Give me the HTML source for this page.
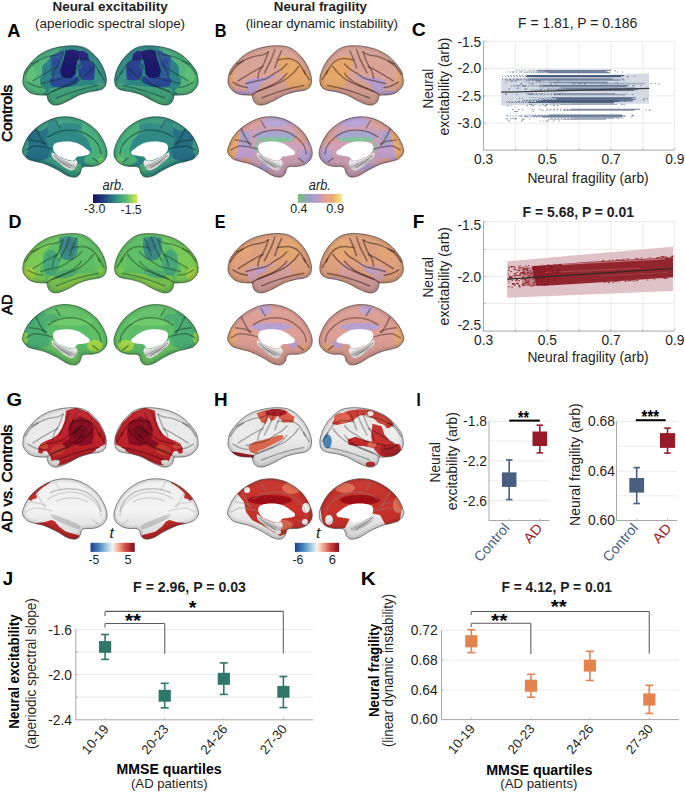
<!DOCTYPE html><html><head><meta charset="utf-8"><style>html,body{margin:0;padding:0;background:#fff;}svg{display:block;font-family:"Liberation Sans",sans-serif;}</style></head><body>
<svg width="685" height="793" viewBox="0 0 685 793">
<rect x="0.00" y="0.00" width="685.00" height="793.00" fill="#ffffff" />
<defs>
<filter id="bl" x="-20%" y="-20%" width="140%" height="140%"><feGaussianBlur stdDeviation="0.6"/></filter>
<filter id="bl2" x="-20%" y="-20%" width="140%" height="140%"><feGaussianBlur stdDeviation="1.6"/></filter>
<filter id="bl3" x="-20%" y="-20%" width="140%" height="140%"><feGaussianBlur stdDeviation="0.45"/></filter>
<linearGradient id="vshade" x1="0" y1="0" x2="0" y2="1"><stop offset="0" stop-color="#fff" stop-opacity="0.06"/><stop offset="0.5" stop-color="#000" stop-opacity="0"/><stop offset="1" stop-color="#000" stop-opacity="0.12"/></linearGradient>
<linearGradient id="hipg" x1="0.8" y1="0" x2="0.3" y2="1"><stop offset="0" stop-color="#ffffff"/><stop offset="0.45" stop-color="#e4e4e4"/><stop offset="0.62" stop-color="#b0b0b0"/><stop offset="0.75" stop-color="#d4d4d4"/><stop offset="1" stop-color="#fafafa"/></linearGradient>
</defs>
<g transform="translate(0.00 0.00)">
<clipPath id="cp1"><path d="M22.90,80.10 C23.08,78.15 23.47,74.77 24.30,72.50 C25.13,70.23 26.37,68.58 27.90,66.50 C29.43,64.42 31.40,62.05 33.50,60.00 C35.60,57.95 37.72,55.97 40.50,54.20 C43.28,52.43 46.38,50.72 50.20,49.40 C54.02,48.08 59.23,46.90 63.40,46.30 C67.57,45.70 71.48,45.48 75.20,45.80 C78.92,46.12 82.42,46.58 85.70,48.20 C88.98,49.82 92.27,52.78 94.90,55.50 C97.53,58.22 99.75,61.42 101.50,64.50 C103.25,67.58 104.60,71.18 105.40,74.00 C106.20,76.82 106.48,79.18 106.30,81.40 C106.12,83.62 105.55,85.82 104.30,87.30 C103.05,88.78 101.25,89.55 98.80,90.30 C96.35,91.05 92.88,91.02 89.60,91.80 C86.32,92.58 82.38,93.63 79.10,95.00 C75.82,96.37 73.00,98.47 69.90,100.00 C66.80,101.53 63.12,103.37 60.50,104.20 C57.88,105.03 56.02,105.27 54.20,105.00 C52.38,104.73 50.70,103.67 49.60,102.60 C48.50,101.53 48.07,99.80 47.60,98.60 C47.13,97.40 47.65,95.98 46.80,95.40 C45.95,94.82 44.38,95.25 42.50,95.10 C40.62,94.95 37.62,94.95 35.50,94.50 C33.38,94.05 31.48,93.42 29.80,92.40 C28.12,91.38 26.50,89.77 25.40,88.40 C24.30,87.03 23.62,85.58 23.20,84.20 C22.78,82.82 22.72,82.05 22.90,80.10 Z"/></clipPath>
<g clip-path="url(#cp1)">
<path d="M22.90,80.10 C23.08,78.15 23.47,74.77 24.30,72.50 C25.13,70.23 26.37,68.58 27.90,66.50 C29.43,64.42 31.40,62.05 33.50,60.00 C35.60,57.95 37.72,55.97 40.50,54.20 C43.28,52.43 46.38,50.72 50.20,49.40 C54.02,48.08 59.23,46.90 63.40,46.30 C67.57,45.70 71.48,45.48 75.20,45.80 C78.92,46.12 82.42,46.58 85.70,48.20 C88.98,49.82 92.27,52.78 94.90,55.50 C97.53,58.22 99.75,61.42 101.50,64.50 C103.25,67.58 104.60,71.18 105.40,74.00 C106.20,76.82 106.48,79.18 106.30,81.40 C106.12,83.62 105.55,85.82 104.30,87.30 C103.05,88.78 101.25,89.55 98.80,90.30 C96.35,91.05 92.88,91.02 89.60,91.80 C86.32,92.58 82.38,93.63 79.10,95.00 C75.82,96.37 73.00,98.47 69.90,100.00 C66.80,101.53 63.12,103.37 60.50,104.20 C57.88,105.03 56.02,105.27 54.20,105.00 C52.38,104.73 50.70,103.67 49.60,102.60 C48.50,101.53 48.07,99.80 47.60,98.60 C47.13,97.40 47.65,95.98 46.80,95.40 C45.95,94.82 44.38,95.25 42.50,95.10 C40.62,94.95 37.62,94.95 35.50,94.50 C33.38,94.05 31.48,93.42 29.80,92.40 C28.12,91.38 26.50,89.77 25.40,88.40 C24.30,87.03 23.62,85.58 23.20,84.20 C22.78,82.82 22.72,82.05 22.90,80.10 Z" fill="#2e8985"/>
<g filter="url(#bl)">
<polygon points="21.9,80.1 24.3,70.9 29.5,63 37.4,55.5 50.2,49.5 59.4,46.9 58.1,52.5 51.5,56.5 46.3,61.7 42.3,67 43.7,73.5 39.7,78.8 41,85.4 46.3,90.6 41,96.5 27.9,94" fill="#55b87b" opacity="1"/>
<polygon points="37,55 50,49 60,46.5 62,49 56,52 50,55 44,59 38,62" fill="#4aad7d" opacity="1"/>
<polygon points="50.2,56 56,53 62,50.5 65,50.5 63,58 61,66 60.4,72 61,76 55,78 51,76 50.5,66" fill="#2d5c96" opacity="1"/>
<polygon points="79.5,60 84,61 89,60 94,64 97,72 96,79 90,80.5 83,80 79,76 78,70 80.5,66" fill="#2a4394" opacity="1"/>
<polygon points="50,78 55,78 61,76.5 66,78.5 72,78 76,76 79,78 78,83 70,86.5 60,87.5 52,86.5 49.5,82" fill="#2b4b9a" opacity="1"/>
<polygon points="79,80 90,80.5 96,80 98,85 90,86 80,87 77,84" fill="#2f8a88" opacity="1"/>
<polygon points="65.5,50.5 72,49.5 78.8,51 79.5,57 77,62 76,68 75.8,74 72,77.8 66,78.5 61,76 60.4,70 62,64 64,58" fill="#1d1672" opacity="1"/>
<polygon points="78.8,51 84,51 88,54 89,60 84,61 79.5,60" fill="#24217f" opacity="1"/>
<ellipse cx="79.5" cy="65.5" rx="2.8" ry="3.2" fill="#2c6a8a" transform="rotate(0 79.5 65.5)" opacity="1"/>
<polygon points="50,88 60,87.5 70,87 80,86 90,85 98,86 96,90 86,92 78,95 70,99 62,103 55,106.5 48,103 46.5,97 47,93" fill="#44a880" opacity="1"/>
<ellipse cx="62" cy="100" rx="10" ry="3" fill="#50b47c" transform="rotate(-25 62 100)" opacity="1"/>
<polygon points="94,56 100,61 108,75 108,90 98,90 94,82 95,68" fill="#379687" opacity="1"/>
<ellipse cx="101" cy="86" rx="5" ry="3" fill="#4caa7e" transform="rotate(0 101 86)" opacity="1"/>
<ellipse cx="31" cy="75" rx="5" ry="9" fill="#60c07a" transform="rotate(0 31 75)" opacity="1"/>
<ellipse cx="46" cy="72" rx="4" ry="9" fill="#2e8088" transform="rotate(0 46 72)" opacity="1"/>
<ellipse cx="56" cy="62" rx="3" ry="4" fill="#2a4a9a" transform="rotate(0 56 62)" opacity="1"/>
<ellipse cx="90" cy="72" rx="3" ry="4" fill="#2a3c8e" transform="rotate(0 90 72)" opacity="1"/>
</g>
<path d="M31.60,63.90 C34.02,62.80 41.72,58.83 46.10,57.30 C50.48,55.77 55.05,55.58 57.90,54.70 C60.75,53.82 62.32,52.45 63.20,52.00 " fill="none" stroke="#0e2e2a" stroke-width="1.5" opacity="0.38" stroke-linecap="round" filter="url(#bl3)"/>
<path d="M33.00,80.90 C34.75,79.82 40.23,76.37 43.50,74.40 C46.77,72.43 50.20,70.42 52.60,69.10 C55.00,67.78 57.02,66.93 57.90,66.50 " fill="none" stroke="#0e2e2a" stroke-width="1.5" opacity="0.38" stroke-linecap="round" filter="url(#bl3)"/>
<path d="M63.20,52.00 C62.53,53.75 60.73,59.22 59.20,62.50 C57.67,65.78 55.10,69.07 54.00,71.70 C52.90,74.33 52.83,77.20 52.60,78.30 " fill="none" stroke="#0e2e2a" stroke-width="1.5" opacity="0.38" stroke-linecap="round" filter="url(#bl3)"/>
<path d="M69.70,49.40 C69.05,51.15 67.12,56.83 65.80,59.90 C64.48,62.97 62.90,65.62 61.80,67.80 C60.70,69.98 59.63,72.13 59.20,73.00 " fill="none" stroke="#0e2e2a" stroke-width="1.5" opacity="0.38" stroke-linecap="round" filter="url(#bl3)"/>
<path d="M76.30,50.70 C75.65,52.23 73.50,57.05 72.40,59.90 C71.30,62.75 70.15,66.48 69.70,67.80 " fill="none" stroke="#0e2e2a" stroke-width="1.5" opacity="0.38" stroke-linecap="round" filter="url(#bl3)"/>
<path d="M40.80,83.60 C42.55,83.17 47.80,81.88 51.30,81.00 C54.80,80.12 58.73,79.63 61.80,78.30 C64.87,76.97 67.28,74.53 69.70,73.00 C72.12,71.47 74.32,70.62 76.30,69.10 C78.28,67.58 80.72,64.77 81.60,63.90 " fill="none" stroke="#0e2e2a" stroke-width="1.5" opacity="0.38" stroke-linecap="round" filter="url(#bl3)"/>
<path d="M52.60,91.40 C54.80,90.53 61.42,88.05 65.80,86.20 C70.18,84.35 75.18,82.50 78.90,80.30 C82.62,78.10 85.68,75.30 88.10,73.00 C90.52,70.70 92.52,67.58 93.40,66.50 " fill="none" stroke="#0e2e2a" stroke-width="1.5" opacity="0.38" stroke-linecap="round" filter="url(#bl3)"/>
<path d="M47.00,94.80 C47.83,94.25 49.97,92.57 52.00,91.50 C54.03,90.43 56.87,89.40 59.20,88.40 C61.53,87.40 63.80,86.57 66.00,85.50 C68.20,84.43 70.40,83.33 72.40,82.00 C74.40,80.67 76.47,78.93 78.00,77.50 C79.53,76.07 81.00,74.08 81.60,73.40 " fill="none" stroke="#0e2e2a" stroke-width="1.5" opacity="0.38" stroke-linecap="round" filter="url(#bl3)"/>
<path d="M72.40,59.90 C74.15,59.68 79.83,58.38 82.90,58.60 C85.97,58.82 88.62,59.88 90.80,61.20 C92.98,62.52 94.47,64.30 96.00,66.50 C97.53,68.70 99.33,73.08 100.00,74.40 " fill="none" stroke="#0e2e2a" stroke-width="1.5" opacity="0.38" stroke-linecap="round" filter="url(#bl3)"/>
<path d="M56.60,98.00 C59.23,97.02 67.58,93.73 72.40,92.10 C77.22,90.47 81.13,89.30 85.50,88.20 C89.87,87.10 96.42,85.95 98.60,85.50 " fill="none" stroke="#0e2e2a" stroke-width="1.5" opacity="0.38" stroke-linecap="round" filter="url(#bl3)"/>
<path d="M98.60,70.40 C99.48,71.93 103.02,78.07 103.90,79.60 " fill="none" stroke="#0e2e2a" stroke-width="1.5" opacity="0.38" stroke-linecap="round" filter="url(#bl3)"/>
<path d="M25.00,74.40 C25.88,73.08 28.10,68.70 30.30,66.50 C32.50,64.30 36.88,62.08 38.20,61.20 " fill="none" stroke="#0e2e2a" stroke-width="1.5" opacity="0.38" stroke-linecap="round" filter="url(#bl3)"/>
<path d="M27.70,82.20 C29.02,82.87 33.20,85.32 35.60,86.20 C38.00,87.08 41.02,87.28 42.10,87.50 " fill="none" stroke="#0e2e2a" stroke-width="1.5" opacity="0.38" stroke-linecap="round" filter="url(#bl3)"/>
<path d="M22.90,80.10 C23.08,78.15 23.47,74.77 24.30,72.50 C25.13,70.23 26.37,68.58 27.90,66.50 C29.43,64.42 31.40,62.05 33.50,60.00 C35.60,57.95 37.72,55.97 40.50,54.20 C43.28,52.43 46.38,50.72 50.20,49.40 C54.02,48.08 59.23,46.90 63.40,46.30 C67.57,45.70 71.48,45.48 75.20,45.80 C78.92,46.12 82.42,46.58 85.70,48.20 C88.98,49.82 92.27,52.78 94.90,55.50 C97.53,58.22 99.75,61.42 101.50,64.50 C103.25,67.58 104.60,71.18 105.40,74.00 C106.20,76.82 106.48,79.18 106.30,81.40 C106.12,83.62 105.55,85.82 104.30,87.30 C103.05,88.78 101.25,89.55 98.80,90.30 C96.35,91.05 92.88,91.02 89.60,91.80 C86.32,92.58 82.38,93.63 79.10,95.00 C75.82,96.37 73.00,98.47 69.90,100.00 C66.80,101.53 63.12,103.37 60.50,104.20 C57.88,105.03 56.02,105.27 54.20,105.00 C52.38,104.73 50.70,103.67 49.60,102.60 C48.50,101.53 48.07,99.80 47.60,98.60 C47.13,97.40 47.65,95.98 46.80,95.40 C45.95,94.82 44.38,95.25 42.50,95.10 C40.62,94.95 37.62,94.95 35.50,94.50 C33.38,94.05 31.48,93.42 29.80,92.40 C28.12,91.38 26.50,89.77 25.40,88.40 C24.30,87.03 23.62,85.58 23.20,84.20 C22.78,82.82 22.72,82.05 22.90,80.10 Z" fill="url(#vshade)"/>
<path d="M22.90,80.10 C23.08,78.15 23.47,74.77 24.30,72.50 C25.13,70.23 26.37,68.58 27.90,66.50 C29.43,64.42 31.40,62.05 33.50,60.00 C35.60,57.95 37.72,55.97 40.50,54.20 C43.28,52.43 46.38,50.72 50.20,49.40 C54.02,48.08 59.23,46.90 63.40,46.30 C67.57,45.70 71.48,45.48 75.20,45.80 C78.92,46.12 82.42,46.58 85.70,48.20 C88.98,49.82 92.27,52.78 94.90,55.50 C97.53,58.22 99.75,61.42 101.50,64.50 C103.25,67.58 104.60,71.18 105.40,74.00 C106.20,76.82 106.48,79.18 106.30,81.40 C106.12,83.62 105.55,85.82 104.30,87.30 C103.05,88.78 101.25,89.55 98.80,90.30 C96.35,91.05 92.88,91.02 89.60,91.80 C86.32,92.58 82.38,93.63 79.10,95.00 C75.82,96.37 73.00,98.47 69.90,100.00 C66.80,101.53 63.12,103.37 60.50,104.20 C57.88,105.03 56.02,105.27 54.20,105.00 C52.38,104.73 50.70,103.67 49.60,102.60 C48.50,101.53 48.07,99.80 47.60,98.60 C47.13,97.40 47.65,95.98 46.80,95.40 C45.95,94.82 44.38,95.25 42.50,95.10 C40.62,94.95 37.62,94.95 35.50,94.50 C33.38,94.05 31.48,93.42 29.80,92.40 C28.12,91.38 26.50,89.77 25.40,88.40 C24.30,87.03 23.62,85.58 23.20,84.20 C22.78,82.82 22.72,82.05 22.90,80.10 Z" fill="none" stroke="#000" stroke-width="4" opacity="0.140" filter="url(#bl2)"/>
</g>
<path d="M22.90,80.10 C23.08,78.15 23.47,74.77 24.30,72.50 C25.13,70.23 26.37,68.58 27.90,66.50 C29.43,64.42 31.40,62.05 33.50,60.00 C35.60,57.95 37.72,55.97 40.50,54.20 C43.28,52.43 46.38,50.72 50.20,49.40 C54.02,48.08 59.23,46.90 63.40,46.30 C67.57,45.70 71.48,45.48 75.20,45.80 C78.92,46.12 82.42,46.58 85.70,48.20 C88.98,49.82 92.27,52.78 94.90,55.50 C97.53,58.22 99.75,61.42 101.50,64.50 C103.25,67.58 104.60,71.18 105.40,74.00 C106.20,76.82 106.48,79.18 106.30,81.40 C106.12,83.62 105.55,85.82 104.30,87.30 C103.05,88.78 101.25,89.55 98.80,90.30 C96.35,91.05 92.88,91.02 89.60,91.80 C86.32,92.58 82.38,93.63 79.10,95.00 C75.82,96.37 73.00,98.47 69.90,100.00 C66.80,101.53 63.12,103.37 60.50,104.20 C57.88,105.03 56.02,105.27 54.20,105.00 C52.38,104.73 50.70,103.67 49.60,102.60 C48.50,101.53 48.07,99.80 47.60,98.60 C47.13,97.40 47.65,95.98 46.80,95.40 C45.95,94.82 44.38,95.25 42.50,95.10 C40.62,94.95 37.62,94.95 35.50,94.50 C33.38,94.05 31.48,93.42 29.80,92.40 C28.12,91.38 26.50,89.77 25.40,88.40 C24.30,87.03 23.62,85.58 23.20,84.20 C22.78,82.82 22.72,82.05 22.90,80.10 Z" fill="none" stroke="#173f3a" stroke-width="0.8" opacity="0.85"/>
</g>
<g transform="translate(221.00 0.00) scale(-1 1)">
<clipPath id="cp2"><path d="M22.90,80.10 C23.08,78.15 23.47,74.77 24.30,72.50 C25.13,70.23 26.37,68.58 27.90,66.50 C29.43,64.42 31.40,62.05 33.50,60.00 C35.60,57.95 37.72,55.97 40.50,54.20 C43.28,52.43 46.38,50.72 50.20,49.40 C54.02,48.08 59.23,46.90 63.40,46.30 C67.57,45.70 71.48,45.48 75.20,45.80 C78.92,46.12 82.42,46.58 85.70,48.20 C88.98,49.82 92.27,52.78 94.90,55.50 C97.53,58.22 99.75,61.42 101.50,64.50 C103.25,67.58 104.60,71.18 105.40,74.00 C106.20,76.82 106.48,79.18 106.30,81.40 C106.12,83.62 105.55,85.82 104.30,87.30 C103.05,88.78 101.25,89.55 98.80,90.30 C96.35,91.05 92.88,91.02 89.60,91.80 C86.32,92.58 82.38,93.63 79.10,95.00 C75.82,96.37 73.00,98.47 69.90,100.00 C66.80,101.53 63.12,103.37 60.50,104.20 C57.88,105.03 56.02,105.27 54.20,105.00 C52.38,104.73 50.70,103.67 49.60,102.60 C48.50,101.53 48.07,99.80 47.60,98.60 C47.13,97.40 47.65,95.98 46.80,95.40 C45.95,94.82 44.38,95.25 42.50,95.10 C40.62,94.95 37.62,94.95 35.50,94.50 C33.38,94.05 31.48,93.42 29.80,92.40 C28.12,91.38 26.50,89.77 25.40,88.40 C24.30,87.03 23.62,85.58 23.20,84.20 C22.78,82.82 22.72,82.05 22.90,80.10 Z"/></clipPath>
<g clip-path="url(#cp2)">
<path d="M22.90,80.10 C23.08,78.15 23.47,74.77 24.30,72.50 C25.13,70.23 26.37,68.58 27.90,66.50 C29.43,64.42 31.40,62.05 33.50,60.00 C35.60,57.95 37.72,55.97 40.50,54.20 C43.28,52.43 46.38,50.72 50.20,49.40 C54.02,48.08 59.23,46.90 63.40,46.30 C67.57,45.70 71.48,45.48 75.20,45.80 C78.92,46.12 82.42,46.58 85.70,48.20 C88.98,49.82 92.27,52.78 94.90,55.50 C97.53,58.22 99.75,61.42 101.50,64.50 C103.25,67.58 104.60,71.18 105.40,74.00 C106.20,76.82 106.48,79.18 106.30,81.40 C106.12,83.62 105.55,85.82 104.30,87.30 C103.05,88.78 101.25,89.55 98.80,90.30 C96.35,91.05 92.88,91.02 89.60,91.80 C86.32,92.58 82.38,93.63 79.10,95.00 C75.82,96.37 73.00,98.47 69.90,100.00 C66.80,101.53 63.12,103.37 60.50,104.20 C57.88,105.03 56.02,105.27 54.20,105.00 C52.38,104.73 50.70,103.67 49.60,102.60 C48.50,101.53 48.07,99.80 47.60,98.60 C47.13,97.40 47.65,95.98 46.80,95.40 C45.95,94.82 44.38,95.25 42.50,95.10 C40.62,94.95 37.62,94.95 35.50,94.50 C33.38,94.05 31.48,93.42 29.80,92.40 C28.12,91.38 26.50,89.77 25.40,88.40 C24.30,87.03 23.62,85.58 23.20,84.20 C22.78,82.82 22.72,82.05 22.90,80.10 Z" fill="#2e8985"/>
<g filter="url(#bl)">
<polygon points="21.9,80.1 24.3,70.9 29.5,63 37.4,55.5 50.2,49.5 59.4,46.9 58.1,52.5 51.5,56.5 46.3,61.7 42.3,67 43.7,73.5 39.7,78.8 41,85.4 46.3,90.6 41,96.5 27.9,94" fill="#55b87b" opacity="1"/>
<polygon points="37,55 50,49 60,46.5 62,49 56,52 50,55 44,59 38,62" fill="#4aad7d" opacity="1"/>
<polygon points="50.2,56 56,53 62,50.5 65,50.5 63,58 61,66 60.4,72 61,76 55,78 51,76 50.5,66" fill="#2d5c96" opacity="1"/>
<polygon points="79.5,60 84,61 89,60 94,64 97,72 96,79 90,80.5 83,80 79,76 78,70 80.5,66" fill="#2a4394" opacity="1"/>
<polygon points="50,78 55,78 61,76.5 66,78.5 72,78 76,76 79,78 78,83 70,86.5 60,87.5 52,86.5 49.5,82" fill="#2b4b9a" opacity="1"/>
<polygon points="79,80 90,80.5 96,80 98,85 90,86 80,87 77,84" fill="#2f8a88" opacity="1"/>
<polygon points="65.5,50.5 72,49.5 78.8,51 79.5,57 77,62 76,68 75.8,74 72,77.8 66,78.5 61,76 60.4,70 62,64 64,58" fill="#1d1672" opacity="1"/>
<polygon points="78.8,51 84,51 88,54 89,60 84,61 79.5,60" fill="#24217f" opacity="1"/>
<ellipse cx="79.5" cy="65.5" rx="2.8" ry="3.2" fill="#2c6a8a" transform="rotate(0 79.5 65.5)" opacity="1"/>
<polygon points="50,88 60,87.5 70,87 80,86 90,85 98,86 96,90 86,92 78,95 70,99 62,103 55,106.5 48,103 46.5,97 47,93" fill="#44a880" opacity="1"/>
<ellipse cx="62" cy="100" rx="10" ry="3" fill="#50b47c" transform="rotate(-25 62 100)" opacity="1"/>
<polygon points="94,56 100,61 108,75 108,90 98,90 94,82 95,68" fill="#379687" opacity="1"/>
<ellipse cx="101" cy="86" rx="5" ry="3" fill="#4caa7e" transform="rotate(0 101 86)" opacity="1"/>
<ellipse cx="31" cy="75" rx="5" ry="9" fill="#60c07a" transform="rotate(0 31 75)" opacity="1"/>
<ellipse cx="46" cy="72" rx="4" ry="9" fill="#2e8088" transform="rotate(0 46 72)" opacity="1"/>
<ellipse cx="56" cy="62" rx="3" ry="4" fill="#2a4a9a" transform="rotate(0 56 62)" opacity="1"/>
<ellipse cx="90" cy="72" rx="3" ry="4" fill="#2a3c8e" transform="rotate(0 90 72)" opacity="1"/>
</g>
<path d="M31.60,63.90 C34.02,62.80 41.72,58.83 46.10,57.30 C50.48,55.77 55.05,55.58 57.90,54.70 C60.75,53.82 62.32,52.45 63.20,52.00 " fill="none" stroke="#0e2e2a" stroke-width="1.5" opacity="0.38" stroke-linecap="round" filter="url(#bl3)"/>
<path d="M33.00,80.90 C34.75,79.82 40.23,76.37 43.50,74.40 C46.77,72.43 50.20,70.42 52.60,69.10 C55.00,67.78 57.02,66.93 57.90,66.50 " fill="none" stroke="#0e2e2a" stroke-width="1.5" opacity="0.38" stroke-linecap="round" filter="url(#bl3)"/>
<path d="M63.20,52.00 C62.53,53.75 60.73,59.22 59.20,62.50 C57.67,65.78 55.10,69.07 54.00,71.70 C52.90,74.33 52.83,77.20 52.60,78.30 " fill="none" stroke="#0e2e2a" stroke-width="1.5" opacity="0.38" stroke-linecap="round" filter="url(#bl3)"/>
<path d="M69.70,49.40 C69.05,51.15 67.12,56.83 65.80,59.90 C64.48,62.97 62.90,65.62 61.80,67.80 C60.70,69.98 59.63,72.13 59.20,73.00 " fill="none" stroke="#0e2e2a" stroke-width="1.5" opacity="0.38" stroke-linecap="round" filter="url(#bl3)"/>
<path d="M76.30,50.70 C75.65,52.23 73.50,57.05 72.40,59.90 C71.30,62.75 70.15,66.48 69.70,67.80 " fill="none" stroke="#0e2e2a" stroke-width="1.5" opacity="0.38" stroke-linecap="round" filter="url(#bl3)"/>
<path d="M40.80,83.60 C42.55,83.17 47.80,81.88 51.30,81.00 C54.80,80.12 58.73,79.63 61.80,78.30 C64.87,76.97 67.28,74.53 69.70,73.00 C72.12,71.47 74.32,70.62 76.30,69.10 C78.28,67.58 80.72,64.77 81.60,63.90 " fill="none" stroke="#0e2e2a" stroke-width="1.5" opacity="0.38" stroke-linecap="round" filter="url(#bl3)"/>
<path d="M52.60,91.40 C54.80,90.53 61.42,88.05 65.80,86.20 C70.18,84.35 75.18,82.50 78.90,80.30 C82.62,78.10 85.68,75.30 88.10,73.00 C90.52,70.70 92.52,67.58 93.40,66.50 " fill="none" stroke="#0e2e2a" stroke-width="1.5" opacity="0.38" stroke-linecap="round" filter="url(#bl3)"/>
<path d="M47.00,94.80 C47.83,94.25 49.97,92.57 52.00,91.50 C54.03,90.43 56.87,89.40 59.20,88.40 C61.53,87.40 63.80,86.57 66.00,85.50 C68.20,84.43 70.40,83.33 72.40,82.00 C74.40,80.67 76.47,78.93 78.00,77.50 C79.53,76.07 81.00,74.08 81.60,73.40 " fill="none" stroke="#0e2e2a" stroke-width="1.5" opacity="0.38" stroke-linecap="round" filter="url(#bl3)"/>
<path d="M72.40,59.90 C74.15,59.68 79.83,58.38 82.90,58.60 C85.97,58.82 88.62,59.88 90.80,61.20 C92.98,62.52 94.47,64.30 96.00,66.50 C97.53,68.70 99.33,73.08 100.00,74.40 " fill="none" stroke="#0e2e2a" stroke-width="1.5" opacity="0.38" stroke-linecap="round" filter="url(#bl3)"/>
<path d="M56.60,98.00 C59.23,97.02 67.58,93.73 72.40,92.10 C77.22,90.47 81.13,89.30 85.50,88.20 C89.87,87.10 96.42,85.95 98.60,85.50 " fill="none" stroke="#0e2e2a" stroke-width="1.5" opacity="0.38" stroke-linecap="round" filter="url(#bl3)"/>
<path d="M98.60,70.40 C99.48,71.93 103.02,78.07 103.90,79.60 " fill="none" stroke="#0e2e2a" stroke-width="1.5" opacity="0.38" stroke-linecap="round" filter="url(#bl3)"/>
<path d="M25.00,74.40 C25.88,73.08 28.10,68.70 30.30,66.50 C32.50,64.30 36.88,62.08 38.20,61.20 " fill="none" stroke="#0e2e2a" stroke-width="1.5" opacity="0.38" stroke-linecap="round" filter="url(#bl3)"/>
<path d="M27.70,82.20 C29.02,82.87 33.20,85.32 35.60,86.20 C38.00,87.08 41.02,87.28 42.10,87.50 " fill="none" stroke="#0e2e2a" stroke-width="1.5" opacity="0.38" stroke-linecap="round" filter="url(#bl3)"/>
<path d="M22.90,80.10 C23.08,78.15 23.47,74.77 24.30,72.50 C25.13,70.23 26.37,68.58 27.90,66.50 C29.43,64.42 31.40,62.05 33.50,60.00 C35.60,57.95 37.72,55.97 40.50,54.20 C43.28,52.43 46.38,50.72 50.20,49.40 C54.02,48.08 59.23,46.90 63.40,46.30 C67.57,45.70 71.48,45.48 75.20,45.80 C78.92,46.12 82.42,46.58 85.70,48.20 C88.98,49.82 92.27,52.78 94.90,55.50 C97.53,58.22 99.75,61.42 101.50,64.50 C103.25,67.58 104.60,71.18 105.40,74.00 C106.20,76.82 106.48,79.18 106.30,81.40 C106.12,83.62 105.55,85.82 104.30,87.30 C103.05,88.78 101.25,89.55 98.80,90.30 C96.35,91.05 92.88,91.02 89.60,91.80 C86.32,92.58 82.38,93.63 79.10,95.00 C75.82,96.37 73.00,98.47 69.90,100.00 C66.80,101.53 63.12,103.37 60.50,104.20 C57.88,105.03 56.02,105.27 54.20,105.00 C52.38,104.73 50.70,103.67 49.60,102.60 C48.50,101.53 48.07,99.80 47.60,98.60 C47.13,97.40 47.65,95.98 46.80,95.40 C45.95,94.82 44.38,95.25 42.50,95.10 C40.62,94.95 37.62,94.95 35.50,94.50 C33.38,94.05 31.48,93.42 29.80,92.40 C28.12,91.38 26.50,89.77 25.40,88.40 C24.30,87.03 23.62,85.58 23.20,84.20 C22.78,82.82 22.72,82.05 22.90,80.10 Z" fill="url(#vshade)"/>
<path d="M22.90,80.10 C23.08,78.15 23.47,74.77 24.30,72.50 C25.13,70.23 26.37,68.58 27.90,66.50 C29.43,64.42 31.40,62.05 33.50,60.00 C35.60,57.95 37.72,55.97 40.50,54.20 C43.28,52.43 46.38,50.72 50.20,49.40 C54.02,48.08 59.23,46.90 63.40,46.30 C67.57,45.70 71.48,45.48 75.20,45.80 C78.92,46.12 82.42,46.58 85.70,48.20 C88.98,49.82 92.27,52.78 94.90,55.50 C97.53,58.22 99.75,61.42 101.50,64.50 C103.25,67.58 104.60,71.18 105.40,74.00 C106.20,76.82 106.48,79.18 106.30,81.40 C106.12,83.62 105.55,85.82 104.30,87.30 C103.05,88.78 101.25,89.55 98.80,90.30 C96.35,91.05 92.88,91.02 89.60,91.80 C86.32,92.58 82.38,93.63 79.10,95.00 C75.82,96.37 73.00,98.47 69.90,100.00 C66.80,101.53 63.12,103.37 60.50,104.20 C57.88,105.03 56.02,105.27 54.20,105.00 C52.38,104.73 50.70,103.67 49.60,102.60 C48.50,101.53 48.07,99.80 47.60,98.60 C47.13,97.40 47.65,95.98 46.80,95.40 C45.95,94.82 44.38,95.25 42.50,95.10 C40.62,94.95 37.62,94.95 35.50,94.50 C33.38,94.05 31.48,93.42 29.80,92.40 C28.12,91.38 26.50,89.77 25.40,88.40 C24.30,87.03 23.62,85.58 23.20,84.20 C22.78,82.82 22.72,82.05 22.90,80.10 Z" fill="none" stroke="#000" stroke-width="4" opacity="0.140" filter="url(#bl2)"/>
</g>
<path d="M22.90,80.10 C23.08,78.15 23.47,74.77 24.30,72.50 C25.13,70.23 26.37,68.58 27.90,66.50 C29.43,64.42 31.40,62.05 33.50,60.00 C35.60,57.95 37.72,55.97 40.50,54.20 C43.28,52.43 46.38,50.72 50.20,49.40 C54.02,48.08 59.23,46.90 63.40,46.30 C67.57,45.70 71.48,45.48 75.20,45.80 C78.92,46.12 82.42,46.58 85.70,48.20 C88.98,49.82 92.27,52.78 94.90,55.50 C97.53,58.22 99.75,61.42 101.50,64.50 C103.25,67.58 104.60,71.18 105.40,74.00 C106.20,76.82 106.48,79.18 106.30,81.40 C106.12,83.62 105.55,85.82 104.30,87.30 C103.05,88.78 101.25,89.55 98.80,90.30 C96.35,91.05 92.88,91.02 89.60,91.80 C86.32,92.58 82.38,93.63 79.10,95.00 C75.82,96.37 73.00,98.47 69.90,100.00 C66.80,101.53 63.12,103.37 60.50,104.20 C57.88,105.03 56.02,105.27 54.20,105.00 C52.38,104.73 50.70,103.67 49.60,102.60 C48.50,101.53 48.07,99.80 47.60,98.60 C47.13,97.40 47.65,95.98 46.80,95.40 C45.95,94.82 44.38,95.25 42.50,95.10 C40.62,94.95 37.62,94.95 35.50,94.50 C33.38,94.05 31.48,93.42 29.80,92.40 C28.12,91.38 26.50,89.77 25.40,88.40 C24.30,87.03 23.62,85.58 23.20,84.20 C22.78,82.82 22.72,82.05 22.90,80.10 Z" fill="none" stroke="#173f3a" stroke-width="0.8" opacity="0.85"/>
</g>
<g transform="translate(0.00 0.00)">
<clipPath id="cp3"><path d="M22.60,152.30 C22.02,150.12 22.98,147.92 23.80,145.50 C24.62,143.08 25.88,140.30 27.50,137.80 C29.12,135.30 30.85,132.95 33.50,130.50 C36.15,128.05 39.57,125.25 43.40,123.10 C47.23,120.95 51.88,118.58 56.50,117.60 C61.12,116.62 66.48,116.55 71.10,117.20 C75.72,117.85 80.07,119.37 84.20,121.50 C88.33,123.63 92.73,126.83 95.90,130.00 C99.07,133.17 101.37,137.02 103.20,140.50 C105.03,143.98 106.45,147.95 106.90,150.90 C107.35,153.85 106.95,156.05 105.90,158.20 C104.85,160.35 102.72,162.45 100.60,163.80 C98.48,165.15 95.77,165.85 93.20,166.30 C90.63,166.75 87.15,166.13 85.20,166.50 C83.25,166.87 82.37,167.33 81.50,168.50 C80.63,169.67 80.83,172.12 80.00,173.50 C79.17,174.88 78.00,176.25 76.50,176.80 C75.00,177.35 72.92,177.20 71.00,176.80 C69.08,176.40 67.33,175.62 65.00,174.40 C62.67,173.18 60.33,171.25 57.00,169.50 C53.67,167.75 48.73,165.28 45.00,163.90 C41.27,162.52 37.55,162.08 34.60,161.20 C31.65,160.32 29.30,160.08 27.30,158.60 C25.30,157.12 23.18,154.48 22.60,152.30 Z"/></clipPath>
<g clip-path="url(#cp3)">
<path d="M22.60,152.30 C22.02,150.12 22.98,147.92 23.80,145.50 C24.62,143.08 25.88,140.30 27.50,137.80 C29.12,135.30 30.85,132.95 33.50,130.50 C36.15,128.05 39.57,125.25 43.40,123.10 C47.23,120.95 51.88,118.58 56.50,117.60 C61.12,116.62 66.48,116.55 71.10,117.20 C75.72,117.85 80.07,119.37 84.20,121.50 C88.33,123.63 92.73,126.83 95.90,130.00 C99.07,133.17 101.37,137.02 103.20,140.50 C105.03,143.98 106.45,147.95 106.90,150.90 C107.35,153.85 106.95,156.05 105.90,158.20 C104.85,160.35 102.72,162.45 100.60,163.80 C98.48,165.15 95.77,165.85 93.20,166.30 C90.63,166.75 87.15,166.13 85.20,166.50 C83.25,166.87 82.37,167.33 81.50,168.50 C80.63,169.67 80.83,172.12 80.00,173.50 C79.17,174.88 78.00,176.25 76.50,176.80 C75.00,177.35 72.92,177.20 71.00,176.80 C69.08,176.40 67.33,175.62 65.00,174.40 C62.67,173.18 60.33,171.25 57.00,169.50 C53.67,167.75 48.73,165.28 45.00,163.90 C41.27,162.52 37.55,162.08 34.60,161.20 C31.65,160.32 29.30,160.08 27.30,158.60 C25.30,157.12 23.18,154.48 22.60,152.30 Z" fill="#2f8a87"/>
<g filter="url(#bl)">
<polygon points="56.5,116.6 71.1,116.2 84.2,120.5 95.9,129 103.2,139.5 107.9,150.9 106.9,158.2 100.6,164.8 91.5,167.3 88,160 92,150 88,140 80,133 70,130 60,128 55,122" fill="#3c9f83" opacity="1"/>
<polygon points="82,120 95.9,129 103.2,139.5 107.9,150.9 106.9,158.2 100.6,164.8 91.5,167.3 88,160 92,150 88,140 82,133" fill="#4ab27d" opacity="1"/>
<polygon points="21.6,152.3 22.8,145.5 26.5,137.8 32.5,129.5 43.4,122.1 48,130 46,140 50,150 48,158 34.6,162.8 26.3,159.4" fill="#286f88" opacity="1"/>
<polygon points="44,161 52,163 60,168 68,173.5 74,178 80,177 82.5,170.5 78,166 70,162 60,158 50,157" fill="#3aa083" opacity="1"/>
<ellipse cx="23.5" cy="153" rx="2.5" ry="6" fill="#6ad070" transform="rotate(0 23.5 153)" opacity="1"/>
<ellipse cx="70" cy="127" rx="12" ry="4" fill="#2f8b87" transform="rotate(0 70 127)" opacity="1"/>
<ellipse cx="100" cy="158" rx="5" ry="5" fill="#58bb78" transform="rotate(0 100 158)" opacity="1"/>
<ellipse cx="78" cy="168" rx="4" ry="4" fill="#4fb57c" transform="rotate(0 78 168)" opacity="1"/>
<ellipse cx="93" cy="160" rx="9" ry="5" fill="#4fb77b" transform="rotate(0 93 160)" opacity="1"/>
<ellipse cx="101" cy="161" rx="4" ry="3.5" fill="#6ccf72" transform="rotate(0 101 161)" opacity="1"/>
<ellipse cx="25" cy="146" rx="3.5" ry="9" fill="#3d9f84" transform="rotate(0 25 146)" opacity="1"/>
<ellipse cx="42" cy="126" rx="7" ry="4" fill="#3a9c84" transform="rotate(-30 42 126)" opacity="1"/>
</g>
<path d="M48.00,137.00 C49.67,136.17 54.33,133.17 58.00,132.00 C61.67,130.83 66.00,130.00 70.00,130.00 C74.00,130.00 78.33,130.67 82.00,132.00 C85.67,133.33 89.17,135.67 92.00,138.00 C94.83,140.33 97.50,143.33 99.00,146.00 C100.50,148.67 100.67,152.67 101.00,154.00 " fill="none" stroke="#0e2e2a" stroke-width="1.5" opacity="0.45" stroke-linecap="round" filter="url(#bl3)"/>
<path d="M26.00,150.00 C27.33,149.33 31.00,146.50 34.00,146.00 C37.00,145.50 41.00,146.50 44.00,147.00 C47.00,147.50 50.67,148.67 52.00,149.00 " fill="none" stroke="#0e2e2a" stroke-width="1.5" opacity="0.45" stroke-linecap="round" filter="url(#bl3)"/>
<path d="M36.00,129.00 C36.67,130.33 38.50,134.33 40.00,137.00 C41.50,139.67 44.17,143.67 45.00,145.00 " fill="none" stroke="#0e2e2a" stroke-width="1.5" opacity="0.45" stroke-linecap="round" filter="url(#bl3)"/>
<path d="M56.00,121.00 C56.67,122.17 59.33,126.83 60.00,128.00 " fill="none" stroke="#0e2e2a" stroke-width="1.5" opacity="0.45" stroke-linecap="round" filter="url(#bl3)"/>
<path d="M30.00,140.00 C31.33,140.17 35.33,140.33 38.00,141.00 C40.67,141.67 44.67,143.50 46.00,144.00 " fill="none" stroke="#0e2e2a" stroke-width="1.5" opacity="0.45" stroke-linecap="round" filter="url(#bl3)"/>
<path d="M93.00,158.00 C93.83,158.67 97.17,161.33 98.00,162.00 " fill="none" stroke="#0e2e2a" stroke-width="1.5" opacity="0.45" stroke-linecap="round" filter="url(#bl3)"/>
<path d="M22.60,152.30 C22.02,150.12 22.98,147.92 23.80,145.50 C24.62,143.08 25.88,140.30 27.50,137.80 C29.12,135.30 30.85,132.95 33.50,130.50 C36.15,128.05 39.57,125.25 43.40,123.10 C47.23,120.95 51.88,118.58 56.50,117.60 C61.12,116.62 66.48,116.55 71.10,117.20 C75.72,117.85 80.07,119.37 84.20,121.50 C88.33,123.63 92.73,126.83 95.90,130.00 C99.07,133.17 101.37,137.02 103.20,140.50 C105.03,143.98 106.45,147.95 106.90,150.90 C107.35,153.85 106.95,156.05 105.90,158.20 C104.85,160.35 102.72,162.45 100.60,163.80 C98.48,165.15 95.77,165.85 93.20,166.30 C90.63,166.75 87.15,166.13 85.20,166.50 C83.25,166.87 82.37,167.33 81.50,168.50 C80.63,169.67 80.83,172.12 80.00,173.50 C79.17,174.88 78.00,176.25 76.50,176.80 C75.00,177.35 72.92,177.20 71.00,176.80 C69.08,176.40 67.33,175.62 65.00,174.40 C62.67,173.18 60.33,171.25 57.00,169.50 C53.67,167.75 48.73,165.28 45.00,163.90 C41.27,162.52 37.55,162.08 34.60,161.20 C31.65,160.32 29.30,160.08 27.30,158.60 C25.30,157.12 23.18,154.48 22.60,152.30 Z" fill="url(#vshade)"/>
<path d="M22.60,152.30 C22.02,150.12 22.98,147.92 23.80,145.50 C24.62,143.08 25.88,140.30 27.50,137.80 C29.12,135.30 30.85,132.95 33.50,130.50 C36.15,128.05 39.57,125.25 43.40,123.10 C47.23,120.95 51.88,118.58 56.50,117.60 C61.12,116.62 66.48,116.55 71.10,117.20 C75.72,117.85 80.07,119.37 84.20,121.50 C88.33,123.63 92.73,126.83 95.90,130.00 C99.07,133.17 101.37,137.02 103.20,140.50 C105.03,143.98 106.45,147.95 106.90,150.90 C107.35,153.85 106.95,156.05 105.90,158.20 C104.85,160.35 102.72,162.45 100.60,163.80 C98.48,165.15 95.77,165.85 93.20,166.30 C90.63,166.75 87.15,166.13 85.20,166.50 C83.25,166.87 82.37,167.33 81.50,168.50 C80.63,169.67 80.83,172.12 80.00,173.50 C79.17,174.88 78.00,176.25 76.50,176.80 C75.00,177.35 72.92,177.20 71.00,176.80 C69.08,176.40 67.33,175.62 65.00,174.40 C62.67,173.18 60.33,171.25 57.00,169.50 C53.67,167.75 48.73,165.28 45.00,163.90 C41.27,162.52 37.55,162.08 34.60,161.20 C31.65,160.32 29.30,160.08 27.30,158.60 C25.30,157.12 23.18,154.48 22.60,152.30 Z" fill="none" stroke="#000" stroke-width="4" opacity="0.140" filter="url(#bl2)"/>
<path d="M52.00,152.50 C52.75,152.17 55.08,154.45 57.00,155.50 C58.92,156.55 61.50,157.92 63.50,158.80 C65.50,159.68 67.33,160.43 69.00,160.80 C70.67,161.17 72.33,161.13 73.50,161.00 C74.67,160.87 75.33,159.67 76.00,160.00 C76.67,160.33 77.50,161.83 77.50,163.00 C77.50,164.17 76.67,165.83 76.00,167.00 C75.33,168.17 74.50,169.47 73.50,170.00 C72.50,170.53 71.42,170.57 70.00,170.20 C68.58,169.83 67.00,169.08 65.00,167.80 C63.00,166.52 60.08,164.22 58.00,162.50 C55.92,160.78 53.50,159.17 52.50,157.50 C51.50,155.83 51.25,152.83 52.00,152.50 Z" fill="url(#hipg)"/>
<path d="M53,155.2 C58,159 64,163.5 70.5,168.2" fill="none" stroke="#4a4a4a" stroke-width="0.8" opacity="0.8"/>
<path d="M55,155 C60,158.3 66,162.3 72,166.2" fill="none" stroke="#6a6a6a" stroke-width="0.6" opacity="0.7"/>
<path d="M53.00,147.00 C53.13,145.78 53.65,144.60 54.60,143.80 C55.55,143.00 56.95,142.60 58.70,142.20 C60.45,141.80 62.97,141.47 65.10,141.40 C67.23,141.33 69.23,141.40 71.50,141.80 C73.77,142.20 76.42,142.78 78.70,143.80 C80.98,144.82 83.45,146.68 85.20,147.90 C86.95,149.12 88.47,150.17 89.20,151.10 C89.93,152.03 89.87,152.83 89.60,153.50 C89.33,154.17 88.73,154.70 87.60,155.10 C86.47,155.50 84.55,155.63 82.80,155.90 C81.05,156.17 78.32,156.17 77.10,156.70 C75.88,157.23 76.17,158.43 75.50,159.10 C74.83,159.77 74.17,160.50 73.10,160.70 C72.03,160.90 70.70,160.70 69.10,160.30 C67.50,159.90 65.52,159.17 63.50,158.30 C61.48,157.43 58.62,156.30 57.00,155.10 C55.38,153.90 54.47,152.45 53.80,151.10 C53.13,149.75 52.87,148.22 53.00,147.00 Z" fill="#ffffff"/>
</g>
<path d="M22.60,152.30 C22.02,150.12 22.98,147.92 23.80,145.50 C24.62,143.08 25.88,140.30 27.50,137.80 C29.12,135.30 30.85,132.95 33.50,130.50 C36.15,128.05 39.57,125.25 43.40,123.10 C47.23,120.95 51.88,118.58 56.50,117.60 C61.12,116.62 66.48,116.55 71.10,117.20 C75.72,117.85 80.07,119.37 84.20,121.50 C88.33,123.63 92.73,126.83 95.90,130.00 C99.07,133.17 101.37,137.02 103.20,140.50 C105.03,143.98 106.45,147.95 106.90,150.90 C107.35,153.85 106.95,156.05 105.90,158.20 C104.85,160.35 102.72,162.45 100.60,163.80 C98.48,165.15 95.77,165.85 93.20,166.30 C90.63,166.75 87.15,166.13 85.20,166.50 C83.25,166.87 82.37,167.33 81.50,168.50 C80.63,169.67 80.83,172.12 80.00,173.50 C79.17,174.88 78.00,176.25 76.50,176.80 C75.00,177.35 72.92,177.20 71.00,176.80 C69.08,176.40 67.33,175.62 65.00,174.40 C62.67,173.18 60.33,171.25 57.00,169.50 C53.67,167.75 48.73,165.28 45.00,163.90 C41.27,162.52 37.55,162.08 34.60,161.20 C31.65,160.32 29.30,160.08 27.30,158.60 C25.30,157.12 23.18,154.48 22.60,152.30 Z" fill="none" stroke="#173f3a" stroke-width="0.8" opacity="0.85"/>
</g>
<g transform="translate(221.00 0.00) scale(-1 1)">
<clipPath id="cp4"><path d="M22.60,152.30 C22.02,150.12 22.98,147.92 23.80,145.50 C24.62,143.08 25.88,140.30 27.50,137.80 C29.12,135.30 30.85,132.95 33.50,130.50 C36.15,128.05 39.57,125.25 43.40,123.10 C47.23,120.95 51.88,118.58 56.50,117.60 C61.12,116.62 66.48,116.55 71.10,117.20 C75.72,117.85 80.07,119.37 84.20,121.50 C88.33,123.63 92.73,126.83 95.90,130.00 C99.07,133.17 101.37,137.02 103.20,140.50 C105.03,143.98 106.45,147.95 106.90,150.90 C107.35,153.85 106.95,156.05 105.90,158.20 C104.85,160.35 102.72,162.45 100.60,163.80 C98.48,165.15 95.77,165.85 93.20,166.30 C90.63,166.75 87.15,166.13 85.20,166.50 C83.25,166.87 82.37,167.33 81.50,168.50 C80.63,169.67 80.83,172.12 80.00,173.50 C79.17,174.88 78.00,176.25 76.50,176.80 C75.00,177.35 72.92,177.20 71.00,176.80 C69.08,176.40 67.33,175.62 65.00,174.40 C62.67,173.18 60.33,171.25 57.00,169.50 C53.67,167.75 48.73,165.28 45.00,163.90 C41.27,162.52 37.55,162.08 34.60,161.20 C31.65,160.32 29.30,160.08 27.30,158.60 C25.30,157.12 23.18,154.48 22.60,152.30 Z"/></clipPath>
<g clip-path="url(#cp4)">
<path d="M22.60,152.30 C22.02,150.12 22.98,147.92 23.80,145.50 C24.62,143.08 25.88,140.30 27.50,137.80 C29.12,135.30 30.85,132.95 33.50,130.50 C36.15,128.05 39.57,125.25 43.40,123.10 C47.23,120.95 51.88,118.58 56.50,117.60 C61.12,116.62 66.48,116.55 71.10,117.20 C75.72,117.85 80.07,119.37 84.20,121.50 C88.33,123.63 92.73,126.83 95.90,130.00 C99.07,133.17 101.37,137.02 103.20,140.50 C105.03,143.98 106.45,147.95 106.90,150.90 C107.35,153.85 106.95,156.05 105.90,158.20 C104.85,160.35 102.72,162.45 100.60,163.80 C98.48,165.15 95.77,165.85 93.20,166.30 C90.63,166.75 87.15,166.13 85.20,166.50 C83.25,166.87 82.37,167.33 81.50,168.50 C80.63,169.67 80.83,172.12 80.00,173.50 C79.17,174.88 78.00,176.25 76.50,176.80 C75.00,177.35 72.92,177.20 71.00,176.80 C69.08,176.40 67.33,175.62 65.00,174.40 C62.67,173.18 60.33,171.25 57.00,169.50 C53.67,167.75 48.73,165.28 45.00,163.90 C41.27,162.52 37.55,162.08 34.60,161.20 C31.65,160.32 29.30,160.08 27.30,158.60 C25.30,157.12 23.18,154.48 22.60,152.30 Z" fill="#2f8a87"/>
<g filter="url(#bl)">
<polygon points="56.5,116.6 71.1,116.2 84.2,120.5 95.9,129 103.2,139.5 107.9,150.9 106.9,158.2 100.6,164.8 91.5,167.3 88,160 92,150 88,140 80,133 70,130 60,128 55,122" fill="#3c9f83" opacity="1"/>
<polygon points="82,120 95.9,129 103.2,139.5 107.9,150.9 106.9,158.2 100.6,164.8 91.5,167.3 88,160 92,150 88,140 82,133" fill="#4ab27d" opacity="1"/>
<polygon points="21.6,152.3 22.8,145.5 26.5,137.8 32.5,129.5 43.4,122.1 48,130 46,140 50,150 48,158 34.6,162.8 26.3,159.4" fill="#286f88" opacity="1"/>
<polygon points="44,161 52,163 60,168 68,173.5 74,178 80,177 82.5,170.5 78,166 70,162 60,158 50,157" fill="#3aa083" opacity="1"/>
<ellipse cx="23.5" cy="153" rx="2.5" ry="6" fill="#6ad070" transform="rotate(0 23.5 153)" opacity="1"/>
<ellipse cx="70" cy="127" rx="12" ry="4" fill="#2f8b87" transform="rotate(0 70 127)" opacity="1"/>
<ellipse cx="100" cy="158" rx="5" ry="5" fill="#58bb78" transform="rotate(0 100 158)" opacity="1"/>
<ellipse cx="78" cy="168" rx="4" ry="4" fill="#4fb57c" transform="rotate(0 78 168)" opacity="1"/>
<ellipse cx="93" cy="160" rx="9" ry="5" fill="#4fb77b" transform="rotate(0 93 160)" opacity="1"/>
<ellipse cx="101" cy="161" rx="4" ry="3.5" fill="#6ccf72" transform="rotate(0 101 161)" opacity="1"/>
<ellipse cx="25" cy="146" rx="3.5" ry="9" fill="#3d9f84" transform="rotate(0 25 146)" opacity="1"/>
<ellipse cx="42" cy="126" rx="7" ry="4" fill="#3a9c84" transform="rotate(-30 42 126)" opacity="1"/>
</g>
<path d="M48.00,137.00 C49.67,136.17 54.33,133.17 58.00,132.00 C61.67,130.83 66.00,130.00 70.00,130.00 C74.00,130.00 78.33,130.67 82.00,132.00 C85.67,133.33 89.17,135.67 92.00,138.00 C94.83,140.33 97.50,143.33 99.00,146.00 C100.50,148.67 100.67,152.67 101.00,154.00 " fill="none" stroke="#0e2e2a" stroke-width="1.5" opacity="0.45" stroke-linecap="round" filter="url(#bl3)"/>
<path d="M26.00,150.00 C27.33,149.33 31.00,146.50 34.00,146.00 C37.00,145.50 41.00,146.50 44.00,147.00 C47.00,147.50 50.67,148.67 52.00,149.00 " fill="none" stroke="#0e2e2a" stroke-width="1.5" opacity="0.45" stroke-linecap="round" filter="url(#bl3)"/>
<path d="M36.00,129.00 C36.67,130.33 38.50,134.33 40.00,137.00 C41.50,139.67 44.17,143.67 45.00,145.00 " fill="none" stroke="#0e2e2a" stroke-width="1.5" opacity="0.45" stroke-linecap="round" filter="url(#bl3)"/>
<path d="M56.00,121.00 C56.67,122.17 59.33,126.83 60.00,128.00 " fill="none" stroke="#0e2e2a" stroke-width="1.5" opacity="0.45" stroke-linecap="round" filter="url(#bl3)"/>
<path d="M30.00,140.00 C31.33,140.17 35.33,140.33 38.00,141.00 C40.67,141.67 44.67,143.50 46.00,144.00 " fill="none" stroke="#0e2e2a" stroke-width="1.5" opacity="0.45" stroke-linecap="round" filter="url(#bl3)"/>
<path d="M93.00,158.00 C93.83,158.67 97.17,161.33 98.00,162.00 " fill="none" stroke="#0e2e2a" stroke-width="1.5" opacity="0.45" stroke-linecap="round" filter="url(#bl3)"/>
<path d="M22.60,152.30 C22.02,150.12 22.98,147.92 23.80,145.50 C24.62,143.08 25.88,140.30 27.50,137.80 C29.12,135.30 30.85,132.95 33.50,130.50 C36.15,128.05 39.57,125.25 43.40,123.10 C47.23,120.95 51.88,118.58 56.50,117.60 C61.12,116.62 66.48,116.55 71.10,117.20 C75.72,117.85 80.07,119.37 84.20,121.50 C88.33,123.63 92.73,126.83 95.90,130.00 C99.07,133.17 101.37,137.02 103.20,140.50 C105.03,143.98 106.45,147.95 106.90,150.90 C107.35,153.85 106.95,156.05 105.90,158.20 C104.85,160.35 102.72,162.45 100.60,163.80 C98.48,165.15 95.77,165.85 93.20,166.30 C90.63,166.75 87.15,166.13 85.20,166.50 C83.25,166.87 82.37,167.33 81.50,168.50 C80.63,169.67 80.83,172.12 80.00,173.50 C79.17,174.88 78.00,176.25 76.50,176.80 C75.00,177.35 72.92,177.20 71.00,176.80 C69.08,176.40 67.33,175.62 65.00,174.40 C62.67,173.18 60.33,171.25 57.00,169.50 C53.67,167.75 48.73,165.28 45.00,163.90 C41.27,162.52 37.55,162.08 34.60,161.20 C31.65,160.32 29.30,160.08 27.30,158.60 C25.30,157.12 23.18,154.48 22.60,152.30 Z" fill="url(#vshade)"/>
<path d="M22.60,152.30 C22.02,150.12 22.98,147.92 23.80,145.50 C24.62,143.08 25.88,140.30 27.50,137.80 C29.12,135.30 30.85,132.95 33.50,130.50 C36.15,128.05 39.57,125.25 43.40,123.10 C47.23,120.95 51.88,118.58 56.50,117.60 C61.12,116.62 66.48,116.55 71.10,117.20 C75.72,117.85 80.07,119.37 84.20,121.50 C88.33,123.63 92.73,126.83 95.90,130.00 C99.07,133.17 101.37,137.02 103.20,140.50 C105.03,143.98 106.45,147.95 106.90,150.90 C107.35,153.85 106.95,156.05 105.90,158.20 C104.85,160.35 102.72,162.45 100.60,163.80 C98.48,165.15 95.77,165.85 93.20,166.30 C90.63,166.75 87.15,166.13 85.20,166.50 C83.25,166.87 82.37,167.33 81.50,168.50 C80.63,169.67 80.83,172.12 80.00,173.50 C79.17,174.88 78.00,176.25 76.50,176.80 C75.00,177.35 72.92,177.20 71.00,176.80 C69.08,176.40 67.33,175.62 65.00,174.40 C62.67,173.18 60.33,171.25 57.00,169.50 C53.67,167.75 48.73,165.28 45.00,163.90 C41.27,162.52 37.55,162.08 34.60,161.20 C31.65,160.32 29.30,160.08 27.30,158.60 C25.30,157.12 23.18,154.48 22.60,152.30 Z" fill="none" stroke="#000" stroke-width="4" opacity="0.140" filter="url(#bl2)"/>
<path d="M52.00,152.50 C52.75,152.17 55.08,154.45 57.00,155.50 C58.92,156.55 61.50,157.92 63.50,158.80 C65.50,159.68 67.33,160.43 69.00,160.80 C70.67,161.17 72.33,161.13 73.50,161.00 C74.67,160.87 75.33,159.67 76.00,160.00 C76.67,160.33 77.50,161.83 77.50,163.00 C77.50,164.17 76.67,165.83 76.00,167.00 C75.33,168.17 74.50,169.47 73.50,170.00 C72.50,170.53 71.42,170.57 70.00,170.20 C68.58,169.83 67.00,169.08 65.00,167.80 C63.00,166.52 60.08,164.22 58.00,162.50 C55.92,160.78 53.50,159.17 52.50,157.50 C51.50,155.83 51.25,152.83 52.00,152.50 Z" fill="url(#hipg)"/>
<path d="M53,155.2 C58,159 64,163.5 70.5,168.2" fill="none" stroke="#4a4a4a" stroke-width="0.8" opacity="0.8"/>
<path d="M55,155 C60,158.3 66,162.3 72,166.2" fill="none" stroke="#6a6a6a" stroke-width="0.6" opacity="0.7"/>
<path d="M53.00,147.00 C53.13,145.78 53.65,144.60 54.60,143.80 C55.55,143.00 56.95,142.60 58.70,142.20 C60.45,141.80 62.97,141.47 65.10,141.40 C67.23,141.33 69.23,141.40 71.50,141.80 C73.77,142.20 76.42,142.78 78.70,143.80 C80.98,144.82 83.45,146.68 85.20,147.90 C86.95,149.12 88.47,150.17 89.20,151.10 C89.93,152.03 89.87,152.83 89.60,153.50 C89.33,154.17 88.73,154.70 87.60,155.10 C86.47,155.50 84.55,155.63 82.80,155.90 C81.05,156.17 78.32,156.17 77.10,156.70 C75.88,157.23 76.17,158.43 75.50,159.10 C74.83,159.77 74.17,160.50 73.10,160.70 C72.03,160.90 70.70,160.70 69.10,160.30 C67.50,159.90 65.52,159.17 63.50,158.30 C61.48,157.43 58.62,156.30 57.00,155.10 C55.38,153.90 54.47,152.45 53.80,151.10 C53.13,149.75 52.87,148.22 53.00,147.00 Z" fill="#ffffff"/>
</g>
<path d="M22.60,152.30 C22.02,150.12 22.98,147.92 23.80,145.50 C24.62,143.08 25.88,140.30 27.50,137.80 C29.12,135.30 30.85,132.95 33.50,130.50 C36.15,128.05 39.57,125.25 43.40,123.10 C47.23,120.95 51.88,118.58 56.50,117.60 C61.12,116.62 66.48,116.55 71.10,117.20 C75.72,117.85 80.07,119.37 84.20,121.50 C88.33,123.63 92.73,126.83 95.90,130.00 C99.07,133.17 101.37,137.02 103.20,140.50 C105.03,143.98 106.45,147.95 106.90,150.90 C107.35,153.85 106.95,156.05 105.90,158.20 C104.85,160.35 102.72,162.45 100.60,163.80 C98.48,165.15 95.77,165.85 93.20,166.30 C90.63,166.75 87.15,166.13 85.20,166.50 C83.25,166.87 82.37,167.33 81.50,168.50 C80.63,169.67 80.83,172.12 80.00,173.50 C79.17,174.88 78.00,176.25 76.50,176.80 C75.00,177.35 72.92,177.20 71.00,176.80 C69.08,176.40 67.33,175.62 65.00,174.40 C62.67,173.18 60.33,171.25 57.00,169.50 C53.67,167.75 48.73,165.28 45.00,163.90 C41.27,162.52 37.55,162.08 34.60,161.20 C31.65,160.32 29.30,160.08 27.30,158.60 C25.30,157.12 23.18,154.48 22.60,152.30 Z" fill="none" stroke="#173f3a" stroke-width="0.8" opacity="0.85"/>
</g>
<g transform="translate(0.00 187.80)">
<clipPath id="cp5"><path d="M22.90,80.10 C23.08,78.15 23.47,74.77 24.30,72.50 C25.13,70.23 26.37,68.58 27.90,66.50 C29.43,64.42 31.40,62.05 33.50,60.00 C35.60,57.95 37.72,55.97 40.50,54.20 C43.28,52.43 46.38,50.72 50.20,49.40 C54.02,48.08 59.23,46.90 63.40,46.30 C67.57,45.70 71.48,45.48 75.20,45.80 C78.92,46.12 82.42,46.58 85.70,48.20 C88.98,49.82 92.27,52.78 94.90,55.50 C97.53,58.22 99.75,61.42 101.50,64.50 C103.25,67.58 104.60,71.18 105.40,74.00 C106.20,76.82 106.48,79.18 106.30,81.40 C106.12,83.62 105.55,85.82 104.30,87.30 C103.05,88.78 101.25,89.55 98.80,90.30 C96.35,91.05 92.88,91.02 89.60,91.80 C86.32,92.58 82.38,93.63 79.10,95.00 C75.82,96.37 73.00,98.47 69.90,100.00 C66.80,101.53 63.12,103.37 60.50,104.20 C57.88,105.03 56.02,105.27 54.20,105.00 C52.38,104.73 50.70,103.67 49.60,102.60 C48.50,101.53 48.07,99.80 47.60,98.60 C47.13,97.40 47.65,95.98 46.80,95.40 C45.95,94.82 44.38,95.25 42.50,95.10 C40.62,94.95 37.62,94.95 35.50,94.50 C33.38,94.05 31.48,93.42 29.80,92.40 C28.12,91.38 26.50,89.77 25.40,88.40 C24.30,87.03 23.62,85.58 23.20,84.20 C22.78,82.82 22.72,82.05 22.90,80.10 Z"/></clipPath>
<g clip-path="url(#cp5)">
<path d="M22.90,80.10 C23.08,78.15 23.47,74.77 24.30,72.50 C25.13,70.23 26.37,68.58 27.90,66.50 C29.43,64.42 31.40,62.05 33.50,60.00 C35.60,57.95 37.72,55.97 40.50,54.20 C43.28,52.43 46.38,50.72 50.20,49.40 C54.02,48.08 59.23,46.90 63.40,46.30 C67.57,45.70 71.48,45.48 75.20,45.80 C78.92,46.12 82.42,46.58 85.70,48.20 C88.98,49.82 92.27,52.78 94.90,55.50 C97.53,58.22 99.75,61.42 101.50,64.50 C103.25,67.58 104.60,71.18 105.40,74.00 C106.20,76.82 106.48,79.18 106.30,81.40 C106.12,83.62 105.55,85.82 104.30,87.30 C103.05,88.78 101.25,89.55 98.80,90.30 C96.35,91.05 92.88,91.02 89.60,91.80 C86.32,92.58 82.38,93.63 79.10,95.00 C75.82,96.37 73.00,98.47 69.90,100.00 C66.80,101.53 63.12,103.37 60.50,104.20 C57.88,105.03 56.02,105.27 54.20,105.00 C52.38,104.73 50.70,103.67 49.60,102.60 C48.50,101.53 48.07,99.80 47.60,98.60 C47.13,97.40 47.65,95.98 46.80,95.40 C45.95,94.82 44.38,95.25 42.50,95.10 C40.62,94.95 37.62,94.95 35.50,94.50 C33.38,94.05 31.48,93.42 29.80,92.40 C28.12,91.38 26.50,89.77 25.40,88.40 C24.30,87.03 23.62,85.58 23.20,84.20 C22.78,82.82 22.72,82.05 22.90,80.10 Z" fill="#5fbf66"/>
<g filter="url(#bl)">
<polygon points="21.9,80.1 24.3,70.9 29.5,63 37.4,55.5 50.2,49.5 59.4,46.9 58.1,52.5 51.5,56.5 46.3,61.7 42.3,67 43.7,73.5 39.7,78.8 41,85.4 46.3,90.6 41,96.5 27.9,94" fill="#7ccb56" opacity="1"/>
<ellipse cx="29" cy="86" rx="6" ry="7" fill="#a2d044" transform="rotate(0 29 86)" opacity="1"/>
<polygon points="37,55 50,49 60,46.5 62,49 56,52 50,55 44,59 38,62" fill="#6ac65e" opacity="1"/>
<ellipse cx="51" cy="75" rx="8" ry="13" fill="#47a67a" transform="rotate(0 51 75)" opacity="1"/>
<polygon points="59.4,50 68,48.5 77.8,50 78,60 76,68 72,72.4 64,72 59.4,66" fill="#3a8a84" opacity="1"/>
<ellipse cx="70" cy="57" rx="5" ry="7" fill="#347a86" transform="rotate(0 70 57)" opacity="1"/>
<ellipse cx="85" cy="69" rx="8" ry="7" fill="#5ec06a" transform="rotate(0 85 69)" opacity="1"/>
<polygon points="50,88 60,87.5 70,87 80,86 90,85 98,86 96,90 86,92 78,95 70,99 62,103 55,106.5 48,103 46.5,97 47,93" fill="#7ccb56" opacity="1"/>
<ellipse cx="70" cy="96" rx="14" ry="3.5" fill="#8cd050" transform="rotate(-20 70 96)" opacity="1"/>
<ellipse cx="66" cy="86" rx="12" ry="4" fill="#4fae74" transform="rotate(-12 66 86)" opacity="1"/>
<polygon points="94,56 100,61 108,75 108,90 98,90 94,82 95,68" fill="#66c462" opacity="1"/>
<ellipse cx="102" cy="84" rx="5" ry="5" fill="#7ccc56" transform="rotate(0 102 84)" opacity="1"/>
</g>
<path d="M31.60,63.90 C34.02,62.80 41.72,58.83 46.10,57.30 C50.48,55.77 55.05,55.58 57.90,54.70 C60.75,53.82 62.32,52.45 63.20,52.00 " fill="none" stroke="#173a1c" stroke-width="1.5" opacity="0.42" stroke-linecap="round" filter="url(#bl3)"/>
<path d="M33.00,80.90 C34.75,79.82 40.23,76.37 43.50,74.40 C46.77,72.43 50.20,70.42 52.60,69.10 C55.00,67.78 57.02,66.93 57.90,66.50 " fill="none" stroke="#173a1c" stroke-width="1.5" opacity="0.42" stroke-linecap="round" filter="url(#bl3)"/>
<path d="M63.20,52.00 C62.53,53.75 60.73,59.22 59.20,62.50 C57.67,65.78 55.10,69.07 54.00,71.70 C52.90,74.33 52.83,77.20 52.60,78.30 " fill="none" stroke="#173a1c" stroke-width="1.5" opacity="0.42" stroke-linecap="round" filter="url(#bl3)"/>
<path d="M69.70,49.40 C69.05,51.15 67.12,56.83 65.80,59.90 C64.48,62.97 62.90,65.62 61.80,67.80 C60.70,69.98 59.63,72.13 59.20,73.00 " fill="none" stroke="#173a1c" stroke-width="1.5" opacity="0.42" stroke-linecap="round" filter="url(#bl3)"/>
<path d="M76.30,50.70 C75.65,52.23 73.50,57.05 72.40,59.90 C71.30,62.75 70.15,66.48 69.70,67.80 " fill="none" stroke="#173a1c" stroke-width="1.5" opacity="0.42" stroke-linecap="round" filter="url(#bl3)"/>
<path d="M40.80,83.60 C42.55,83.17 47.80,81.88 51.30,81.00 C54.80,80.12 58.73,79.63 61.80,78.30 C64.87,76.97 67.28,74.53 69.70,73.00 C72.12,71.47 74.32,70.62 76.30,69.10 C78.28,67.58 80.72,64.77 81.60,63.90 " fill="none" stroke="#173a1c" stroke-width="1.5" opacity="0.42" stroke-linecap="round" filter="url(#bl3)"/>
<path d="M52.60,91.40 C54.80,90.53 61.42,88.05 65.80,86.20 C70.18,84.35 75.18,82.50 78.90,80.30 C82.62,78.10 85.68,75.30 88.10,73.00 C90.52,70.70 92.52,67.58 93.40,66.50 " fill="none" stroke="#173a1c" stroke-width="1.5" opacity="0.42" stroke-linecap="round" filter="url(#bl3)"/>
<path d="M47.00,94.80 C47.83,94.25 49.97,92.57 52.00,91.50 C54.03,90.43 56.87,89.40 59.20,88.40 C61.53,87.40 63.80,86.57 66.00,85.50 C68.20,84.43 70.40,83.33 72.40,82.00 C74.40,80.67 76.47,78.93 78.00,77.50 C79.53,76.07 81.00,74.08 81.60,73.40 " fill="none" stroke="#173a1c" stroke-width="1.5" opacity="0.42" stroke-linecap="round" filter="url(#bl3)"/>
<path d="M72.40,59.90 C74.15,59.68 79.83,58.38 82.90,58.60 C85.97,58.82 88.62,59.88 90.80,61.20 C92.98,62.52 94.47,64.30 96.00,66.50 C97.53,68.70 99.33,73.08 100.00,74.40 " fill="none" stroke="#173a1c" stroke-width="1.5" opacity="0.42" stroke-linecap="round" filter="url(#bl3)"/>
<path d="M56.60,98.00 C59.23,97.02 67.58,93.73 72.40,92.10 C77.22,90.47 81.13,89.30 85.50,88.20 C89.87,87.10 96.42,85.95 98.60,85.50 " fill="none" stroke="#173a1c" stroke-width="1.5" opacity="0.42" stroke-linecap="round" filter="url(#bl3)"/>
<path d="M98.60,70.40 C99.48,71.93 103.02,78.07 103.90,79.60 " fill="none" stroke="#173a1c" stroke-width="1.5" opacity="0.42" stroke-linecap="round" filter="url(#bl3)"/>
<path d="M25.00,74.40 C25.88,73.08 28.10,68.70 30.30,66.50 C32.50,64.30 36.88,62.08 38.20,61.20 " fill="none" stroke="#173a1c" stroke-width="1.5" opacity="0.42" stroke-linecap="round" filter="url(#bl3)"/>
<path d="M27.70,82.20 C29.02,82.87 33.20,85.32 35.60,86.20 C38.00,87.08 41.02,87.28 42.10,87.50 " fill="none" stroke="#173a1c" stroke-width="1.5" opacity="0.42" stroke-linecap="round" filter="url(#bl3)"/>
<path d="M22.90,80.10 C23.08,78.15 23.47,74.77 24.30,72.50 C25.13,70.23 26.37,68.58 27.90,66.50 C29.43,64.42 31.40,62.05 33.50,60.00 C35.60,57.95 37.72,55.97 40.50,54.20 C43.28,52.43 46.38,50.72 50.20,49.40 C54.02,48.08 59.23,46.90 63.40,46.30 C67.57,45.70 71.48,45.48 75.20,45.80 C78.92,46.12 82.42,46.58 85.70,48.20 C88.98,49.82 92.27,52.78 94.90,55.50 C97.53,58.22 99.75,61.42 101.50,64.50 C103.25,67.58 104.60,71.18 105.40,74.00 C106.20,76.82 106.48,79.18 106.30,81.40 C106.12,83.62 105.55,85.82 104.30,87.30 C103.05,88.78 101.25,89.55 98.80,90.30 C96.35,91.05 92.88,91.02 89.60,91.80 C86.32,92.58 82.38,93.63 79.10,95.00 C75.82,96.37 73.00,98.47 69.90,100.00 C66.80,101.53 63.12,103.37 60.50,104.20 C57.88,105.03 56.02,105.27 54.20,105.00 C52.38,104.73 50.70,103.67 49.60,102.60 C48.50,101.53 48.07,99.80 47.60,98.60 C47.13,97.40 47.65,95.98 46.80,95.40 C45.95,94.82 44.38,95.25 42.50,95.10 C40.62,94.95 37.62,94.95 35.50,94.50 C33.38,94.05 31.48,93.42 29.80,92.40 C28.12,91.38 26.50,89.77 25.40,88.40 C24.30,87.03 23.62,85.58 23.20,84.20 C22.78,82.82 22.72,82.05 22.90,80.10 Z" fill="url(#vshade)"/>
<path d="M22.90,80.10 C23.08,78.15 23.47,74.77 24.30,72.50 C25.13,70.23 26.37,68.58 27.90,66.50 C29.43,64.42 31.40,62.05 33.50,60.00 C35.60,57.95 37.72,55.97 40.50,54.20 C43.28,52.43 46.38,50.72 50.20,49.40 C54.02,48.08 59.23,46.90 63.40,46.30 C67.57,45.70 71.48,45.48 75.20,45.80 C78.92,46.12 82.42,46.58 85.70,48.20 C88.98,49.82 92.27,52.78 94.90,55.50 C97.53,58.22 99.75,61.42 101.50,64.50 C103.25,67.58 104.60,71.18 105.40,74.00 C106.20,76.82 106.48,79.18 106.30,81.40 C106.12,83.62 105.55,85.82 104.30,87.30 C103.05,88.78 101.25,89.55 98.80,90.30 C96.35,91.05 92.88,91.02 89.60,91.80 C86.32,92.58 82.38,93.63 79.10,95.00 C75.82,96.37 73.00,98.47 69.90,100.00 C66.80,101.53 63.12,103.37 60.50,104.20 C57.88,105.03 56.02,105.27 54.20,105.00 C52.38,104.73 50.70,103.67 49.60,102.60 C48.50,101.53 48.07,99.80 47.60,98.60 C47.13,97.40 47.65,95.98 46.80,95.40 C45.95,94.82 44.38,95.25 42.50,95.10 C40.62,94.95 37.62,94.95 35.50,94.50 C33.38,94.05 31.48,93.42 29.80,92.40 C28.12,91.38 26.50,89.77 25.40,88.40 C24.30,87.03 23.62,85.58 23.20,84.20 C22.78,82.82 22.72,82.05 22.90,80.10 Z" fill="none" stroke="#000" stroke-width="4" opacity="0.140" filter="url(#bl2)"/>
</g>
<path d="M22.90,80.10 C23.08,78.15 23.47,74.77 24.30,72.50 C25.13,70.23 26.37,68.58 27.90,66.50 C29.43,64.42 31.40,62.05 33.50,60.00 C35.60,57.95 37.72,55.97 40.50,54.20 C43.28,52.43 46.38,50.72 50.20,49.40 C54.02,48.08 59.23,46.90 63.40,46.30 C67.57,45.70 71.48,45.48 75.20,45.80 C78.92,46.12 82.42,46.58 85.70,48.20 C88.98,49.82 92.27,52.78 94.90,55.50 C97.53,58.22 99.75,61.42 101.50,64.50 C103.25,67.58 104.60,71.18 105.40,74.00 C106.20,76.82 106.48,79.18 106.30,81.40 C106.12,83.62 105.55,85.82 104.30,87.30 C103.05,88.78 101.25,89.55 98.80,90.30 C96.35,91.05 92.88,91.02 89.60,91.80 C86.32,92.58 82.38,93.63 79.10,95.00 C75.82,96.37 73.00,98.47 69.90,100.00 C66.80,101.53 63.12,103.37 60.50,104.20 C57.88,105.03 56.02,105.27 54.20,105.00 C52.38,104.73 50.70,103.67 49.60,102.60 C48.50,101.53 48.07,99.80 47.60,98.60 C47.13,97.40 47.65,95.98 46.80,95.40 C45.95,94.82 44.38,95.25 42.50,95.10 C40.62,94.95 37.62,94.95 35.50,94.50 C33.38,94.05 31.48,93.42 29.80,92.40 C28.12,91.38 26.50,89.77 25.40,88.40 C24.30,87.03 23.62,85.58 23.20,84.20 C22.78,82.82 22.72,82.05 22.90,80.10 Z" fill="none" stroke="#244d2a" stroke-width="0.8" opacity="0.85"/>
</g>
<g transform="translate(221.00 187.80) scale(-1 1)">
<clipPath id="cp6"><path d="M22.90,80.10 C23.08,78.15 23.47,74.77 24.30,72.50 C25.13,70.23 26.37,68.58 27.90,66.50 C29.43,64.42 31.40,62.05 33.50,60.00 C35.60,57.95 37.72,55.97 40.50,54.20 C43.28,52.43 46.38,50.72 50.20,49.40 C54.02,48.08 59.23,46.90 63.40,46.30 C67.57,45.70 71.48,45.48 75.20,45.80 C78.92,46.12 82.42,46.58 85.70,48.20 C88.98,49.82 92.27,52.78 94.90,55.50 C97.53,58.22 99.75,61.42 101.50,64.50 C103.25,67.58 104.60,71.18 105.40,74.00 C106.20,76.82 106.48,79.18 106.30,81.40 C106.12,83.62 105.55,85.82 104.30,87.30 C103.05,88.78 101.25,89.55 98.80,90.30 C96.35,91.05 92.88,91.02 89.60,91.80 C86.32,92.58 82.38,93.63 79.10,95.00 C75.82,96.37 73.00,98.47 69.90,100.00 C66.80,101.53 63.12,103.37 60.50,104.20 C57.88,105.03 56.02,105.27 54.20,105.00 C52.38,104.73 50.70,103.67 49.60,102.60 C48.50,101.53 48.07,99.80 47.60,98.60 C47.13,97.40 47.65,95.98 46.80,95.40 C45.95,94.82 44.38,95.25 42.50,95.10 C40.62,94.95 37.62,94.95 35.50,94.50 C33.38,94.05 31.48,93.42 29.80,92.40 C28.12,91.38 26.50,89.77 25.40,88.40 C24.30,87.03 23.62,85.58 23.20,84.20 C22.78,82.82 22.72,82.05 22.90,80.10 Z"/></clipPath>
<g clip-path="url(#cp6)">
<path d="M22.90,80.10 C23.08,78.15 23.47,74.77 24.30,72.50 C25.13,70.23 26.37,68.58 27.90,66.50 C29.43,64.42 31.40,62.05 33.50,60.00 C35.60,57.95 37.72,55.97 40.50,54.20 C43.28,52.43 46.38,50.72 50.20,49.40 C54.02,48.08 59.23,46.90 63.40,46.30 C67.57,45.70 71.48,45.48 75.20,45.80 C78.92,46.12 82.42,46.58 85.70,48.20 C88.98,49.82 92.27,52.78 94.90,55.50 C97.53,58.22 99.75,61.42 101.50,64.50 C103.25,67.58 104.60,71.18 105.40,74.00 C106.20,76.82 106.48,79.18 106.30,81.40 C106.12,83.62 105.55,85.82 104.30,87.30 C103.05,88.78 101.25,89.55 98.80,90.30 C96.35,91.05 92.88,91.02 89.60,91.80 C86.32,92.58 82.38,93.63 79.10,95.00 C75.82,96.37 73.00,98.47 69.90,100.00 C66.80,101.53 63.12,103.37 60.50,104.20 C57.88,105.03 56.02,105.27 54.20,105.00 C52.38,104.73 50.70,103.67 49.60,102.60 C48.50,101.53 48.07,99.80 47.60,98.60 C47.13,97.40 47.65,95.98 46.80,95.40 C45.95,94.82 44.38,95.25 42.50,95.10 C40.62,94.95 37.62,94.95 35.50,94.50 C33.38,94.05 31.48,93.42 29.80,92.40 C28.12,91.38 26.50,89.77 25.40,88.40 C24.30,87.03 23.62,85.58 23.20,84.20 C22.78,82.82 22.72,82.05 22.90,80.10 Z" fill="#5fbf66"/>
<g filter="url(#bl)">
<polygon points="21.9,80.1 24.3,70.9 29.5,63 37.4,55.5 50.2,49.5 59.4,46.9 58.1,52.5 51.5,56.5 46.3,61.7 42.3,67 43.7,73.5 39.7,78.8 41,85.4 46.3,90.6 41,96.5 27.9,94" fill="#7ccb56" opacity="1"/>
<ellipse cx="29" cy="86" rx="6" ry="7" fill="#a2d044" transform="rotate(0 29 86)" opacity="1"/>
<polygon points="37,55 50,49 60,46.5 62,49 56,52 50,55 44,59 38,62" fill="#6ac65e" opacity="1"/>
<ellipse cx="51" cy="75" rx="8" ry="13" fill="#47a67a" transform="rotate(0 51 75)" opacity="1"/>
<polygon points="59.4,50 68,48.5 77.8,50 78,60 76,68 72,72.4 64,72 59.4,66" fill="#3a8a84" opacity="1"/>
<ellipse cx="70" cy="57" rx="5" ry="7" fill="#347a86" transform="rotate(0 70 57)" opacity="1"/>
<ellipse cx="85" cy="69" rx="8" ry="7" fill="#5ec06a" transform="rotate(0 85 69)" opacity="1"/>
<polygon points="50,88 60,87.5 70,87 80,86 90,85 98,86 96,90 86,92 78,95 70,99 62,103 55,106.5 48,103 46.5,97 47,93" fill="#7ccb56" opacity="1"/>
<ellipse cx="70" cy="96" rx="14" ry="3.5" fill="#8cd050" transform="rotate(-20 70 96)" opacity="1"/>
<ellipse cx="66" cy="86" rx="12" ry="4" fill="#4fae74" transform="rotate(-12 66 86)" opacity="1"/>
<polygon points="94,56 100,61 108,75 108,90 98,90 94,82 95,68" fill="#66c462" opacity="1"/>
<ellipse cx="102" cy="84" rx="5" ry="5" fill="#7ccc56" transform="rotate(0 102 84)" opacity="1"/>
</g>
<path d="M31.60,63.90 C34.02,62.80 41.72,58.83 46.10,57.30 C50.48,55.77 55.05,55.58 57.90,54.70 C60.75,53.82 62.32,52.45 63.20,52.00 " fill="none" stroke="#173a1c" stroke-width="1.5" opacity="0.42" stroke-linecap="round" filter="url(#bl3)"/>
<path d="M33.00,80.90 C34.75,79.82 40.23,76.37 43.50,74.40 C46.77,72.43 50.20,70.42 52.60,69.10 C55.00,67.78 57.02,66.93 57.90,66.50 " fill="none" stroke="#173a1c" stroke-width="1.5" opacity="0.42" stroke-linecap="round" filter="url(#bl3)"/>
<path d="M63.20,52.00 C62.53,53.75 60.73,59.22 59.20,62.50 C57.67,65.78 55.10,69.07 54.00,71.70 C52.90,74.33 52.83,77.20 52.60,78.30 " fill="none" stroke="#173a1c" stroke-width="1.5" opacity="0.42" stroke-linecap="round" filter="url(#bl3)"/>
<path d="M69.70,49.40 C69.05,51.15 67.12,56.83 65.80,59.90 C64.48,62.97 62.90,65.62 61.80,67.80 C60.70,69.98 59.63,72.13 59.20,73.00 " fill="none" stroke="#173a1c" stroke-width="1.5" opacity="0.42" stroke-linecap="round" filter="url(#bl3)"/>
<path d="M76.30,50.70 C75.65,52.23 73.50,57.05 72.40,59.90 C71.30,62.75 70.15,66.48 69.70,67.80 " fill="none" stroke="#173a1c" stroke-width="1.5" opacity="0.42" stroke-linecap="round" filter="url(#bl3)"/>
<path d="M40.80,83.60 C42.55,83.17 47.80,81.88 51.30,81.00 C54.80,80.12 58.73,79.63 61.80,78.30 C64.87,76.97 67.28,74.53 69.70,73.00 C72.12,71.47 74.32,70.62 76.30,69.10 C78.28,67.58 80.72,64.77 81.60,63.90 " fill="none" stroke="#173a1c" stroke-width="1.5" opacity="0.42" stroke-linecap="round" filter="url(#bl3)"/>
<path d="M52.60,91.40 C54.80,90.53 61.42,88.05 65.80,86.20 C70.18,84.35 75.18,82.50 78.90,80.30 C82.62,78.10 85.68,75.30 88.10,73.00 C90.52,70.70 92.52,67.58 93.40,66.50 " fill="none" stroke="#173a1c" stroke-width="1.5" opacity="0.42" stroke-linecap="round" filter="url(#bl3)"/>
<path d="M47.00,94.80 C47.83,94.25 49.97,92.57 52.00,91.50 C54.03,90.43 56.87,89.40 59.20,88.40 C61.53,87.40 63.80,86.57 66.00,85.50 C68.20,84.43 70.40,83.33 72.40,82.00 C74.40,80.67 76.47,78.93 78.00,77.50 C79.53,76.07 81.00,74.08 81.60,73.40 " fill="none" stroke="#173a1c" stroke-width="1.5" opacity="0.42" stroke-linecap="round" filter="url(#bl3)"/>
<path d="M72.40,59.90 C74.15,59.68 79.83,58.38 82.90,58.60 C85.97,58.82 88.62,59.88 90.80,61.20 C92.98,62.52 94.47,64.30 96.00,66.50 C97.53,68.70 99.33,73.08 100.00,74.40 " fill="none" stroke="#173a1c" stroke-width="1.5" opacity="0.42" stroke-linecap="round" filter="url(#bl3)"/>
<path d="M56.60,98.00 C59.23,97.02 67.58,93.73 72.40,92.10 C77.22,90.47 81.13,89.30 85.50,88.20 C89.87,87.10 96.42,85.95 98.60,85.50 " fill="none" stroke="#173a1c" stroke-width="1.5" opacity="0.42" stroke-linecap="round" filter="url(#bl3)"/>
<path d="M98.60,70.40 C99.48,71.93 103.02,78.07 103.90,79.60 " fill="none" stroke="#173a1c" stroke-width="1.5" opacity="0.42" stroke-linecap="round" filter="url(#bl3)"/>
<path d="M25.00,74.40 C25.88,73.08 28.10,68.70 30.30,66.50 C32.50,64.30 36.88,62.08 38.20,61.20 " fill="none" stroke="#173a1c" stroke-width="1.5" opacity="0.42" stroke-linecap="round" filter="url(#bl3)"/>
<path d="M27.70,82.20 C29.02,82.87 33.20,85.32 35.60,86.20 C38.00,87.08 41.02,87.28 42.10,87.50 " fill="none" stroke="#173a1c" stroke-width="1.5" opacity="0.42" stroke-linecap="round" filter="url(#bl3)"/>
<path d="M22.90,80.10 C23.08,78.15 23.47,74.77 24.30,72.50 C25.13,70.23 26.37,68.58 27.90,66.50 C29.43,64.42 31.40,62.05 33.50,60.00 C35.60,57.95 37.72,55.97 40.50,54.20 C43.28,52.43 46.38,50.72 50.20,49.40 C54.02,48.08 59.23,46.90 63.40,46.30 C67.57,45.70 71.48,45.48 75.20,45.80 C78.92,46.12 82.42,46.58 85.70,48.20 C88.98,49.82 92.27,52.78 94.90,55.50 C97.53,58.22 99.75,61.42 101.50,64.50 C103.25,67.58 104.60,71.18 105.40,74.00 C106.20,76.82 106.48,79.18 106.30,81.40 C106.12,83.62 105.55,85.82 104.30,87.30 C103.05,88.78 101.25,89.55 98.80,90.30 C96.35,91.05 92.88,91.02 89.60,91.80 C86.32,92.58 82.38,93.63 79.10,95.00 C75.82,96.37 73.00,98.47 69.90,100.00 C66.80,101.53 63.12,103.37 60.50,104.20 C57.88,105.03 56.02,105.27 54.20,105.00 C52.38,104.73 50.70,103.67 49.60,102.60 C48.50,101.53 48.07,99.80 47.60,98.60 C47.13,97.40 47.65,95.98 46.80,95.40 C45.95,94.82 44.38,95.25 42.50,95.10 C40.62,94.95 37.62,94.95 35.50,94.50 C33.38,94.05 31.48,93.42 29.80,92.40 C28.12,91.38 26.50,89.77 25.40,88.40 C24.30,87.03 23.62,85.58 23.20,84.20 C22.78,82.82 22.72,82.05 22.90,80.10 Z" fill="url(#vshade)"/>
<path d="M22.90,80.10 C23.08,78.15 23.47,74.77 24.30,72.50 C25.13,70.23 26.37,68.58 27.90,66.50 C29.43,64.42 31.40,62.05 33.50,60.00 C35.60,57.95 37.72,55.97 40.50,54.20 C43.28,52.43 46.38,50.72 50.20,49.40 C54.02,48.08 59.23,46.90 63.40,46.30 C67.57,45.70 71.48,45.48 75.20,45.80 C78.92,46.12 82.42,46.58 85.70,48.20 C88.98,49.82 92.27,52.78 94.90,55.50 C97.53,58.22 99.75,61.42 101.50,64.50 C103.25,67.58 104.60,71.18 105.40,74.00 C106.20,76.82 106.48,79.18 106.30,81.40 C106.12,83.62 105.55,85.82 104.30,87.30 C103.05,88.78 101.25,89.55 98.80,90.30 C96.35,91.05 92.88,91.02 89.60,91.80 C86.32,92.58 82.38,93.63 79.10,95.00 C75.82,96.37 73.00,98.47 69.90,100.00 C66.80,101.53 63.12,103.37 60.50,104.20 C57.88,105.03 56.02,105.27 54.20,105.00 C52.38,104.73 50.70,103.67 49.60,102.60 C48.50,101.53 48.07,99.80 47.60,98.60 C47.13,97.40 47.65,95.98 46.80,95.40 C45.95,94.82 44.38,95.25 42.50,95.10 C40.62,94.95 37.62,94.95 35.50,94.50 C33.38,94.05 31.48,93.42 29.80,92.40 C28.12,91.38 26.50,89.77 25.40,88.40 C24.30,87.03 23.62,85.58 23.20,84.20 C22.78,82.82 22.72,82.05 22.90,80.10 Z" fill="none" stroke="#000" stroke-width="4" opacity="0.140" filter="url(#bl2)"/>
</g>
<path d="M22.90,80.10 C23.08,78.15 23.47,74.77 24.30,72.50 C25.13,70.23 26.37,68.58 27.90,66.50 C29.43,64.42 31.40,62.05 33.50,60.00 C35.60,57.95 37.72,55.97 40.50,54.20 C43.28,52.43 46.38,50.72 50.20,49.40 C54.02,48.08 59.23,46.90 63.40,46.30 C67.57,45.70 71.48,45.48 75.20,45.80 C78.92,46.12 82.42,46.58 85.70,48.20 C88.98,49.82 92.27,52.78 94.90,55.50 C97.53,58.22 99.75,61.42 101.50,64.50 C103.25,67.58 104.60,71.18 105.40,74.00 C106.20,76.82 106.48,79.18 106.30,81.40 C106.12,83.62 105.55,85.82 104.30,87.30 C103.05,88.78 101.25,89.55 98.80,90.30 C96.35,91.05 92.88,91.02 89.60,91.80 C86.32,92.58 82.38,93.63 79.10,95.00 C75.82,96.37 73.00,98.47 69.90,100.00 C66.80,101.53 63.12,103.37 60.50,104.20 C57.88,105.03 56.02,105.27 54.20,105.00 C52.38,104.73 50.70,103.67 49.60,102.60 C48.50,101.53 48.07,99.80 47.60,98.60 C47.13,97.40 47.65,95.98 46.80,95.40 C45.95,94.82 44.38,95.25 42.50,95.10 C40.62,94.95 37.62,94.95 35.50,94.50 C33.38,94.05 31.48,93.42 29.80,92.40 C28.12,91.38 26.50,89.77 25.40,88.40 C24.30,87.03 23.62,85.58 23.20,84.20 C22.78,82.82 22.72,82.05 22.90,80.10 Z" fill="none" stroke="#244d2a" stroke-width="0.8" opacity="0.85"/>
</g>
<g transform="translate(0.00 187.80)">
<clipPath id="cp7"><path d="M22.60,152.30 C22.02,150.12 22.98,147.92 23.80,145.50 C24.62,143.08 25.88,140.30 27.50,137.80 C29.12,135.30 30.85,132.95 33.50,130.50 C36.15,128.05 39.57,125.25 43.40,123.10 C47.23,120.95 51.88,118.58 56.50,117.60 C61.12,116.62 66.48,116.55 71.10,117.20 C75.72,117.85 80.07,119.37 84.20,121.50 C88.33,123.63 92.73,126.83 95.90,130.00 C99.07,133.17 101.37,137.02 103.20,140.50 C105.03,143.98 106.45,147.95 106.90,150.90 C107.35,153.85 106.95,156.05 105.90,158.20 C104.85,160.35 102.72,162.45 100.60,163.80 C98.48,165.15 95.77,165.85 93.20,166.30 C90.63,166.75 87.15,166.13 85.20,166.50 C83.25,166.87 82.37,167.33 81.50,168.50 C80.63,169.67 80.83,172.12 80.00,173.50 C79.17,174.88 78.00,176.25 76.50,176.80 C75.00,177.35 72.92,177.20 71.00,176.80 C69.08,176.40 67.33,175.62 65.00,174.40 C62.67,173.18 60.33,171.25 57.00,169.50 C53.67,167.75 48.73,165.28 45.00,163.90 C41.27,162.52 37.55,162.08 34.60,161.20 C31.65,160.32 29.30,160.08 27.30,158.60 C25.30,157.12 23.18,154.48 22.60,152.30 Z"/></clipPath>
<g clip-path="url(#cp7)">
<path d="M22.60,152.30 C22.02,150.12 22.98,147.92 23.80,145.50 C24.62,143.08 25.88,140.30 27.50,137.80 C29.12,135.30 30.85,132.95 33.50,130.50 C36.15,128.05 39.57,125.25 43.40,123.10 C47.23,120.95 51.88,118.58 56.50,117.60 C61.12,116.62 66.48,116.55 71.10,117.20 C75.72,117.85 80.07,119.37 84.20,121.50 C88.33,123.63 92.73,126.83 95.90,130.00 C99.07,133.17 101.37,137.02 103.20,140.50 C105.03,143.98 106.45,147.95 106.90,150.90 C107.35,153.85 106.95,156.05 105.90,158.20 C104.85,160.35 102.72,162.45 100.60,163.80 C98.48,165.15 95.77,165.85 93.20,166.30 C90.63,166.75 87.15,166.13 85.20,166.50 C83.25,166.87 82.37,167.33 81.50,168.50 C80.63,169.67 80.83,172.12 80.00,173.50 C79.17,174.88 78.00,176.25 76.50,176.80 C75.00,177.35 72.92,177.20 71.00,176.80 C69.08,176.40 67.33,175.62 65.00,174.40 C62.67,173.18 60.33,171.25 57.00,169.50 C53.67,167.75 48.73,165.28 45.00,163.90 C41.27,162.52 37.55,162.08 34.60,161.20 C31.65,160.32 29.30,160.08 27.30,158.60 C25.30,157.12 23.18,154.48 22.60,152.30 Z" fill="#5cbe69"/>
<g filter="url(#bl)">
<polygon points="56.5,116.6 71.1,116.2 84.2,120.5 95.9,129 103.2,139.5 107.9,150.9 106.9,158.2 100.6,164.8 91.5,167.3 88,160 92,150 88,140 80,133 70,130 60,128 55,122" fill="#62c168" opacity="1"/>
<polygon points="21.6,152.3 22.8,145.5 26.5,137.8 32.5,129.5 43.4,122.1 48,130 46,140 50,150 48,158 34.6,162.8 26.3,159.4" fill="#4cae74" opacity="1"/>
<polygon points="44,161 52,163 60,168 68,173.5 74,178 80,177 82.5,170.5 78,166 70,162 60,158 50,157" fill="#6cc662" opacity="1"/>
<ellipse cx="70" cy="134" rx="22" ry="4" fill="#6fcd6c" transform="rotate(0 70 134)" opacity="1"/>
<ellipse cx="95" cy="158" rx="8" ry="6" fill="#a4d94a" transform="rotate(0 95 158)" opacity="1"/>
<ellipse cx="25" cy="150" rx="3" ry="6" fill="#8ed250" transform="rotate(0 25 150)" opacity="1"/>
<ellipse cx="50" cy="130" rx="8" ry="4" fill="#4eae72" transform="rotate(0 50 130)" opacity="1"/>
</g>
<path d="M48.00,137.00 C49.67,136.17 54.33,133.17 58.00,132.00 C61.67,130.83 66.00,130.00 70.00,130.00 C74.00,130.00 78.33,130.67 82.00,132.00 C85.67,133.33 89.17,135.67 92.00,138.00 C94.83,140.33 97.50,143.33 99.00,146.00 C100.50,148.67 100.67,152.67 101.00,154.00 " fill="none" stroke="#173a1c" stroke-width="1.5" opacity="0.45" stroke-linecap="round" filter="url(#bl3)"/>
<path d="M26.00,150.00 C27.33,149.33 31.00,146.50 34.00,146.00 C37.00,145.50 41.00,146.50 44.00,147.00 C47.00,147.50 50.67,148.67 52.00,149.00 " fill="none" stroke="#173a1c" stroke-width="1.5" opacity="0.45" stroke-linecap="round" filter="url(#bl3)"/>
<path d="M36.00,129.00 C36.67,130.33 38.50,134.33 40.00,137.00 C41.50,139.67 44.17,143.67 45.00,145.00 " fill="none" stroke="#173a1c" stroke-width="1.5" opacity="0.45" stroke-linecap="round" filter="url(#bl3)"/>
<path d="M56.00,121.00 C56.67,122.17 59.33,126.83 60.00,128.00 " fill="none" stroke="#173a1c" stroke-width="1.5" opacity="0.45" stroke-linecap="round" filter="url(#bl3)"/>
<path d="M30.00,140.00 C31.33,140.17 35.33,140.33 38.00,141.00 C40.67,141.67 44.67,143.50 46.00,144.00 " fill="none" stroke="#173a1c" stroke-width="1.5" opacity="0.45" stroke-linecap="round" filter="url(#bl3)"/>
<path d="M93.00,158.00 C93.83,158.67 97.17,161.33 98.00,162.00 " fill="none" stroke="#173a1c" stroke-width="1.5" opacity="0.45" stroke-linecap="round" filter="url(#bl3)"/>
<path d="M22.60,152.30 C22.02,150.12 22.98,147.92 23.80,145.50 C24.62,143.08 25.88,140.30 27.50,137.80 C29.12,135.30 30.85,132.95 33.50,130.50 C36.15,128.05 39.57,125.25 43.40,123.10 C47.23,120.95 51.88,118.58 56.50,117.60 C61.12,116.62 66.48,116.55 71.10,117.20 C75.72,117.85 80.07,119.37 84.20,121.50 C88.33,123.63 92.73,126.83 95.90,130.00 C99.07,133.17 101.37,137.02 103.20,140.50 C105.03,143.98 106.45,147.95 106.90,150.90 C107.35,153.85 106.95,156.05 105.90,158.20 C104.85,160.35 102.72,162.45 100.60,163.80 C98.48,165.15 95.77,165.85 93.20,166.30 C90.63,166.75 87.15,166.13 85.20,166.50 C83.25,166.87 82.37,167.33 81.50,168.50 C80.63,169.67 80.83,172.12 80.00,173.50 C79.17,174.88 78.00,176.25 76.50,176.80 C75.00,177.35 72.92,177.20 71.00,176.80 C69.08,176.40 67.33,175.62 65.00,174.40 C62.67,173.18 60.33,171.25 57.00,169.50 C53.67,167.75 48.73,165.28 45.00,163.90 C41.27,162.52 37.55,162.08 34.60,161.20 C31.65,160.32 29.30,160.08 27.30,158.60 C25.30,157.12 23.18,154.48 22.60,152.30 Z" fill="url(#vshade)"/>
<path d="M22.60,152.30 C22.02,150.12 22.98,147.92 23.80,145.50 C24.62,143.08 25.88,140.30 27.50,137.80 C29.12,135.30 30.85,132.95 33.50,130.50 C36.15,128.05 39.57,125.25 43.40,123.10 C47.23,120.95 51.88,118.58 56.50,117.60 C61.12,116.62 66.48,116.55 71.10,117.20 C75.72,117.85 80.07,119.37 84.20,121.50 C88.33,123.63 92.73,126.83 95.90,130.00 C99.07,133.17 101.37,137.02 103.20,140.50 C105.03,143.98 106.45,147.95 106.90,150.90 C107.35,153.85 106.95,156.05 105.90,158.20 C104.85,160.35 102.72,162.45 100.60,163.80 C98.48,165.15 95.77,165.85 93.20,166.30 C90.63,166.75 87.15,166.13 85.20,166.50 C83.25,166.87 82.37,167.33 81.50,168.50 C80.63,169.67 80.83,172.12 80.00,173.50 C79.17,174.88 78.00,176.25 76.50,176.80 C75.00,177.35 72.92,177.20 71.00,176.80 C69.08,176.40 67.33,175.62 65.00,174.40 C62.67,173.18 60.33,171.25 57.00,169.50 C53.67,167.75 48.73,165.28 45.00,163.90 C41.27,162.52 37.55,162.08 34.60,161.20 C31.65,160.32 29.30,160.08 27.30,158.60 C25.30,157.12 23.18,154.48 22.60,152.30 Z" fill="none" stroke="#000" stroke-width="4" opacity="0.140" filter="url(#bl2)"/>
<path d="M52.00,152.50 C52.75,152.17 55.08,154.45 57.00,155.50 C58.92,156.55 61.50,157.92 63.50,158.80 C65.50,159.68 67.33,160.43 69.00,160.80 C70.67,161.17 72.33,161.13 73.50,161.00 C74.67,160.87 75.33,159.67 76.00,160.00 C76.67,160.33 77.50,161.83 77.50,163.00 C77.50,164.17 76.67,165.83 76.00,167.00 C75.33,168.17 74.50,169.47 73.50,170.00 C72.50,170.53 71.42,170.57 70.00,170.20 C68.58,169.83 67.00,169.08 65.00,167.80 C63.00,166.52 60.08,164.22 58.00,162.50 C55.92,160.78 53.50,159.17 52.50,157.50 C51.50,155.83 51.25,152.83 52.00,152.50 Z" fill="url(#hipg)"/>
<path d="M53,155.2 C58,159 64,163.5 70.5,168.2" fill="none" stroke="#4a4a4a" stroke-width="0.8" opacity="0.8"/>
<path d="M55,155 C60,158.3 66,162.3 72,166.2" fill="none" stroke="#6a6a6a" stroke-width="0.6" opacity="0.7"/>
<path d="M53.00,147.00 C53.13,145.78 53.65,144.60 54.60,143.80 C55.55,143.00 56.95,142.60 58.70,142.20 C60.45,141.80 62.97,141.47 65.10,141.40 C67.23,141.33 69.23,141.40 71.50,141.80 C73.77,142.20 76.42,142.78 78.70,143.80 C80.98,144.82 83.45,146.68 85.20,147.90 C86.95,149.12 88.47,150.17 89.20,151.10 C89.93,152.03 89.87,152.83 89.60,153.50 C89.33,154.17 88.73,154.70 87.60,155.10 C86.47,155.50 84.55,155.63 82.80,155.90 C81.05,156.17 78.32,156.17 77.10,156.70 C75.88,157.23 76.17,158.43 75.50,159.10 C74.83,159.77 74.17,160.50 73.10,160.70 C72.03,160.90 70.70,160.70 69.10,160.30 C67.50,159.90 65.52,159.17 63.50,158.30 C61.48,157.43 58.62,156.30 57.00,155.10 C55.38,153.90 54.47,152.45 53.80,151.10 C53.13,149.75 52.87,148.22 53.00,147.00 Z" fill="#ffffff"/>
</g>
<path d="M22.60,152.30 C22.02,150.12 22.98,147.92 23.80,145.50 C24.62,143.08 25.88,140.30 27.50,137.80 C29.12,135.30 30.85,132.95 33.50,130.50 C36.15,128.05 39.57,125.25 43.40,123.10 C47.23,120.95 51.88,118.58 56.50,117.60 C61.12,116.62 66.48,116.55 71.10,117.20 C75.72,117.85 80.07,119.37 84.20,121.50 C88.33,123.63 92.73,126.83 95.90,130.00 C99.07,133.17 101.37,137.02 103.20,140.50 C105.03,143.98 106.45,147.95 106.90,150.90 C107.35,153.85 106.95,156.05 105.90,158.20 C104.85,160.35 102.72,162.45 100.60,163.80 C98.48,165.15 95.77,165.85 93.20,166.30 C90.63,166.75 87.15,166.13 85.20,166.50 C83.25,166.87 82.37,167.33 81.50,168.50 C80.63,169.67 80.83,172.12 80.00,173.50 C79.17,174.88 78.00,176.25 76.50,176.80 C75.00,177.35 72.92,177.20 71.00,176.80 C69.08,176.40 67.33,175.62 65.00,174.40 C62.67,173.18 60.33,171.25 57.00,169.50 C53.67,167.75 48.73,165.28 45.00,163.90 C41.27,162.52 37.55,162.08 34.60,161.20 C31.65,160.32 29.30,160.08 27.30,158.60 C25.30,157.12 23.18,154.48 22.60,152.30 Z" fill="none" stroke="#244d2a" stroke-width="0.8" opacity="0.85"/>
</g>
<g transform="translate(221.00 187.80) scale(-1 1)">
<clipPath id="cp8"><path d="M22.60,152.30 C22.02,150.12 22.98,147.92 23.80,145.50 C24.62,143.08 25.88,140.30 27.50,137.80 C29.12,135.30 30.85,132.95 33.50,130.50 C36.15,128.05 39.57,125.25 43.40,123.10 C47.23,120.95 51.88,118.58 56.50,117.60 C61.12,116.62 66.48,116.55 71.10,117.20 C75.72,117.85 80.07,119.37 84.20,121.50 C88.33,123.63 92.73,126.83 95.90,130.00 C99.07,133.17 101.37,137.02 103.20,140.50 C105.03,143.98 106.45,147.95 106.90,150.90 C107.35,153.85 106.95,156.05 105.90,158.20 C104.85,160.35 102.72,162.45 100.60,163.80 C98.48,165.15 95.77,165.85 93.20,166.30 C90.63,166.75 87.15,166.13 85.20,166.50 C83.25,166.87 82.37,167.33 81.50,168.50 C80.63,169.67 80.83,172.12 80.00,173.50 C79.17,174.88 78.00,176.25 76.50,176.80 C75.00,177.35 72.92,177.20 71.00,176.80 C69.08,176.40 67.33,175.62 65.00,174.40 C62.67,173.18 60.33,171.25 57.00,169.50 C53.67,167.75 48.73,165.28 45.00,163.90 C41.27,162.52 37.55,162.08 34.60,161.20 C31.65,160.32 29.30,160.08 27.30,158.60 C25.30,157.12 23.18,154.48 22.60,152.30 Z"/></clipPath>
<g clip-path="url(#cp8)">
<path d="M22.60,152.30 C22.02,150.12 22.98,147.92 23.80,145.50 C24.62,143.08 25.88,140.30 27.50,137.80 C29.12,135.30 30.85,132.95 33.50,130.50 C36.15,128.05 39.57,125.25 43.40,123.10 C47.23,120.95 51.88,118.58 56.50,117.60 C61.12,116.62 66.48,116.55 71.10,117.20 C75.72,117.85 80.07,119.37 84.20,121.50 C88.33,123.63 92.73,126.83 95.90,130.00 C99.07,133.17 101.37,137.02 103.20,140.50 C105.03,143.98 106.45,147.95 106.90,150.90 C107.35,153.85 106.95,156.05 105.90,158.20 C104.85,160.35 102.72,162.45 100.60,163.80 C98.48,165.15 95.77,165.85 93.20,166.30 C90.63,166.75 87.15,166.13 85.20,166.50 C83.25,166.87 82.37,167.33 81.50,168.50 C80.63,169.67 80.83,172.12 80.00,173.50 C79.17,174.88 78.00,176.25 76.50,176.80 C75.00,177.35 72.92,177.20 71.00,176.80 C69.08,176.40 67.33,175.62 65.00,174.40 C62.67,173.18 60.33,171.25 57.00,169.50 C53.67,167.75 48.73,165.28 45.00,163.90 C41.27,162.52 37.55,162.08 34.60,161.20 C31.65,160.32 29.30,160.08 27.30,158.60 C25.30,157.12 23.18,154.48 22.60,152.30 Z" fill="#5cbe69"/>
<g filter="url(#bl)">
<polygon points="56.5,116.6 71.1,116.2 84.2,120.5 95.9,129 103.2,139.5 107.9,150.9 106.9,158.2 100.6,164.8 91.5,167.3 88,160 92,150 88,140 80,133 70,130 60,128 55,122" fill="#62c168" opacity="1"/>
<polygon points="21.6,152.3 22.8,145.5 26.5,137.8 32.5,129.5 43.4,122.1 48,130 46,140 50,150 48,158 34.6,162.8 26.3,159.4" fill="#4cae74" opacity="1"/>
<polygon points="44,161 52,163 60,168 68,173.5 74,178 80,177 82.5,170.5 78,166 70,162 60,158 50,157" fill="#6cc662" opacity="1"/>
<ellipse cx="70" cy="134" rx="22" ry="4" fill="#6fcd6c" transform="rotate(0 70 134)" opacity="1"/>
<ellipse cx="95" cy="158" rx="8" ry="6" fill="#a4d94a" transform="rotate(0 95 158)" opacity="1"/>
<ellipse cx="25" cy="150" rx="3" ry="6" fill="#8ed250" transform="rotate(0 25 150)" opacity="1"/>
<ellipse cx="50" cy="130" rx="8" ry="4" fill="#4eae72" transform="rotate(0 50 130)" opacity="1"/>
</g>
<path d="M48.00,137.00 C49.67,136.17 54.33,133.17 58.00,132.00 C61.67,130.83 66.00,130.00 70.00,130.00 C74.00,130.00 78.33,130.67 82.00,132.00 C85.67,133.33 89.17,135.67 92.00,138.00 C94.83,140.33 97.50,143.33 99.00,146.00 C100.50,148.67 100.67,152.67 101.00,154.00 " fill="none" stroke="#173a1c" stroke-width="1.5" opacity="0.45" stroke-linecap="round" filter="url(#bl3)"/>
<path d="M26.00,150.00 C27.33,149.33 31.00,146.50 34.00,146.00 C37.00,145.50 41.00,146.50 44.00,147.00 C47.00,147.50 50.67,148.67 52.00,149.00 " fill="none" stroke="#173a1c" stroke-width="1.5" opacity="0.45" stroke-linecap="round" filter="url(#bl3)"/>
<path d="M36.00,129.00 C36.67,130.33 38.50,134.33 40.00,137.00 C41.50,139.67 44.17,143.67 45.00,145.00 " fill="none" stroke="#173a1c" stroke-width="1.5" opacity="0.45" stroke-linecap="round" filter="url(#bl3)"/>
<path d="M56.00,121.00 C56.67,122.17 59.33,126.83 60.00,128.00 " fill="none" stroke="#173a1c" stroke-width="1.5" opacity="0.45" stroke-linecap="round" filter="url(#bl3)"/>
<path d="M30.00,140.00 C31.33,140.17 35.33,140.33 38.00,141.00 C40.67,141.67 44.67,143.50 46.00,144.00 " fill="none" stroke="#173a1c" stroke-width="1.5" opacity="0.45" stroke-linecap="round" filter="url(#bl3)"/>
<path d="M93.00,158.00 C93.83,158.67 97.17,161.33 98.00,162.00 " fill="none" stroke="#173a1c" stroke-width="1.5" opacity="0.45" stroke-linecap="round" filter="url(#bl3)"/>
<path d="M22.60,152.30 C22.02,150.12 22.98,147.92 23.80,145.50 C24.62,143.08 25.88,140.30 27.50,137.80 C29.12,135.30 30.85,132.95 33.50,130.50 C36.15,128.05 39.57,125.25 43.40,123.10 C47.23,120.95 51.88,118.58 56.50,117.60 C61.12,116.62 66.48,116.55 71.10,117.20 C75.72,117.85 80.07,119.37 84.20,121.50 C88.33,123.63 92.73,126.83 95.90,130.00 C99.07,133.17 101.37,137.02 103.20,140.50 C105.03,143.98 106.45,147.95 106.90,150.90 C107.35,153.85 106.95,156.05 105.90,158.20 C104.85,160.35 102.72,162.45 100.60,163.80 C98.48,165.15 95.77,165.85 93.20,166.30 C90.63,166.75 87.15,166.13 85.20,166.50 C83.25,166.87 82.37,167.33 81.50,168.50 C80.63,169.67 80.83,172.12 80.00,173.50 C79.17,174.88 78.00,176.25 76.50,176.80 C75.00,177.35 72.92,177.20 71.00,176.80 C69.08,176.40 67.33,175.62 65.00,174.40 C62.67,173.18 60.33,171.25 57.00,169.50 C53.67,167.75 48.73,165.28 45.00,163.90 C41.27,162.52 37.55,162.08 34.60,161.20 C31.65,160.32 29.30,160.08 27.30,158.60 C25.30,157.12 23.18,154.48 22.60,152.30 Z" fill="url(#vshade)"/>
<path d="M22.60,152.30 C22.02,150.12 22.98,147.92 23.80,145.50 C24.62,143.08 25.88,140.30 27.50,137.80 C29.12,135.30 30.85,132.95 33.50,130.50 C36.15,128.05 39.57,125.25 43.40,123.10 C47.23,120.95 51.88,118.58 56.50,117.60 C61.12,116.62 66.48,116.55 71.10,117.20 C75.72,117.85 80.07,119.37 84.20,121.50 C88.33,123.63 92.73,126.83 95.90,130.00 C99.07,133.17 101.37,137.02 103.20,140.50 C105.03,143.98 106.45,147.95 106.90,150.90 C107.35,153.85 106.95,156.05 105.90,158.20 C104.85,160.35 102.72,162.45 100.60,163.80 C98.48,165.15 95.77,165.85 93.20,166.30 C90.63,166.75 87.15,166.13 85.20,166.50 C83.25,166.87 82.37,167.33 81.50,168.50 C80.63,169.67 80.83,172.12 80.00,173.50 C79.17,174.88 78.00,176.25 76.50,176.80 C75.00,177.35 72.92,177.20 71.00,176.80 C69.08,176.40 67.33,175.62 65.00,174.40 C62.67,173.18 60.33,171.25 57.00,169.50 C53.67,167.75 48.73,165.28 45.00,163.90 C41.27,162.52 37.55,162.08 34.60,161.20 C31.65,160.32 29.30,160.08 27.30,158.60 C25.30,157.12 23.18,154.48 22.60,152.30 Z" fill="none" stroke="#000" stroke-width="4" opacity="0.140" filter="url(#bl2)"/>
<path d="M52.00,152.50 C52.75,152.17 55.08,154.45 57.00,155.50 C58.92,156.55 61.50,157.92 63.50,158.80 C65.50,159.68 67.33,160.43 69.00,160.80 C70.67,161.17 72.33,161.13 73.50,161.00 C74.67,160.87 75.33,159.67 76.00,160.00 C76.67,160.33 77.50,161.83 77.50,163.00 C77.50,164.17 76.67,165.83 76.00,167.00 C75.33,168.17 74.50,169.47 73.50,170.00 C72.50,170.53 71.42,170.57 70.00,170.20 C68.58,169.83 67.00,169.08 65.00,167.80 C63.00,166.52 60.08,164.22 58.00,162.50 C55.92,160.78 53.50,159.17 52.50,157.50 C51.50,155.83 51.25,152.83 52.00,152.50 Z" fill="url(#hipg)"/>
<path d="M53,155.2 C58,159 64,163.5 70.5,168.2" fill="none" stroke="#4a4a4a" stroke-width="0.8" opacity="0.8"/>
<path d="M55,155 C60,158.3 66,162.3 72,166.2" fill="none" stroke="#6a6a6a" stroke-width="0.6" opacity="0.7"/>
<path d="M53.00,147.00 C53.13,145.78 53.65,144.60 54.60,143.80 C55.55,143.00 56.95,142.60 58.70,142.20 C60.45,141.80 62.97,141.47 65.10,141.40 C67.23,141.33 69.23,141.40 71.50,141.80 C73.77,142.20 76.42,142.78 78.70,143.80 C80.98,144.82 83.45,146.68 85.20,147.90 C86.95,149.12 88.47,150.17 89.20,151.10 C89.93,152.03 89.87,152.83 89.60,153.50 C89.33,154.17 88.73,154.70 87.60,155.10 C86.47,155.50 84.55,155.63 82.80,155.90 C81.05,156.17 78.32,156.17 77.10,156.70 C75.88,157.23 76.17,158.43 75.50,159.10 C74.83,159.77 74.17,160.50 73.10,160.70 C72.03,160.90 70.70,160.70 69.10,160.30 C67.50,159.90 65.52,159.17 63.50,158.30 C61.48,157.43 58.62,156.30 57.00,155.10 C55.38,153.90 54.47,152.45 53.80,151.10 C53.13,149.75 52.87,148.22 53.00,147.00 Z" fill="#ffffff"/>
</g>
<path d="M22.60,152.30 C22.02,150.12 22.98,147.92 23.80,145.50 C24.62,143.08 25.88,140.30 27.50,137.80 C29.12,135.30 30.85,132.95 33.50,130.50 C36.15,128.05 39.57,125.25 43.40,123.10 C47.23,120.95 51.88,118.58 56.50,117.60 C61.12,116.62 66.48,116.55 71.10,117.20 C75.72,117.85 80.07,119.37 84.20,121.50 C88.33,123.63 92.73,126.83 95.90,130.00 C99.07,133.17 101.37,137.02 103.20,140.50 C105.03,143.98 106.45,147.95 106.90,150.90 C107.35,153.85 106.95,156.05 105.90,158.20 C104.85,160.35 102.72,162.45 100.60,163.80 C98.48,165.15 95.77,165.85 93.20,166.30 C90.63,166.75 87.15,166.13 85.20,166.50 C83.25,166.87 82.37,167.33 81.50,168.50 C80.63,169.67 80.83,172.12 80.00,173.50 C79.17,174.88 78.00,176.25 76.50,176.80 C75.00,177.35 72.92,177.20 71.00,176.80 C69.08,176.40 67.33,175.62 65.00,174.40 C62.67,173.18 60.33,171.25 57.00,169.50 C53.67,167.75 48.73,165.28 45.00,163.90 C41.27,162.52 37.55,162.08 34.60,161.20 C31.65,160.32 29.30,160.08 27.30,158.60 C25.30,157.12 23.18,154.48 22.60,152.30 Z" fill="none" stroke="#244d2a" stroke-width="0.8" opacity="0.85"/>
</g>
<g transform="translate(205.20 0.00)">
<clipPath id="cp9"><path d="M22.90,80.10 C23.08,78.15 23.47,74.77 24.30,72.50 C25.13,70.23 26.37,68.58 27.90,66.50 C29.43,64.42 31.40,62.05 33.50,60.00 C35.60,57.95 37.72,55.97 40.50,54.20 C43.28,52.43 46.38,50.72 50.20,49.40 C54.02,48.08 59.23,46.90 63.40,46.30 C67.57,45.70 71.48,45.48 75.20,45.80 C78.92,46.12 82.42,46.58 85.70,48.20 C88.98,49.82 92.27,52.78 94.90,55.50 C97.53,58.22 99.75,61.42 101.50,64.50 C103.25,67.58 104.60,71.18 105.40,74.00 C106.20,76.82 106.48,79.18 106.30,81.40 C106.12,83.62 105.55,85.82 104.30,87.30 C103.05,88.78 101.25,89.55 98.80,90.30 C96.35,91.05 92.88,91.02 89.60,91.80 C86.32,92.58 82.38,93.63 79.10,95.00 C75.82,96.37 73.00,98.47 69.90,100.00 C66.80,101.53 63.12,103.37 60.50,104.20 C57.88,105.03 56.02,105.27 54.20,105.00 C52.38,104.73 50.70,103.67 49.60,102.60 C48.50,101.53 48.07,99.80 47.60,98.60 C47.13,97.40 47.65,95.98 46.80,95.40 C45.95,94.82 44.38,95.25 42.50,95.10 C40.62,94.95 37.62,94.95 35.50,94.50 C33.38,94.05 31.48,93.42 29.80,92.40 C28.12,91.38 26.50,89.77 25.40,88.40 C24.30,87.03 23.62,85.58 23.20,84.20 C22.78,82.82 22.72,82.05 22.90,80.10 Z"/></clipPath>
<g clip-path="url(#cp9)">
<path d="M22.90,80.10 C23.08,78.15 23.47,74.77 24.30,72.50 C25.13,70.23 26.37,68.58 27.90,66.50 C29.43,64.42 31.40,62.05 33.50,60.00 C35.60,57.95 37.72,55.97 40.50,54.20 C43.28,52.43 46.38,50.72 50.20,49.40 C54.02,48.08 59.23,46.90 63.40,46.30 C67.57,45.70 71.48,45.48 75.20,45.80 C78.92,46.12 82.42,46.58 85.70,48.20 C88.98,49.82 92.27,52.78 94.90,55.50 C97.53,58.22 99.75,61.42 101.50,64.50 C103.25,67.58 104.60,71.18 105.40,74.00 C106.20,76.82 106.48,79.18 106.30,81.40 C106.12,83.62 105.55,85.82 104.30,87.30 C103.05,88.78 101.25,89.55 98.80,90.30 C96.35,91.05 92.88,91.02 89.60,91.80 C86.32,92.58 82.38,93.63 79.10,95.00 C75.82,96.37 73.00,98.47 69.90,100.00 C66.80,101.53 63.12,103.37 60.50,104.20 C57.88,105.03 56.02,105.27 54.20,105.00 C52.38,104.73 50.70,103.67 49.60,102.60 C48.50,101.53 48.07,99.80 47.60,98.60 C47.13,97.40 47.65,95.98 46.80,95.40 C45.95,94.82 44.38,95.25 42.50,95.10 C40.62,94.95 37.62,94.95 35.50,94.50 C33.38,94.05 31.48,93.42 29.80,92.40 C28.12,91.38 26.50,89.77 25.40,88.40 C24.30,87.03 23.62,85.58 23.20,84.20 C22.78,82.82 22.72,82.05 22.90,80.10 Z" fill="#dba497"/>
<g filter="url(#bl)">
<polygon points="72.4,59 78,55.5 86,57 93,61.5 99,69 106,77 107,87 100,90.5 91,91 84,88 80,80 76,72" fill="#e8a86b" opacity="1"/>
<polygon points="41,81 46,78.5 54,78 62,76.5 68.5,74.8 70,77 62,80 56,84 53,89 50,93 44,93 41,88" fill="#b9a3d6" opacity="1"/>
<ellipse cx="35" cy="93.5" rx="10" ry="2.8" fill="#b8a0d0" transform="rotate(-3 35 93.5)" opacity="1"/>
<ellipse cx="93" cy="92" rx="9" ry="2.5" fill="#c4a2c4" transform="rotate(-8 93 92)" opacity="1"/>
<ellipse cx="27" cy="78" rx="4" ry="10" fill="#e2a67c" transform="rotate(0 27 78)" opacity="1"/>
</g>
<path d="M31.60,63.90 C34.02,62.80 41.72,58.83 46.10,57.30 C50.48,55.77 55.05,55.58 57.90,54.70 C60.75,53.82 62.32,52.45 63.20,52.00 " fill="none" stroke="#3e241e" stroke-width="1.5" opacity="0.5" stroke-linecap="round" filter="url(#bl3)"/>
<path d="M33.00,80.90 C34.75,79.82 40.23,76.37 43.50,74.40 C46.77,72.43 50.20,70.42 52.60,69.10 C55.00,67.78 57.02,66.93 57.90,66.50 " fill="none" stroke="#3e241e" stroke-width="1.5" opacity="0.5" stroke-linecap="round" filter="url(#bl3)"/>
<path d="M63.20,52.00 C62.53,53.75 60.73,59.22 59.20,62.50 C57.67,65.78 55.10,69.07 54.00,71.70 C52.90,74.33 52.83,77.20 52.60,78.30 " fill="none" stroke="#3e241e" stroke-width="1.5" opacity="0.5" stroke-linecap="round" filter="url(#bl3)"/>
<path d="M69.70,49.40 C69.05,51.15 67.12,56.83 65.80,59.90 C64.48,62.97 62.90,65.62 61.80,67.80 C60.70,69.98 59.63,72.13 59.20,73.00 " fill="none" stroke="#3e241e" stroke-width="1.5" opacity="0.5" stroke-linecap="round" filter="url(#bl3)"/>
<path d="M76.30,50.70 C75.65,52.23 73.50,57.05 72.40,59.90 C71.30,62.75 70.15,66.48 69.70,67.80 " fill="none" stroke="#3e241e" stroke-width="1.5" opacity="0.5" stroke-linecap="round" filter="url(#bl3)"/>
<path d="M40.80,83.60 C42.55,83.17 47.80,81.88 51.30,81.00 C54.80,80.12 58.73,79.63 61.80,78.30 C64.87,76.97 67.28,74.53 69.70,73.00 C72.12,71.47 74.32,70.62 76.30,69.10 C78.28,67.58 80.72,64.77 81.60,63.90 " fill="none" stroke="#3e241e" stroke-width="1.5" opacity="0.5" stroke-linecap="round" filter="url(#bl3)"/>
<path d="M52.60,91.40 C54.80,90.53 61.42,88.05 65.80,86.20 C70.18,84.35 75.18,82.50 78.90,80.30 C82.62,78.10 85.68,75.30 88.10,73.00 C90.52,70.70 92.52,67.58 93.40,66.50 " fill="none" stroke="#3e241e" stroke-width="1.5" opacity="0.5" stroke-linecap="round" filter="url(#bl3)"/>
<path d="M47.00,94.80 C47.83,94.25 49.97,92.57 52.00,91.50 C54.03,90.43 56.87,89.40 59.20,88.40 C61.53,87.40 63.80,86.57 66.00,85.50 C68.20,84.43 70.40,83.33 72.40,82.00 C74.40,80.67 76.47,78.93 78.00,77.50 C79.53,76.07 81.00,74.08 81.60,73.40 " fill="none" stroke="#3e241e" stroke-width="1.5" opacity="0.5" stroke-linecap="round" filter="url(#bl3)"/>
<path d="M72.40,59.90 C74.15,59.68 79.83,58.38 82.90,58.60 C85.97,58.82 88.62,59.88 90.80,61.20 C92.98,62.52 94.47,64.30 96.00,66.50 C97.53,68.70 99.33,73.08 100.00,74.40 " fill="none" stroke="#3e241e" stroke-width="1.5" opacity="0.5" stroke-linecap="round" filter="url(#bl3)"/>
<path d="M56.60,98.00 C59.23,97.02 67.58,93.73 72.40,92.10 C77.22,90.47 81.13,89.30 85.50,88.20 C89.87,87.10 96.42,85.95 98.60,85.50 " fill="none" stroke="#3e241e" stroke-width="1.5" opacity="0.5" stroke-linecap="round" filter="url(#bl3)"/>
<path d="M98.60,70.40 C99.48,71.93 103.02,78.07 103.90,79.60 " fill="none" stroke="#3e241e" stroke-width="1.5" opacity="0.5" stroke-linecap="round" filter="url(#bl3)"/>
<path d="M25.00,74.40 C25.88,73.08 28.10,68.70 30.30,66.50 C32.50,64.30 36.88,62.08 38.20,61.20 " fill="none" stroke="#3e241e" stroke-width="1.5" opacity="0.5" stroke-linecap="round" filter="url(#bl3)"/>
<path d="M27.70,82.20 C29.02,82.87 33.20,85.32 35.60,86.20 C38.00,87.08 41.02,87.28 42.10,87.50 " fill="none" stroke="#3e241e" stroke-width="1.5" opacity="0.5" stroke-linecap="round" filter="url(#bl3)"/>
<path d="M22.90,80.10 C23.08,78.15 23.47,74.77 24.30,72.50 C25.13,70.23 26.37,68.58 27.90,66.50 C29.43,64.42 31.40,62.05 33.50,60.00 C35.60,57.95 37.72,55.97 40.50,54.20 C43.28,52.43 46.38,50.72 50.20,49.40 C54.02,48.08 59.23,46.90 63.40,46.30 C67.57,45.70 71.48,45.48 75.20,45.80 C78.92,46.12 82.42,46.58 85.70,48.20 C88.98,49.82 92.27,52.78 94.90,55.50 C97.53,58.22 99.75,61.42 101.50,64.50 C103.25,67.58 104.60,71.18 105.40,74.00 C106.20,76.82 106.48,79.18 106.30,81.40 C106.12,83.62 105.55,85.82 104.30,87.30 C103.05,88.78 101.25,89.55 98.80,90.30 C96.35,91.05 92.88,91.02 89.60,91.80 C86.32,92.58 82.38,93.63 79.10,95.00 C75.82,96.37 73.00,98.47 69.90,100.00 C66.80,101.53 63.12,103.37 60.50,104.20 C57.88,105.03 56.02,105.27 54.20,105.00 C52.38,104.73 50.70,103.67 49.60,102.60 C48.50,101.53 48.07,99.80 47.60,98.60 C47.13,97.40 47.65,95.98 46.80,95.40 C45.95,94.82 44.38,95.25 42.50,95.10 C40.62,94.95 37.62,94.95 35.50,94.50 C33.38,94.05 31.48,93.42 29.80,92.40 C28.12,91.38 26.50,89.77 25.40,88.40 C24.30,87.03 23.62,85.58 23.20,84.20 C22.78,82.82 22.72,82.05 22.90,80.10 Z" fill="url(#vshade)"/>
<path d="M22.90,80.10 C23.08,78.15 23.47,74.77 24.30,72.50 C25.13,70.23 26.37,68.58 27.90,66.50 C29.43,64.42 31.40,62.05 33.50,60.00 C35.60,57.95 37.72,55.97 40.50,54.20 C43.28,52.43 46.38,50.72 50.20,49.40 C54.02,48.08 59.23,46.90 63.40,46.30 C67.57,45.70 71.48,45.48 75.20,45.80 C78.92,46.12 82.42,46.58 85.70,48.20 C88.98,49.82 92.27,52.78 94.90,55.50 C97.53,58.22 99.75,61.42 101.50,64.50 C103.25,67.58 104.60,71.18 105.40,74.00 C106.20,76.82 106.48,79.18 106.30,81.40 C106.12,83.62 105.55,85.82 104.30,87.30 C103.05,88.78 101.25,89.55 98.80,90.30 C96.35,91.05 92.88,91.02 89.60,91.80 C86.32,92.58 82.38,93.63 79.10,95.00 C75.82,96.37 73.00,98.47 69.90,100.00 C66.80,101.53 63.12,103.37 60.50,104.20 C57.88,105.03 56.02,105.27 54.20,105.00 C52.38,104.73 50.70,103.67 49.60,102.60 C48.50,101.53 48.07,99.80 47.60,98.60 C47.13,97.40 47.65,95.98 46.80,95.40 C45.95,94.82 44.38,95.25 42.50,95.10 C40.62,94.95 37.62,94.95 35.50,94.50 C33.38,94.05 31.48,93.42 29.80,92.40 C28.12,91.38 26.50,89.77 25.40,88.40 C24.30,87.03 23.62,85.58 23.20,84.20 C22.78,82.82 22.72,82.05 22.90,80.10 Z" fill="none" stroke="#000" stroke-width="4" opacity="0.140" filter="url(#bl2)"/>
</g>
<path d="M22.90,80.10 C23.08,78.15 23.47,74.77 24.30,72.50 C25.13,70.23 26.37,68.58 27.90,66.50 C29.43,64.42 31.40,62.05 33.50,60.00 C35.60,57.95 37.72,55.97 40.50,54.20 C43.28,52.43 46.38,50.72 50.20,49.40 C54.02,48.08 59.23,46.90 63.40,46.30 C67.57,45.70 71.48,45.48 75.20,45.80 C78.92,46.12 82.42,46.58 85.70,48.20 C88.98,49.82 92.27,52.78 94.90,55.50 C97.53,58.22 99.75,61.42 101.50,64.50 C103.25,67.58 104.60,71.18 105.40,74.00 C106.20,76.82 106.48,79.18 106.30,81.40 C106.12,83.62 105.55,85.82 104.30,87.30 C103.05,88.78 101.25,89.55 98.80,90.30 C96.35,91.05 92.88,91.02 89.60,91.80 C86.32,92.58 82.38,93.63 79.10,95.00 C75.82,96.37 73.00,98.47 69.90,100.00 C66.80,101.53 63.12,103.37 60.50,104.20 C57.88,105.03 56.02,105.27 54.20,105.00 C52.38,104.73 50.70,103.67 49.60,102.60 C48.50,101.53 48.07,99.80 47.60,98.60 C47.13,97.40 47.65,95.98 46.80,95.40 C45.95,94.82 44.38,95.25 42.50,95.10 C40.62,94.95 37.62,94.95 35.50,94.50 C33.38,94.05 31.48,93.42 29.80,92.40 C28.12,91.38 26.50,89.77 25.40,88.40 C24.30,87.03 23.62,85.58 23.20,84.20 C22.78,82.82 22.72,82.05 22.90,80.10 Z" fill="none" stroke="#4a2e28" stroke-width="0.8" opacity="0.85"/>
</g>
<g transform="translate(426.20 0.00) scale(-1 1)">
<clipPath id="cp10"><path d="M22.90,80.10 C23.08,78.15 23.47,74.77 24.30,72.50 C25.13,70.23 26.37,68.58 27.90,66.50 C29.43,64.42 31.40,62.05 33.50,60.00 C35.60,57.95 37.72,55.97 40.50,54.20 C43.28,52.43 46.38,50.72 50.20,49.40 C54.02,48.08 59.23,46.90 63.40,46.30 C67.57,45.70 71.48,45.48 75.20,45.80 C78.92,46.12 82.42,46.58 85.70,48.20 C88.98,49.82 92.27,52.78 94.90,55.50 C97.53,58.22 99.75,61.42 101.50,64.50 C103.25,67.58 104.60,71.18 105.40,74.00 C106.20,76.82 106.48,79.18 106.30,81.40 C106.12,83.62 105.55,85.82 104.30,87.30 C103.05,88.78 101.25,89.55 98.80,90.30 C96.35,91.05 92.88,91.02 89.60,91.80 C86.32,92.58 82.38,93.63 79.10,95.00 C75.82,96.37 73.00,98.47 69.90,100.00 C66.80,101.53 63.12,103.37 60.50,104.20 C57.88,105.03 56.02,105.27 54.20,105.00 C52.38,104.73 50.70,103.67 49.60,102.60 C48.50,101.53 48.07,99.80 47.60,98.60 C47.13,97.40 47.65,95.98 46.80,95.40 C45.95,94.82 44.38,95.25 42.50,95.10 C40.62,94.95 37.62,94.95 35.50,94.50 C33.38,94.05 31.48,93.42 29.80,92.40 C28.12,91.38 26.50,89.77 25.40,88.40 C24.30,87.03 23.62,85.58 23.20,84.20 C22.78,82.82 22.72,82.05 22.90,80.10 Z"/></clipPath>
<g clip-path="url(#cp10)">
<path d="M22.90,80.10 C23.08,78.15 23.47,74.77 24.30,72.50 C25.13,70.23 26.37,68.58 27.90,66.50 C29.43,64.42 31.40,62.05 33.50,60.00 C35.60,57.95 37.72,55.97 40.50,54.20 C43.28,52.43 46.38,50.72 50.20,49.40 C54.02,48.08 59.23,46.90 63.40,46.30 C67.57,45.70 71.48,45.48 75.20,45.80 C78.92,46.12 82.42,46.58 85.70,48.20 C88.98,49.82 92.27,52.78 94.90,55.50 C97.53,58.22 99.75,61.42 101.50,64.50 C103.25,67.58 104.60,71.18 105.40,74.00 C106.20,76.82 106.48,79.18 106.30,81.40 C106.12,83.62 105.55,85.82 104.30,87.30 C103.05,88.78 101.25,89.55 98.80,90.30 C96.35,91.05 92.88,91.02 89.60,91.80 C86.32,92.58 82.38,93.63 79.10,95.00 C75.82,96.37 73.00,98.47 69.90,100.00 C66.80,101.53 63.12,103.37 60.50,104.20 C57.88,105.03 56.02,105.27 54.20,105.00 C52.38,104.73 50.70,103.67 49.60,102.60 C48.50,101.53 48.07,99.80 47.60,98.60 C47.13,97.40 47.65,95.98 46.80,95.40 C45.95,94.82 44.38,95.25 42.50,95.10 C40.62,94.95 37.62,94.95 35.50,94.50 C33.38,94.05 31.48,93.42 29.80,92.40 C28.12,91.38 26.50,89.77 25.40,88.40 C24.30,87.03 23.62,85.58 23.20,84.20 C22.78,82.82 22.72,82.05 22.90,80.10 Z" fill="#dba497"/>
<g filter="url(#bl)">
<polygon points="72.4,59 78,55.5 86,57 93,61.5 99,69 106,77 107,87 100,90.5 91,91 84,88 80,80 76,72" fill="#e8a86b" opacity="1"/>
<polygon points="41,81 46,78.5 54,78 62,76.5 68.5,74.8 70,77 62,80 56,84 53,89 50,93 44,93 41,88" fill="#b9a3d6" opacity="1"/>
<ellipse cx="35" cy="93.5" rx="10" ry="2.8" fill="#b8a0d0" transform="rotate(-3 35 93.5)" opacity="1"/>
<ellipse cx="93" cy="92" rx="9" ry="2.5" fill="#c4a2c4" transform="rotate(-8 93 92)" opacity="1"/>
<ellipse cx="27" cy="78" rx="4" ry="10" fill="#e2a67c" transform="rotate(0 27 78)" opacity="1"/>
</g>
<path d="M31.60,63.90 C34.02,62.80 41.72,58.83 46.10,57.30 C50.48,55.77 55.05,55.58 57.90,54.70 C60.75,53.82 62.32,52.45 63.20,52.00 " fill="none" stroke="#3e241e" stroke-width="1.5" opacity="0.5" stroke-linecap="round" filter="url(#bl3)"/>
<path d="M33.00,80.90 C34.75,79.82 40.23,76.37 43.50,74.40 C46.77,72.43 50.20,70.42 52.60,69.10 C55.00,67.78 57.02,66.93 57.90,66.50 " fill="none" stroke="#3e241e" stroke-width="1.5" opacity="0.5" stroke-linecap="round" filter="url(#bl3)"/>
<path d="M63.20,52.00 C62.53,53.75 60.73,59.22 59.20,62.50 C57.67,65.78 55.10,69.07 54.00,71.70 C52.90,74.33 52.83,77.20 52.60,78.30 " fill="none" stroke="#3e241e" stroke-width="1.5" opacity="0.5" stroke-linecap="round" filter="url(#bl3)"/>
<path d="M69.70,49.40 C69.05,51.15 67.12,56.83 65.80,59.90 C64.48,62.97 62.90,65.62 61.80,67.80 C60.70,69.98 59.63,72.13 59.20,73.00 " fill="none" stroke="#3e241e" stroke-width="1.5" opacity="0.5" stroke-linecap="round" filter="url(#bl3)"/>
<path d="M76.30,50.70 C75.65,52.23 73.50,57.05 72.40,59.90 C71.30,62.75 70.15,66.48 69.70,67.80 " fill="none" stroke="#3e241e" stroke-width="1.5" opacity="0.5" stroke-linecap="round" filter="url(#bl3)"/>
<path d="M40.80,83.60 C42.55,83.17 47.80,81.88 51.30,81.00 C54.80,80.12 58.73,79.63 61.80,78.30 C64.87,76.97 67.28,74.53 69.70,73.00 C72.12,71.47 74.32,70.62 76.30,69.10 C78.28,67.58 80.72,64.77 81.60,63.90 " fill="none" stroke="#3e241e" stroke-width="1.5" opacity="0.5" stroke-linecap="round" filter="url(#bl3)"/>
<path d="M52.60,91.40 C54.80,90.53 61.42,88.05 65.80,86.20 C70.18,84.35 75.18,82.50 78.90,80.30 C82.62,78.10 85.68,75.30 88.10,73.00 C90.52,70.70 92.52,67.58 93.40,66.50 " fill="none" stroke="#3e241e" stroke-width="1.5" opacity="0.5" stroke-linecap="round" filter="url(#bl3)"/>
<path d="M47.00,94.80 C47.83,94.25 49.97,92.57 52.00,91.50 C54.03,90.43 56.87,89.40 59.20,88.40 C61.53,87.40 63.80,86.57 66.00,85.50 C68.20,84.43 70.40,83.33 72.40,82.00 C74.40,80.67 76.47,78.93 78.00,77.50 C79.53,76.07 81.00,74.08 81.60,73.40 " fill="none" stroke="#3e241e" stroke-width="1.5" opacity="0.5" stroke-linecap="round" filter="url(#bl3)"/>
<path d="M72.40,59.90 C74.15,59.68 79.83,58.38 82.90,58.60 C85.97,58.82 88.62,59.88 90.80,61.20 C92.98,62.52 94.47,64.30 96.00,66.50 C97.53,68.70 99.33,73.08 100.00,74.40 " fill="none" stroke="#3e241e" stroke-width="1.5" opacity="0.5" stroke-linecap="round" filter="url(#bl3)"/>
<path d="M56.60,98.00 C59.23,97.02 67.58,93.73 72.40,92.10 C77.22,90.47 81.13,89.30 85.50,88.20 C89.87,87.10 96.42,85.95 98.60,85.50 " fill="none" stroke="#3e241e" stroke-width="1.5" opacity="0.5" stroke-linecap="round" filter="url(#bl3)"/>
<path d="M98.60,70.40 C99.48,71.93 103.02,78.07 103.90,79.60 " fill="none" stroke="#3e241e" stroke-width="1.5" opacity="0.5" stroke-linecap="round" filter="url(#bl3)"/>
<path d="M25.00,74.40 C25.88,73.08 28.10,68.70 30.30,66.50 C32.50,64.30 36.88,62.08 38.20,61.20 " fill="none" stroke="#3e241e" stroke-width="1.5" opacity="0.5" stroke-linecap="round" filter="url(#bl3)"/>
<path d="M27.70,82.20 C29.02,82.87 33.20,85.32 35.60,86.20 C38.00,87.08 41.02,87.28 42.10,87.50 " fill="none" stroke="#3e241e" stroke-width="1.5" opacity="0.5" stroke-linecap="round" filter="url(#bl3)"/>
<path d="M22.90,80.10 C23.08,78.15 23.47,74.77 24.30,72.50 C25.13,70.23 26.37,68.58 27.90,66.50 C29.43,64.42 31.40,62.05 33.50,60.00 C35.60,57.95 37.72,55.97 40.50,54.20 C43.28,52.43 46.38,50.72 50.20,49.40 C54.02,48.08 59.23,46.90 63.40,46.30 C67.57,45.70 71.48,45.48 75.20,45.80 C78.92,46.12 82.42,46.58 85.70,48.20 C88.98,49.82 92.27,52.78 94.90,55.50 C97.53,58.22 99.75,61.42 101.50,64.50 C103.25,67.58 104.60,71.18 105.40,74.00 C106.20,76.82 106.48,79.18 106.30,81.40 C106.12,83.62 105.55,85.82 104.30,87.30 C103.05,88.78 101.25,89.55 98.80,90.30 C96.35,91.05 92.88,91.02 89.60,91.80 C86.32,92.58 82.38,93.63 79.10,95.00 C75.82,96.37 73.00,98.47 69.90,100.00 C66.80,101.53 63.12,103.37 60.50,104.20 C57.88,105.03 56.02,105.27 54.20,105.00 C52.38,104.73 50.70,103.67 49.60,102.60 C48.50,101.53 48.07,99.80 47.60,98.60 C47.13,97.40 47.65,95.98 46.80,95.40 C45.95,94.82 44.38,95.25 42.50,95.10 C40.62,94.95 37.62,94.95 35.50,94.50 C33.38,94.05 31.48,93.42 29.80,92.40 C28.12,91.38 26.50,89.77 25.40,88.40 C24.30,87.03 23.62,85.58 23.20,84.20 C22.78,82.82 22.72,82.05 22.90,80.10 Z" fill="url(#vshade)"/>
<path d="M22.90,80.10 C23.08,78.15 23.47,74.77 24.30,72.50 C25.13,70.23 26.37,68.58 27.90,66.50 C29.43,64.42 31.40,62.05 33.50,60.00 C35.60,57.95 37.72,55.97 40.50,54.20 C43.28,52.43 46.38,50.72 50.20,49.40 C54.02,48.08 59.23,46.90 63.40,46.30 C67.57,45.70 71.48,45.48 75.20,45.80 C78.92,46.12 82.42,46.58 85.70,48.20 C88.98,49.82 92.27,52.78 94.90,55.50 C97.53,58.22 99.75,61.42 101.50,64.50 C103.25,67.58 104.60,71.18 105.40,74.00 C106.20,76.82 106.48,79.18 106.30,81.40 C106.12,83.62 105.55,85.82 104.30,87.30 C103.05,88.78 101.25,89.55 98.80,90.30 C96.35,91.05 92.88,91.02 89.60,91.80 C86.32,92.58 82.38,93.63 79.10,95.00 C75.82,96.37 73.00,98.47 69.90,100.00 C66.80,101.53 63.12,103.37 60.50,104.20 C57.88,105.03 56.02,105.27 54.20,105.00 C52.38,104.73 50.70,103.67 49.60,102.60 C48.50,101.53 48.07,99.80 47.60,98.60 C47.13,97.40 47.65,95.98 46.80,95.40 C45.95,94.82 44.38,95.25 42.50,95.10 C40.62,94.95 37.62,94.95 35.50,94.50 C33.38,94.05 31.48,93.42 29.80,92.40 C28.12,91.38 26.50,89.77 25.40,88.40 C24.30,87.03 23.62,85.58 23.20,84.20 C22.78,82.82 22.72,82.05 22.90,80.10 Z" fill="none" stroke="#000" stroke-width="4" opacity="0.140" filter="url(#bl2)"/>
</g>
<path d="M22.90,80.10 C23.08,78.15 23.47,74.77 24.30,72.50 C25.13,70.23 26.37,68.58 27.90,66.50 C29.43,64.42 31.40,62.05 33.50,60.00 C35.60,57.95 37.72,55.97 40.50,54.20 C43.28,52.43 46.38,50.72 50.20,49.40 C54.02,48.08 59.23,46.90 63.40,46.30 C67.57,45.70 71.48,45.48 75.20,45.80 C78.92,46.12 82.42,46.58 85.70,48.20 C88.98,49.82 92.27,52.78 94.90,55.50 C97.53,58.22 99.75,61.42 101.50,64.50 C103.25,67.58 104.60,71.18 105.40,74.00 C106.20,76.82 106.48,79.18 106.30,81.40 C106.12,83.62 105.55,85.82 104.30,87.30 C103.05,88.78 101.25,89.55 98.80,90.30 C96.35,91.05 92.88,91.02 89.60,91.80 C86.32,92.58 82.38,93.63 79.10,95.00 C75.82,96.37 73.00,98.47 69.90,100.00 C66.80,101.53 63.12,103.37 60.50,104.20 C57.88,105.03 56.02,105.27 54.20,105.00 C52.38,104.73 50.70,103.67 49.60,102.60 C48.50,101.53 48.07,99.80 47.60,98.60 C47.13,97.40 47.65,95.98 46.80,95.40 C45.95,94.82 44.38,95.25 42.50,95.10 C40.62,94.95 37.62,94.95 35.50,94.50 C33.38,94.05 31.48,93.42 29.80,92.40 C28.12,91.38 26.50,89.77 25.40,88.40 C24.30,87.03 23.62,85.58 23.20,84.20 C22.78,82.82 22.72,82.05 22.90,80.10 Z" fill="none" stroke="#4a2e28" stroke-width="0.8" opacity="0.85"/>
</g>
<g transform="translate(205.20 0.00)">
<clipPath id="cp11"><path d="M22.60,152.30 C22.02,150.12 22.98,147.92 23.80,145.50 C24.62,143.08 25.88,140.30 27.50,137.80 C29.12,135.30 30.85,132.95 33.50,130.50 C36.15,128.05 39.57,125.25 43.40,123.10 C47.23,120.95 51.88,118.58 56.50,117.60 C61.12,116.62 66.48,116.55 71.10,117.20 C75.72,117.85 80.07,119.37 84.20,121.50 C88.33,123.63 92.73,126.83 95.90,130.00 C99.07,133.17 101.37,137.02 103.20,140.50 C105.03,143.98 106.45,147.95 106.90,150.90 C107.35,153.85 106.95,156.05 105.90,158.20 C104.85,160.35 102.72,162.45 100.60,163.80 C98.48,165.15 95.77,165.85 93.20,166.30 C90.63,166.75 87.15,166.13 85.20,166.50 C83.25,166.87 82.37,167.33 81.50,168.50 C80.63,169.67 80.83,172.12 80.00,173.50 C79.17,174.88 78.00,176.25 76.50,176.80 C75.00,177.35 72.92,177.20 71.00,176.80 C69.08,176.40 67.33,175.62 65.00,174.40 C62.67,173.18 60.33,171.25 57.00,169.50 C53.67,167.75 48.73,165.28 45.00,163.90 C41.27,162.52 37.55,162.08 34.60,161.20 C31.65,160.32 29.30,160.08 27.30,158.60 C25.30,157.12 23.18,154.48 22.60,152.30 Z"/></clipPath>
<g clip-path="url(#cp11)">
<path d="M22.60,152.30 C22.02,150.12 22.98,147.92 23.80,145.50 C24.62,143.08 25.88,140.30 27.50,137.80 C29.12,135.30 30.85,132.95 33.50,130.50 C36.15,128.05 39.57,125.25 43.40,123.10 C47.23,120.95 51.88,118.58 56.50,117.60 C61.12,116.62 66.48,116.55 71.10,117.20 C75.72,117.85 80.07,119.37 84.20,121.50 C88.33,123.63 92.73,126.83 95.90,130.00 C99.07,133.17 101.37,137.02 103.20,140.50 C105.03,143.98 106.45,147.95 106.90,150.90 C107.35,153.85 106.95,156.05 105.90,158.20 C104.85,160.35 102.72,162.45 100.60,163.80 C98.48,165.15 95.77,165.85 93.20,166.30 C90.63,166.75 87.15,166.13 85.20,166.50 C83.25,166.87 82.37,167.33 81.50,168.50 C80.63,169.67 80.83,172.12 80.00,173.50 C79.17,174.88 78.00,176.25 76.50,176.80 C75.00,177.35 72.92,177.20 71.00,176.80 C69.08,176.40 67.33,175.62 65.00,174.40 C62.67,173.18 60.33,171.25 57.00,169.50 C53.67,167.75 48.73,165.28 45.00,163.90 C41.27,162.52 37.55,162.08 34.60,161.20 C31.65,160.32 29.30,160.08 27.30,158.60 C25.30,157.12 23.18,154.48 22.60,152.30 Z" fill="#cea2b8"/>
<g filter="url(#bl)">
<polygon points="21.6,152.3 22.8,145.5 26.5,137.8 32.5,129.5 43.4,122.1 48,130 46,140 50,150 48,158 34.6,162.8 26.3,159.4" fill="#c0a0cc" opacity="1"/>
<polygon points="21,152.3 22.3,145.5 26,137.8 31,131 35,131 35,138 32,146 31,155 29,161 23,158" fill="#e8a870" opacity="1"/>
<ellipse cx="40" cy="140" rx="5" ry="8" fill="#a8a4cc" transform="rotate(0 40 140)" opacity="1"/>
<ellipse cx="46" cy="124" rx="11" ry="6" fill="#dba098" transform="rotate(-20 46 124)" opacity="1"/>
<ellipse cx="96" cy="135" rx="9" ry="9" fill="#d8a098" transform="rotate(0 96 135)" opacity="1"/>
<ellipse cx="72" cy="122" rx="14" ry="5" fill="#b8a4d8" transform="rotate(0 72 122)" opacity="1"/>
<ellipse cx="70" cy="136" rx="21" ry="5.5" fill="#a9a8d4" transform="rotate(0 70 136)" opacity="1"/>
<ellipse cx="70" cy="139.6" rx="18" ry="2.6" fill="#86c49c" transform="rotate(0 70 139.6)" opacity="1"/>
<path d="M52,141 C50,145 50,149 52,152" fill="none" stroke="#88c49c" stroke-width="2.2"/>
<ellipse cx="100" cy="156" rx="6" ry="7" fill="#b8a2d6" transform="rotate(0 100 156)" opacity="1"/>
<ellipse cx="58" cy="168" rx="12" ry="4" fill="#b4a0d4" transform="rotate(-20 58 168)" opacity="1"/>
<ellipse cx="40" cy="161" rx="7" ry="3" fill="#dca092" transform="rotate(0 40 161)" opacity="1"/>
</g>
<path d="M48.00,137.00 C49.67,136.17 54.33,133.17 58.00,132.00 C61.67,130.83 66.00,130.00 70.00,130.00 C74.00,130.00 78.33,130.67 82.00,132.00 C85.67,133.33 89.17,135.67 92.00,138.00 C94.83,140.33 97.50,143.33 99.00,146.00 C100.50,148.67 100.67,152.67 101.00,154.00 " fill="none" stroke="#3e241e" stroke-width="1.5" opacity="0.45" stroke-linecap="round" filter="url(#bl3)"/>
<path d="M26.00,150.00 C27.33,149.33 31.00,146.50 34.00,146.00 C37.00,145.50 41.00,146.50 44.00,147.00 C47.00,147.50 50.67,148.67 52.00,149.00 " fill="none" stroke="#3e241e" stroke-width="1.5" opacity="0.45" stroke-linecap="round" filter="url(#bl3)"/>
<path d="M36.00,129.00 C36.67,130.33 38.50,134.33 40.00,137.00 C41.50,139.67 44.17,143.67 45.00,145.00 " fill="none" stroke="#3e241e" stroke-width="1.5" opacity="0.45" stroke-linecap="round" filter="url(#bl3)"/>
<path d="M56.00,121.00 C56.67,122.17 59.33,126.83 60.00,128.00 " fill="none" stroke="#3e241e" stroke-width="1.5" opacity="0.45" stroke-linecap="round" filter="url(#bl3)"/>
<path d="M30.00,140.00 C31.33,140.17 35.33,140.33 38.00,141.00 C40.67,141.67 44.67,143.50 46.00,144.00 " fill="none" stroke="#3e241e" stroke-width="1.5" opacity="0.45" stroke-linecap="round" filter="url(#bl3)"/>
<path d="M93.00,158.00 C93.83,158.67 97.17,161.33 98.00,162.00 " fill="none" stroke="#3e241e" stroke-width="1.5" opacity="0.45" stroke-linecap="round" filter="url(#bl3)"/>
<path d="M22.60,152.30 C22.02,150.12 22.98,147.92 23.80,145.50 C24.62,143.08 25.88,140.30 27.50,137.80 C29.12,135.30 30.85,132.95 33.50,130.50 C36.15,128.05 39.57,125.25 43.40,123.10 C47.23,120.95 51.88,118.58 56.50,117.60 C61.12,116.62 66.48,116.55 71.10,117.20 C75.72,117.85 80.07,119.37 84.20,121.50 C88.33,123.63 92.73,126.83 95.90,130.00 C99.07,133.17 101.37,137.02 103.20,140.50 C105.03,143.98 106.45,147.95 106.90,150.90 C107.35,153.85 106.95,156.05 105.90,158.20 C104.85,160.35 102.72,162.45 100.60,163.80 C98.48,165.15 95.77,165.85 93.20,166.30 C90.63,166.75 87.15,166.13 85.20,166.50 C83.25,166.87 82.37,167.33 81.50,168.50 C80.63,169.67 80.83,172.12 80.00,173.50 C79.17,174.88 78.00,176.25 76.50,176.80 C75.00,177.35 72.92,177.20 71.00,176.80 C69.08,176.40 67.33,175.62 65.00,174.40 C62.67,173.18 60.33,171.25 57.00,169.50 C53.67,167.75 48.73,165.28 45.00,163.90 C41.27,162.52 37.55,162.08 34.60,161.20 C31.65,160.32 29.30,160.08 27.30,158.60 C25.30,157.12 23.18,154.48 22.60,152.30 Z" fill="url(#vshade)"/>
<path d="M22.60,152.30 C22.02,150.12 22.98,147.92 23.80,145.50 C24.62,143.08 25.88,140.30 27.50,137.80 C29.12,135.30 30.85,132.95 33.50,130.50 C36.15,128.05 39.57,125.25 43.40,123.10 C47.23,120.95 51.88,118.58 56.50,117.60 C61.12,116.62 66.48,116.55 71.10,117.20 C75.72,117.85 80.07,119.37 84.20,121.50 C88.33,123.63 92.73,126.83 95.90,130.00 C99.07,133.17 101.37,137.02 103.20,140.50 C105.03,143.98 106.45,147.95 106.90,150.90 C107.35,153.85 106.95,156.05 105.90,158.20 C104.85,160.35 102.72,162.45 100.60,163.80 C98.48,165.15 95.77,165.85 93.20,166.30 C90.63,166.75 87.15,166.13 85.20,166.50 C83.25,166.87 82.37,167.33 81.50,168.50 C80.63,169.67 80.83,172.12 80.00,173.50 C79.17,174.88 78.00,176.25 76.50,176.80 C75.00,177.35 72.92,177.20 71.00,176.80 C69.08,176.40 67.33,175.62 65.00,174.40 C62.67,173.18 60.33,171.25 57.00,169.50 C53.67,167.75 48.73,165.28 45.00,163.90 C41.27,162.52 37.55,162.08 34.60,161.20 C31.65,160.32 29.30,160.08 27.30,158.60 C25.30,157.12 23.18,154.48 22.60,152.30 Z" fill="none" stroke="#000" stroke-width="4" opacity="0.140" filter="url(#bl2)"/>
<path d="M52.00,152.50 C52.75,152.17 55.08,154.45 57.00,155.50 C58.92,156.55 61.50,157.92 63.50,158.80 C65.50,159.68 67.33,160.43 69.00,160.80 C70.67,161.17 72.33,161.13 73.50,161.00 C74.67,160.87 75.33,159.67 76.00,160.00 C76.67,160.33 77.50,161.83 77.50,163.00 C77.50,164.17 76.67,165.83 76.00,167.00 C75.33,168.17 74.50,169.47 73.50,170.00 C72.50,170.53 71.42,170.57 70.00,170.20 C68.58,169.83 67.00,169.08 65.00,167.80 C63.00,166.52 60.08,164.22 58.00,162.50 C55.92,160.78 53.50,159.17 52.50,157.50 C51.50,155.83 51.25,152.83 52.00,152.50 Z" fill="url(#hipg)"/>
<path d="M53,155.2 C58,159 64,163.5 70.5,168.2" fill="none" stroke="#4a4a4a" stroke-width="0.8" opacity="0.8"/>
<path d="M55,155 C60,158.3 66,162.3 72,166.2" fill="none" stroke="#6a6a6a" stroke-width="0.6" opacity="0.7"/>
<path d="M53.00,147.00 C53.13,145.78 53.65,144.60 54.60,143.80 C55.55,143.00 56.95,142.60 58.70,142.20 C60.45,141.80 62.97,141.47 65.10,141.40 C67.23,141.33 69.23,141.40 71.50,141.80 C73.77,142.20 76.42,142.78 78.70,143.80 C80.98,144.82 83.45,146.68 85.20,147.90 C86.95,149.12 88.47,150.17 89.20,151.10 C89.93,152.03 89.87,152.83 89.60,153.50 C89.33,154.17 88.73,154.70 87.60,155.10 C86.47,155.50 84.55,155.63 82.80,155.90 C81.05,156.17 78.32,156.17 77.10,156.70 C75.88,157.23 76.17,158.43 75.50,159.10 C74.83,159.77 74.17,160.50 73.10,160.70 C72.03,160.90 70.70,160.70 69.10,160.30 C67.50,159.90 65.52,159.17 63.50,158.30 C61.48,157.43 58.62,156.30 57.00,155.10 C55.38,153.90 54.47,152.45 53.80,151.10 C53.13,149.75 52.87,148.22 53.00,147.00 Z" fill="#ffffff"/>
</g>
<path d="M22.60,152.30 C22.02,150.12 22.98,147.92 23.80,145.50 C24.62,143.08 25.88,140.30 27.50,137.80 C29.12,135.30 30.85,132.95 33.50,130.50 C36.15,128.05 39.57,125.25 43.40,123.10 C47.23,120.95 51.88,118.58 56.50,117.60 C61.12,116.62 66.48,116.55 71.10,117.20 C75.72,117.85 80.07,119.37 84.20,121.50 C88.33,123.63 92.73,126.83 95.90,130.00 C99.07,133.17 101.37,137.02 103.20,140.50 C105.03,143.98 106.45,147.95 106.90,150.90 C107.35,153.85 106.95,156.05 105.90,158.20 C104.85,160.35 102.72,162.45 100.60,163.80 C98.48,165.15 95.77,165.85 93.20,166.30 C90.63,166.75 87.15,166.13 85.20,166.50 C83.25,166.87 82.37,167.33 81.50,168.50 C80.63,169.67 80.83,172.12 80.00,173.50 C79.17,174.88 78.00,176.25 76.50,176.80 C75.00,177.35 72.92,177.20 71.00,176.80 C69.08,176.40 67.33,175.62 65.00,174.40 C62.67,173.18 60.33,171.25 57.00,169.50 C53.67,167.75 48.73,165.28 45.00,163.90 C41.27,162.52 37.55,162.08 34.60,161.20 C31.65,160.32 29.30,160.08 27.30,158.60 C25.30,157.12 23.18,154.48 22.60,152.30 Z" fill="none" stroke="#4a2e28" stroke-width="0.8" opacity="0.85"/>
</g>
<g transform="translate(426.20 0.00) scale(-1 1)">
<clipPath id="cp12"><path d="M22.60,152.30 C22.02,150.12 22.98,147.92 23.80,145.50 C24.62,143.08 25.88,140.30 27.50,137.80 C29.12,135.30 30.85,132.95 33.50,130.50 C36.15,128.05 39.57,125.25 43.40,123.10 C47.23,120.95 51.88,118.58 56.50,117.60 C61.12,116.62 66.48,116.55 71.10,117.20 C75.72,117.85 80.07,119.37 84.20,121.50 C88.33,123.63 92.73,126.83 95.90,130.00 C99.07,133.17 101.37,137.02 103.20,140.50 C105.03,143.98 106.45,147.95 106.90,150.90 C107.35,153.85 106.95,156.05 105.90,158.20 C104.85,160.35 102.72,162.45 100.60,163.80 C98.48,165.15 95.77,165.85 93.20,166.30 C90.63,166.75 87.15,166.13 85.20,166.50 C83.25,166.87 82.37,167.33 81.50,168.50 C80.63,169.67 80.83,172.12 80.00,173.50 C79.17,174.88 78.00,176.25 76.50,176.80 C75.00,177.35 72.92,177.20 71.00,176.80 C69.08,176.40 67.33,175.62 65.00,174.40 C62.67,173.18 60.33,171.25 57.00,169.50 C53.67,167.75 48.73,165.28 45.00,163.90 C41.27,162.52 37.55,162.08 34.60,161.20 C31.65,160.32 29.30,160.08 27.30,158.60 C25.30,157.12 23.18,154.48 22.60,152.30 Z"/></clipPath>
<g clip-path="url(#cp12)">
<path d="M22.60,152.30 C22.02,150.12 22.98,147.92 23.80,145.50 C24.62,143.08 25.88,140.30 27.50,137.80 C29.12,135.30 30.85,132.95 33.50,130.50 C36.15,128.05 39.57,125.25 43.40,123.10 C47.23,120.95 51.88,118.58 56.50,117.60 C61.12,116.62 66.48,116.55 71.10,117.20 C75.72,117.85 80.07,119.37 84.20,121.50 C88.33,123.63 92.73,126.83 95.90,130.00 C99.07,133.17 101.37,137.02 103.20,140.50 C105.03,143.98 106.45,147.95 106.90,150.90 C107.35,153.85 106.95,156.05 105.90,158.20 C104.85,160.35 102.72,162.45 100.60,163.80 C98.48,165.15 95.77,165.85 93.20,166.30 C90.63,166.75 87.15,166.13 85.20,166.50 C83.25,166.87 82.37,167.33 81.50,168.50 C80.63,169.67 80.83,172.12 80.00,173.50 C79.17,174.88 78.00,176.25 76.50,176.80 C75.00,177.35 72.92,177.20 71.00,176.80 C69.08,176.40 67.33,175.62 65.00,174.40 C62.67,173.18 60.33,171.25 57.00,169.50 C53.67,167.75 48.73,165.28 45.00,163.90 C41.27,162.52 37.55,162.08 34.60,161.20 C31.65,160.32 29.30,160.08 27.30,158.60 C25.30,157.12 23.18,154.48 22.60,152.30 Z" fill="#cea2b8"/>
<g filter="url(#bl)">
<polygon points="21.6,152.3 22.8,145.5 26.5,137.8 32.5,129.5 43.4,122.1 48,130 46,140 50,150 48,158 34.6,162.8 26.3,159.4" fill="#c0a0cc" opacity="1"/>
<polygon points="21,152.3 22.3,145.5 26,137.8 31,131 35,131 35,138 32,146 31,155 29,161 23,158" fill="#e8a870" opacity="1"/>
<ellipse cx="40" cy="140" rx="5" ry="8" fill="#a8a4cc" transform="rotate(0 40 140)" opacity="1"/>
<ellipse cx="46" cy="124" rx="11" ry="6" fill="#dba098" transform="rotate(-20 46 124)" opacity="1"/>
<ellipse cx="96" cy="135" rx="9" ry="9" fill="#d8a098" transform="rotate(0 96 135)" opacity="1"/>
<ellipse cx="72" cy="122" rx="14" ry="5" fill="#b8a4d8" transform="rotate(0 72 122)" opacity="1"/>
<ellipse cx="70" cy="136" rx="21" ry="5.5" fill="#a9a8d4" transform="rotate(0 70 136)" opacity="1"/>
<ellipse cx="70" cy="139.6" rx="18" ry="2.6" fill="#86c49c" transform="rotate(0 70 139.6)" opacity="1"/>
<path d="M52,141 C50,145 50,149 52,152" fill="none" stroke="#88c49c" stroke-width="2.2"/>
<ellipse cx="100" cy="156" rx="6" ry="7" fill="#b8a2d6" transform="rotate(0 100 156)" opacity="1"/>
<ellipse cx="58" cy="168" rx="12" ry="4" fill="#b4a0d4" transform="rotate(-20 58 168)" opacity="1"/>
<ellipse cx="40" cy="161" rx="7" ry="3" fill="#dca092" transform="rotate(0 40 161)" opacity="1"/>
</g>
<path d="M48.00,137.00 C49.67,136.17 54.33,133.17 58.00,132.00 C61.67,130.83 66.00,130.00 70.00,130.00 C74.00,130.00 78.33,130.67 82.00,132.00 C85.67,133.33 89.17,135.67 92.00,138.00 C94.83,140.33 97.50,143.33 99.00,146.00 C100.50,148.67 100.67,152.67 101.00,154.00 " fill="none" stroke="#3e241e" stroke-width="1.5" opacity="0.45" stroke-linecap="round" filter="url(#bl3)"/>
<path d="M26.00,150.00 C27.33,149.33 31.00,146.50 34.00,146.00 C37.00,145.50 41.00,146.50 44.00,147.00 C47.00,147.50 50.67,148.67 52.00,149.00 " fill="none" stroke="#3e241e" stroke-width="1.5" opacity="0.45" stroke-linecap="round" filter="url(#bl3)"/>
<path d="M36.00,129.00 C36.67,130.33 38.50,134.33 40.00,137.00 C41.50,139.67 44.17,143.67 45.00,145.00 " fill="none" stroke="#3e241e" stroke-width="1.5" opacity="0.45" stroke-linecap="round" filter="url(#bl3)"/>
<path d="M56.00,121.00 C56.67,122.17 59.33,126.83 60.00,128.00 " fill="none" stroke="#3e241e" stroke-width="1.5" opacity="0.45" stroke-linecap="round" filter="url(#bl3)"/>
<path d="M30.00,140.00 C31.33,140.17 35.33,140.33 38.00,141.00 C40.67,141.67 44.67,143.50 46.00,144.00 " fill="none" stroke="#3e241e" stroke-width="1.5" opacity="0.45" stroke-linecap="round" filter="url(#bl3)"/>
<path d="M93.00,158.00 C93.83,158.67 97.17,161.33 98.00,162.00 " fill="none" stroke="#3e241e" stroke-width="1.5" opacity="0.45" stroke-linecap="round" filter="url(#bl3)"/>
<path d="M22.60,152.30 C22.02,150.12 22.98,147.92 23.80,145.50 C24.62,143.08 25.88,140.30 27.50,137.80 C29.12,135.30 30.85,132.95 33.50,130.50 C36.15,128.05 39.57,125.25 43.40,123.10 C47.23,120.95 51.88,118.58 56.50,117.60 C61.12,116.62 66.48,116.55 71.10,117.20 C75.72,117.85 80.07,119.37 84.20,121.50 C88.33,123.63 92.73,126.83 95.90,130.00 C99.07,133.17 101.37,137.02 103.20,140.50 C105.03,143.98 106.45,147.95 106.90,150.90 C107.35,153.85 106.95,156.05 105.90,158.20 C104.85,160.35 102.72,162.45 100.60,163.80 C98.48,165.15 95.77,165.85 93.20,166.30 C90.63,166.75 87.15,166.13 85.20,166.50 C83.25,166.87 82.37,167.33 81.50,168.50 C80.63,169.67 80.83,172.12 80.00,173.50 C79.17,174.88 78.00,176.25 76.50,176.80 C75.00,177.35 72.92,177.20 71.00,176.80 C69.08,176.40 67.33,175.62 65.00,174.40 C62.67,173.18 60.33,171.25 57.00,169.50 C53.67,167.75 48.73,165.28 45.00,163.90 C41.27,162.52 37.55,162.08 34.60,161.20 C31.65,160.32 29.30,160.08 27.30,158.60 C25.30,157.12 23.18,154.48 22.60,152.30 Z" fill="url(#vshade)"/>
<path d="M22.60,152.30 C22.02,150.12 22.98,147.92 23.80,145.50 C24.62,143.08 25.88,140.30 27.50,137.80 C29.12,135.30 30.85,132.95 33.50,130.50 C36.15,128.05 39.57,125.25 43.40,123.10 C47.23,120.95 51.88,118.58 56.50,117.60 C61.12,116.62 66.48,116.55 71.10,117.20 C75.72,117.85 80.07,119.37 84.20,121.50 C88.33,123.63 92.73,126.83 95.90,130.00 C99.07,133.17 101.37,137.02 103.20,140.50 C105.03,143.98 106.45,147.95 106.90,150.90 C107.35,153.85 106.95,156.05 105.90,158.20 C104.85,160.35 102.72,162.45 100.60,163.80 C98.48,165.15 95.77,165.85 93.20,166.30 C90.63,166.75 87.15,166.13 85.20,166.50 C83.25,166.87 82.37,167.33 81.50,168.50 C80.63,169.67 80.83,172.12 80.00,173.50 C79.17,174.88 78.00,176.25 76.50,176.80 C75.00,177.35 72.92,177.20 71.00,176.80 C69.08,176.40 67.33,175.62 65.00,174.40 C62.67,173.18 60.33,171.25 57.00,169.50 C53.67,167.75 48.73,165.28 45.00,163.90 C41.27,162.52 37.55,162.08 34.60,161.20 C31.65,160.32 29.30,160.08 27.30,158.60 C25.30,157.12 23.18,154.48 22.60,152.30 Z" fill="none" stroke="#000" stroke-width="4" opacity="0.140" filter="url(#bl2)"/>
<path d="M52.00,152.50 C52.75,152.17 55.08,154.45 57.00,155.50 C58.92,156.55 61.50,157.92 63.50,158.80 C65.50,159.68 67.33,160.43 69.00,160.80 C70.67,161.17 72.33,161.13 73.50,161.00 C74.67,160.87 75.33,159.67 76.00,160.00 C76.67,160.33 77.50,161.83 77.50,163.00 C77.50,164.17 76.67,165.83 76.00,167.00 C75.33,168.17 74.50,169.47 73.50,170.00 C72.50,170.53 71.42,170.57 70.00,170.20 C68.58,169.83 67.00,169.08 65.00,167.80 C63.00,166.52 60.08,164.22 58.00,162.50 C55.92,160.78 53.50,159.17 52.50,157.50 C51.50,155.83 51.25,152.83 52.00,152.50 Z" fill="url(#hipg)"/>
<path d="M53,155.2 C58,159 64,163.5 70.5,168.2" fill="none" stroke="#4a4a4a" stroke-width="0.8" opacity="0.8"/>
<path d="M55,155 C60,158.3 66,162.3 72,166.2" fill="none" stroke="#6a6a6a" stroke-width="0.6" opacity="0.7"/>
<path d="M53.00,147.00 C53.13,145.78 53.65,144.60 54.60,143.80 C55.55,143.00 56.95,142.60 58.70,142.20 C60.45,141.80 62.97,141.47 65.10,141.40 C67.23,141.33 69.23,141.40 71.50,141.80 C73.77,142.20 76.42,142.78 78.70,143.80 C80.98,144.82 83.45,146.68 85.20,147.90 C86.95,149.12 88.47,150.17 89.20,151.10 C89.93,152.03 89.87,152.83 89.60,153.50 C89.33,154.17 88.73,154.70 87.60,155.10 C86.47,155.50 84.55,155.63 82.80,155.90 C81.05,156.17 78.32,156.17 77.10,156.70 C75.88,157.23 76.17,158.43 75.50,159.10 C74.83,159.77 74.17,160.50 73.10,160.70 C72.03,160.90 70.70,160.70 69.10,160.30 C67.50,159.90 65.52,159.17 63.50,158.30 C61.48,157.43 58.62,156.30 57.00,155.10 C55.38,153.90 54.47,152.45 53.80,151.10 C53.13,149.75 52.87,148.22 53.00,147.00 Z" fill="#ffffff"/>
</g>
<path d="M22.60,152.30 C22.02,150.12 22.98,147.92 23.80,145.50 C24.62,143.08 25.88,140.30 27.50,137.80 C29.12,135.30 30.85,132.95 33.50,130.50 C36.15,128.05 39.57,125.25 43.40,123.10 C47.23,120.95 51.88,118.58 56.50,117.60 C61.12,116.62 66.48,116.55 71.10,117.20 C75.72,117.85 80.07,119.37 84.20,121.50 C88.33,123.63 92.73,126.83 95.90,130.00 C99.07,133.17 101.37,137.02 103.20,140.50 C105.03,143.98 106.45,147.95 106.90,150.90 C107.35,153.85 106.95,156.05 105.90,158.20 C104.85,160.35 102.72,162.45 100.60,163.80 C98.48,165.15 95.77,165.85 93.20,166.30 C90.63,166.75 87.15,166.13 85.20,166.50 C83.25,166.87 82.37,167.33 81.50,168.50 C80.63,169.67 80.83,172.12 80.00,173.50 C79.17,174.88 78.00,176.25 76.50,176.80 C75.00,177.35 72.92,177.20 71.00,176.80 C69.08,176.40 67.33,175.62 65.00,174.40 C62.67,173.18 60.33,171.25 57.00,169.50 C53.67,167.75 48.73,165.28 45.00,163.90 C41.27,162.52 37.55,162.08 34.60,161.20 C31.65,160.32 29.30,160.08 27.30,158.60 C25.30,157.12 23.18,154.48 22.60,152.30 Z" fill="none" stroke="#4a2e28" stroke-width="0.8" opacity="0.85"/>
</g>
<g transform="translate(205.20 187.80)">
<clipPath id="cp13"><path d="M22.90,80.10 C23.08,78.15 23.47,74.77 24.30,72.50 C25.13,70.23 26.37,68.58 27.90,66.50 C29.43,64.42 31.40,62.05 33.50,60.00 C35.60,57.95 37.72,55.97 40.50,54.20 C43.28,52.43 46.38,50.72 50.20,49.40 C54.02,48.08 59.23,46.90 63.40,46.30 C67.57,45.70 71.48,45.48 75.20,45.80 C78.92,46.12 82.42,46.58 85.70,48.20 C88.98,49.82 92.27,52.78 94.90,55.50 C97.53,58.22 99.75,61.42 101.50,64.50 C103.25,67.58 104.60,71.18 105.40,74.00 C106.20,76.82 106.48,79.18 106.30,81.40 C106.12,83.62 105.55,85.82 104.30,87.30 C103.05,88.78 101.25,89.55 98.80,90.30 C96.35,91.05 92.88,91.02 89.60,91.80 C86.32,92.58 82.38,93.63 79.10,95.00 C75.82,96.37 73.00,98.47 69.90,100.00 C66.80,101.53 63.12,103.37 60.50,104.20 C57.88,105.03 56.02,105.27 54.20,105.00 C52.38,104.73 50.70,103.67 49.60,102.60 C48.50,101.53 48.07,99.80 47.60,98.60 C47.13,97.40 47.65,95.98 46.80,95.40 C45.95,94.82 44.38,95.25 42.50,95.10 C40.62,94.95 37.62,94.95 35.50,94.50 C33.38,94.05 31.48,93.42 29.80,92.40 C28.12,91.38 26.50,89.77 25.40,88.40 C24.30,87.03 23.62,85.58 23.20,84.20 C22.78,82.82 22.72,82.05 22.90,80.10 Z"/></clipPath>
<g clip-path="url(#cp13)">
<path d="M22.90,80.10 C23.08,78.15 23.47,74.77 24.30,72.50 C25.13,70.23 26.37,68.58 27.90,66.50 C29.43,64.42 31.40,62.05 33.50,60.00 C35.60,57.95 37.72,55.97 40.50,54.20 C43.28,52.43 46.38,50.72 50.20,49.40 C54.02,48.08 59.23,46.90 63.40,46.30 C67.57,45.70 71.48,45.48 75.20,45.80 C78.92,46.12 82.42,46.58 85.70,48.20 C88.98,49.82 92.27,52.78 94.90,55.50 C97.53,58.22 99.75,61.42 101.50,64.50 C103.25,67.58 104.60,71.18 105.40,74.00 C106.20,76.82 106.48,79.18 106.30,81.40 C106.12,83.62 105.55,85.82 104.30,87.30 C103.05,88.78 101.25,89.55 98.80,90.30 C96.35,91.05 92.88,91.02 89.60,91.80 C86.32,92.58 82.38,93.63 79.10,95.00 C75.82,96.37 73.00,98.47 69.90,100.00 C66.80,101.53 63.12,103.37 60.50,104.20 C57.88,105.03 56.02,105.27 54.20,105.00 C52.38,104.73 50.70,103.67 49.60,102.60 C48.50,101.53 48.07,99.80 47.60,98.60 C47.13,97.40 47.65,95.98 46.80,95.40 C45.95,94.82 44.38,95.25 42.50,95.10 C40.62,94.95 37.62,94.95 35.50,94.50 C33.38,94.05 31.48,93.42 29.80,92.40 C28.12,91.38 26.50,89.77 25.40,88.40 C24.30,87.03 23.62,85.58 23.20,84.20 C22.78,82.82 22.72,82.05 22.90,80.10 Z" fill="#dfa17e"/>
<g filter="url(#bl)">
<polygon points="47,95 52,91.5 59,88.5 66,85.5 72,82 78,78 82,75 86,80 88,86 80,92 70,98 60,104 54,106.5 48,103" fill="#d9a2a0" opacity="1"/>
<polygon points="41,81 46,78.5 54,78 62,76.5 68.5,74.8 70,77 62,80 56,84 53,89 50,93 44,93 41,88" fill="#d2a2b2" opacity="1"/>
<ellipse cx="56" cy="83" rx="6" ry="2.8" fill="#bfa0cc" transform="rotate(-15 56 83)" opacity="1"/>
<ellipse cx="85" cy="62" rx="12" ry="10" fill="#e6a872" transform="rotate(0 85 62)" opacity="1"/>
<ellipse cx="38" cy="62" rx="10" ry="8" fill="#e4a676" transform="rotate(0 38 62)" opacity="1"/>
<ellipse cx="92" cy="92" rx="8" ry="2.5" fill="#c4a0c0" transform="rotate(-8 92 92)" opacity="1"/>
</g>
<path d="M31.60,63.90 C34.02,62.80 41.72,58.83 46.10,57.30 C50.48,55.77 55.05,55.58 57.90,54.70 C60.75,53.82 62.32,52.45 63.20,52.00 " fill="none" stroke="#3e241e" stroke-width="1.5" opacity="0.55" stroke-linecap="round" filter="url(#bl3)"/>
<path d="M33.00,80.90 C34.75,79.82 40.23,76.37 43.50,74.40 C46.77,72.43 50.20,70.42 52.60,69.10 C55.00,67.78 57.02,66.93 57.90,66.50 " fill="none" stroke="#3e241e" stroke-width="1.5" opacity="0.55" stroke-linecap="round" filter="url(#bl3)"/>
<path d="M63.20,52.00 C62.53,53.75 60.73,59.22 59.20,62.50 C57.67,65.78 55.10,69.07 54.00,71.70 C52.90,74.33 52.83,77.20 52.60,78.30 " fill="none" stroke="#3e241e" stroke-width="1.5" opacity="0.55" stroke-linecap="round" filter="url(#bl3)"/>
<path d="M69.70,49.40 C69.05,51.15 67.12,56.83 65.80,59.90 C64.48,62.97 62.90,65.62 61.80,67.80 C60.70,69.98 59.63,72.13 59.20,73.00 " fill="none" stroke="#3e241e" stroke-width="1.5" opacity="0.55" stroke-linecap="round" filter="url(#bl3)"/>
<path d="M76.30,50.70 C75.65,52.23 73.50,57.05 72.40,59.90 C71.30,62.75 70.15,66.48 69.70,67.80 " fill="none" stroke="#3e241e" stroke-width="1.5" opacity="0.55" stroke-linecap="round" filter="url(#bl3)"/>
<path d="M40.80,83.60 C42.55,83.17 47.80,81.88 51.30,81.00 C54.80,80.12 58.73,79.63 61.80,78.30 C64.87,76.97 67.28,74.53 69.70,73.00 C72.12,71.47 74.32,70.62 76.30,69.10 C78.28,67.58 80.72,64.77 81.60,63.90 " fill="none" stroke="#3e241e" stroke-width="1.5" opacity="0.55" stroke-linecap="round" filter="url(#bl3)"/>
<path d="M52.60,91.40 C54.80,90.53 61.42,88.05 65.80,86.20 C70.18,84.35 75.18,82.50 78.90,80.30 C82.62,78.10 85.68,75.30 88.10,73.00 C90.52,70.70 92.52,67.58 93.40,66.50 " fill="none" stroke="#3e241e" stroke-width="1.5" opacity="0.55" stroke-linecap="round" filter="url(#bl3)"/>
<path d="M47.00,94.80 C47.83,94.25 49.97,92.57 52.00,91.50 C54.03,90.43 56.87,89.40 59.20,88.40 C61.53,87.40 63.80,86.57 66.00,85.50 C68.20,84.43 70.40,83.33 72.40,82.00 C74.40,80.67 76.47,78.93 78.00,77.50 C79.53,76.07 81.00,74.08 81.60,73.40 " fill="none" stroke="#3e241e" stroke-width="1.5" opacity="0.55" stroke-linecap="round" filter="url(#bl3)"/>
<path d="M72.40,59.90 C74.15,59.68 79.83,58.38 82.90,58.60 C85.97,58.82 88.62,59.88 90.80,61.20 C92.98,62.52 94.47,64.30 96.00,66.50 C97.53,68.70 99.33,73.08 100.00,74.40 " fill="none" stroke="#3e241e" stroke-width="1.5" opacity="0.55" stroke-linecap="round" filter="url(#bl3)"/>
<path d="M56.60,98.00 C59.23,97.02 67.58,93.73 72.40,92.10 C77.22,90.47 81.13,89.30 85.50,88.20 C89.87,87.10 96.42,85.95 98.60,85.50 " fill="none" stroke="#3e241e" stroke-width="1.5" opacity="0.55" stroke-linecap="round" filter="url(#bl3)"/>
<path d="M98.60,70.40 C99.48,71.93 103.02,78.07 103.90,79.60 " fill="none" stroke="#3e241e" stroke-width="1.5" opacity="0.55" stroke-linecap="round" filter="url(#bl3)"/>
<path d="M25.00,74.40 C25.88,73.08 28.10,68.70 30.30,66.50 C32.50,64.30 36.88,62.08 38.20,61.20 " fill="none" stroke="#3e241e" stroke-width="1.5" opacity="0.55" stroke-linecap="round" filter="url(#bl3)"/>
<path d="M27.70,82.20 C29.02,82.87 33.20,85.32 35.60,86.20 C38.00,87.08 41.02,87.28 42.10,87.50 " fill="none" stroke="#3e241e" stroke-width="1.5" opacity="0.55" stroke-linecap="round" filter="url(#bl3)"/>
<path d="M22.90,80.10 C23.08,78.15 23.47,74.77 24.30,72.50 C25.13,70.23 26.37,68.58 27.90,66.50 C29.43,64.42 31.40,62.05 33.50,60.00 C35.60,57.95 37.72,55.97 40.50,54.20 C43.28,52.43 46.38,50.72 50.20,49.40 C54.02,48.08 59.23,46.90 63.40,46.30 C67.57,45.70 71.48,45.48 75.20,45.80 C78.92,46.12 82.42,46.58 85.70,48.20 C88.98,49.82 92.27,52.78 94.90,55.50 C97.53,58.22 99.75,61.42 101.50,64.50 C103.25,67.58 104.60,71.18 105.40,74.00 C106.20,76.82 106.48,79.18 106.30,81.40 C106.12,83.62 105.55,85.82 104.30,87.30 C103.05,88.78 101.25,89.55 98.80,90.30 C96.35,91.05 92.88,91.02 89.60,91.80 C86.32,92.58 82.38,93.63 79.10,95.00 C75.82,96.37 73.00,98.47 69.90,100.00 C66.80,101.53 63.12,103.37 60.50,104.20 C57.88,105.03 56.02,105.27 54.20,105.00 C52.38,104.73 50.70,103.67 49.60,102.60 C48.50,101.53 48.07,99.80 47.60,98.60 C47.13,97.40 47.65,95.98 46.80,95.40 C45.95,94.82 44.38,95.25 42.50,95.10 C40.62,94.95 37.62,94.95 35.50,94.50 C33.38,94.05 31.48,93.42 29.80,92.40 C28.12,91.38 26.50,89.77 25.40,88.40 C24.30,87.03 23.62,85.58 23.20,84.20 C22.78,82.82 22.72,82.05 22.90,80.10 Z" fill="url(#vshade)"/>
<path d="M22.90,80.10 C23.08,78.15 23.47,74.77 24.30,72.50 C25.13,70.23 26.37,68.58 27.90,66.50 C29.43,64.42 31.40,62.05 33.50,60.00 C35.60,57.95 37.72,55.97 40.50,54.20 C43.28,52.43 46.38,50.72 50.20,49.40 C54.02,48.08 59.23,46.90 63.40,46.30 C67.57,45.70 71.48,45.48 75.20,45.80 C78.92,46.12 82.42,46.58 85.70,48.20 C88.98,49.82 92.27,52.78 94.90,55.50 C97.53,58.22 99.75,61.42 101.50,64.50 C103.25,67.58 104.60,71.18 105.40,74.00 C106.20,76.82 106.48,79.18 106.30,81.40 C106.12,83.62 105.55,85.82 104.30,87.30 C103.05,88.78 101.25,89.55 98.80,90.30 C96.35,91.05 92.88,91.02 89.60,91.80 C86.32,92.58 82.38,93.63 79.10,95.00 C75.82,96.37 73.00,98.47 69.90,100.00 C66.80,101.53 63.12,103.37 60.50,104.20 C57.88,105.03 56.02,105.27 54.20,105.00 C52.38,104.73 50.70,103.67 49.60,102.60 C48.50,101.53 48.07,99.80 47.60,98.60 C47.13,97.40 47.65,95.98 46.80,95.40 C45.95,94.82 44.38,95.25 42.50,95.10 C40.62,94.95 37.62,94.95 35.50,94.50 C33.38,94.05 31.48,93.42 29.80,92.40 C28.12,91.38 26.50,89.77 25.40,88.40 C24.30,87.03 23.62,85.58 23.20,84.20 C22.78,82.82 22.72,82.05 22.90,80.10 Z" fill="none" stroke="#000" stroke-width="4" opacity="0.140" filter="url(#bl2)"/>
</g>
<path d="M22.90,80.10 C23.08,78.15 23.47,74.77 24.30,72.50 C25.13,70.23 26.37,68.58 27.90,66.50 C29.43,64.42 31.40,62.05 33.50,60.00 C35.60,57.95 37.72,55.97 40.50,54.20 C43.28,52.43 46.38,50.72 50.20,49.40 C54.02,48.08 59.23,46.90 63.40,46.30 C67.57,45.70 71.48,45.48 75.20,45.80 C78.92,46.12 82.42,46.58 85.70,48.20 C88.98,49.82 92.27,52.78 94.90,55.50 C97.53,58.22 99.75,61.42 101.50,64.50 C103.25,67.58 104.60,71.18 105.40,74.00 C106.20,76.82 106.48,79.18 106.30,81.40 C106.12,83.62 105.55,85.82 104.30,87.30 C103.05,88.78 101.25,89.55 98.80,90.30 C96.35,91.05 92.88,91.02 89.60,91.80 C86.32,92.58 82.38,93.63 79.10,95.00 C75.82,96.37 73.00,98.47 69.90,100.00 C66.80,101.53 63.12,103.37 60.50,104.20 C57.88,105.03 56.02,105.27 54.20,105.00 C52.38,104.73 50.70,103.67 49.60,102.60 C48.50,101.53 48.07,99.80 47.60,98.60 C47.13,97.40 47.65,95.98 46.80,95.40 C45.95,94.82 44.38,95.25 42.50,95.10 C40.62,94.95 37.62,94.95 35.50,94.50 C33.38,94.05 31.48,93.42 29.80,92.40 C28.12,91.38 26.50,89.77 25.40,88.40 C24.30,87.03 23.62,85.58 23.20,84.20 C22.78,82.82 22.72,82.05 22.90,80.10 Z" fill="none" stroke="#4a2e28" stroke-width="0.8" opacity="0.85"/>
</g>
<g transform="translate(426.20 187.80) scale(-1 1)">
<clipPath id="cp14"><path d="M22.90,80.10 C23.08,78.15 23.47,74.77 24.30,72.50 C25.13,70.23 26.37,68.58 27.90,66.50 C29.43,64.42 31.40,62.05 33.50,60.00 C35.60,57.95 37.72,55.97 40.50,54.20 C43.28,52.43 46.38,50.72 50.20,49.40 C54.02,48.08 59.23,46.90 63.40,46.30 C67.57,45.70 71.48,45.48 75.20,45.80 C78.92,46.12 82.42,46.58 85.70,48.20 C88.98,49.82 92.27,52.78 94.90,55.50 C97.53,58.22 99.75,61.42 101.50,64.50 C103.25,67.58 104.60,71.18 105.40,74.00 C106.20,76.82 106.48,79.18 106.30,81.40 C106.12,83.62 105.55,85.82 104.30,87.30 C103.05,88.78 101.25,89.55 98.80,90.30 C96.35,91.05 92.88,91.02 89.60,91.80 C86.32,92.58 82.38,93.63 79.10,95.00 C75.82,96.37 73.00,98.47 69.90,100.00 C66.80,101.53 63.12,103.37 60.50,104.20 C57.88,105.03 56.02,105.27 54.20,105.00 C52.38,104.73 50.70,103.67 49.60,102.60 C48.50,101.53 48.07,99.80 47.60,98.60 C47.13,97.40 47.65,95.98 46.80,95.40 C45.95,94.82 44.38,95.25 42.50,95.10 C40.62,94.95 37.62,94.95 35.50,94.50 C33.38,94.05 31.48,93.42 29.80,92.40 C28.12,91.38 26.50,89.77 25.40,88.40 C24.30,87.03 23.62,85.58 23.20,84.20 C22.78,82.82 22.72,82.05 22.90,80.10 Z"/></clipPath>
<g clip-path="url(#cp14)">
<path d="M22.90,80.10 C23.08,78.15 23.47,74.77 24.30,72.50 C25.13,70.23 26.37,68.58 27.90,66.50 C29.43,64.42 31.40,62.05 33.50,60.00 C35.60,57.95 37.72,55.97 40.50,54.20 C43.28,52.43 46.38,50.72 50.20,49.40 C54.02,48.08 59.23,46.90 63.40,46.30 C67.57,45.70 71.48,45.48 75.20,45.80 C78.92,46.12 82.42,46.58 85.70,48.20 C88.98,49.82 92.27,52.78 94.90,55.50 C97.53,58.22 99.75,61.42 101.50,64.50 C103.25,67.58 104.60,71.18 105.40,74.00 C106.20,76.82 106.48,79.18 106.30,81.40 C106.12,83.62 105.55,85.82 104.30,87.30 C103.05,88.78 101.25,89.55 98.80,90.30 C96.35,91.05 92.88,91.02 89.60,91.80 C86.32,92.58 82.38,93.63 79.10,95.00 C75.82,96.37 73.00,98.47 69.90,100.00 C66.80,101.53 63.12,103.37 60.50,104.20 C57.88,105.03 56.02,105.27 54.20,105.00 C52.38,104.73 50.70,103.67 49.60,102.60 C48.50,101.53 48.07,99.80 47.60,98.60 C47.13,97.40 47.65,95.98 46.80,95.40 C45.95,94.82 44.38,95.25 42.50,95.10 C40.62,94.95 37.62,94.95 35.50,94.50 C33.38,94.05 31.48,93.42 29.80,92.40 C28.12,91.38 26.50,89.77 25.40,88.40 C24.30,87.03 23.62,85.58 23.20,84.20 C22.78,82.82 22.72,82.05 22.90,80.10 Z" fill="#dfa17e"/>
<g filter="url(#bl)">
<polygon points="47,95 52,91.5 59,88.5 66,85.5 72,82 78,78 82,75 86,80 88,86 80,92 70,98 60,104 54,106.5 48,103" fill="#d9a2a0" opacity="1"/>
<polygon points="41,81 46,78.5 54,78 62,76.5 68.5,74.8 70,77 62,80 56,84 53,89 50,93 44,93 41,88" fill="#d2a2b2" opacity="1"/>
<ellipse cx="56" cy="83" rx="6" ry="2.8" fill="#bfa0cc" transform="rotate(-15 56 83)" opacity="1"/>
<ellipse cx="85" cy="62" rx="12" ry="10" fill="#e6a872" transform="rotate(0 85 62)" opacity="1"/>
<ellipse cx="38" cy="62" rx="10" ry="8" fill="#e4a676" transform="rotate(0 38 62)" opacity="1"/>
<ellipse cx="92" cy="92" rx="8" ry="2.5" fill="#c4a0c0" transform="rotate(-8 92 92)" opacity="1"/>
</g>
<path d="M31.60,63.90 C34.02,62.80 41.72,58.83 46.10,57.30 C50.48,55.77 55.05,55.58 57.90,54.70 C60.75,53.82 62.32,52.45 63.20,52.00 " fill="none" stroke="#3e241e" stroke-width="1.5" opacity="0.55" stroke-linecap="round" filter="url(#bl3)"/>
<path d="M33.00,80.90 C34.75,79.82 40.23,76.37 43.50,74.40 C46.77,72.43 50.20,70.42 52.60,69.10 C55.00,67.78 57.02,66.93 57.90,66.50 " fill="none" stroke="#3e241e" stroke-width="1.5" opacity="0.55" stroke-linecap="round" filter="url(#bl3)"/>
<path d="M63.20,52.00 C62.53,53.75 60.73,59.22 59.20,62.50 C57.67,65.78 55.10,69.07 54.00,71.70 C52.90,74.33 52.83,77.20 52.60,78.30 " fill="none" stroke="#3e241e" stroke-width="1.5" opacity="0.55" stroke-linecap="round" filter="url(#bl3)"/>
<path d="M69.70,49.40 C69.05,51.15 67.12,56.83 65.80,59.90 C64.48,62.97 62.90,65.62 61.80,67.80 C60.70,69.98 59.63,72.13 59.20,73.00 " fill="none" stroke="#3e241e" stroke-width="1.5" opacity="0.55" stroke-linecap="round" filter="url(#bl3)"/>
<path d="M76.30,50.70 C75.65,52.23 73.50,57.05 72.40,59.90 C71.30,62.75 70.15,66.48 69.70,67.80 " fill="none" stroke="#3e241e" stroke-width="1.5" opacity="0.55" stroke-linecap="round" filter="url(#bl3)"/>
<path d="M40.80,83.60 C42.55,83.17 47.80,81.88 51.30,81.00 C54.80,80.12 58.73,79.63 61.80,78.30 C64.87,76.97 67.28,74.53 69.70,73.00 C72.12,71.47 74.32,70.62 76.30,69.10 C78.28,67.58 80.72,64.77 81.60,63.90 " fill="none" stroke="#3e241e" stroke-width="1.5" opacity="0.55" stroke-linecap="round" filter="url(#bl3)"/>
<path d="M52.60,91.40 C54.80,90.53 61.42,88.05 65.80,86.20 C70.18,84.35 75.18,82.50 78.90,80.30 C82.62,78.10 85.68,75.30 88.10,73.00 C90.52,70.70 92.52,67.58 93.40,66.50 " fill="none" stroke="#3e241e" stroke-width="1.5" opacity="0.55" stroke-linecap="round" filter="url(#bl3)"/>
<path d="M47.00,94.80 C47.83,94.25 49.97,92.57 52.00,91.50 C54.03,90.43 56.87,89.40 59.20,88.40 C61.53,87.40 63.80,86.57 66.00,85.50 C68.20,84.43 70.40,83.33 72.40,82.00 C74.40,80.67 76.47,78.93 78.00,77.50 C79.53,76.07 81.00,74.08 81.60,73.40 " fill="none" stroke="#3e241e" stroke-width="1.5" opacity="0.55" stroke-linecap="round" filter="url(#bl3)"/>
<path d="M72.40,59.90 C74.15,59.68 79.83,58.38 82.90,58.60 C85.97,58.82 88.62,59.88 90.80,61.20 C92.98,62.52 94.47,64.30 96.00,66.50 C97.53,68.70 99.33,73.08 100.00,74.40 " fill="none" stroke="#3e241e" stroke-width="1.5" opacity="0.55" stroke-linecap="round" filter="url(#bl3)"/>
<path d="M56.60,98.00 C59.23,97.02 67.58,93.73 72.40,92.10 C77.22,90.47 81.13,89.30 85.50,88.20 C89.87,87.10 96.42,85.95 98.60,85.50 " fill="none" stroke="#3e241e" stroke-width="1.5" opacity="0.55" stroke-linecap="round" filter="url(#bl3)"/>
<path d="M98.60,70.40 C99.48,71.93 103.02,78.07 103.90,79.60 " fill="none" stroke="#3e241e" stroke-width="1.5" opacity="0.55" stroke-linecap="round" filter="url(#bl3)"/>
<path d="M25.00,74.40 C25.88,73.08 28.10,68.70 30.30,66.50 C32.50,64.30 36.88,62.08 38.20,61.20 " fill="none" stroke="#3e241e" stroke-width="1.5" opacity="0.55" stroke-linecap="round" filter="url(#bl3)"/>
<path d="M27.70,82.20 C29.02,82.87 33.20,85.32 35.60,86.20 C38.00,87.08 41.02,87.28 42.10,87.50 " fill="none" stroke="#3e241e" stroke-width="1.5" opacity="0.55" stroke-linecap="round" filter="url(#bl3)"/>
<path d="M22.90,80.10 C23.08,78.15 23.47,74.77 24.30,72.50 C25.13,70.23 26.37,68.58 27.90,66.50 C29.43,64.42 31.40,62.05 33.50,60.00 C35.60,57.95 37.72,55.97 40.50,54.20 C43.28,52.43 46.38,50.72 50.20,49.40 C54.02,48.08 59.23,46.90 63.40,46.30 C67.57,45.70 71.48,45.48 75.20,45.80 C78.92,46.12 82.42,46.58 85.70,48.20 C88.98,49.82 92.27,52.78 94.90,55.50 C97.53,58.22 99.75,61.42 101.50,64.50 C103.25,67.58 104.60,71.18 105.40,74.00 C106.20,76.82 106.48,79.18 106.30,81.40 C106.12,83.62 105.55,85.82 104.30,87.30 C103.05,88.78 101.25,89.55 98.80,90.30 C96.35,91.05 92.88,91.02 89.60,91.80 C86.32,92.58 82.38,93.63 79.10,95.00 C75.82,96.37 73.00,98.47 69.90,100.00 C66.80,101.53 63.12,103.37 60.50,104.20 C57.88,105.03 56.02,105.27 54.20,105.00 C52.38,104.73 50.70,103.67 49.60,102.60 C48.50,101.53 48.07,99.80 47.60,98.60 C47.13,97.40 47.65,95.98 46.80,95.40 C45.95,94.82 44.38,95.25 42.50,95.10 C40.62,94.95 37.62,94.95 35.50,94.50 C33.38,94.05 31.48,93.42 29.80,92.40 C28.12,91.38 26.50,89.77 25.40,88.40 C24.30,87.03 23.62,85.58 23.20,84.20 C22.78,82.82 22.72,82.05 22.90,80.10 Z" fill="url(#vshade)"/>
<path d="M22.90,80.10 C23.08,78.15 23.47,74.77 24.30,72.50 C25.13,70.23 26.37,68.58 27.90,66.50 C29.43,64.42 31.40,62.05 33.50,60.00 C35.60,57.95 37.72,55.97 40.50,54.20 C43.28,52.43 46.38,50.72 50.20,49.40 C54.02,48.08 59.23,46.90 63.40,46.30 C67.57,45.70 71.48,45.48 75.20,45.80 C78.92,46.12 82.42,46.58 85.70,48.20 C88.98,49.82 92.27,52.78 94.90,55.50 C97.53,58.22 99.75,61.42 101.50,64.50 C103.25,67.58 104.60,71.18 105.40,74.00 C106.20,76.82 106.48,79.18 106.30,81.40 C106.12,83.62 105.55,85.82 104.30,87.30 C103.05,88.78 101.25,89.55 98.80,90.30 C96.35,91.05 92.88,91.02 89.60,91.80 C86.32,92.58 82.38,93.63 79.10,95.00 C75.82,96.37 73.00,98.47 69.90,100.00 C66.80,101.53 63.12,103.37 60.50,104.20 C57.88,105.03 56.02,105.27 54.20,105.00 C52.38,104.73 50.70,103.67 49.60,102.60 C48.50,101.53 48.07,99.80 47.60,98.60 C47.13,97.40 47.65,95.98 46.80,95.40 C45.95,94.82 44.38,95.25 42.50,95.10 C40.62,94.95 37.62,94.95 35.50,94.50 C33.38,94.05 31.48,93.42 29.80,92.40 C28.12,91.38 26.50,89.77 25.40,88.40 C24.30,87.03 23.62,85.58 23.20,84.20 C22.78,82.82 22.72,82.05 22.90,80.10 Z" fill="none" stroke="#000" stroke-width="4" opacity="0.140" filter="url(#bl2)"/>
</g>
<path d="M22.90,80.10 C23.08,78.15 23.47,74.77 24.30,72.50 C25.13,70.23 26.37,68.58 27.90,66.50 C29.43,64.42 31.40,62.05 33.50,60.00 C35.60,57.95 37.72,55.97 40.50,54.20 C43.28,52.43 46.38,50.72 50.20,49.40 C54.02,48.08 59.23,46.90 63.40,46.30 C67.57,45.70 71.48,45.48 75.20,45.80 C78.92,46.12 82.42,46.58 85.70,48.20 C88.98,49.82 92.27,52.78 94.90,55.50 C97.53,58.22 99.75,61.42 101.50,64.50 C103.25,67.58 104.60,71.18 105.40,74.00 C106.20,76.82 106.48,79.18 106.30,81.40 C106.12,83.62 105.55,85.82 104.30,87.30 C103.05,88.78 101.25,89.55 98.80,90.30 C96.35,91.05 92.88,91.02 89.60,91.80 C86.32,92.58 82.38,93.63 79.10,95.00 C75.82,96.37 73.00,98.47 69.90,100.00 C66.80,101.53 63.12,103.37 60.50,104.20 C57.88,105.03 56.02,105.27 54.20,105.00 C52.38,104.73 50.70,103.67 49.60,102.60 C48.50,101.53 48.07,99.80 47.60,98.60 C47.13,97.40 47.65,95.98 46.80,95.40 C45.95,94.82 44.38,95.25 42.50,95.10 C40.62,94.95 37.62,94.95 35.50,94.50 C33.38,94.05 31.48,93.42 29.80,92.40 C28.12,91.38 26.50,89.77 25.40,88.40 C24.30,87.03 23.62,85.58 23.20,84.20 C22.78,82.82 22.72,82.05 22.90,80.10 Z" fill="none" stroke="#4a2e28" stroke-width="0.8" opacity="0.85"/>
</g>
<g transform="translate(205.20 187.80)">
<clipPath id="cp15"><path d="M22.60,152.30 C22.02,150.12 22.98,147.92 23.80,145.50 C24.62,143.08 25.88,140.30 27.50,137.80 C29.12,135.30 30.85,132.95 33.50,130.50 C36.15,128.05 39.57,125.25 43.40,123.10 C47.23,120.95 51.88,118.58 56.50,117.60 C61.12,116.62 66.48,116.55 71.10,117.20 C75.72,117.85 80.07,119.37 84.20,121.50 C88.33,123.63 92.73,126.83 95.90,130.00 C99.07,133.17 101.37,137.02 103.20,140.50 C105.03,143.98 106.45,147.95 106.90,150.90 C107.35,153.85 106.95,156.05 105.90,158.20 C104.85,160.35 102.72,162.45 100.60,163.80 C98.48,165.15 95.77,165.85 93.20,166.30 C90.63,166.75 87.15,166.13 85.20,166.50 C83.25,166.87 82.37,167.33 81.50,168.50 C80.63,169.67 80.83,172.12 80.00,173.50 C79.17,174.88 78.00,176.25 76.50,176.80 C75.00,177.35 72.92,177.20 71.00,176.80 C69.08,176.40 67.33,175.62 65.00,174.40 C62.67,173.18 60.33,171.25 57.00,169.50 C53.67,167.75 48.73,165.28 45.00,163.90 C41.27,162.52 37.55,162.08 34.60,161.20 C31.65,160.32 29.30,160.08 27.30,158.60 C25.30,157.12 23.18,154.48 22.60,152.30 Z"/></clipPath>
<g clip-path="url(#cp15)">
<path d="M22.60,152.30 C22.02,150.12 22.98,147.92 23.80,145.50 C24.62,143.08 25.88,140.30 27.50,137.80 C29.12,135.30 30.85,132.95 33.50,130.50 C36.15,128.05 39.57,125.25 43.40,123.10 C47.23,120.95 51.88,118.58 56.50,117.60 C61.12,116.62 66.48,116.55 71.10,117.20 C75.72,117.85 80.07,119.37 84.20,121.50 C88.33,123.63 92.73,126.83 95.90,130.00 C99.07,133.17 101.37,137.02 103.20,140.50 C105.03,143.98 106.45,147.95 106.90,150.90 C107.35,153.85 106.95,156.05 105.90,158.20 C104.85,160.35 102.72,162.45 100.60,163.80 C98.48,165.15 95.77,165.85 93.20,166.30 C90.63,166.75 87.15,166.13 85.20,166.50 C83.25,166.87 82.37,167.33 81.50,168.50 C80.63,169.67 80.83,172.12 80.00,173.50 C79.17,174.88 78.00,176.25 76.50,176.80 C75.00,177.35 72.92,177.20 71.00,176.80 C69.08,176.40 67.33,175.62 65.00,174.40 C62.67,173.18 60.33,171.25 57.00,169.50 C53.67,167.75 48.73,165.28 45.00,163.90 C41.27,162.52 37.55,162.08 34.60,161.20 C31.65,160.32 29.30,160.08 27.30,158.60 C25.30,157.12 23.18,154.48 22.60,152.30 Z" fill="#dea096"/>
<g filter="url(#bl)">
<ellipse cx="27" cy="148" rx="5" ry="12" fill="#e6a878" transform="rotate(0 27 148)" opacity="1"/>
<ellipse cx="66" cy="139" rx="20" ry="4" fill="#b9a2d2" transform="rotate(0 66 139)" opacity="1"/>
<ellipse cx="40" cy="119" rx="4" ry="3" fill="#e8a870" transform="rotate(0 40 119)" opacity="1"/>
<ellipse cx="60" cy="122" rx="7" ry="5" fill="#c0a2d0" transform="rotate(0 60 122)" opacity="1"/>
<ellipse cx="88" cy="156" rx="5" ry="4" fill="#bca0d0" transform="rotate(0 88 156)" opacity="1"/>
<ellipse cx="100" cy="160" rx="5" ry="4" fill="#e2a47c" transform="rotate(0 100 160)" opacity="1"/>
</g>
<path d="M48.00,137.00 C49.67,136.17 54.33,133.17 58.00,132.00 C61.67,130.83 66.00,130.00 70.00,130.00 C74.00,130.00 78.33,130.67 82.00,132.00 C85.67,133.33 89.17,135.67 92.00,138.00 C94.83,140.33 97.50,143.33 99.00,146.00 C100.50,148.67 100.67,152.67 101.00,154.00 " fill="none" stroke="#3e241e" stroke-width="1.5" opacity="0.45" stroke-linecap="round" filter="url(#bl3)"/>
<path d="M26.00,150.00 C27.33,149.33 31.00,146.50 34.00,146.00 C37.00,145.50 41.00,146.50 44.00,147.00 C47.00,147.50 50.67,148.67 52.00,149.00 " fill="none" stroke="#3e241e" stroke-width="1.5" opacity="0.45" stroke-linecap="round" filter="url(#bl3)"/>
<path d="M36.00,129.00 C36.67,130.33 38.50,134.33 40.00,137.00 C41.50,139.67 44.17,143.67 45.00,145.00 " fill="none" stroke="#3e241e" stroke-width="1.5" opacity="0.45" stroke-linecap="round" filter="url(#bl3)"/>
<path d="M56.00,121.00 C56.67,122.17 59.33,126.83 60.00,128.00 " fill="none" stroke="#3e241e" stroke-width="1.5" opacity="0.45" stroke-linecap="round" filter="url(#bl3)"/>
<path d="M30.00,140.00 C31.33,140.17 35.33,140.33 38.00,141.00 C40.67,141.67 44.67,143.50 46.00,144.00 " fill="none" stroke="#3e241e" stroke-width="1.5" opacity="0.45" stroke-linecap="round" filter="url(#bl3)"/>
<path d="M93.00,158.00 C93.83,158.67 97.17,161.33 98.00,162.00 " fill="none" stroke="#3e241e" stroke-width="1.5" opacity="0.45" stroke-linecap="round" filter="url(#bl3)"/>
<path d="M22.60,152.30 C22.02,150.12 22.98,147.92 23.80,145.50 C24.62,143.08 25.88,140.30 27.50,137.80 C29.12,135.30 30.85,132.95 33.50,130.50 C36.15,128.05 39.57,125.25 43.40,123.10 C47.23,120.95 51.88,118.58 56.50,117.60 C61.12,116.62 66.48,116.55 71.10,117.20 C75.72,117.85 80.07,119.37 84.20,121.50 C88.33,123.63 92.73,126.83 95.90,130.00 C99.07,133.17 101.37,137.02 103.20,140.50 C105.03,143.98 106.45,147.95 106.90,150.90 C107.35,153.85 106.95,156.05 105.90,158.20 C104.85,160.35 102.72,162.45 100.60,163.80 C98.48,165.15 95.77,165.85 93.20,166.30 C90.63,166.75 87.15,166.13 85.20,166.50 C83.25,166.87 82.37,167.33 81.50,168.50 C80.63,169.67 80.83,172.12 80.00,173.50 C79.17,174.88 78.00,176.25 76.50,176.80 C75.00,177.35 72.92,177.20 71.00,176.80 C69.08,176.40 67.33,175.62 65.00,174.40 C62.67,173.18 60.33,171.25 57.00,169.50 C53.67,167.75 48.73,165.28 45.00,163.90 C41.27,162.52 37.55,162.08 34.60,161.20 C31.65,160.32 29.30,160.08 27.30,158.60 C25.30,157.12 23.18,154.48 22.60,152.30 Z" fill="url(#vshade)"/>
<path d="M22.60,152.30 C22.02,150.12 22.98,147.92 23.80,145.50 C24.62,143.08 25.88,140.30 27.50,137.80 C29.12,135.30 30.85,132.95 33.50,130.50 C36.15,128.05 39.57,125.25 43.40,123.10 C47.23,120.95 51.88,118.58 56.50,117.60 C61.12,116.62 66.48,116.55 71.10,117.20 C75.72,117.85 80.07,119.37 84.20,121.50 C88.33,123.63 92.73,126.83 95.90,130.00 C99.07,133.17 101.37,137.02 103.20,140.50 C105.03,143.98 106.45,147.95 106.90,150.90 C107.35,153.85 106.95,156.05 105.90,158.20 C104.85,160.35 102.72,162.45 100.60,163.80 C98.48,165.15 95.77,165.85 93.20,166.30 C90.63,166.75 87.15,166.13 85.20,166.50 C83.25,166.87 82.37,167.33 81.50,168.50 C80.63,169.67 80.83,172.12 80.00,173.50 C79.17,174.88 78.00,176.25 76.50,176.80 C75.00,177.35 72.92,177.20 71.00,176.80 C69.08,176.40 67.33,175.62 65.00,174.40 C62.67,173.18 60.33,171.25 57.00,169.50 C53.67,167.75 48.73,165.28 45.00,163.90 C41.27,162.52 37.55,162.08 34.60,161.20 C31.65,160.32 29.30,160.08 27.30,158.60 C25.30,157.12 23.18,154.48 22.60,152.30 Z" fill="none" stroke="#000" stroke-width="4" opacity="0.140" filter="url(#bl2)"/>
<path d="M52.00,152.50 C52.75,152.17 55.08,154.45 57.00,155.50 C58.92,156.55 61.50,157.92 63.50,158.80 C65.50,159.68 67.33,160.43 69.00,160.80 C70.67,161.17 72.33,161.13 73.50,161.00 C74.67,160.87 75.33,159.67 76.00,160.00 C76.67,160.33 77.50,161.83 77.50,163.00 C77.50,164.17 76.67,165.83 76.00,167.00 C75.33,168.17 74.50,169.47 73.50,170.00 C72.50,170.53 71.42,170.57 70.00,170.20 C68.58,169.83 67.00,169.08 65.00,167.80 C63.00,166.52 60.08,164.22 58.00,162.50 C55.92,160.78 53.50,159.17 52.50,157.50 C51.50,155.83 51.25,152.83 52.00,152.50 Z" fill="url(#hipg)"/>
<path d="M53,155.2 C58,159 64,163.5 70.5,168.2" fill="none" stroke="#4a4a4a" stroke-width="0.8" opacity="0.8"/>
<path d="M55,155 C60,158.3 66,162.3 72,166.2" fill="none" stroke="#6a6a6a" stroke-width="0.6" opacity="0.7"/>
<path d="M53.00,147.00 C53.13,145.78 53.65,144.60 54.60,143.80 C55.55,143.00 56.95,142.60 58.70,142.20 C60.45,141.80 62.97,141.47 65.10,141.40 C67.23,141.33 69.23,141.40 71.50,141.80 C73.77,142.20 76.42,142.78 78.70,143.80 C80.98,144.82 83.45,146.68 85.20,147.90 C86.95,149.12 88.47,150.17 89.20,151.10 C89.93,152.03 89.87,152.83 89.60,153.50 C89.33,154.17 88.73,154.70 87.60,155.10 C86.47,155.50 84.55,155.63 82.80,155.90 C81.05,156.17 78.32,156.17 77.10,156.70 C75.88,157.23 76.17,158.43 75.50,159.10 C74.83,159.77 74.17,160.50 73.10,160.70 C72.03,160.90 70.70,160.70 69.10,160.30 C67.50,159.90 65.52,159.17 63.50,158.30 C61.48,157.43 58.62,156.30 57.00,155.10 C55.38,153.90 54.47,152.45 53.80,151.10 C53.13,149.75 52.87,148.22 53.00,147.00 Z" fill="#ffffff"/>
</g>
<path d="M22.60,152.30 C22.02,150.12 22.98,147.92 23.80,145.50 C24.62,143.08 25.88,140.30 27.50,137.80 C29.12,135.30 30.85,132.95 33.50,130.50 C36.15,128.05 39.57,125.25 43.40,123.10 C47.23,120.95 51.88,118.58 56.50,117.60 C61.12,116.62 66.48,116.55 71.10,117.20 C75.72,117.85 80.07,119.37 84.20,121.50 C88.33,123.63 92.73,126.83 95.90,130.00 C99.07,133.17 101.37,137.02 103.20,140.50 C105.03,143.98 106.45,147.95 106.90,150.90 C107.35,153.85 106.95,156.05 105.90,158.20 C104.85,160.35 102.72,162.45 100.60,163.80 C98.48,165.15 95.77,165.85 93.20,166.30 C90.63,166.75 87.15,166.13 85.20,166.50 C83.25,166.87 82.37,167.33 81.50,168.50 C80.63,169.67 80.83,172.12 80.00,173.50 C79.17,174.88 78.00,176.25 76.50,176.80 C75.00,177.35 72.92,177.20 71.00,176.80 C69.08,176.40 67.33,175.62 65.00,174.40 C62.67,173.18 60.33,171.25 57.00,169.50 C53.67,167.75 48.73,165.28 45.00,163.90 C41.27,162.52 37.55,162.08 34.60,161.20 C31.65,160.32 29.30,160.08 27.30,158.60 C25.30,157.12 23.18,154.48 22.60,152.30 Z" fill="none" stroke="#4a2e28" stroke-width="0.8" opacity="0.85"/>
</g>
<g transform="translate(426.20 187.80) scale(-1 1)">
<clipPath id="cp16"><path d="M22.60,152.30 C22.02,150.12 22.98,147.92 23.80,145.50 C24.62,143.08 25.88,140.30 27.50,137.80 C29.12,135.30 30.85,132.95 33.50,130.50 C36.15,128.05 39.57,125.25 43.40,123.10 C47.23,120.95 51.88,118.58 56.50,117.60 C61.12,116.62 66.48,116.55 71.10,117.20 C75.72,117.85 80.07,119.37 84.20,121.50 C88.33,123.63 92.73,126.83 95.90,130.00 C99.07,133.17 101.37,137.02 103.20,140.50 C105.03,143.98 106.45,147.95 106.90,150.90 C107.35,153.85 106.95,156.05 105.90,158.20 C104.85,160.35 102.72,162.45 100.60,163.80 C98.48,165.15 95.77,165.85 93.20,166.30 C90.63,166.75 87.15,166.13 85.20,166.50 C83.25,166.87 82.37,167.33 81.50,168.50 C80.63,169.67 80.83,172.12 80.00,173.50 C79.17,174.88 78.00,176.25 76.50,176.80 C75.00,177.35 72.92,177.20 71.00,176.80 C69.08,176.40 67.33,175.62 65.00,174.40 C62.67,173.18 60.33,171.25 57.00,169.50 C53.67,167.75 48.73,165.28 45.00,163.90 C41.27,162.52 37.55,162.08 34.60,161.20 C31.65,160.32 29.30,160.08 27.30,158.60 C25.30,157.12 23.18,154.48 22.60,152.30 Z"/></clipPath>
<g clip-path="url(#cp16)">
<path d="M22.60,152.30 C22.02,150.12 22.98,147.92 23.80,145.50 C24.62,143.08 25.88,140.30 27.50,137.80 C29.12,135.30 30.85,132.95 33.50,130.50 C36.15,128.05 39.57,125.25 43.40,123.10 C47.23,120.95 51.88,118.58 56.50,117.60 C61.12,116.62 66.48,116.55 71.10,117.20 C75.72,117.85 80.07,119.37 84.20,121.50 C88.33,123.63 92.73,126.83 95.90,130.00 C99.07,133.17 101.37,137.02 103.20,140.50 C105.03,143.98 106.45,147.95 106.90,150.90 C107.35,153.85 106.95,156.05 105.90,158.20 C104.85,160.35 102.72,162.45 100.60,163.80 C98.48,165.15 95.77,165.85 93.20,166.30 C90.63,166.75 87.15,166.13 85.20,166.50 C83.25,166.87 82.37,167.33 81.50,168.50 C80.63,169.67 80.83,172.12 80.00,173.50 C79.17,174.88 78.00,176.25 76.50,176.80 C75.00,177.35 72.92,177.20 71.00,176.80 C69.08,176.40 67.33,175.62 65.00,174.40 C62.67,173.18 60.33,171.25 57.00,169.50 C53.67,167.75 48.73,165.28 45.00,163.90 C41.27,162.52 37.55,162.08 34.60,161.20 C31.65,160.32 29.30,160.08 27.30,158.60 C25.30,157.12 23.18,154.48 22.60,152.30 Z" fill="#dea096"/>
<g filter="url(#bl)">
<ellipse cx="27" cy="148" rx="5" ry="12" fill="#e6a878" transform="rotate(0 27 148)" opacity="1"/>
<ellipse cx="66" cy="139" rx="20" ry="4" fill="#b9a2d2" transform="rotate(0 66 139)" opacity="1"/>
<ellipse cx="40" cy="119" rx="4" ry="3" fill="#e8a870" transform="rotate(0 40 119)" opacity="1"/>
<ellipse cx="60" cy="122" rx="7" ry="5" fill="#c0a2d0" transform="rotate(0 60 122)" opacity="1"/>
<ellipse cx="88" cy="156" rx="5" ry="4" fill="#bca0d0" transform="rotate(0 88 156)" opacity="1"/>
<ellipse cx="100" cy="160" rx="5" ry="4" fill="#e2a47c" transform="rotate(0 100 160)" opacity="1"/>
</g>
<path d="M48.00,137.00 C49.67,136.17 54.33,133.17 58.00,132.00 C61.67,130.83 66.00,130.00 70.00,130.00 C74.00,130.00 78.33,130.67 82.00,132.00 C85.67,133.33 89.17,135.67 92.00,138.00 C94.83,140.33 97.50,143.33 99.00,146.00 C100.50,148.67 100.67,152.67 101.00,154.00 " fill="none" stroke="#3e241e" stroke-width="1.5" opacity="0.45" stroke-linecap="round" filter="url(#bl3)"/>
<path d="M26.00,150.00 C27.33,149.33 31.00,146.50 34.00,146.00 C37.00,145.50 41.00,146.50 44.00,147.00 C47.00,147.50 50.67,148.67 52.00,149.00 " fill="none" stroke="#3e241e" stroke-width="1.5" opacity="0.45" stroke-linecap="round" filter="url(#bl3)"/>
<path d="M36.00,129.00 C36.67,130.33 38.50,134.33 40.00,137.00 C41.50,139.67 44.17,143.67 45.00,145.00 " fill="none" stroke="#3e241e" stroke-width="1.5" opacity="0.45" stroke-linecap="round" filter="url(#bl3)"/>
<path d="M56.00,121.00 C56.67,122.17 59.33,126.83 60.00,128.00 " fill="none" stroke="#3e241e" stroke-width="1.5" opacity="0.45" stroke-linecap="round" filter="url(#bl3)"/>
<path d="M30.00,140.00 C31.33,140.17 35.33,140.33 38.00,141.00 C40.67,141.67 44.67,143.50 46.00,144.00 " fill="none" stroke="#3e241e" stroke-width="1.5" opacity="0.45" stroke-linecap="round" filter="url(#bl3)"/>
<path d="M93.00,158.00 C93.83,158.67 97.17,161.33 98.00,162.00 " fill="none" stroke="#3e241e" stroke-width="1.5" opacity="0.45" stroke-linecap="round" filter="url(#bl3)"/>
<path d="M22.60,152.30 C22.02,150.12 22.98,147.92 23.80,145.50 C24.62,143.08 25.88,140.30 27.50,137.80 C29.12,135.30 30.85,132.95 33.50,130.50 C36.15,128.05 39.57,125.25 43.40,123.10 C47.23,120.95 51.88,118.58 56.50,117.60 C61.12,116.62 66.48,116.55 71.10,117.20 C75.72,117.85 80.07,119.37 84.20,121.50 C88.33,123.63 92.73,126.83 95.90,130.00 C99.07,133.17 101.37,137.02 103.20,140.50 C105.03,143.98 106.45,147.95 106.90,150.90 C107.35,153.85 106.95,156.05 105.90,158.20 C104.85,160.35 102.72,162.45 100.60,163.80 C98.48,165.15 95.77,165.85 93.20,166.30 C90.63,166.75 87.15,166.13 85.20,166.50 C83.25,166.87 82.37,167.33 81.50,168.50 C80.63,169.67 80.83,172.12 80.00,173.50 C79.17,174.88 78.00,176.25 76.50,176.80 C75.00,177.35 72.92,177.20 71.00,176.80 C69.08,176.40 67.33,175.62 65.00,174.40 C62.67,173.18 60.33,171.25 57.00,169.50 C53.67,167.75 48.73,165.28 45.00,163.90 C41.27,162.52 37.55,162.08 34.60,161.20 C31.65,160.32 29.30,160.08 27.30,158.60 C25.30,157.12 23.18,154.48 22.60,152.30 Z" fill="url(#vshade)"/>
<path d="M22.60,152.30 C22.02,150.12 22.98,147.92 23.80,145.50 C24.62,143.08 25.88,140.30 27.50,137.80 C29.12,135.30 30.85,132.95 33.50,130.50 C36.15,128.05 39.57,125.25 43.40,123.10 C47.23,120.95 51.88,118.58 56.50,117.60 C61.12,116.62 66.48,116.55 71.10,117.20 C75.72,117.85 80.07,119.37 84.20,121.50 C88.33,123.63 92.73,126.83 95.90,130.00 C99.07,133.17 101.37,137.02 103.20,140.50 C105.03,143.98 106.45,147.95 106.90,150.90 C107.35,153.85 106.95,156.05 105.90,158.20 C104.85,160.35 102.72,162.45 100.60,163.80 C98.48,165.15 95.77,165.85 93.20,166.30 C90.63,166.75 87.15,166.13 85.20,166.50 C83.25,166.87 82.37,167.33 81.50,168.50 C80.63,169.67 80.83,172.12 80.00,173.50 C79.17,174.88 78.00,176.25 76.50,176.80 C75.00,177.35 72.92,177.20 71.00,176.80 C69.08,176.40 67.33,175.62 65.00,174.40 C62.67,173.18 60.33,171.25 57.00,169.50 C53.67,167.75 48.73,165.28 45.00,163.90 C41.27,162.52 37.55,162.08 34.60,161.20 C31.65,160.32 29.30,160.08 27.30,158.60 C25.30,157.12 23.18,154.48 22.60,152.30 Z" fill="none" stroke="#000" stroke-width="4" opacity="0.140" filter="url(#bl2)"/>
<path d="M52.00,152.50 C52.75,152.17 55.08,154.45 57.00,155.50 C58.92,156.55 61.50,157.92 63.50,158.80 C65.50,159.68 67.33,160.43 69.00,160.80 C70.67,161.17 72.33,161.13 73.50,161.00 C74.67,160.87 75.33,159.67 76.00,160.00 C76.67,160.33 77.50,161.83 77.50,163.00 C77.50,164.17 76.67,165.83 76.00,167.00 C75.33,168.17 74.50,169.47 73.50,170.00 C72.50,170.53 71.42,170.57 70.00,170.20 C68.58,169.83 67.00,169.08 65.00,167.80 C63.00,166.52 60.08,164.22 58.00,162.50 C55.92,160.78 53.50,159.17 52.50,157.50 C51.50,155.83 51.25,152.83 52.00,152.50 Z" fill="url(#hipg)"/>
<path d="M53,155.2 C58,159 64,163.5 70.5,168.2" fill="none" stroke="#4a4a4a" stroke-width="0.8" opacity="0.8"/>
<path d="M55,155 C60,158.3 66,162.3 72,166.2" fill="none" stroke="#6a6a6a" stroke-width="0.6" opacity="0.7"/>
<path d="M53.00,147.00 C53.13,145.78 53.65,144.60 54.60,143.80 C55.55,143.00 56.95,142.60 58.70,142.20 C60.45,141.80 62.97,141.47 65.10,141.40 C67.23,141.33 69.23,141.40 71.50,141.80 C73.77,142.20 76.42,142.78 78.70,143.80 C80.98,144.82 83.45,146.68 85.20,147.90 C86.95,149.12 88.47,150.17 89.20,151.10 C89.93,152.03 89.87,152.83 89.60,153.50 C89.33,154.17 88.73,154.70 87.60,155.10 C86.47,155.50 84.55,155.63 82.80,155.90 C81.05,156.17 78.32,156.17 77.10,156.70 C75.88,157.23 76.17,158.43 75.50,159.10 C74.83,159.77 74.17,160.50 73.10,160.70 C72.03,160.90 70.70,160.70 69.10,160.30 C67.50,159.90 65.52,159.17 63.50,158.30 C61.48,157.43 58.62,156.30 57.00,155.10 C55.38,153.90 54.47,152.45 53.80,151.10 C53.13,149.75 52.87,148.22 53.00,147.00 Z" fill="#ffffff"/>
</g>
<path d="M22.60,152.30 C22.02,150.12 22.98,147.92 23.80,145.50 C24.62,143.08 25.88,140.30 27.50,137.80 C29.12,135.30 30.85,132.95 33.50,130.50 C36.15,128.05 39.57,125.25 43.40,123.10 C47.23,120.95 51.88,118.58 56.50,117.60 C61.12,116.62 66.48,116.55 71.10,117.20 C75.72,117.85 80.07,119.37 84.20,121.50 C88.33,123.63 92.73,126.83 95.90,130.00 C99.07,133.17 101.37,137.02 103.20,140.50 C105.03,143.98 106.45,147.95 106.90,150.90 C107.35,153.85 106.95,156.05 105.90,158.20 C104.85,160.35 102.72,162.45 100.60,163.80 C98.48,165.15 95.77,165.85 93.20,166.30 C90.63,166.75 87.15,166.13 85.20,166.50 C83.25,166.87 82.37,167.33 81.50,168.50 C80.63,169.67 80.83,172.12 80.00,173.50 C79.17,174.88 78.00,176.25 76.50,176.80 C75.00,177.35 72.92,177.20 71.00,176.80 C69.08,176.40 67.33,175.62 65.00,174.40 C62.67,173.18 60.33,171.25 57.00,169.50 C53.67,167.75 48.73,165.28 45.00,163.90 C41.27,162.52 37.55,162.08 34.60,161.20 C31.65,160.32 29.30,160.08 27.30,158.60 C25.30,157.12 23.18,154.48 22.60,152.30 Z" fill="none" stroke="#4a2e28" stroke-width="0.8" opacity="0.85"/>
</g>
<g transform="translate(0.00 362.00)">
<clipPath id="cp17"><path d="M22.90,80.10 C23.08,78.15 23.47,74.77 24.30,72.50 C25.13,70.23 26.37,68.58 27.90,66.50 C29.43,64.42 31.40,62.05 33.50,60.00 C35.60,57.95 37.72,55.97 40.50,54.20 C43.28,52.43 46.38,50.72 50.20,49.40 C54.02,48.08 59.23,46.90 63.40,46.30 C67.57,45.70 71.48,45.48 75.20,45.80 C78.92,46.12 82.42,46.58 85.70,48.20 C88.98,49.82 92.27,52.78 94.90,55.50 C97.53,58.22 99.75,61.42 101.50,64.50 C103.25,67.58 104.60,71.18 105.40,74.00 C106.20,76.82 106.48,79.18 106.30,81.40 C106.12,83.62 105.55,85.82 104.30,87.30 C103.05,88.78 101.25,89.55 98.80,90.30 C96.35,91.05 92.88,91.02 89.60,91.80 C86.32,92.58 82.38,93.63 79.10,95.00 C75.82,96.37 73.00,98.47 69.90,100.00 C66.80,101.53 63.12,103.37 60.50,104.20 C57.88,105.03 56.02,105.27 54.20,105.00 C52.38,104.73 50.70,103.67 49.60,102.60 C48.50,101.53 48.07,99.80 47.60,98.60 C47.13,97.40 47.65,95.98 46.80,95.40 C45.95,94.82 44.38,95.25 42.50,95.10 C40.62,94.95 37.62,94.95 35.50,94.50 C33.38,94.05 31.48,93.42 29.80,92.40 C28.12,91.38 26.50,89.77 25.40,88.40 C24.30,87.03 23.62,85.58 23.20,84.20 C22.78,82.82 22.72,82.05 22.90,80.10 Z"/></clipPath>
<g clip-path="url(#cp17)">
<path d="M22.90,80.10 C23.08,78.15 23.47,74.77 24.30,72.50 C25.13,70.23 26.37,68.58 27.90,66.50 C29.43,64.42 31.40,62.05 33.50,60.00 C35.60,57.95 37.72,55.97 40.50,54.20 C43.28,52.43 46.38,50.72 50.20,49.40 C54.02,48.08 59.23,46.90 63.40,46.30 C67.57,45.70 71.48,45.48 75.20,45.80 C78.92,46.12 82.42,46.58 85.70,48.20 C88.98,49.82 92.27,52.78 94.90,55.50 C97.53,58.22 99.75,61.42 101.50,64.50 C103.25,67.58 104.60,71.18 105.40,74.00 C106.20,76.82 106.48,79.18 106.30,81.40 C106.12,83.62 105.55,85.82 104.30,87.30 C103.05,88.78 101.25,89.55 98.80,90.30 C96.35,91.05 92.88,91.02 89.60,91.80 C86.32,92.58 82.38,93.63 79.10,95.00 C75.82,96.37 73.00,98.47 69.90,100.00 C66.80,101.53 63.12,103.37 60.50,104.20 C57.88,105.03 56.02,105.27 54.20,105.00 C52.38,104.73 50.70,103.67 49.60,102.60 C48.50,101.53 48.07,99.80 47.60,98.60 C47.13,97.40 47.65,95.98 46.80,95.40 C45.95,94.82 44.38,95.25 42.50,95.10 C40.62,94.95 37.62,94.95 35.50,94.50 C33.38,94.05 31.48,93.42 29.80,92.40 C28.12,91.38 26.50,89.77 25.40,88.40 C24.30,87.03 23.62,85.58 23.20,84.20 C22.78,82.82 22.72,82.05 22.90,80.10 Z" fill="#ececec"/>
<g filter="url(#bl)">
<polygon points="66,48.8 76.5,45.5 88.3,50.5 98.8,61 106,74.8 105.5,82 100,85 96,88.5 85.7,94.5 72.6,98.8 63,102.5 57,103.4 52,99 50,94 47,89.5 41.5,91.5 38.4,91 38.4,85.5 41,81.5 46.3,78.8 52.8,76.2 58,72.2 62,66.3 64.7,59.1" fill="#c0222a" opacity="1"/>
<polygon points="70,60.3 80,54 92,60 94,72 92,82 80,84 70,80 68,68" fill="#8c1020" opacity="1"/>
<ellipse cx="80" cy="70" rx="8" ry="6" fill="#720a1a" transform="rotate(-25 80 70)" opacity="1"/>
<ellipse cx="70" cy="80" rx="9" ry="3" fill="#8a1020" transform="rotate(-25 70 80)" opacity="1"/>
<ellipse cx="58" cy="88" rx="8" ry="5" fill="#cc3a30" transform="rotate(-20 58 88)" opacity="1"/>
<ellipse cx="44" cy="84" rx="4" ry="3" fill="#d04a3a" transform="rotate(0 44 84)" opacity="1"/>
<ellipse cx="100" cy="89" rx="4.5" ry="3" fill="#f0f0f0" transform="rotate(0 100 89)" opacity="1"/>
<ellipse cx="55" cy="101" rx="5" ry="3" fill="#f0f0f0" transform="rotate(-20 55 101)" opacity="1"/>
<ellipse cx="45" cy="91" rx="2.5" ry="2" fill="#f0f0f0" transform="rotate(0 45 91)" opacity="1"/>
</g>
<path d="M31.60,63.90 C34.02,62.80 41.72,58.83 46.10,57.30 C50.48,55.77 55.05,55.58 57.90,54.70 C60.75,53.82 62.32,52.45 63.20,52.00 " fill="none" stroke="#000" stroke-width="1.5" opacity="0.28" stroke-linecap="round" filter="url(#bl3)"/>
<path d="M33.00,80.90 C34.75,79.82 40.23,76.37 43.50,74.40 C46.77,72.43 50.20,70.42 52.60,69.10 C55.00,67.78 57.02,66.93 57.90,66.50 " fill="none" stroke="#000" stroke-width="1.5" opacity="0.28" stroke-linecap="round" filter="url(#bl3)"/>
<path d="M63.20,52.00 C62.53,53.75 60.73,59.22 59.20,62.50 C57.67,65.78 55.10,69.07 54.00,71.70 C52.90,74.33 52.83,77.20 52.60,78.30 " fill="none" stroke="#000" stroke-width="1.5" opacity="0.28" stroke-linecap="round" filter="url(#bl3)"/>
<path d="M69.70,49.40 C69.05,51.15 67.12,56.83 65.80,59.90 C64.48,62.97 62.90,65.62 61.80,67.80 C60.70,69.98 59.63,72.13 59.20,73.00 " fill="none" stroke="#000" stroke-width="1.5" opacity="0.28" stroke-linecap="round" filter="url(#bl3)"/>
<path d="M76.30,50.70 C75.65,52.23 73.50,57.05 72.40,59.90 C71.30,62.75 70.15,66.48 69.70,67.80 " fill="none" stroke="#000" stroke-width="1.5" opacity="0.28" stroke-linecap="round" filter="url(#bl3)"/>
<path d="M40.80,83.60 C42.55,83.17 47.80,81.88 51.30,81.00 C54.80,80.12 58.73,79.63 61.80,78.30 C64.87,76.97 67.28,74.53 69.70,73.00 C72.12,71.47 74.32,70.62 76.30,69.10 C78.28,67.58 80.72,64.77 81.60,63.90 " fill="none" stroke="#000" stroke-width="1.5" opacity="0.28" stroke-linecap="round" filter="url(#bl3)"/>
<path d="M52.60,91.40 C54.80,90.53 61.42,88.05 65.80,86.20 C70.18,84.35 75.18,82.50 78.90,80.30 C82.62,78.10 85.68,75.30 88.10,73.00 C90.52,70.70 92.52,67.58 93.40,66.50 " fill="none" stroke="#000" stroke-width="1.5" opacity="0.28" stroke-linecap="round" filter="url(#bl3)"/>
<path d="M47.00,94.80 C47.83,94.25 49.97,92.57 52.00,91.50 C54.03,90.43 56.87,89.40 59.20,88.40 C61.53,87.40 63.80,86.57 66.00,85.50 C68.20,84.43 70.40,83.33 72.40,82.00 C74.40,80.67 76.47,78.93 78.00,77.50 C79.53,76.07 81.00,74.08 81.60,73.40 " fill="none" stroke="#000" stroke-width="1.5" opacity="0.28" stroke-linecap="round" filter="url(#bl3)"/>
<path d="M72.40,59.90 C74.15,59.68 79.83,58.38 82.90,58.60 C85.97,58.82 88.62,59.88 90.80,61.20 C92.98,62.52 94.47,64.30 96.00,66.50 C97.53,68.70 99.33,73.08 100.00,74.40 " fill="none" stroke="#000" stroke-width="1.5" opacity="0.28" stroke-linecap="round" filter="url(#bl3)"/>
<path d="M56.60,98.00 C59.23,97.02 67.58,93.73 72.40,92.10 C77.22,90.47 81.13,89.30 85.50,88.20 C89.87,87.10 96.42,85.95 98.60,85.50 " fill="none" stroke="#000" stroke-width="1.5" opacity="0.28" stroke-linecap="round" filter="url(#bl3)"/>
<path d="M98.60,70.40 C99.48,71.93 103.02,78.07 103.90,79.60 " fill="none" stroke="#000" stroke-width="1.5" opacity="0.28" stroke-linecap="round" filter="url(#bl3)"/>
<path d="M25.00,74.40 C25.88,73.08 28.10,68.70 30.30,66.50 C32.50,64.30 36.88,62.08 38.20,61.20 " fill="none" stroke="#000" stroke-width="1.5" opacity="0.28" stroke-linecap="round" filter="url(#bl3)"/>
<path d="M27.70,82.20 C29.02,82.87 33.20,85.32 35.60,86.20 C38.00,87.08 41.02,87.28 42.10,87.50 " fill="none" stroke="#000" stroke-width="1.5" opacity="0.28" stroke-linecap="round" filter="url(#bl3)"/>
<path d="M22.90,80.10 C23.08,78.15 23.47,74.77 24.30,72.50 C25.13,70.23 26.37,68.58 27.90,66.50 C29.43,64.42 31.40,62.05 33.50,60.00 C35.60,57.95 37.72,55.97 40.50,54.20 C43.28,52.43 46.38,50.72 50.20,49.40 C54.02,48.08 59.23,46.90 63.40,46.30 C67.57,45.70 71.48,45.48 75.20,45.80 C78.92,46.12 82.42,46.58 85.70,48.20 C88.98,49.82 92.27,52.78 94.90,55.50 C97.53,58.22 99.75,61.42 101.50,64.50 C103.25,67.58 104.60,71.18 105.40,74.00 C106.20,76.82 106.48,79.18 106.30,81.40 C106.12,83.62 105.55,85.82 104.30,87.30 C103.05,88.78 101.25,89.55 98.80,90.30 C96.35,91.05 92.88,91.02 89.60,91.80 C86.32,92.58 82.38,93.63 79.10,95.00 C75.82,96.37 73.00,98.47 69.90,100.00 C66.80,101.53 63.12,103.37 60.50,104.20 C57.88,105.03 56.02,105.27 54.20,105.00 C52.38,104.73 50.70,103.67 49.60,102.60 C48.50,101.53 48.07,99.80 47.60,98.60 C47.13,97.40 47.65,95.98 46.80,95.40 C45.95,94.82 44.38,95.25 42.50,95.10 C40.62,94.95 37.62,94.95 35.50,94.50 C33.38,94.05 31.48,93.42 29.80,92.40 C28.12,91.38 26.50,89.77 25.40,88.40 C24.30,87.03 23.62,85.58 23.20,84.20 C22.78,82.82 22.72,82.05 22.90,80.10 Z" fill="url(#vshade)"/>
<path d="M22.90,80.10 C23.08,78.15 23.47,74.77 24.30,72.50 C25.13,70.23 26.37,68.58 27.90,66.50 C29.43,64.42 31.40,62.05 33.50,60.00 C35.60,57.95 37.72,55.97 40.50,54.20 C43.28,52.43 46.38,50.72 50.20,49.40 C54.02,48.08 59.23,46.90 63.40,46.30 C67.57,45.70 71.48,45.48 75.20,45.80 C78.92,46.12 82.42,46.58 85.70,48.20 C88.98,49.82 92.27,52.78 94.90,55.50 C97.53,58.22 99.75,61.42 101.50,64.50 C103.25,67.58 104.60,71.18 105.40,74.00 C106.20,76.82 106.48,79.18 106.30,81.40 C106.12,83.62 105.55,85.82 104.30,87.30 C103.05,88.78 101.25,89.55 98.80,90.30 C96.35,91.05 92.88,91.02 89.60,91.80 C86.32,92.58 82.38,93.63 79.10,95.00 C75.82,96.37 73.00,98.47 69.90,100.00 C66.80,101.53 63.12,103.37 60.50,104.20 C57.88,105.03 56.02,105.27 54.20,105.00 C52.38,104.73 50.70,103.67 49.60,102.60 C48.50,101.53 48.07,99.80 47.60,98.60 C47.13,97.40 47.65,95.98 46.80,95.40 C45.95,94.82 44.38,95.25 42.50,95.10 C40.62,94.95 37.62,94.95 35.50,94.50 C33.38,94.05 31.48,93.42 29.80,92.40 C28.12,91.38 26.50,89.77 25.40,88.40 C24.30,87.03 23.62,85.58 23.20,84.20 C22.78,82.82 22.72,82.05 22.90,80.10 Z" fill="none" stroke="#000" stroke-width="4" opacity="0.140" filter="url(#bl2)"/>
</g>
<path d="M22.90,80.10 C23.08,78.15 23.47,74.77 24.30,72.50 C25.13,70.23 26.37,68.58 27.90,66.50 C29.43,64.42 31.40,62.05 33.50,60.00 C35.60,57.95 37.72,55.97 40.50,54.20 C43.28,52.43 46.38,50.72 50.20,49.40 C54.02,48.08 59.23,46.90 63.40,46.30 C67.57,45.70 71.48,45.48 75.20,45.80 C78.92,46.12 82.42,46.58 85.70,48.20 C88.98,49.82 92.27,52.78 94.90,55.50 C97.53,58.22 99.75,61.42 101.50,64.50 C103.25,67.58 104.60,71.18 105.40,74.00 C106.20,76.82 106.48,79.18 106.30,81.40 C106.12,83.62 105.55,85.82 104.30,87.30 C103.05,88.78 101.25,89.55 98.80,90.30 C96.35,91.05 92.88,91.02 89.60,91.80 C86.32,92.58 82.38,93.63 79.10,95.00 C75.82,96.37 73.00,98.47 69.90,100.00 C66.80,101.53 63.12,103.37 60.50,104.20 C57.88,105.03 56.02,105.27 54.20,105.00 C52.38,104.73 50.70,103.67 49.60,102.60 C48.50,101.53 48.07,99.80 47.60,98.60 C47.13,97.40 47.65,95.98 46.80,95.40 C45.95,94.82 44.38,95.25 42.50,95.10 C40.62,94.95 37.62,94.95 35.50,94.50 C33.38,94.05 31.48,93.42 29.80,92.40 C28.12,91.38 26.50,89.77 25.40,88.40 C24.30,87.03 23.62,85.58 23.20,84.20 C22.78,82.82 22.72,82.05 22.90,80.10 Z" fill="none" stroke="#444" stroke-width="0.8" opacity="0.85"/>
</g>
<g transform="translate(221.00 362.00) scale(-1 1)">
<clipPath id="cp18"><path d="M22.90,80.10 C23.08,78.15 23.47,74.77 24.30,72.50 C25.13,70.23 26.37,68.58 27.90,66.50 C29.43,64.42 31.40,62.05 33.50,60.00 C35.60,57.95 37.72,55.97 40.50,54.20 C43.28,52.43 46.38,50.72 50.20,49.40 C54.02,48.08 59.23,46.90 63.40,46.30 C67.57,45.70 71.48,45.48 75.20,45.80 C78.92,46.12 82.42,46.58 85.70,48.20 C88.98,49.82 92.27,52.78 94.90,55.50 C97.53,58.22 99.75,61.42 101.50,64.50 C103.25,67.58 104.60,71.18 105.40,74.00 C106.20,76.82 106.48,79.18 106.30,81.40 C106.12,83.62 105.55,85.82 104.30,87.30 C103.05,88.78 101.25,89.55 98.80,90.30 C96.35,91.05 92.88,91.02 89.60,91.80 C86.32,92.58 82.38,93.63 79.10,95.00 C75.82,96.37 73.00,98.47 69.90,100.00 C66.80,101.53 63.12,103.37 60.50,104.20 C57.88,105.03 56.02,105.27 54.20,105.00 C52.38,104.73 50.70,103.67 49.60,102.60 C48.50,101.53 48.07,99.80 47.60,98.60 C47.13,97.40 47.65,95.98 46.80,95.40 C45.95,94.82 44.38,95.25 42.50,95.10 C40.62,94.95 37.62,94.95 35.50,94.50 C33.38,94.05 31.48,93.42 29.80,92.40 C28.12,91.38 26.50,89.77 25.40,88.40 C24.30,87.03 23.62,85.58 23.20,84.20 C22.78,82.82 22.72,82.05 22.90,80.10 Z"/></clipPath>
<g clip-path="url(#cp18)">
<path d="M22.90,80.10 C23.08,78.15 23.47,74.77 24.30,72.50 C25.13,70.23 26.37,68.58 27.90,66.50 C29.43,64.42 31.40,62.05 33.50,60.00 C35.60,57.95 37.72,55.97 40.50,54.20 C43.28,52.43 46.38,50.72 50.20,49.40 C54.02,48.08 59.23,46.90 63.40,46.30 C67.57,45.70 71.48,45.48 75.20,45.80 C78.92,46.12 82.42,46.58 85.70,48.20 C88.98,49.82 92.27,52.78 94.90,55.50 C97.53,58.22 99.75,61.42 101.50,64.50 C103.25,67.58 104.60,71.18 105.40,74.00 C106.20,76.82 106.48,79.18 106.30,81.40 C106.12,83.62 105.55,85.82 104.30,87.30 C103.05,88.78 101.25,89.55 98.80,90.30 C96.35,91.05 92.88,91.02 89.60,91.80 C86.32,92.58 82.38,93.63 79.10,95.00 C75.82,96.37 73.00,98.47 69.90,100.00 C66.80,101.53 63.12,103.37 60.50,104.20 C57.88,105.03 56.02,105.27 54.20,105.00 C52.38,104.73 50.70,103.67 49.60,102.60 C48.50,101.53 48.07,99.80 47.60,98.60 C47.13,97.40 47.65,95.98 46.80,95.40 C45.95,94.82 44.38,95.25 42.50,95.10 C40.62,94.95 37.62,94.95 35.50,94.50 C33.38,94.05 31.48,93.42 29.80,92.40 C28.12,91.38 26.50,89.77 25.40,88.40 C24.30,87.03 23.62,85.58 23.20,84.20 C22.78,82.82 22.72,82.05 22.90,80.10 Z" fill="#ececec"/>
<g filter="url(#bl)">
<polygon points="66,48.8 76.5,45.5 88.3,50.5 98.8,61 106,74.8 105.5,82 100,85 96,88.5 85.7,94.5 72.6,98.8 63,102.5 57,103.4 52,99 50,94 47,89.5 41.5,91.5 38.4,91 38.4,85.5 41,81.5 46.3,78.8 52.8,76.2 58,72.2 62,66.3 64.7,59.1" fill="#c0222a" opacity="1"/>
<polygon points="70,60.3 80,54 92,60 94,72 92,82 80,84 70,80 68,68" fill="#8c1020" opacity="1"/>
<ellipse cx="80" cy="70" rx="8" ry="6" fill="#720a1a" transform="rotate(-25 80 70)" opacity="1"/>
<ellipse cx="70" cy="80" rx="9" ry="3" fill="#8a1020" transform="rotate(-25 70 80)" opacity="1"/>
<ellipse cx="58" cy="88" rx="8" ry="5" fill="#cc3a30" transform="rotate(-20 58 88)" opacity="1"/>
<ellipse cx="44" cy="84" rx="4" ry="3" fill="#d04a3a" transform="rotate(0 44 84)" opacity="1"/>
<ellipse cx="100" cy="89" rx="4.5" ry="3" fill="#f0f0f0" transform="rotate(0 100 89)" opacity="1"/>
<ellipse cx="55" cy="101" rx="5" ry="3" fill="#f0f0f0" transform="rotate(-20 55 101)" opacity="1"/>
<ellipse cx="45" cy="91" rx="2.5" ry="2" fill="#f0f0f0" transform="rotate(0 45 91)" opacity="1"/>
</g>
<path d="M31.60,63.90 C34.02,62.80 41.72,58.83 46.10,57.30 C50.48,55.77 55.05,55.58 57.90,54.70 C60.75,53.82 62.32,52.45 63.20,52.00 " fill="none" stroke="#000" stroke-width="1.5" opacity="0.28" stroke-linecap="round" filter="url(#bl3)"/>
<path d="M33.00,80.90 C34.75,79.82 40.23,76.37 43.50,74.40 C46.77,72.43 50.20,70.42 52.60,69.10 C55.00,67.78 57.02,66.93 57.90,66.50 " fill="none" stroke="#000" stroke-width="1.5" opacity="0.28" stroke-linecap="round" filter="url(#bl3)"/>
<path d="M63.20,52.00 C62.53,53.75 60.73,59.22 59.20,62.50 C57.67,65.78 55.10,69.07 54.00,71.70 C52.90,74.33 52.83,77.20 52.60,78.30 " fill="none" stroke="#000" stroke-width="1.5" opacity="0.28" stroke-linecap="round" filter="url(#bl3)"/>
<path d="M69.70,49.40 C69.05,51.15 67.12,56.83 65.80,59.90 C64.48,62.97 62.90,65.62 61.80,67.80 C60.70,69.98 59.63,72.13 59.20,73.00 " fill="none" stroke="#000" stroke-width="1.5" opacity="0.28" stroke-linecap="round" filter="url(#bl3)"/>
<path d="M76.30,50.70 C75.65,52.23 73.50,57.05 72.40,59.90 C71.30,62.75 70.15,66.48 69.70,67.80 " fill="none" stroke="#000" stroke-width="1.5" opacity="0.28" stroke-linecap="round" filter="url(#bl3)"/>
<path d="M40.80,83.60 C42.55,83.17 47.80,81.88 51.30,81.00 C54.80,80.12 58.73,79.63 61.80,78.30 C64.87,76.97 67.28,74.53 69.70,73.00 C72.12,71.47 74.32,70.62 76.30,69.10 C78.28,67.58 80.72,64.77 81.60,63.90 " fill="none" stroke="#000" stroke-width="1.5" opacity="0.28" stroke-linecap="round" filter="url(#bl3)"/>
<path d="M52.60,91.40 C54.80,90.53 61.42,88.05 65.80,86.20 C70.18,84.35 75.18,82.50 78.90,80.30 C82.62,78.10 85.68,75.30 88.10,73.00 C90.52,70.70 92.52,67.58 93.40,66.50 " fill="none" stroke="#000" stroke-width="1.5" opacity="0.28" stroke-linecap="round" filter="url(#bl3)"/>
<path d="M47.00,94.80 C47.83,94.25 49.97,92.57 52.00,91.50 C54.03,90.43 56.87,89.40 59.20,88.40 C61.53,87.40 63.80,86.57 66.00,85.50 C68.20,84.43 70.40,83.33 72.40,82.00 C74.40,80.67 76.47,78.93 78.00,77.50 C79.53,76.07 81.00,74.08 81.60,73.40 " fill="none" stroke="#000" stroke-width="1.5" opacity="0.28" stroke-linecap="round" filter="url(#bl3)"/>
<path d="M72.40,59.90 C74.15,59.68 79.83,58.38 82.90,58.60 C85.97,58.82 88.62,59.88 90.80,61.20 C92.98,62.52 94.47,64.30 96.00,66.50 C97.53,68.70 99.33,73.08 100.00,74.40 " fill="none" stroke="#000" stroke-width="1.5" opacity="0.28" stroke-linecap="round" filter="url(#bl3)"/>
<path d="M56.60,98.00 C59.23,97.02 67.58,93.73 72.40,92.10 C77.22,90.47 81.13,89.30 85.50,88.20 C89.87,87.10 96.42,85.95 98.60,85.50 " fill="none" stroke="#000" stroke-width="1.5" opacity="0.28" stroke-linecap="round" filter="url(#bl3)"/>
<path d="M98.60,70.40 C99.48,71.93 103.02,78.07 103.90,79.60 " fill="none" stroke="#000" stroke-width="1.5" opacity="0.28" stroke-linecap="round" filter="url(#bl3)"/>
<path d="M25.00,74.40 C25.88,73.08 28.10,68.70 30.30,66.50 C32.50,64.30 36.88,62.08 38.20,61.20 " fill="none" stroke="#000" stroke-width="1.5" opacity="0.28" stroke-linecap="round" filter="url(#bl3)"/>
<path d="M27.70,82.20 C29.02,82.87 33.20,85.32 35.60,86.20 C38.00,87.08 41.02,87.28 42.10,87.50 " fill="none" stroke="#000" stroke-width="1.5" opacity="0.28" stroke-linecap="round" filter="url(#bl3)"/>
<path d="M22.90,80.10 C23.08,78.15 23.47,74.77 24.30,72.50 C25.13,70.23 26.37,68.58 27.90,66.50 C29.43,64.42 31.40,62.05 33.50,60.00 C35.60,57.95 37.72,55.97 40.50,54.20 C43.28,52.43 46.38,50.72 50.20,49.40 C54.02,48.08 59.23,46.90 63.40,46.30 C67.57,45.70 71.48,45.48 75.20,45.80 C78.92,46.12 82.42,46.58 85.70,48.20 C88.98,49.82 92.27,52.78 94.90,55.50 C97.53,58.22 99.75,61.42 101.50,64.50 C103.25,67.58 104.60,71.18 105.40,74.00 C106.20,76.82 106.48,79.18 106.30,81.40 C106.12,83.62 105.55,85.82 104.30,87.30 C103.05,88.78 101.25,89.55 98.80,90.30 C96.35,91.05 92.88,91.02 89.60,91.80 C86.32,92.58 82.38,93.63 79.10,95.00 C75.82,96.37 73.00,98.47 69.90,100.00 C66.80,101.53 63.12,103.37 60.50,104.20 C57.88,105.03 56.02,105.27 54.20,105.00 C52.38,104.73 50.70,103.67 49.60,102.60 C48.50,101.53 48.07,99.80 47.60,98.60 C47.13,97.40 47.65,95.98 46.80,95.40 C45.95,94.82 44.38,95.25 42.50,95.10 C40.62,94.95 37.62,94.95 35.50,94.50 C33.38,94.05 31.48,93.42 29.80,92.40 C28.12,91.38 26.50,89.77 25.40,88.40 C24.30,87.03 23.62,85.58 23.20,84.20 C22.78,82.82 22.72,82.05 22.90,80.10 Z" fill="url(#vshade)"/>
<path d="M22.90,80.10 C23.08,78.15 23.47,74.77 24.30,72.50 C25.13,70.23 26.37,68.58 27.90,66.50 C29.43,64.42 31.40,62.05 33.50,60.00 C35.60,57.95 37.72,55.97 40.50,54.20 C43.28,52.43 46.38,50.72 50.20,49.40 C54.02,48.08 59.23,46.90 63.40,46.30 C67.57,45.70 71.48,45.48 75.20,45.80 C78.92,46.12 82.42,46.58 85.70,48.20 C88.98,49.82 92.27,52.78 94.90,55.50 C97.53,58.22 99.75,61.42 101.50,64.50 C103.25,67.58 104.60,71.18 105.40,74.00 C106.20,76.82 106.48,79.18 106.30,81.40 C106.12,83.62 105.55,85.82 104.30,87.30 C103.05,88.78 101.25,89.55 98.80,90.30 C96.35,91.05 92.88,91.02 89.60,91.80 C86.32,92.58 82.38,93.63 79.10,95.00 C75.82,96.37 73.00,98.47 69.90,100.00 C66.80,101.53 63.12,103.37 60.50,104.20 C57.88,105.03 56.02,105.27 54.20,105.00 C52.38,104.73 50.70,103.67 49.60,102.60 C48.50,101.53 48.07,99.80 47.60,98.60 C47.13,97.40 47.65,95.98 46.80,95.40 C45.95,94.82 44.38,95.25 42.50,95.10 C40.62,94.95 37.62,94.95 35.50,94.50 C33.38,94.05 31.48,93.42 29.80,92.40 C28.12,91.38 26.50,89.77 25.40,88.40 C24.30,87.03 23.62,85.58 23.20,84.20 C22.78,82.82 22.72,82.05 22.90,80.10 Z" fill="none" stroke="#000" stroke-width="4" opacity="0.140" filter="url(#bl2)"/>
</g>
<path d="M22.90,80.10 C23.08,78.15 23.47,74.77 24.30,72.50 C25.13,70.23 26.37,68.58 27.90,66.50 C29.43,64.42 31.40,62.05 33.50,60.00 C35.60,57.95 37.72,55.97 40.50,54.20 C43.28,52.43 46.38,50.72 50.20,49.40 C54.02,48.08 59.23,46.90 63.40,46.30 C67.57,45.70 71.48,45.48 75.20,45.80 C78.92,46.12 82.42,46.58 85.70,48.20 C88.98,49.82 92.27,52.78 94.90,55.50 C97.53,58.22 99.75,61.42 101.50,64.50 C103.25,67.58 104.60,71.18 105.40,74.00 C106.20,76.82 106.48,79.18 106.30,81.40 C106.12,83.62 105.55,85.82 104.30,87.30 C103.05,88.78 101.25,89.55 98.80,90.30 C96.35,91.05 92.88,91.02 89.60,91.80 C86.32,92.58 82.38,93.63 79.10,95.00 C75.82,96.37 73.00,98.47 69.90,100.00 C66.80,101.53 63.12,103.37 60.50,104.20 C57.88,105.03 56.02,105.27 54.20,105.00 C52.38,104.73 50.70,103.67 49.60,102.60 C48.50,101.53 48.07,99.80 47.60,98.60 C47.13,97.40 47.65,95.98 46.80,95.40 C45.95,94.82 44.38,95.25 42.50,95.10 C40.62,94.95 37.62,94.95 35.50,94.50 C33.38,94.05 31.48,93.42 29.80,92.40 C28.12,91.38 26.50,89.77 25.40,88.40 C24.30,87.03 23.62,85.58 23.20,84.20 C22.78,82.82 22.72,82.05 22.90,80.10 Z" fill="none" stroke="#444" stroke-width="0.8" opacity="0.85"/>
</g>
<g transform="translate(0.00 362.00)">
<clipPath id="cp19"><path d="M22.60,152.30 C22.02,150.12 22.98,147.92 23.80,145.50 C24.62,143.08 25.88,140.30 27.50,137.80 C29.12,135.30 30.85,132.95 33.50,130.50 C36.15,128.05 39.57,125.25 43.40,123.10 C47.23,120.95 51.88,118.58 56.50,117.60 C61.12,116.62 66.48,116.55 71.10,117.20 C75.72,117.85 80.07,119.37 84.20,121.50 C88.33,123.63 92.73,126.83 95.90,130.00 C99.07,133.17 101.37,137.02 103.20,140.50 C105.03,143.98 106.45,147.95 106.90,150.90 C107.35,153.85 106.95,156.05 105.90,158.20 C104.85,160.35 102.72,162.45 100.60,163.80 C98.48,165.15 95.77,165.85 93.20,166.30 C90.63,166.75 87.15,166.13 85.20,166.50 C83.25,166.87 82.37,167.33 81.50,168.50 C80.63,169.67 80.83,172.12 80.00,173.50 C79.17,174.88 78.00,176.25 76.50,176.80 C75.00,177.35 72.92,177.20 71.00,176.80 C69.08,176.40 67.33,175.62 65.00,174.40 C62.67,173.18 60.33,171.25 57.00,169.50 C53.67,167.75 48.73,165.28 45.00,163.90 C41.27,162.52 37.55,162.08 34.60,161.20 C31.65,160.32 29.30,160.08 27.30,158.60 C25.30,157.12 23.18,154.48 22.60,152.30 Z"/></clipPath>
<g clip-path="url(#cp19)">
<path d="M22.60,152.30 C22.02,150.12 22.98,147.92 23.80,145.50 C24.62,143.08 25.88,140.30 27.50,137.80 C29.12,135.30 30.85,132.95 33.50,130.50 C36.15,128.05 39.57,125.25 43.40,123.10 C47.23,120.95 51.88,118.58 56.50,117.60 C61.12,116.62 66.48,116.55 71.10,117.20 C75.72,117.85 80.07,119.37 84.20,121.50 C88.33,123.63 92.73,126.83 95.90,130.00 C99.07,133.17 101.37,137.02 103.20,140.50 C105.03,143.98 106.45,147.95 106.90,150.90 C107.35,153.85 106.95,156.05 105.90,158.20 C104.85,160.35 102.72,162.45 100.60,163.80 C98.48,165.15 95.77,165.85 93.20,166.30 C90.63,166.75 87.15,166.13 85.20,166.50 C83.25,166.87 82.37,167.33 81.50,168.50 C80.63,169.67 80.83,172.12 80.00,173.50 C79.17,174.88 78.00,176.25 76.50,176.80 C75.00,177.35 72.92,177.20 71.00,176.80 C69.08,176.40 67.33,175.62 65.00,174.40 C62.67,173.18 60.33,171.25 57.00,169.50 C53.67,167.75 48.73,165.28 45.00,163.90 C41.27,162.52 37.55,162.08 34.60,161.20 C31.65,160.32 29.30,160.08 27.30,158.60 C25.30,157.12 23.18,154.48 22.60,152.30 Z" fill="#f4f4f4"/>
<g filter="url(#bl)">
<path d="M29.5,138 C33,131 40,124 49,119" fill="none" stroke="#c8302a" stroke-width="4.2"/>
<polygon points="30,133 36,131 37,136 31,138" fill="#c8302a" opacity="1"/>
<path d="M50,131 C60,126 74,125 86,130 C95,135 100,142 101,150" fill="none" stroke="#c4c4c4" stroke-width="1.6"/>
<path d="M56,139 C66,135 78,135 88,140" fill="none" stroke="#d0d0d0" stroke-width="1.2"/>
<polygon points="50,152 58,154 67,157.5 76,161 81,164.5 79,167.5 71,165 62,161 53,156.5" fill="#cdcdcd" opacity="1"/>
<polygon points="32.5,161.3 44.2,160.2 51.5,158 55,159.5 59,164.5 66,169.8 76.3,172.5 81,174 79,179 70,179 60,173 48,167 35,164 27,162" fill="#c42a2a" opacity="1"/>
</g>
<path d="M48.00,137.00 C49.67,136.17 54.33,133.17 58.00,132.00 C61.67,130.83 66.00,130.00 70.00,130.00 C74.00,130.00 78.33,130.67 82.00,132.00 C85.67,133.33 89.17,135.67 92.00,138.00 C94.83,140.33 97.50,143.33 99.00,146.00 C100.50,148.67 100.67,152.67 101.00,154.00 " fill="none" stroke="#9a9a9a" stroke-width="1.5" opacity="0.3" stroke-linecap="round" filter="url(#bl3)"/>
<path d="M26.00,150.00 C27.33,149.33 31.00,146.50 34.00,146.00 C37.00,145.50 41.00,146.50 44.00,147.00 C47.00,147.50 50.67,148.67 52.00,149.00 " fill="none" stroke="#9a9a9a" stroke-width="1.5" opacity="0.3" stroke-linecap="round" filter="url(#bl3)"/>
<path d="M36.00,129.00 C36.67,130.33 38.50,134.33 40.00,137.00 C41.50,139.67 44.17,143.67 45.00,145.00 " fill="none" stroke="#9a9a9a" stroke-width="1.5" opacity="0.3" stroke-linecap="round" filter="url(#bl3)"/>
<path d="M56.00,121.00 C56.67,122.17 59.33,126.83 60.00,128.00 " fill="none" stroke="#9a9a9a" stroke-width="1.5" opacity="0.3" stroke-linecap="round" filter="url(#bl3)"/>
<path d="M30.00,140.00 C31.33,140.17 35.33,140.33 38.00,141.00 C40.67,141.67 44.67,143.50 46.00,144.00 " fill="none" stroke="#9a9a9a" stroke-width="1.5" opacity="0.3" stroke-linecap="round" filter="url(#bl3)"/>
<path d="M93.00,158.00 C93.83,158.67 97.17,161.33 98.00,162.00 " fill="none" stroke="#9a9a9a" stroke-width="1.5" opacity="0.3" stroke-linecap="round" filter="url(#bl3)"/>
<path d="M22.60,152.30 C22.02,150.12 22.98,147.92 23.80,145.50 C24.62,143.08 25.88,140.30 27.50,137.80 C29.12,135.30 30.85,132.95 33.50,130.50 C36.15,128.05 39.57,125.25 43.40,123.10 C47.23,120.95 51.88,118.58 56.50,117.60 C61.12,116.62 66.48,116.55 71.10,117.20 C75.72,117.85 80.07,119.37 84.20,121.50 C88.33,123.63 92.73,126.83 95.90,130.00 C99.07,133.17 101.37,137.02 103.20,140.50 C105.03,143.98 106.45,147.95 106.90,150.90 C107.35,153.85 106.95,156.05 105.90,158.20 C104.85,160.35 102.72,162.45 100.60,163.80 C98.48,165.15 95.77,165.85 93.20,166.30 C90.63,166.75 87.15,166.13 85.20,166.50 C83.25,166.87 82.37,167.33 81.50,168.50 C80.63,169.67 80.83,172.12 80.00,173.50 C79.17,174.88 78.00,176.25 76.50,176.80 C75.00,177.35 72.92,177.20 71.00,176.80 C69.08,176.40 67.33,175.62 65.00,174.40 C62.67,173.18 60.33,171.25 57.00,169.50 C53.67,167.75 48.73,165.28 45.00,163.90 C41.27,162.52 37.55,162.08 34.60,161.20 C31.65,160.32 29.30,160.08 27.30,158.60 C25.30,157.12 23.18,154.48 22.60,152.30 Z" fill="url(#vshade)"/>
<path d="M22.60,152.30 C22.02,150.12 22.98,147.92 23.80,145.50 C24.62,143.08 25.88,140.30 27.50,137.80 C29.12,135.30 30.85,132.95 33.50,130.50 C36.15,128.05 39.57,125.25 43.40,123.10 C47.23,120.95 51.88,118.58 56.50,117.60 C61.12,116.62 66.48,116.55 71.10,117.20 C75.72,117.85 80.07,119.37 84.20,121.50 C88.33,123.63 92.73,126.83 95.90,130.00 C99.07,133.17 101.37,137.02 103.20,140.50 C105.03,143.98 106.45,147.95 106.90,150.90 C107.35,153.85 106.95,156.05 105.90,158.20 C104.85,160.35 102.72,162.45 100.60,163.80 C98.48,165.15 95.77,165.85 93.20,166.30 C90.63,166.75 87.15,166.13 85.20,166.50 C83.25,166.87 82.37,167.33 81.50,168.50 C80.63,169.67 80.83,172.12 80.00,173.50 C79.17,174.88 78.00,176.25 76.50,176.80 C75.00,177.35 72.92,177.20 71.00,176.80 C69.08,176.40 67.33,175.62 65.00,174.40 C62.67,173.18 60.33,171.25 57.00,169.50 C53.67,167.75 48.73,165.28 45.00,163.90 C41.27,162.52 37.55,162.08 34.60,161.20 C31.65,160.32 29.30,160.08 27.30,158.60 C25.30,157.12 23.18,154.48 22.60,152.30 Z" fill="none" stroke="#000" stroke-width="4" opacity="0.140" filter="url(#bl2)"/>
</g>
<path d="M22.60,152.30 C22.02,150.12 22.98,147.92 23.80,145.50 C24.62,143.08 25.88,140.30 27.50,137.80 C29.12,135.30 30.85,132.95 33.50,130.50 C36.15,128.05 39.57,125.25 43.40,123.10 C47.23,120.95 51.88,118.58 56.50,117.60 C61.12,116.62 66.48,116.55 71.10,117.20 C75.72,117.85 80.07,119.37 84.20,121.50 C88.33,123.63 92.73,126.83 95.90,130.00 C99.07,133.17 101.37,137.02 103.20,140.50 C105.03,143.98 106.45,147.95 106.90,150.90 C107.35,153.85 106.95,156.05 105.90,158.20 C104.85,160.35 102.72,162.45 100.60,163.80 C98.48,165.15 95.77,165.85 93.20,166.30 C90.63,166.75 87.15,166.13 85.20,166.50 C83.25,166.87 82.37,167.33 81.50,168.50 C80.63,169.67 80.83,172.12 80.00,173.50 C79.17,174.88 78.00,176.25 76.50,176.80 C75.00,177.35 72.92,177.20 71.00,176.80 C69.08,176.40 67.33,175.62 65.00,174.40 C62.67,173.18 60.33,171.25 57.00,169.50 C53.67,167.75 48.73,165.28 45.00,163.90 C41.27,162.52 37.55,162.08 34.60,161.20 C31.65,160.32 29.30,160.08 27.30,158.60 C25.30,157.12 23.18,154.48 22.60,152.30 Z" fill="none" stroke="#444" stroke-width="0.8" opacity="0.85"/>
</g>
<g transform="translate(221.00 362.00) scale(-1 1)">
<clipPath id="cp20"><path d="M22.60,152.30 C22.02,150.12 22.98,147.92 23.80,145.50 C24.62,143.08 25.88,140.30 27.50,137.80 C29.12,135.30 30.85,132.95 33.50,130.50 C36.15,128.05 39.57,125.25 43.40,123.10 C47.23,120.95 51.88,118.58 56.50,117.60 C61.12,116.62 66.48,116.55 71.10,117.20 C75.72,117.85 80.07,119.37 84.20,121.50 C88.33,123.63 92.73,126.83 95.90,130.00 C99.07,133.17 101.37,137.02 103.20,140.50 C105.03,143.98 106.45,147.95 106.90,150.90 C107.35,153.85 106.95,156.05 105.90,158.20 C104.85,160.35 102.72,162.45 100.60,163.80 C98.48,165.15 95.77,165.85 93.20,166.30 C90.63,166.75 87.15,166.13 85.20,166.50 C83.25,166.87 82.37,167.33 81.50,168.50 C80.63,169.67 80.83,172.12 80.00,173.50 C79.17,174.88 78.00,176.25 76.50,176.80 C75.00,177.35 72.92,177.20 71.00,176.80 C69.08,176.40 67.33,175.62 65.00,174.40 C62.67,173.18 60.33,171.25 57.00,169.50 C53.67,167.75 48.73,165.28 45.00,163.90 C41.27,162.52 37.55,162.08 34.60,161.20 C31.65,160.32 29.30,160.08 27.30,158.60 C25.30,157.12 23.18,154.48 22.60,152.30 Z"/></clipPath>
<g clip-path="url(#cp20)">
<path d="M22.60,152.30 C22.02,150.12 22.98,147.92 23.80,145.50 C24.62,143.08 25.88,140.30 27.50,137.80 C29.12,135.30 30.85,132.95 33.50,130.50 C36.15,128.05 39.57,125.25 43.40,123.10 C47.23,120.95 51.88,118.58 56.50,117.60 C61.12,116.62 66.48,116.55 71.10,117.20 C75.72,117.85 80.07,119.37 84.20,121.50 C88.33,123.63 92.73,126.83 95.90,130.00 C99.07,133.17 101.37,137.02 103.20,140.50 C105.03,143.98 106.45,147.95 106.90,150.90 C107.35,153.85 106.95,156.05 105.90,158.20 C104.85,160.35 102.72,162.45 100.60,163.80 C98.48,165.15 95.77,165.85 93.20,166.30 C90.63,166.75 87.15,166.13 85.20,166.50 C83.25,166.87 82.37,167.33 81.50,168.50 C80.63,169.67 80.83,172.12 80.00,173.50 C79.17,174.88 78.00,176.25 76.50,176.80 C75.00,177.35 72.92,177.20 71.00,176.80 C69.08,176.40 67.33,175.62 65.00,174.40 C62.67,173.18 60.33,171.25 57.00,169.50 C53.67,167.75 48.73,165.28 45.00,163.90 C41.27,162.52 37.55,162.08 34.60,161.20 C31.65,160.32 29.30,160.08 27.30,158.60 C25.30,157.12 23.18,154.48 22.60,152.30 Z" fill="#f4f4f4"/>
<g filter="url(#bl)">
<path d="M29.5,138 C33,131 40,124 49,119" fill="none" stroke="#c8302a" stroke-width="4.2"/>
<polygon points="30,133 36,131 37,136 31,138" fill="#c8302a" opacity="1"/>
<path d="M50,131 C60,126 74,125 86,130 C95,135 100,142 101,150" fill="none" stroke="#c4c4c4" stroke-width="1.6"/>
<path d="M56,139 C66,135 78,135 88,140" fill="none" stroke="#d0d0d0" stroke-width="1.2"/>
<polygon points="50,152 58,154 67,157.5 76,161 81,164.5 79,167.5 71,165 62,161 53,156.5" fill="#cdcdcd" opacity="1"/>
<polygon points="32.5,161.3 44.2,160.2 51.5,158 55,159.5 59,164.5 66,169.8 76.3,172.5 81,174 79,179 70,179 60,173 48,167 35,164 27,162" fill="#c42a2a" opacity="1"/>
</g>
<path d="M48.00,137.00 C49.67,136.17 54.33,133.17 58.00,132.00 C61.67,130.83 66.00,130.00 70.00,130.00 C74.00,130.00 78.33,130.67 82.00,132.00 C85.67,133.33 89.17,135.67 92.00,138.00 C94.83,140.33 97.50,143.33 99.00,146.00 C100.50,148.67 100.67,152.67 101.00,154.00 " fill="none" stroke="#9a9a9a" stroke-width="1.5" opacity="0.3" stroke-linecap="round" filter="url(#bl3)"/>
<path d="M26.00,150.00 C27.33,149.33 31.00,146.50 34.00,146.00 C37.00,145.50 41.00,146.50 44.00,147.00 C47.00,147.50 50.67,148.67 52.00,149.00 " fill="none" stroke="#9a9a9a" stroke-width="1.5" opacity="0.3" stroke-linecap="round" filter="url(#bl3)"/>
<path d="M36.00,129.00 C36.67,130.33 38.50,134.33 40.00,137.00 C41.50,139.67 44.17,143.67 45.00,145.00 " fill="none" stroke="#9a9a9a" stroke-width="1.5" opacity="0.3" stroke-linecap="round" filter="url(#bl3)"/>
<path d="M56.00,121.00 C56.67,122.17 59.33,126.83 60.00,128.00 " fill="none" stroke="#9a9a9a" stroke-width="1.5" opacity="0.3" stroke-linecap="round" filter="url(#bl3)"/>
<path d="M30.00,140.00 C31.33,140.17 35.33,140.33 38.00,141.00 C40.67,141.67 44.67,143.50 46.00,144.00 " fill="none" stroke="#9a9a9a" stroke-width="1.5" opacity="0.3" stroke-linecap="round" filter="url(#bl3)"/>
<path d="M93.00,158.00 C93.83,158.67 97.17,161.33 98.00,162.00 " fill="none" stroke="#9a9a9a" stroke-width="1.5" opacity="0.3" stroke-linecap="round" filter="url(#bl3)"/>
<path d="M22.60,152.30 C22.02,150.12 22.98,147.92 23.80,145.50 C24.62,143.08 25.88,140.30 27.50,137.80 C29.12,135.30 30.85,132.95 33.50,130.50 C36.15,128.05 39.57,125.25 43.40,123.10 C47.23,120.95 51.88,118.58 56.50,117.60 C61.12,116.62 66.48,116.55 71.10,117.20 C75.72,117.85 80.07,119.37 84.20,121.50 C88.33,123.63 92.73,126.83 95.90,130.00 C99.07,133.17 101.37,137.02 103.20,140.50 C105.03,143.98 106.45,147.95 106.90,150.90 C107.35,153.85 106.95,156.05 105.90,158.20 C104.85,160.35 102.72,162.45 100.60,163.80 C98.48,165.15 95.77,165.85 93.20,166.30 C90.63,166.75 87.15,166.13 85.20,166.50 C83.25,166.87 82.37,167.33 81.50,168.50 C80.63,169.67 80.83,172.12 80.00,173.50 C79.17,174.88 78.00,176.25 76.50,176.80 C75.00,177.35 72.92,177.20 71.00,176.80 C69.08,176.40 67.33,175.62 65.00,174.40 C62.67,173.18 60.33,171.25 57.00,169.50 C53.67,167.75 48.73,165.28 45.00,163.90 C41.27,162.52 37.55,162.08 34.60,161.20 C31.65,160.32 29.30,160.08 27.30,158.60 C25.30,157.12 23.18,154.48 22.60,152.30 Z" fill="url(#vshade)"/>
<path d="M22.60,152.30 C22.02,150.12 22.98,147.92 23.80,145.50 C24.62,143.08 25.88,140.30 27.50,137.80 C29.12,135.30 30.85,132.95 33.50,130.50 C36.15,128.05 39.57,125.25 43.40,123.10 C47.23,120.95 51.88,118.58 56.50,117.60 C61.12,116.62 66.48,116.55 71.10,117.20 C75.72,117.85 80.07,119.37 84.20,121.50 C88.33,123.63 92.73,126.83 95.90,130.00 C99.07,133.17 101.37,137.02 103.20,140.50 C105.03,143.98 106.45,147.95 106.90,150.90 C107.35,153.85 106.95,156.05 105.90,158.20 C104.85,160.35 102.72,162.45 100.60,163.80 C98.48,165.15 95.77,165.85 93.20,166.30 C90.63,166.75 87.15,166.13 85.20,166.50 C83.25,166.87 82.37,167.33 81.50,168.50 C80.63,169.67 80.83,172.12 80.00,173.50 C79.17,174.88 78.00,176.25 76.50,176.80 C75.00,177.35 72.92,177.20 71.00,176.80 C69.08,176.40 67.33,175.62 65.00,174.40 C62.67,173.18 60.33,171.25 57.00,169.50 C53.67,167.75 48.73,165.28 45.00,163.90 C41.27,162.52 37.55,162.08 34.60,161.20 C31.65,160.32 29.30,160.08 27.30,158.60 C25.30,157.12 23.18,154.48 22.60,152.30 Z" fill="none" stroke="#000" stroke-width="4" opacity="0.140" filter="url(#bl2)"/>
</g>
<path d="M22.60,152.30 C22.02,150.12 22.98,147.92 23.80,145.50 C24.62,143.08 25.88,140.30 27.50,137.80 C29.12,135.30 30.85,132.95 33.50,130.50 C36.15,128.05 39.57,125.25 43.40,123.10 C47.23,120.95 51.88,118.58 56.50,117.60 C61.12,116.62 66.48,116.55 71.10,117.20 C75.72,117.85 80.07,119.37 84.20,121.50 C88.33,123.63 92.73,126.83 95.90,130.00 C99.07,133.17 101.37,137.02 103.20,140.50 C105.03,143.98 106.45,147.95 106.90,150.90 C107.35,153.85 106.95,156.05 105.90,158.20 C104.85,160.35 102.72,162.45 100.60,163.80 C98.48,165.15 95.77,165.85 93.20,166.30 C90.63,166.75 87.15,166.13 85.20,166.50 C83.25,166.87 82.37,167.33 81.50,168.50 C80.63,169.67 80.83,172.12 80.00,173.50 C79.17,174.88 78.00,176.25 76.50,176.80 C75.00,177.35 72.92,177.20 71.00,176.80 C69.08,176.40 67.33,175.62 65.00,174.40 C62.67,173.18 60.33,171.25 57.00,169.50 C53.67,167.75 48.73,165.28 45.00,163.90 C41.27,162.52 37.55,162.08 34.60,161.20 C31.65,160.32 29.30,160.08 27.30,158.60 C25.30,157.12 23.18,154.48 22.60,152.30 Z" fill="none" stroke="#444" stroke-width="0.8" opacity="0.85"/>
</g>
<g transform="translate(205.20 362.00)">
<clipPath id="cp21"><path d="M22.90,80.10 C23.08,78.15 23.47,74.77 24.30,72.50 C25.13,70.23 26.37,68.58 27.90,66.50 C29.43,64.42 31.40,62.05 33.50,60.00 C35.60,57.95 37.72,55.97 40.50,54.20 C43.28,52.43 46.38,50.72 50.20,49.40 C54.02,48.08 59.23,46.90 63.40,46.30 C67.57,45.70 71.48,45.48 75.20,45.80 C78.92,46.12 82.42,46.58 85.70,48.20 C88.98,49.82 92.27,52.78 94.90,55.50 C97.53,58.22 99.75,61.42 101.50,64.50 C103.25,67.58 104.60,71.18 105.40,74.00 C106.20,76.82 106.48,79.18 106.30,81.40 C106.12,83.62 105.55,85.82 104.30,87.30 C103.05,88.78 101.25,89.55 98.80,90.30 C96.35,91.05 92.88,91.02 89.60,91.80 C86.32,92.58 82.38,93.63 79.10,95.00 C75.82,96.37 73.00,98.47 69.90,100.00 C66.80,101.53 63.12,103.37 60.50,104.20 C57.88,105.03 56.02,105.27 54.20,105.00 C52.38,104.73 50.70,103.67 49.60,102.60 C48.50,101.53 48.07,99.80 47.60,98.60 C47.13,97.40 47.65,95.98 46.80,95.40 C45.95,94.82 44.38,95.25 42.50,95.10 C40.62,94.95 37.62,94.95 35.50,94.50 C33.38,94.05 31.48,93.42 29.80,92.40 C28.12,91.38 26.50,89.77 25.40,88.40 C24.30,87.03 23.62,85.58 23.20,84.20 C22.78,82.82 22.72,82.05 22.90,80.10 Z"/></clipPath>
<g clip-path="url(#cp21)">
<path d="M22.90,80.10 C23.08,78.15 23.47,74.77 24.30,72.50 C25.13,70.23 26.37,68.58 27.90,66.50 C29.43,64.42 31.40,62.05 33.50,60.00 C35.60,57.95 37.72,55.97 40.50,54.20 C43.28,52.43 46.38,50.72 50.20,49.40 C54.02,48.08 59.23,46.90 63.40,46.30 C67.57,45.70 71.48,45.48 75.20,45.80 C78.92,46.12 82.42,46.58 85.70,48.20 C88.98,49.82 92.27,52.78 94.90,55.50 C97.53,58.22 99.75,61.42 101.50,64.50 C103.25,67.58 104.60,71.18 105.40,74.00 C106.20,76.82 106.48,79.18 106.30,81.40 C106.12,83.62 105.55,85.82 104.30,87.30 C103.05,88.78 101.25,89.55 98.80,90.30 C96.35,91.05 92.88,91.02 89.60,91.80 C86.32,92.58 82.38,93.63 79.10,95.00 C75.82,96.37 73.00,98.47 69.90,100.00 C66.80,101.53 63.12,103.37 60.50,104.20 C57.88,105.03 56.02,105.27 54.20,105.00 C52.38,104.73 50.70,103.67 49.60,102.60 C48.50,101.53 48.07,99.80 47.60,98.60 C47.13,97.40 47.65,95.98 46.80,95.40 C45.95,94.82 44.38,95.25 42.50,95.10 C40.62,94.95 37.62,94.95 35.50,94.50 C33.38,94.05 31.48,93.42 29.80,92.40 C28.12,91.38 26.50,89.77 25.40,88.40 C24.30,87.03 23.62,85.58 23.20,84.20 C22.78,82.82 22.72,82.05 22.90,80.10 Z" fill="#ececec"/>
<g filter="url(#bl)">
<g transform="translate(-205.20 -362.00)">
<polygon points="256.5,413.2 264.4,410.6 277.6,409.3 285.4,410.6 290.7,414.5 294.6,417.1 293.3,422.4 282.8,422.4 280.2,418.5 277.6,415.8 274.9,419.8 271,421.1 268.4,417.1 265.7,423.7 261.8,422.4 259.2,418.5" fill="#dc5842" opacity="1"/>
<ellipse cx="276" cy="412.5" rx="11" ry="3.5" fill="#a8161e" transform="rotate(0 276 412.5)" opacity="1"/>
<polygon points="248.7,446 253.9,442.1 264.4,439.5 269.7,438.2 277.6,435.5 282.8,434.9 283.5,438.2 277.6,442.1 269.7,446 264.4,448.7 257.8,451.3 256.5,453.9 251.3,452.6 248.7,450" fill="#e06a50" opacity="1"/>
<polygon points="229.5,451.3 238.1,452.6 246,453.9 253.9,455.2 253.2,458.5 244.7,459.5 235.5,459 229,456.5" fill="#a81c22" opacity="1"/>
</g>
</g>
<path d="M31.60,63.90 C34.02,62.80 41.72,58.83 46.10,57.30 C50.48,55.77 55.05,55.58 57.90,54.70 C60.75,53.82 62.32,52.45 63.20,52.00 " fill="none" stroke="#000" stroke-width="1.5" opacity="0.28" stroke-linecap="round" filter="url(#bl3)"/>
<path d="M33.00,80.90 C34.75,79.82 40.23,76.37 43.50,74.40 C46.77,72.43 50.20,70.42 52.60,69.10 C55.00,67.78 57.02,66.93 57.90,66.50 " fill="none" stroke="#000" stroke-width="1.5" opacity="0.28" stroke-linecap="round" filter="url(#bl3)"/>
<path d="M63.20,52.00 C62.53,53.75 60.73,59.22 59.20,62.50 C57.67,65.78 55.10,69.07 54.00,71.70 C52.90,74.33 52.83,77.20 52.60,78.30 " fill="none" stroke="#000" stroke-width="1.5" opacity="0.28" stroke-linecap="round" filter="url(#bl3)"/>
<path d="M69.70,49.40 C69.05,51.15 67.12,56.83 65.80,59.90 C64.48,62.97 62.90,65.62 61.80,67.80 C60.70,69.98 59.63,72.13 59.20,73.00 " fill="none" stroke="#000" stroke-width="1.5" opacity="0.28" stroke-linecap="round" filter="url(#bl3)"/>
<path d="M76.30,50.70 C75.65,52.23 73.50,57.05 72.40,59.90 C71.30,62.75 70.15,66.48 69.70,67.80 " fill="none" stroke="#000" stroke-width="1.5" opacity="0.28" stroke-linecap="round" filter="url(#bl3)"/>
<path d="M40.80,83.60 C42.55,83.17 47.80,81.88 51.30,81.00 C54.80,80.12 58.73,79.63 61.80,78.30 C64.87,76.97 67.28,74.53 69.70,73.00 C72.12,71.47 74.32,70.62 76.30,69.10 C78.28,67.58 80.72,64.77 81.60,63.90 " fill="none" stroke="#000" stroke-width="1.5" opacity="0.28" stroke-linecap="round" filter="url(#bl3)"/>
<path d="M52.60,91.40 C54.80,90.53 61.42,88.05 65.80,86.20 C70.18,84.35 75.18,82.50 78.90,80.30 C82.62,78.10 85.68,75.30 88.10,73.00 C90.52,70.70 92.52,67.58 93.40,66.50 " fill="none" stroke="#000" stroke-width="1.5" opacity="0.28" stroke-linecap="round" filter="url(#bl3)"/>
<path d="M47.00,94.80 C47.83,94.25 49.97,92.57 52.00,91.50 C54.03,90.43 56.87,89.40 59.20,88.40 C61.53,87.40 63.80,86.57 66.00,85.50 C68.20,84.43 70.40,83.33 72.40,82.00 C74.40,80.67 76.47,78.93 78.00,77.50 C79.53,76.07 81.00,74.08 81.60,73.40 " fill="none" stroke="#000" stroke-width="1.5" opacity="0.28" stroke-linecap="round" filter="url(#bl3)"/>
<path d="M72.40,59.90 C74.15,59.68 79.83,58.38 82.90,58.60 C85.97,58.82 88.62,59.88 90.80,61.20 C92.98,62.52 94.47,64.30 96.00,66.50 C97.53,68.70 99.33,73.08 100.00,74.40 " fill="none" stroke="#000" stroke-width="1.5" opacity="0.28" stroke-linecap="round" filter="url(#bl3)"/>
<path d="M56.60,98.00 C59.23,97.02 67.58,93.73 72.40,92.10 C77.22,90.47 81.13,89.30 85.50,88.20 C89.87,87.10 96.42,85.95 98.60,85.50 " fill="none" stroke="#000" stroke-width="1.5" opacity="0.28" stroke-linecap="round" filter="url(#bl3)"/>
<path d="M98.60,70.40 C99.48,71.93 103.02,78.07 103.90,79.60 " fill="none" stroke="#000" stroke-width="1.5" opacity="0.28" stroke-linecap="round" filter="url(#bl3)"/>
<path d="M25.00,74.40 C25.88,73.08 28.10,68.70 30.30,66.50 C32.50,64.30 36.88,62.08 38.20,61.20 " fill="none" stroke="#000" stroke-width="1.5" opacity="0.28" stroke-linecap="round" filter="url(#bl3)"/>
<path d="M27.70,82.20 C29.02,82.87 33.20,85.32 35.60,86.20 C38.00,87.08 41.02,87.28 42.10,87.50 " fill="none" stroke="#000" stroke-width="1.5" opacity="0.28" stroke-linecap="round" filter="url(#bl3)"/>
<path d="M22.90,80.10 C23.08,78.15 23.47,74.77 24.30,72.50 C25.13,70.23 26.37,68.58 27.90,66.50 C29.43,64.42 31.40,62.05 33.50,60.00 C35.60,57.95 37.72,55.97 40.50,54.20 C43.28,52.43 46.38,50.72 50.20,49.40 C54.02,48.08 59.23,46.90 63.40,46.30 C67.57,45.70 71.48,45.48 75.20,45.80 C78.92,46.12 82.42,46.58 85.70,48.20 C88.98,49.82 92.27,52.78 94.90,55.50 C97.53,58.22 99.75,61.42 101.50,64.50 C103.25,67.58 104.60,71.18 105.40,74.00 C106.20,76.82 106.48,79.18 106.30,81.40 C106.12,83.62 105.55,85.82 104.30,87.30 C103.05,88.78 101.25,89.55 98.80,90.30 C96.35,91.05 92.88,91.02 89.60,91.80 C86.32,92.58 82.38,93.63 79.10,95.00 C75.82,96.37 73.00,98.47 69.90,100.00 C66.80,101.53 63.12,103.37 60.50,104.20 C57.88,105.03 56.02,105.27 54.20,105.00 C52.38,104.73 50.70,103.67 49.60,102.60 C48.50,101.53 48.07,99.80 47.60,98.60 C47.13,97.40 47.65,95.98 46.80,95.40 C45.95,94.82 44.38,95.25 42.50,95.10 C40.62,94.95 37.62,94.95 35.50,94.50 C33.38,94.05 31.48,93.42 29.80,92.40 C28.12,91.38 26.50,89.77 25.40,88.40 C24.30,87.03 23.62,85.58 23.20,84.20 C22.78,82.82 22.72,82.05 22.90,80.10 Z" fill="url(#vshade)"/>
<path d="M22.90,80.10 C23.08,78.15 23.47,74.77 24.30,72.50 C25.13,70.23 26.37,68.58 27.90,66.50 C29.43,64.42 31.40,62.05 33.50,60.00 C35.60,57.95 37.72,55.97 40.50,54.20 C43.28,52.43 46.38,50.72 50.20,49.40 C54.02,48.08 59.23,46.90 63.40,46.30 C67.57,45.70 71.48,45.48 75.20,45.80 C78.92,46.12 82.42,46.58 85.70,48.20 C88.98,49.82 92.27,52.78 94.90,55.50 C97.53,58.22 99.75,61.42 101.50,64.50 C103.25,67.58 104.60,71.18 105.40,74.00 C106.20,76.82 106.48,79.18 106.30,81.40 C106.12,83.62 105.55,85.82 104.30,87.30 C103.05,88.78 101.25,89.55 98.80,90.30 C96.35,91.05 92.88,91.02 89.60,91.80 C86.32,92.58 82.38,93.63 79.10,95.00 C75.82,96.37 73.00,98.47 69.90,100.00 C66.80,101.53 63.12,103.37 60.50,104.20 C57.88,105.03 56.02,105.27 54.20,105.00 C52.38,104.73 50.70,103.67 49.60,102.60 C48.50,101.53 48.07,99.80 47.60,98.60 C47.13,97.40 47.65,95.98 46.80,95.40 C45.95,94.82 44.38,95.25 42.50,95.10 C40.62,94.95 37.62,94.95 35.50,94.50 C33.38,94.05 31.48,93.42 29.80,92.40 C28.12,91.38 26.50,89.77 25.40,88.40 C24.30,87.03 23.62,85.58 23.20,84.20 C22.78,82.82 22.72,82.05 22.90,80.10 Z" fill="none" stroke="#000" stroke-width="4" opacity="0.140" filter="url(#bl2)"/>
</g>
<path d="M22.90,80.10 C23.08,78.15 23.47,74.77 24.30,72.50 C25.13,70.23 26.37,68.58 27.90,66.50 C29.43,64.42 31.40,62.05 33.50,60.00 C35.60,57.95 37.72,55.97 40.50,54.20 C43.28,52.43 46.38,50.72 50.20,49.40 C54.02,48.08 59.23,46.90 63.40,46.30 C67.57,45.70 71.48,45.48 75.20,45.80 C78.92,46.12 82.42,46.58 85.70,48.20 C88.98,49.82 92.27,52.78 94.90,55.50 C97.53,58.22 99.75,61.42 101.50,64.50 C103.25,67.58 104.60,71.18 105.40,74.00 C106.20,76.82 106.48,79.18 106.30,81.40 C106.12,83.62 105.55,85.82 104.30,87.30 C103.05,88.78 101.25,89.55 98.80,90.30 C96.35,91.05 92.88,91.02 89.60,91.80 C86.32,92.58 82.38,93.63 79.10,95.00 C75.82,96.37 73.00,98.47 69.90,100.00 C66.80,101.53 63.12,103.37 60.50,104.20 C57.88,105.03 56.02,105.27 54.20,105.00 C52.38,104.73 50.70,103.67 49.60,102.60 C48.50,101.53 48.07,99.80 47.60,98.60 C47.13,97.40 47.65,95.98 46.80,95.40 C45.95,94.82 44.38,95.25 42.50,95.10 C40.62,94.95 37.62,94.95 35.50,94.50 C33.38,94.05 31.48,93.42 29.80,92.40 C28.12,91.38 26.50,89.77 25.40,88.40 C24.30,87.03 23.62,85.58 23.20,84.20 C22.78,82.82 22.72,82.05 22.90,80.10 Z" fill="none" stroke="#444" stroke-width="0.8" opacity="0.85"/>
</g>
<g transform="translate(426.20 362.00) scale(-1 1)">
<clipPath id="cp22"><path d="M22.90,80.10 C23.08,78.15 23.47,74.77 24.30,72.50 C25.13,70.23 26.37,68.58 27.90,66.50 C29.43,64.42 31.40,62.05 33.50,60.00 C35.60,57.95 37.72,55.97 40.50,54.20 C43.28,52.43 46.38,50.72 50.20,49.40 C54.02,48.08 59.23,46.90 63.40,46.30 C67.57,45.70 71.48,45.48 75.20,45.80 C78.92,46.12 82.42,46.58 85.70,48.20 C88.98,49.82 92.27,52.78 94.90,55.50 C97.53,58.22 99.75,61.42 101.50,64.50 C103.25,67.58 104.60,71.18 105.40,74.00 C106.20,76.82 106.48,79.18 106.30,81.40 C106.12,83.62 105.55,85.82 104.30,87.30 C103.05,88.78 101.25,89.55 98.80,90.30 C96.35,91.05 92.88,91.02 89.60,91.80 C86.32,92.58 82.38,93.63 79.10,95.00 C75.82,96.37 73.00,98.47 69.90,100.00 C66.80,101.53 63.12,103.37 60.50,104.20 C57.88,105.03 56.02,105.27 54.20,105.00 C52.38,104.73 50.70,103.67 49.60,102.60 C48.50,101.53 48.07,99.80 47.60,98.60 C47.13,97.40 47.65,95.98 46.80,95.40 C45.95,94.82 44.38,95.25 42.50,95.10 C40.62,94.95 37.62,94.95 35.50,94.50 C33.38,94.05 31.48,93.42 29.80,92.40 C28.12,91.38 26.50,89.77 25.40,88.40 C24.30,87.03 23.62,85.58 23.20,84.20 C22.78,82.82 22.72,82.05 22.90,80.10 Z"/></clipPath>
<g clip-path="url(#cp22)">
<path d="M22.90,80.10 C23.08,78.15 23.47,74.77 24.30,72.50 C25.13,70.23 26.37,68.58 27.90,66.50 C29.43,64.42 31.40,62.05 33.50,60.00 C35.60,57.95 37.72,55.97 40.50,54.20 C43.28,52.43 46.38,50.72 50.20,49.40 C54.02,48.08 59.23,46.90 63.40,46.30 C67.57,45.70 71.48,45.48 75.20,45.80 C78.92,46.12 82.42,46.58 85.70,48.20 C88.98,49.82 92.27,52.78 94.90,55.50 C97.53,58.22 99.75,61.42 101.50,64.50 C103.25,67.58 104.60,71.18 105.40,74.00 C106.20,76.82 106.48,79.18 106.30,81.40 C106.12,83.62 105.55,85.82 104.30,87.30 C103.05,88.78 101.25,89.55 98.80,90.30 C96.35,91.05 92.88,91.02 89.60,91.80 C86.32,92.58 82.38,93.63 79.10,95.00 C75.82,96.37 73.00,98.47 69.90,100.00 C66.80,101.53 63.12,103.37 60.50,104.20 C57.88,105.03 56.02,105.27 54.20,105.00 C52.38,104.73 50.70,103.67 49.60,102.60 C48.50,101.53 48.07,99.80 47.60,98.60 C47.13,97.40 47.65,95.98 46.80,95.40 C45.95,94.82 44.38,95.25 42.50,95.10 C40.62,94.95 37.62,94.95 35.50,94.50 C33.38,94.05 31.48,93.42 29.80,92.40 C28.12,91.38 26.50,89.77 25.40,88.40 C24.30,87.03 23.62,85.58 23.20,84.20 C22.78,82.82 22.72,82.05 22.90,80.10 Z" fill="#ececec"/>
<g filter="url(#bl)">
<g transform="translate(426.20 -362.00) scale(-1 1)">
<polygon points="331.8,423.7 335.7,417.1 342.3,413.2 348.8,410.6 359.4,409.3 371.2,409.9 381.7,413.9 389.6,418.5 393.5,423.7 392.2,427.7 387,428.3 384.3,425 377.8,422.4 373.8,418.5 369.9,417.1 365.9,414.5 359.4,415.8 355.4,418.5 352.8,421.1 347.5,422.4 342.3,423.7 337,425" fill="#cc3a30" opacity="1"/>
<ellipse cx="342" cy="418" rx="8" ry="5" fill="#e06048" transform="rotate(0 342 418)" opacity="1"/>
<ellipse cx="384" cy="419" rx="8" ry="5" fill="#d04434" transform="rotate(0 384 419)" opacity="1"/>
<polygon points="372.5,423.7 381.7,426.3 384.3,434.2 389.6,440.8 394.8,443.4 400.1,444.7 401.4,451.3 397.5,456.6 387,457.9 379.1,455.2 373.8,448.7 372.5,443.4 371.2,436.8" fill="#c83030" opacity="1"/>
<ellipse cx="390" cy="450" rx="10" ry="6" fill="#b02028" transform="rotate(0 390 450)" opacity="1"/>
<ellipse cx="393" cy="432" rx="4.5" ry="6" fill="#f0f0f0" transform="rotate(0 393 432)" opacity="1"/>
<polygon points="347.5,439.5 355.4,436.8 363.3,439.5 371.2,442.1 377.8,443.4 377.8,447.4 371.2,447.4 363.3,446 355.4,446 348.8,444.7" fill="#c42c2c" opacity="1"/>
<ellipse cx="372" cy="444.5" rx="4.5" ry="3" fill="#e06a50" transform="rotate(0 372 444.5)" opacity="1"/>
<ellipse cx="327.4" cy="441.4" rx="4.3" ry="7.2" fill="#4a86b4" transform="rotate(0 327.4 441.4)" opacity="1"/>
<ellipse cx="370.5" cy="464.2" rx="4.6" ry="2.6" fill="#c83030" transform="rotate(0 370.5 464.2)" opacity="1"/>
<ellipse cx="370.5" cy="413.5" rx="3" ry="2.5" fill="#f0f0f0" transform="rotate(0 370.5 413.5)" opacity="1"/>
</g>
</g>
<path d="M31.60,63.90 C34.02,62.80 41.72,58.83 46.10,57.30 C50.48,55.77 55.05,55.58 57.90,54.70 C60.75,53.82 62.32,52.45 63.20,52.00 " fill="none" stroke="#000" stroke-width="1.5" opacity="0.28" stroke-linecap="round" filter="url(#bl3)"/>
<path d="M33.00,80.90 C34.75,79.82 40.23,76.37 43.50,74.40 C46.77,72.43 50.20,70.42 52.60,69.10 C55.00,67.78 57.02,66.93 57.90,66.50 " fill="none" stroke="#000" stroke-width="1.5" opacity="0.28" stroke-linecap="round" filter="url(#bl3)"/>
<path d="M63.20,52.00 C62.53,53.75 60.73,59.22 59.20,62.50 C57.67,65.78 55.10,69.07 54.00,71.70 C52.90,74.33 52.83,77.20 52.60,78.30 " fill="none" stroke="#000" stroke-width="1.5" opacity="0.28" stroke-linecap="round" filter="url(#bl3)"/>
<path d="M69.70,49.40 C69.05,51.15 67.12,56.83 65.80,59.90 C64.48,62.97 62.90,65.62 61.80,67.80 C60.70,69.98 59.63,72.13 59.20,73.00 " fill="none" stroke="#000" stroke-width="1.5" opacity="0.28" stroke-linecap="round" filter="url(#bl3)"/>
<path d="M76.30,50.70 C75.65,52.23 73.50,57.05 72.40,59.90 C71.30,62.75 70.15,66.48 69.70,67.80 " fill="none" stroke="#000" stroke-width="1.5" opacity="0.28" stroke-linecap="round" filter="url(#bl3)"/>
<path d="M40.80,83.60 C42.55,83.17 47.80,81.88 51.30,81.00 C54.80,80.12 58.73,79.63 61.80,78.30 C64.87,76.97 67.28,74.53 69.70,73.00 C72.12,71.47 74.32,70.62 76.30,69.10 C78.28,67.58 80.72,64.77 81.60,63.90 " fill="none" stroke="#000" stroke-width="1.5" opacity="0.28" stroke-linecap="round" filter="url(#bl3)"/>
<path d="M52.60,91.40 C54.80,90.53 61.42,88.05 65.80,86.20 C70.18,84.35 75.18,82.50 78.90,80.30 C82.62,78.10 85.68,75.30 88.10,73.00 C90.52,70.70 92.52,67.58 93.40,66.50 " fill="none" stroke="#000" stroke-width="1.5" opacity="0.28" stroke-linecap="round" filter="url(#bl3)"/>
<path d="M47.00,94.80 C47.83,94.25 49.97,92.57 52.00,91.50 C54.03,90.43 56.87,89.40 59.20,88.40 C61.53,87.40 63.80,86.57 66.00,85.50 C68.20,84.43 70.40,83.33 72.40,82.00 C74.40,80.67 76.47,78.93 78.00,77.50 C79.53,76.07 81.00,74.08 81.60,73.40 " fill="none" stroke="#000" stroke-width="1.5" opacity="0.28" stroke-linecap="round" filter="url(#bl3)"/>
<path d="M72.40,59.90 C74.15,59.68 79.83,58.38 82.90,58.60 C85.97,58.82 88.62,59.88 90.80,61.20 C92.98,62.52 94.47,64.30 96.00,66.50 C97.53,68.70 99.33,73.08 100.00,74.40 " fill="none" stroke="#000" stroke-width="1.5" opacity="0.28" stroke-linecap="round" filter="url(#bl3)"/>
<path d="M56.60,98.00 C59.23,97.02 67.58,93.73 72.40,92.10 C77.22,90.47 81.13,89.30 85.50,88.20 C89.87,87.10 96.42,85.95 98.60,85.50 " fill="none" stroke="#000" stroke-width="1.5" opacity="0.28" stroke-linecap="round" filter="url(#bl3)"/>
<path d="M98.60,70.40 C99.48,71.93 103.02,78.07 103.90,79.60 " fill="none" stroke="#000" stroke-width="1.5" opacity="0.28" stroke-linecap="round" filter="url(#bl3)"/>
<path d="M25.00,74.40 C25.88,73.08 28.10,68.70 30.30,66.50 C32.50,64.30 36.88,62.08 38.20,61.20 " fill="none" stroke="#000" stroke-width="1.5" opacity="0.28" stroke-linecap="round" filter="url(#bl3)"/>
<path d="M27.70,82.20 C29.02,82.87 33.20,85.32 35.60,86.20 C38.00,87.08 41.02,87.28 42.10,87.50 " fill="none" stroke="#000" stroke-width="1.5" opacity="0.28" stroke-linecap="round" filter="url(#bl3)"/>
<path d="M22.90,80.10 C23.08,78.15 23.47,74.77 24.30,72.50 C25.13,70.23 26.37,68.58 27.90,66.50 C29.43,64.42 31.40,62.05 33.50,60.00 C35.60,57.95 37.72,55.97 40.50,54.20 C43.28,52.43 46.38,50.72 50.20,49.40 C54.02,48.08 59.23,46.90 63.40,46.30 C67.57,45.70 71.48,45.48 75.20,45.80 C78.92,46.12 82.42,46.58 85.70,48.20 C88.98,49.82 92.27,52.78 94.90,55.50 C97.53,58.22 99.75,61.42 101.50,64.50 C103.25,67.58 104.60,71.18 105.40,74.00 C106.20,76.82 106.48,79.18 106.30,81.40 C106.12,83.62 105.55,85.82 104.30,87.30 C103.05,88.78 101.25,89.55 98.80,90.30 C96.35,91.05 92.88,91.02 89.60,91.80 C86.32,92.58 82.38,93.63 79.10,95.00 C75.82,96.37 73.00,98.47 69.90,100.00 C66.80,101.53 63.12,103.37 60.50,104.20 C57.88,105.03 56.02,105.27 54.20,105.00 C52.38,104.73 50.70,103.67 49.60,102.60 C48.50,101.53 48.07,99.80 47.60,98.60 C47.13,97.40 47.65,95.98 46.80,95.40 C45.95,94.82 44.38,95.25 42.50,95.10 C40.62,94.95 37.62,94.95 35.50,94.50 C33.38,94.05 31.48,93.42 29.80,92.40 C28.12,91.38 26.50,89.77 25.40,88.40 C24.30,87.03 23.62,85.58 23.20,84.20 C22.78,82.82 22.72,82.05 22.90,80.10 Z" fill="url(#vshade)"/>
<path d="M22.90,80.10 C23.08,78.15 23.47,74.77 24.30,72.50 C25.13,70.23 26.37,68.58 27.90,66.50 C29.43,64.42 31.40,62.05 33.50,60.00 C35.60,57.95 37.72,55.97 40.50,54.20 C43.28,52.43 46.38,50.72 50.20,49.40 C54.02,48.08 59.23,46.90 63.40,46.30 C67.57,45.70 71.48,45.48 75.20,45.80 C78.92,46.12 82.42,46.58 85.70,48.20 C88.98,49.82 92.27,52.78 94.90,55.50 C97.53,58.22 99.75,61.42 101.50,64.50 C103.25,67.58 104.60,71.18 105.40,74.00 C106.20,76.82 106.48,79.18 106.30,81.40 C106.12,83.62 105.55,85.82 104.30,87.30 C103.05,88.78 101.25,89.55 98.80,90.30 C96.35,91.05 92.88,91.02 89.60,91.80 C86.32,92.58 82.38,93.63 79.10,95.00 C75.82,96.37 73.00,98.47 69.90,100.00 C66.80,101.53 63.12,103.37 60.50,104.20 C57.88,105.03 56.02,105.27 54.20,105.00 C52.38,104.73 50.70,103.67 49.60,102.60 C48.50,101.53 48.07,99.80 47.60,98.60 C47.13,97.40 47.65,95.98 46.80,95.40 C45.95,94.82 44.38,95.25 42.50,95.10 C40.62,94.95 37.62,94.95 35.50,94.50 C33.38,94.05 31.48,93.42 29.80,92.40 C28.12,91.38 26.50,89.77 25.40,88.40 C24.30,87.03 23.62,85.58 23.20,84.20 C22.78,82.82 22.72,82.05 22.90,80.10 Z" fill="none" stroke="#000" stroke-width="4" opacity="0.140" filter="url(#bl2)"/>
</g>
<path d="M22.90,80.10 C23.08,78.15 23.47,74.77 24.30,72.50 C25.13,70.23 26.37,68.58 27.90,66.50 C29.43,64.42 31.40,62.05 33.50,60.00 C35.60,57.95 37.72,55.97 40.50,54.20 C43.28,52.43 46.38,50.72 50.20,49.40 C54.02,48.08 59.23,46.90 63.40,46.30 C67.57,45.70 71.48,45.48 75.20,45.80 C78.92,46.12 82.42,46.58 85.70,48.20 C88.98,49.82 92.27,52.78 94.90,55.50 C97.53,58.22 99.75,61.42 101.50,64.50 C103.25,67.58 104.60,71.18 105.40,74.00 C106.20,76.82 106.48,79.18 106.30,81.40 C106.12,83.62 105.55,85.82 104.30,87.30 C103.05,88.78 101.25,89.55 98.80,90.30 C96.35,91.05 92.88,91.02 89.60,91.80 C86.32,92.58 82.38,93.63 79.10,95.00 C75.82,96.37 73.00,98.47 69.90,100.00 C66.80,101.53 63.12,103.37 60.50,104.20 C57.88,105.03 56.02,105.27 54.20,105.00 C52.38,104.73 50.70,103.67 49.60,102.60 C48.50,101.53 48.07,99.80 47.60,98.60 C47.13,97.40 47.65,95.98 46.80,95.40 C45.95,94.82 44.38,95.25 42.50,95.10 C40.62,94.95 37.62,94.95 35.50,94.50 C33.38,94.05 31.48,93.42 29.80,92.40 C28.12,91.38 26.50,89.77 25.40,88.40 C24.30,87.03 23.62,85.58 23.20,84.20 C22.78,82.82 22.72,82.05 22.90,80.10 Z" fill="none" stroke="#444" stroke-width="0.8" opacity="0.85"/>
</g>
<g transform="translate(205.20 362.00)">
<clipPath id="cp23"><path d="M22.60,152.30 C22.02,150.12 22.98,147.92 23.80,145.50 C24.62,143.08 25.88,140.30 27.50,137.80 C29.12,135.30 30.85,132.95 33.50,130.50 C36.15,128.05 39.57,125.25 43.40,123.10 C47.23,120.95 51.88,118.58 56.50,117.60 C61.12,116.62 66.48,116.55 71.10,117.20 C75.72,117.85 80.07,119.37 84.20,121.50 C88.33,123.63 92.73,126.83 95.90,130.00 C99.07,133.17 101.37,137.02 103.20,140.50 C105.03,143.98 106.45,147.95 106.90,150.90 C107.35,153.85 106.95,156.05 105.90,158.20 C104.85,160.35 102.72,162.45 100.60,163.80 C98.48,165.15 95.77,165.85 93.20,166.30 C90.63,166.75 87.15,166.13 85.20,166.50 C83.25,166.87 82.37,167.33 81.50,168.50 C80.63,169.67 80.83,172.12 80.00,173.50 C79.17,174.88 78.00,176.25 76.50,176.80 C75.00,177.35 72.92,177.20 71.00,176.80 C69.08,176.40 67.33,175.62 65.00,174.40 C62.67,173.18 60.33,171.25 57.00,169.50 C53.67,167.75 48.73,165.28 45.00,163.90 C41.27,162.52 37.55,162.08 34.60,161.20 C31.65,160.32 29.30,160.08 27.30,158.60 C25.30,157.12 23.18,154.48 22.60,152.30 Z"/></clipPath>
<g clip-path="url(#cp23)">
<path d="M22.60,152.30 C22.02,150.12 22.98,147.92 23.80,145.50 C24.62,143.08 25.88,140.30 27.50,137.80 C29.12,135.30 30.85,132.95 33.50,130.50 C36.15,128.05 39.57,125.25 43.40,123.10 C47.23,120.95 51.88,118.58 56.50,117.60 C61.12,116.62 66.48,116.55 71.10,117.20 C75.72,117.85 80.07,119.37 84.20,121.50 C88.33,123.63 92.73,126.83 95.90,130.00 C99.07,133.17 101.37,137.02 103.20,140.50 C105.03,143.98 106.45,147.95 106.90,150.90 C107.35,153.85 106.95,156.05 105.90,158.20 C104.85,160.35 102.72,162.45 100.60,163.80 C98.48,165.15 95.77,165.85 93.20,166.30 C90.63,166.75 87.15,166.13 85.20,166.50 C83.25,166.87 82.37,167.33 81.50,168.50 C80.63,169.67 80.83,172.12 80.00,173.50 C79.17,174.88 78.00,176.25 76.50,176.80 C75.00,177.35 72.92,177.20 71.00,176.80 C69.08,176.40 67.33,175.62 65.00,174.40 C62.67,173.18 60.33,171.25 57.00,169.50 C53.67,167.75 48.73,165.28 45.00,163.90 C41.27,162.52 37.55,162.08 34.60,161.20 C31.65,160.32 29.30,160.08 27.30,158.60 C25.30,157.12 23.18,154.48 22.60,152.30 Z" fill="#efefef"/>
<g filter="url(#bl)">
<g transform="translate(-205.20 -362.00)">
<polygon points="236,492 248,481 262,477 280,477 296,482 308,492 313,505 314,520 306,529 292,531 280,536 270,530 262,525 252,520 246,512 244,502 240,497" fill="#c8302a" opacity="1"/>
<ellipse cx="270" cy="500" rx="22" ry="5" fill="#a01018" transform="rotate(0 270 500)" opacity="1"/>
<ellipse cx="292" cy="488" rx="10" ry="6" fill="#e06a50" transform="rotate(0 292 488)" opacity="1"/>
<ellipse cx="283" cy="525" rx="10" ry="5" fill="#e06a50" transform="rotate(0 283 525)" opacity="1"/>
<ellipse cx="247" cy="490" rx="3" ry="3" fill="#f2f2f2" transform="rotate(0 247 490)" opacity="1"/>
<ellipse cx="306" cy="508" rx="4" ry="5" fill="#f2f2f2" transform="rotate(0 306 508)" opacity="1"/>
<ellipse cx="305" cy="522" rx="3" ry="3" fill="#f2f2f2" transform="rotate(0 305 522)" opacity="1"/>
<ellipse cx="278" cy="532" rx="3" ry="2.5" fill="#f2f2f2" transform="rotate(0 278 532)" opacity="1"/>
</g>
</g>
<path d="M48.00,137.00 C49.67,136.17 54.33,133.17 58.00,132.00 C61.67,130.83 66.00,130.00 70.00,130.00 C74.00,130.00 78.33,130.67 82.00,132.00 C85.67,133.33 89.17,135.67 92.00,138.00 C94.83,140.33 97.50,143.33 99.00,146.00 C100.50,148.67 100.67,152.67 101.00,154.00 " fill="none" stroke="#8a8a8a" stroke-width="1.5" opacity="0.35" stroke-linecap="round" filter="url(#bl3)"/>
<path d="M26.00,150.00 C27.33,149.33 31.00,146.50 34.00,146.00 C37.00,145.50 41.00,146.50 44.00,147.00 C47.00,147.50 50.67,148.67 52.00,149.00 " fill="none" stroke="#8a8a8a" stroke-width="1.5" opacity="0.35" stroke-linecap="round" filter="url(#bl3)"/>
<path d="M36.00,129.00 C36.67,130.33 38.50,134.33 40.00,137.00 C41.50,139.67 44.17,143.67 45.00,145.00 " fill="none" stroke="#8a8a8a" stroke-width="1.5" opacity="0.35" stroke-linecap="round" filter="url(#bl3)"/>
<path d="M56.00,121.00 C56.67,122.17 59.33,126.83 60.00,128.00 " fill="none" stroke="#8a8a8a" stroke-width="1.5" opacity="0.35" stroke-linecap="round" filter="url(#bl3)"/>
<path d="M30.00,140.00 C31.33,140.17 35.33,140.33 38.00,141.00 C40.67,141.67 44.67,143.50 46.00,144.00 " fill="none" stroke="#8a8a8a" stroke-width="1.5" opacity="0.35" stroke-linecap="round" filter="url(#bl3)"/>
<path d="M93.00,158.00 C93.83,158.67 97.17,161.33 98.00,162.00 " fill="none" stroke="#8a8a8a" stroke-width="1.5" opacity="0.35" stroke-linecap="round" filter="url(#bl3)"/>
<path d="M22.60,152.30 C22.02,150.12 22.98,147.92 23.80,145.50 C24.62,143.08 25.88,140.30 27.50,137.80 C29.12,135.30 30.85,132.95 33.50,130.50 C36.15,128.05 39.57,125.25 43.40,123.10 C47.23,120.95 51.88,118.58 56.50,117.60 C61.12,116.62 66.48,116.55 71.10,117.20 C75.72,117.85 80.07,119.37 84.20,121.50 C88.33,123.63 92.73,126.83 95.90,130.00 C99.07,133.17 101.37,137.02 103.20,140.50 C105.03,143.98 106.45,147.95 106.90,150.90 C107.35,153.85 106.95,156.05 105.90,158.20 C104.85,160.35 102.72,162.45 100.60,163.80 C98.48,165.15 95.77,165.85 93.20,166.30 C90.63,166.75 87.15,166.13 85.20,166.50 C83.25,166.87 82.37,167.33 81.50,168.50 C80.63,169.67 80.83,172.12 80.00,173.50 C79.17,174.88 78.00,176.25 76.50,176.80 C75.00,177.35 72.92,177.20 71.00,176.80 C69.08,176.40 67.33,175.62 65.00,174.40 C62.67,173.18 60.33,171.25 57.00,169.50 C53.67,167.75 48.73,165.28 45.00,163.90 C41.27,162.52 37.55,162.08 34.60,161.20 C31.65,160.32 29.30,160.08 27.30,158.60 C25.30,157.12 23.18,154.48 22.60,152.30 Z" fill="url(#vshade)"/>
<path d="M22.60,152.30 C22.02,150.12 22.98,147.92 23.80,145.50 C24.62,143.08 25.88,140.30 27.50,137.80 C29.12,135.30 30.85,132.95 33.50,130.50 C36.15,128.05 39.57,125.25 43.40,123.10 C47.23,120.95 51.88,118.58 56.50,117.60 C61.12,116.62 66.48,116.55 71.10,117.20 C75.72,117.85 80.07,119.37 84.20,121.50 C88.33,123.63 92.73,126.83 95.90,130.00 C99.07,133.17 101.37,137.02 103.20,140.50 C105.03,143.98 106.45,147.95 106.90,150.90 C107.35,153.85 106.95,156.05 105.90,158.20 C104.85,160.35 102.72,162.45 100.60,163.80 C98.48,165.15 95.77,165.85 93.20,166.30 C90.63,166.75 87.15,166.13 85.20,166.50 C83.25,166.87 82.37,167.33 81.50,168.50 C80.63,169.67 80.83,172.12 80.00,173.50 C79.17,174.88 78.00,176.25 76.50,176.80 C75.00,177.35 72.92,177.20 71.00,176.80 C69.08,176.40 67.33,175.62 65.00,174.40 C62.67,173.18 60.33,171.25 57.00,169.50 C53.67,167.75 48.73,165.28 45.00,163.90 C41.27,162.52 37.55,162.08 34.60,161.20 C31.65,160.32 29.30,160.08 27.30,158.60 C25.30,157.12 23.18,154.48 22.60,152.30 Z" fill="none" stroke="#000" stroke-width="4" opacity="0.140" filter="url(#bl2)"/>
<path d="M52.00,152.50 C52.75,152.17 55.08,154.45 57.00,155.50 C58.92,156.55 61.50,157.92 63.50,158.80 C65.50,159.68 67.33,160.43 69.00,160.80 C70.67,161.17 72.33,161.13 73.50,161.00 C74.67,160.87 75.33,159.67 76.00,160.00 C76.67,160.33 77.50,161.83 77.50,163.00 C77.50,164.17 76.67,165.83 76.00,167.00 C75.33,168.17 74.50,169.47 73.50,170.00 C72.50,170.53 71.42,170.57 70.00,170.20 C68.58,169.83 67.00,169.08 65.00,167.80 C63.00,166.52 60.08,164.22 58.00,162.50 C55.92,160.78 53.50,159.17 52.50,157.50 C51.50,155.83 51.25,152.83 52.00,152.50 Z" fill="url(#hipg)"/>
<path d="M53,155.2 C58,159 64,163.5 70.5,168.2" fill="none" stroke="#4a4a4a" stroke-width="0.8" opacity="0.8"/>
<path d="M55,155 C60,158.3 66,162.3 72,166.2" fill="none" stroke="#6a6a6a" stroke-width="0.6" opacity="0.7"/>
<path d="M53.00,147.00 C53.13,145.78 53.65,144.60 54.60,143.80 C55.55,143.00 56.95,142.60 58.70,142.20 C60.45,141.80 62.97,141.47 65.10,141.40 C67.23,141.33 69.23,141.40 71.50,141.80 C73.77,142.20 76.42,142.78 78.70,143.80 C80.98,144.82 83.45,146.68 85.20,147.90 C86.95,149.12 88.47,150.17 89.20,151.10 C89.93,152.03 89.87,152.83 89.60,153.50 C89.33,154.17 88.73,154.70 87.60,155.10 C86.47,155.50 84.55,155.63 82.80,155.90 C81.05,156.17 78.32,156.17 77.10,156.70 C75.88,157.23 76.17,158.43 75.50,159.10 C74.83,159.77 74.17,160.50 73.10,160.70 C72.03,160.90 70.70,160.70 69.10,160.30 C67.50,159.90 65.52,159.17 63.50,158.30 C61.48,157.43 58.62,156.30 57.00,155.10 C55.38,153.90 54.47,152.45 53.80,151.10 C53.13,149.75 52.87,148.22 53.00,147.00 Z" fill="#ffffff"/>
</g>
<path d="M22.60,152.30 C22.02,150.12 22.98,147.92 23.80,145.50 C24.62,143.08 25.88,140.30 27.50,137.80 C29.12,135.30 30.85,132.95 33.50,130.50 C36.15,128.05 39.57,125.25 43.40,123.10 C47.23,120.95 51.88,118.58 56.50,117.60 C61.12,116.62 66.48,116.55 71.10,117.20 C75.72,117.85 80.07,119.37 84.20,121.50 C88.33,123.63 92.73,126.83 95.90,130.00 C99.07,133.17 101.37,137.02 103.20,140.50 C105.03,143.98 106.45,147.95 106.90,150.90 C107.35,153.85 106.95,156.05 105.90,158.20 C104.85,160.35 102.72,162.45 100.60,163.80 C98.48,165.15 95.77,165.85 93.20,166.30 C90.63,166.75 87.15,166.13 85.20,166.50 C83.25,166.87 82.37,167.33 81.50,168.50 C80.63,169.67 80.83,172.12 80.00,173.50 C79.17,174.88 78.00,176.25 76.50,176.80 C75.00,177.35 72.92,177.20 71.00,176.80 C69.08,176.40 67.33,175.62 65.00,174.40 C62.67,173.18 60.33,171.25 57.00,169.50 C53.67,167.75 48.73,165.28 45.00,163.90 C41.27,162.52 37.55,162.08 34.60,161.20 C31.65,160.32 29.30,160.08 27.30,158.60 C25.30,157.12 23.18,154.48 22.60,152.30 Z" fill="none" stroke="#444" stroke-width="0.8" opacity="0.85"/>
</g>
<g transform="translate(426.20 362.00) scale(-1 1)">
<clipPath id="cp24"><path d="M22.60,152.30 C22.02,150.12 22.98,147.92 23.80,145.50 C24.62,143.08 25.88,140.30 27.50,137.80 C29.12,135.30 30.85,132.95 33.50,130.50 C36.15,128.05 39.57,125.25 43.40,123.10 C47.23,120.95 51.88,118.58 56.50,117.60 C61.12,116.62 66.48,116.55 71.10,117.20 C75.72,117.85 80.07,119.37 84.20,121.50 C88.33,123.63 92.73,126.83 95.90,130.00 C99.07,133.17 101.37,137.02 103.20,140.50 C105.03,143.98 106.45,147.95 106.90,150.90 C107.35,153.85 106.95,156.05 105.90,158.20 C104.85,160.35 102.72,162.45 100.60,163.80 C98.48,165.15 95.77,165.85 93.20,166.30 C90.63,166.75 87.15,166.13 85.20,166.50 C83.25,166.87 82.37,167.33 81.50,168.50 C80.63,169.67 80.83,172.12 80.00,173.50 C79.17,174.88 78.00,176.25 76.50,176.80 C75.00,177.35 72.92,177.20 71.00,176.80 C69.08,176.40 67.33,175.62 65.00,174.40 C62.67,173.18 60.33,171.25 57.00,169.50 C53.67,167.75 48.73,165.28 45.00,163.90 C41.27,162.52 37.55,162.08 34.60,161.20 C31.65,160.32 29.30,160.08 27.30,158.60 C25.30,157.12 23.18,154.48 22.60,152.30 Z"/></clipPath>
<g clip-path="url(#cp24)">
<path d="M22.60,152.30 C22.02,150.12 22.98,147.92 23.80,145.50 C24.62,143.08 25.88,140.30 27.50,137.80 C29.12,135.30 30.85,132.95 33.50,130.50 C36.15,128.05 39.57,125.25 43.40,123.10 C47.23,120.95 51.88,118.58 56.50,117.60 C61.12,116.62 66.48,116.55 71.10,117.20 C75.72,117.85 80.07,119.37 84.20,121.50 C88.33,123.63 92.73,126.83 95.90,130.00 C99.07,133.17 101.37,137.02 103.20,140.50 C105.03,143.98 106.45,147.95 106.90,150.90 C107.35,153.85 106.95,156.05 105.90,158.20 C104.85,160.35 102.72,162.45 100.60,163.80 C98.48,165.15 95.77,165.85 93.20,166.30 C90.63,166.75 87.15,166.13 85.20,166.50 C83.25,166.87 82.37,167.33 81.50,168.50 C80.63,169.67 80.83,172.12 80.00,173.50 C79.17,174.88 78.00,176.25 76.50,176.80 C75.00,177.35 72.92,177.20 71.00,176.80 C69.08,176.40 67.33,175.62 65.00,174.40 C62.67,173.18 60.33,171.25 57.00,169.50 C53.67,167.75 48.73,165.28 45.00,163.90 C41.27,162.52 37.55,162.08 34.60,161.20 C31.65,160.32 29.30,160.08 27.30,158.60 C25.30,157.12 23.18,154.48 22.60,152.30 Z" fill="#efefef"/>
<g filter="url(#bl)">
<g transform="translate(426.20 -362.00) scale(-1 1)">
<polygon points="322,520 320,505 328,492 340,482 356,477 375,477 390,482 400,492 402,505 400,520 392,528 385,524 380,515 360,511 350,518 345,528 335,530 325,527" fill="#c8302a" opacity="1"/>
<ellipse cx="360" cy="500" rx="20" ry="5" fill="#a01018" transform="rotate(0 360 500)" opacity="1"/>
<ellipse cx="345" cy="488" rx="10" ry="5" fill="#e06a50" transform="rotate(0 345 488)" opacity="1"/>
<ellipse cx="398" cy="505" rx="5" ry="8" fill="#e06a50" transform="rotate(0 398 505)" opacity="1"/>
<ellipse cx="329" cy="520" rx="4" ry="5" fill="#f2f2f2" transform="rotate(0 329 520)" opacity="1"/>
<ellipse cx="349" cy="528" rx="3" ry="2.5" fill="#f2f2f2" transform="rotate(0 349 528)" opacity="1"/>
</g>
</g>
<path d="M48.00,137.00 C49.67,136.17 54.33,133.17 58.00,132.00 C61.67,130.83 66.00,130.00 70.00,130.00 C74.00,130.00 78.33,130.67 82.00,132.00 C85.67,133.33 89.17,135.67 92.00,138.00 C94.83,140.33 97.50,143.33 99.00,146.00 C100.50,148.67 100.67,152.67 101.00,154.00 " fill="none" stroke="#8a8a8a" stroke-width="1.5" opacity="0.35" stroke-linecap="round" filter="url(#bl3)"/>
<path d="M26.00,150.00 C27.33,149.33 31.00,146.50 34.00,146.00 C37.00,145.50 41.00,146.50 44.00,147.00 C47.00,147.50 50.67,148.67 52.00,149.00 " fill="none" stroke="#8a8a8a" stroke-width="1.5" opacity="0.35" stroke-linecap="round" filter="url(#bl3)"/>
<path d="M36.00,129.00 C36.67,130.33 38.50,134.33 40.00,137.00 C41.50,139.67 44.17,143.67 45.00,145.00 " fill="none" stroke="#8a8a8a" stroke-width="1.5" opacity="0.35" stroke-linecap="round" filter="url(#bl3)"/>
<path d="M56.00,121.00 C56.67,122.17 59.33,126.83 60.00,128.00 " fill="none" stroke="#8a8a8a" stroke-width="1.5" opacity="0.35" stroke-linecap="round" filter="url(#bl3)"/>
<path d="M30.00,140.00 C31.33,140.17 35.33,140.33 38.00,141.00 C40.67,141.67 44.67,143.50 46.00,144.00 " fill="none" stroke="#8a8a8a" stroke-width="1.5" opacity="0.35" stroke-linecap="round" filter="url(#bl3)"/>
<path d="M93.00,158.00 C93.83,158.67 97.17,161.33 98.00,162.00 " fill="none" stroke="#8a8a8a" stroke-width="1.5" opacity="0.35" stroke-linecap="round" filter="url(#bl3)"/>
<path d="M22.60,152.30 C22.02,150.12 22.98,147.92 23.80,145.50 C24.62,143.08 25.88,140.30 27.50,137.80 C29.12,135.30 30.85,132.95 33.50,130.50 C36.15,128.05 39.57,125.25 43.40,123.10 C47.23,120.95 51.88,118.58 56.50,117.60 C61.12,116.62 66.48,116.55 71.10,117.20 C75.72,117.85 80.07,119.37 84.20,121.50 C88.33,123.63 92.73,126.83 95.90,130.00 C99.07,133.17 101.37,137.02 103.20,140.50 C105.03,143.98 106.45,147.95 106.90,150.90 C107.35,153.85 106.95,156.05 105.90,158.20 C104.85,160.35 102.72,162.45 100.60,163.80 C98.48,165.15 95.77,165.85 93.20,166.30 C90.63,166.75 87.15,166.13 85.20,166.50 C83.25,166.87 82.37,167.33 81.50,168.50 C80.63,169.67 80.83,172.12 80.00,173.50 C79.17,174.88 78.00,176.25 76.50,176.80 C75.00,177.35 72.92,177.20 71.00,176.80 C69.08,176.40 67.33,175.62 65.00,174.40 C62.67,173.18 60.33,171.25 57.00,169.50 C53.67,167.75 48.73,165.28 45.00,163.90 C41.27,162.52 37.55,162.08 34.60,161.20 C31.65,160.32 29.30,160.08 27.30,158.60 C25.30,157.12 23.18,154.48 22.60,152.30 Z" fill="url(#vshade)"/>
<path d="M22.60,152.30 C22.02,150.12 22.98,147.92 23.80,145.50 C24.62,143.08 25.88,140.30 27.50,137.80 C29.12,135.30 30.85,132.95 33.50,130.50 C36.15,128.05 39.57,125.25 43.40,123.10 C47.23,120.95 51.88,118.58 56.50,117.60 C61.12,116.62 66.48,116.55 71.10,117.20 C75.72,117.85 80.07,119.37 84.20,121.50 C88.33,123.63 92.73,126.83 95.90,130.00 C99.07,133.17 101.37,137.02 103.20,140.50 C105.03,143.98 106.45,147.95 106.90,150.90 C107.35,153.85 106.95,156.05 105.90,158.20 C104.85,160.35 102.72,162.45 100.60,163.80 C98.48,165.15 95.77,165.85 93.20,166.30 C90.63,166.75 87.15,166.13 85.20,166.50 C83.25,166.87 82.37,167.33 81.50,168.50 C80.63,169.67 80.83,172.12 80.00,173.50 C79.17,174.88 78.00,176.25 76.50,176.80 C75.00,177.35 72.92,177.20 71.00,176.80 C69.08,176.40 67.33,175.62 65.00,174.40 C62.67,173.18 60.33,171.25 57.00,169.50 C53.67,167.75 48.73,165.28 45.00,163.90 C41.27,162.52 37.55,162.08 34.60,161.20 C31.65,160.32 29.30,160.08 27.30,158.60 C25.30,157.12 23.18,154.48 22.60,152.30 Z" fill="none" stroke="#000" stroke-width="4" opacity="0.140" filter="url(#bl2)"/>
<path d="M52.00,152.50 C52.75,152.17 55.08,154.45 57.00,155.50 C58.92,156.55 61.50,157.92 63.50,158.80 C65.50,159.68 67.33,160.43 69.00,160.80 C70.67,161.17 72.33,161.13 73.50,161.00 C74.67,160.87 75.33,159.67 76.00,160.00 C76.67,160.33 77.50,161.83 77.50,163.00 C77.50,164.17 76.67,165.83 76.00,167.00 C75.33,168.17 74.50,169.47 73.50,170.00 C72.50,170.53 71.42,170.57 70.00,170.20 C68.58,169.83 67.00,169.08 65.00,167.80 C63.00,166.52 60.08,164.22 58.00,162.50 C55.92,160.78 53.50,159.17 52.50,157.50 C51.50,155.83 51.25,152.83 52.00,152.50 Z" fill="url(#hipg)"/>
<path d="M53,155.2 C58,159 64,163.5 70.5,168.2" fill="none" stroke="#4a4a4a" stroke-width="0.8" opacity="0.8"/>
<path d="M55,155 C60,158.3 66,162.3 72,166.2" fill="none" stroke="#6a6a6a" stroke-width="0.6" opacity="0.7"/>
<path d="M53.00,147.00 C53.13,145.78 53.65,144.60 54.60,143.80 C55.55,143.00 56.95,142.60 58.70,142.20 C60.45,141.80 62.97,141.47 65.10,141.40 C67.23,141.33 69.23,141.40 71.50,141.80 C73.77,142.20 76.42,142.78 78.70,143.80 C80.98,144.82 83.45,146.68 85.20,147.90 C86.95,149.12 88.47,150.17 89.20,151.10 C89.93,152.03 89.87,152.83 89.60,153.50 C89.33,154.17 88.73,154.70 87.60,155.10 C86.47,155.50 84.55,155.63 82.80,155.90 C81.05,156.17 78.32,156.17 77.10,156.70 C75.88,157.23 76.17,158.43 75.50,159.10 C74.83,159.77 74.17,160.50 73.10,160.70 C72.03,160.90 70.70,160.70 69.10,160.30 C67.50,159.90 65.52,159.17 63.50,158.30 C61.48,157.43 58.62,156.30 57.00,155.10 C55.38,153.90 54.47,152.45 53.80,151.10 C53.13,149.75 52.87,148.22 53.00,147.00 Z" fill="#ffffff"/>
</g>
<path d="M22.60,152.30 C22.02,150.12 22.98,147.92 23.80,145.50 C24.62,143.08 25.88,140.30 27.50,137.80 C29.12,135.30 30.85,132.95 33.50,130.50 C36.15,128.05 39.57,125.25 43.40,123.10 C47.23,120.95 51.88,118.58 56.50,117.60 C61.12,116.62 66.48,116.55 71.10,117.20 C75.72,117.85 80.07,119.37 84.20,121.50 C88.33,123.63 92.73,126.83 95.90,130.00 C99.07,133.17 101.37,137.02 103.20,140.50 C105.03,143.98 106.45,147.95 106.90,150.90 C107.35,153.85 106.95,156.05 105.90,158.20 C104.85,160.35 102.72,162.45 100.60,163.80 C98.48,165.15 95.77,165.85 93.20,166.30 C90.63,166.75 87.15,166.13 85.20,166.50 C83.25,166.87 82.37,167.33 81.50,168.50 C80.63,169.67 80.83,172.12 80.00,173.50 C79.17,174.88 78.00,176.25 76.50,176.80 C75.00,177.35 72.92,177.20 71.00,176.80 C69.08,176.40 67.33,175.62 65.00,174.40 C62.67,173.18 60.33,171.25 57.00,169.50 C53.67,167.75 48.73,165.28 45.00,163.90 C41.27,162.52 37.55,162.08 34.60,161.20 C31.65,160.32 29.30,160.08 27.30,158.60 C25.30,157.12 23.18,154.48 22.60,152.30 Z" fill="none" stroke="#444" stroke-width="0.8" opacity="0.85"/>
</g>
<defs>
<linearGradient id="cbA" x1="0" x2="1"><stop offset="0" stop-color="#17105a"/><stop offset="0.25" stop-color="#243f7e"/><stop offset="0.5" stop-color="#2f8884"/><stop offset="0.75" stop-color="#5bbd74"/><stop offset="1" stop-color="#d3ea4a"/></linearGradient>
<linearGradient id="cbB" x1="0" x2="1"><stop offset="0" stop-color="#78c07a"/><stop offset="0.25" stop-color="#9aa0c8"/><stop offset="0.45" stop-color="#b79ccc"/><stop offset="0.65" stop-color="#e8a08a"/><stop offset="0.8" stop-color="#eeaa72"/><stop offset="1" stop-color="#f3f27a"/></linearGradient>
<linearGradient id="cbR" x1="0" x2="1"><stop offset="0" stop-color="#1d3f8e"/><stop offset="0.2" stop-color="#4a86bd"/><stop offset="0.38" stop-color="#a8d0e4"/><stop offset="0.5" stop-color="#f6f4f2"/><stop offset="0.62" stop-color="#f3b39a"/><stop offset="0.8" stop-color="#d2473d"/><stop offset="1" stop-color="#7a0b20"/></linearGradient>
</defs>
<rect x="93.00" y="194.30" width="44.20" height="8.70" fill="url(#cbA)" />
<rect x="297.90" y="194.00" width="44.20" height="8.80" fill="url(#cbB)" />
<rect x="90.50" y="542.80" width="44.20" height="9.10" fill="url(#cbR)" />
<rect x="294.90" y="542.80" width="44.20" height="9.10" fill="url(#cbR)" />
<text x="102.50" y="189.60" font-size="13.8" font-style="italic" textLength="22.20" lengthAdjust="spacingAndGlyphs" fill="#1e1e1e" >arb.</text>
<text x="308.80" y="189.60" font-size="13.8" font-style="italic" textLength="22.10" lengthAdjust="spacingAndGlyphs" fill="#1e1e1e" >arb.</text>
<text x="83.80" y="212.60" font-size="13.3" textLength="21.60" lengthAdjust="spacingAndGlyphs" fill="#1e1e1e" >-3.0</text>
<text x="120.60" y="214.00" font-size="13.3" textLength="21.00" lengthAdjust="spacingAndGlyphs" fill="#1e1e1e" >-1.5</text>
<text x="290.30" y="212.60" font-size="13.3" textLength="17.20" lengthAdjust="spacingAndGlyphs" fill="#1e1e1e" >0.4</text>
<text x="326.30" y="212.60" font-size="13.3" textLength="17.70" lengthAdjust="spacingAndGlyphs" fill="#1e1e1e" >0.9</text>
<text x="109.40" y="538.40" font-size="13.8" font-style="italic" textLength="4.30" lengthAdjust="spacingAndGlyphs" fill="#1e1e1e" >t</text>
<text x="315.90" y="538.40" font-size="13.8" font-style="italic" textLength="4.30" lengthAdjust="spacingAndGlyphs" fill="#1e1e1e" >t</text>
<text x="88.40" y="563.50" font-size="13.3" textLength="10.70" lengthAdjust="spacingAndGlyphs" fill="#1e1e1e" >-5</text>
<text x="124.60" y="563.50" font-size="13.3" textLength="7.20" lengthAdjust="spacingAndGlyphs" fill="#1e1e1e" >5</text>
<text x="292.50" y="563.50" font-size="13.3" textLength="11.00" lengthAdjust="spacingAndGlyphs" fill="#1e1e1e" >-6</text>
<text x="328.70" y="563.50" font-size="13.3" textLength="7.20" lengthAdjust="spacingAndGlyphs" fill="#1e1e1e" >6</text>
<text x="52.40" y="11.00" font-size="13.3" font-weight="bold" textLength="115.40" lengthAdjust="spacingAndGlyphs" fill="#1e1e1e" >Neural excitability</text>
<text x="35.10" y="27.70" font-size="13.3" textLength="150.00" lengthAdjust="spacingAndGlyphs" fill="#1e1e1e" >(aperiodic spectral slope)</text>
<text x="273.80" y="11.00" font-size="13.3" font-weight="bold" textLength="93.20" lengthAdjust="spacingAndGlyphs" fill="#1e1e1e" >Neural fragility</text>
<text x="245.70" y="27.70" font-size="13.3" textLength="152.30" lengthAdjust="spacingAndGlyphs" fill="#1e1e1e" >(linear dynamic instability)</text>
<text x="7.20" y="36.50" font-size="18.3" font-weight="bold" textLength="13.20" lengthAdjust="spacingAndGlyphs" fill="#000" >A</text>
<text x="214.70" y="36.50" font-size="18.3" font-weight="bold" textLength="11.70" lengthAdjust="spacingAndGlyphs" fill="#000" >B</text>
<text x="411.80" y="36.40" font-size="18.3" font-weight="bold" textLength="14.00" lengthAdjust="spacingAndGlyphs" fill="#000" >C</text>
<text x="8.40" y="227.80" font-size="18.3" font-weight="bold" textLength="13.00" lengthAdjust="spacingAndGlyphs" fill="#000" >D</text>
<text x="214.80" y="227.90" font-size="18.3" font-weight="bold" textLength="10.70" lengthAdjust="spacingAndGlyphs" fill="#000" >E</text>
<text x="412.80" y="228.00" font-size="18.3" font-weight="bold" textLength="11.60" lengthAdjust="spacingAndGlyphs" fill="#000" >F</text>
<text x="6.60" y="406.30" font-size="18.3" font-weight="bold" textLength="15.60" lengthAdjust="spacingAndGlyphs" fill="#000" >G</text>
<text x="214.10" y="406.00" font-size="18.3" font-weight="bold" textLength="13.60" lengthAdjust="spacingAndGlyphs" fill="#000" >H</text>
<text x="416.40" y="406.30" font-size="18.3" font-weight="bold" textLength="4.20" lengthAdjust="spacingAndGlyphs" fill="#000" >I</text>
<text x="2.70" y="585.30" font-size="18.3" font-weight="bold" textLength="10.40" lengthAdjust="spacingAndGlyphs" fill="#000" >J</text>
<text x="360.80" y="585.10" font-size="18.3" font-weight="bold" textLength="14.90" lengthAdjust="spacingAndGlyphs" fill="#000" >K</text>
<text x="0" y="0" font-size="13.9" font-weight="normal" fill="#000" textLength="57.10" lengthAdjust="spacingAndGlyphs" transform="translate(12.20 141.90) rotate(-90)" stroke="#000" stroke-width="0.55">Controls</text>
<text x="0" y="0" font-size="13.9" font-weight="normal" fill="#000" textLength="20.30" lengthAdjust="spacingAndGlyphs" transform="translate(12.00 314.80) rotate(-90)" stroke="#000" stroke-width="0.55">AD</text>
<text x="0" y="0" font-size="13.9" font-weight="normal" fill="#000" textLength="107.60" lengthAdjust="spacingAndGlyphs" transform="translate(12.40 532.30) rotate(-90)" stroke="#000" stroke-width="0.55">AD vs. Controls</text>
<line x1="483.50" y1="41.30" x2="674.50" y2="41.30" stroke="#e6e6e6" stroke-width="0.8" />
<line x1="483.50" y1="68.60" x2="674.50" y2="68.60" stroke="#e6e6e6" stroke-width="0.8" />
<line x1="483.50" y1="95.90" x2="674.50" y2="95.90" stroke="#e6e6e6" stroke-width="0.8" />
<line x1="483.50" y1="123.20" x2="674.50" y2="123.20" stroke="#e6e6e6" stroke-width="0.8" />
<line x1="515.35" y1="41.30" x2="515.35" y2="150.10" stroke="#e6e6e6" stroke-width="0.8" />
<line x1="547.20" y1="41.30" x2="547.20" y2="150.10" stroke="#e6e6e6" stroke-width="0.8" />
<line x1="579.05" y1="41.30" x2="579.05" y2="150.10" stroke="#e6e6e6" stroke-width="0.8" />
<line x1="610.90" y1="41.30" x2="610.90" y2="150.10" stroke="#e6e6e6" stroke-width="0.8" />
<line x1="642.75" y1="41.30" x2="642.75" y2="150.10" stroke="#e6e6e6" stroke-width="0.8" />
<line x1="674.60" y1="41.30" x2="674.60" y2="150.10" stroke="#e6e6e6" stroke-width="0.8" />
<line x1="483.50" y1="41.30" x2="483.50" y2="150.60" stroke="#a8a8a8" stroke-width="1" />
<line x1="483.50" y1="150.10" x2="674.50" y2="150.10" stroke="#a8a8a8" stroke-width="1" />
<line x1="515.35" y1="150.10" x2="515.35" y2="148.10" stroke="#a8a8a8" stroke-width="0.8" />
<line x1="547.20" y1="150.10" x2="547.20" y2="148.10" stroke="#a8a8a8" stroke-width="0.8" />
<line x1="579.05" y1="150.10" x2="579.05" y2="148.10" stroke="#a8a8a8" stroke-width="0.8" />
<line x1="610.90" y1="150.10" x2="610.90" y2="148.10" stroke="#a8a8a8" stroke-width="0.8" />
<line x1="642.75" y1="150.10" x2="642.75" y2="148.10" stroke="#a8a8a8" stroke-width="0.8" />
<line x1="674.60" y1="150.10" x2="674.60" y2="148.10" stroke="#a8a8a8" stroke-width="0.8" />
<line x1="483.50" y1="41.30" x2="485.50" y2="41.30" stroke="#a8a8a8" stroke-width="0.8" />
<line x1="483.50" y1="68.60" x2="485.50" y2="68.60" stroke="#a8a8a8" stroke-width="0.8" />
<line x1="483.50" y1="95.90" x2="485.50" y2="95.90" stroke="#a8a8a8" stroke-width="0.8" />
<line x1="483.50" y1="123.20" x2="485.50" y2="123.20" stroke="#a8a8a8" stroke-width="0.8" />
<text x="481.20" y="46.94" font-size="13.8" text-anchor="end" fill="#1e1e1e" >-1.5</text>
<text x="481.20" y="73.24" font-size="13.8" text-anchor="end" fill="#1e1e1e" >-2.0</text>
<text x="481.20" y="100.54" font-size="13.8" text-anchor="end" fill="#1e1e1e" >-2.5</text>
<text x="481.20" y="128.24" font-size="13.8" text-anchor="end" fill="#1e1e1e" >-3.0</text>
<text x="483.70" y="163.90" font-size="13.8" text-anchor="middle" fill="#1e1e1e" >0.3</text>
<text x="547.40" y="163.90" font-size="13.8" text-anchor="middle" fill="#1e1e1e" >0.5</text>
<text x="611.10" y="163.90" font-size="13.8" text-anchor="middle" fill="#1e1e1e" >0.7</text>
<text x="674.80" y="163.90" font-size="13.8" text-anchor="middle" fill="#1e1e1e" >0.9</text>
<text x="527.40" y="183.20" font-size="13.8" textLength="121.30" lengthAdjust="spacingAndGlyphs" fill="#1e1e1e" >Neural fragility (arb)</text>
<text x="518.10" y="28.00" font-size="13.8" textLength="119.10" lengthAdjust="spacingAndGlyphs" fill="#1e1e1e" >F = 1.81, P = 0.186</text>
<polygon points="501.2,78.7 649,73.2 649,103.6 501.2,105.4" fill="#d3dae3"/>
<line x1="536.8" y1="70.31" x2="611.0" y2="70.31" stroke="#45587a" stroke-width="0.87" opacity="0.97"/>
<line x1="516.2" y1="70.31" x2="536.8" y2="70.31" stroke="#45587a" stroke-width="0.82" stroke-dasharray="1.2 1.8" opacity="0.75"/>
<line x1="544.5" y1="71.14" x2="605.7" y2="71.14" stroke="#45587a" stroke-width="0.87" opacity="0.97"/>
<line x1="529.3" y1="71.14" x2="544.5" y2="71.14" stroke="#45587a" stroke-width="0.82" stroke-dasharray="1.2 2.2" opacity="0.75"/>
<line x1="537.2" y1="71.96" x2="607.6" y2="71.96" stroke="#45587a" stroke-width="0.87" opacity="0.97"/>
<line x1="507.3" y1="71.96" x2="537.2" y2="71.96" stroke="#45587a" stroke-width="0.82" stroke-dasharray="1.2 1.6" opacity="0.75"/>
<line x1="548.7" y1="72.79" x2="610.2" y2="72.79" stroke="#45587a" stroke-width="0.87" opacity="0.97"/>
<line x1="524.1" y1="72.79" x2="548.7" y2="72.79" stroke="#45587a" stroke-width="0.82" stroke-dasharray="1.2 1.1" opacity="0.75"/>
<rect x="520.44" y="71.40" width="1.51" height="1.00" fill="#45587a" opacity="0.7"/>
<rect x="511.93" y="71.61" width="1.37" height="1.00" fill="#45587a" opacity="0.7"/>
<rect x="616.95" y="71.49" width="1.16" height="1.00" fill="#45587a" opacity="0.7"/>
<rect x="622.36" y="71.64" width="0.88" height="1.00" fill="#45587a" opacity="0.7"/>
<rect x="614.36" y="70.33" width="1.57" height="1.00" fill="#45587a" opacity="0.7"/>
<line x1="526.7" y1="75.60" x2="623.9" y2="75.60" stroke="#45587a" stroke-width="1.05" opacity="0.97"/>
<line x1="507.2" y1="75.60" x2="526.7" y2="75.60" stroke="#45587a" stroke-width="1.00" stroke-dasharray="1.2 1.7" opacity="0.75"/>
<line x1="525.7" y1="76.60" x2="620.9" y2="76.60" stroke="#45587a" stroke-width="1.05" opacity="0.97"/>
<line x1="501.9" y1="76.60" x2="525.7" y2="76.60" stroke="#45587a" stroke-width="1.00" stroke-dasharray="1.2 1.8" opacity="0.75"/>
<rect x="626.63" y="76.13" width="1.57" height="1.00" fill="#45587a" opacity="0.7"/>
<rect x="634.05" y="75.78" width="1.37" height="1.00" fill="#45587a" opacity="0.7"/>
<rect x="627.11" y="76.10" width="1.26" height="1.00" fill="#45587a" opacity="0.7"/>
<line x1="529.7" y1="78.90" x2="612.7" y2="78.90" stroke="#45587a" stroke-width="1.05" opacity="0.87"/>
<line x1="501.9" y1="78.90" x2="529.7" y2="78.90" stroke="#45587a" stroke-width="1.00" stroke-dasharray="1.2 2.5" opacity="0.75"/>
<line x1="525.8" y1="79.90" x2="620.8" y2="79.90" stroke="#45587a" stroke-width="1.05" opacity="0.87"/>
<line x1="504.6" y1="79.90" x2="525.8" y2="79.90" stroke="#45587a" stroke-width="1.00" stroke-dasharray="1.2 1.1" opacity="0.75"/>
<rect x="518.09" y="79.14" width="0.85" height="1.00" fill="#45587a" opacity="0.7"/>
<rect x="515.78" y="79.46" width="1.98" height="1.00" fill="#45587a" opacity="0.7"/>
<rect x="509.65" y="79.12" width="0.84" height="1.00" fill="#45587a" opacity="0.7"/>
<rect x="621.97" y="78.89" width="1.29" height="1.00" fill="#45587a" opacity="0.7"/>
<rect x="621.56" y="78.45" width="1.49" height="1.00" fill="#45587a" opacity="0.7"/>
<rect x="623.14" y="79.55" width="1.52" height="1.00" fill="#45587a" opacity="0.7"/>
<line x1="548.6" y1="82.10" x2="607.1" y2="82.10" stroke="#45587a" stroke-width="0.84" opacity="0.71"/>
<line x1="525.8" y1="82.10" x2="548.6" y2="82.10" stroke="#45587a" stroke-width="0.80" stroke-dasharray="1.2 1.9" opacity="0.75"/>
<line x1="552.9" y1="82.90" x2="608.2" y2="82.90" stroke="#45587a" stroke-width="0.84" opacity="0.71"/>
<line x1="528.6" y1="82.90" x2="552.9" y2="82.90" stroke="#45587a" stroke-width="0.80" stroke-dasharray="1.2 2.4" opacity="0.75"/>
<rect x="521.22" y="82.39" width="1.09" height="1.00" fill="#45587a" opacity="0.7"/>
<rect x="505.37" y="82.26" width="0.82" height="1.00" fill="#45587a" opacity="0.7"/>
<rect x="617.38" y="81.72" width="0.85" height="1.00" fill="#45587a" opacity="0.7"/>
<rect x="616.76" y="82.62" width="1.00" height="1.00" fill="#45587a" opacity="0.7"/>
<rect x="614.56" y="82.27" width="1.06" height="1.00" fill="#45587a" opacity="0.7"/>
<line x1="601.3" y1="83.25" x2="644.4" y2="83.25" stroke="#45587a" stroke-width="0.53" opacity="0.51"/>
<line x1="580.7" y1="83.25" x2="601.3" y2="83.25" stroke="#45587a" stroke-width="0.50" stroke-dasharray="1.2 1.8" opacity="0.75"/>
<line x1="600.0" y1="83.75" x2="645.1" y2="83.75" stroke="#45587a" stroke-width="0.53" opacity="0.51"/>
<line x1="573.4" y1="83.75" x2="600.0" y2="83.75" stroke="#45587a" stroke-width="0.50" stroke-dasharray="1.2 0.8" opacity="0.75"/>
<rect x="531.35" y="83.48" width="1.09" height="1.00" fill="#45587a" opacity="0.7"/>
<rect x="520.93" y="83.42" width="0.92" height="1.00" fill="#45587a" opacity="0.7"/>
<rect x="532.37" y="83.50" width="1.33" height="1.00" fill="#45587a" opacity="0.7"/>
<rect x="577.72" y="83.20" width="1.58" height="1.00" fill="#45587a" opacity="0.7"/>
<rect x="580.22" y="83.14" width="0.95" height="1.00" fill="#45587a" opacity="0.7"/>
<rect x="550.02" y="83.48" width="1.81" height="1.00" fill="#45587a" opacity="0.7"/>
<rect x="520.60" y="83.48" width="1.57" height="1.00" fill="#45587a" opacity="0.7"/>
<rect x="573.53" y="83.08" width="1.15" height="1.00" fill="#45587a" opacity="0.7"/>
<rect x="572.48" y="83.21" width="1.30" height="1.00" fill="#45587a" opacity="0.7"/>
<rect x="540.68" y="83.55" width="0.99" height="1.00" fill="#45587a" opacity="0.7"/>
<rect x="583.83" y="83.45" width="1.80" height="1.00" fill="#45587a" opacity="0.7"/>
<rect x="529.57" y="83.14" width="0.88" height="1.00" fill="#45587a" opacity="0.7"/>
<rect x="555.04" y="83.49" width="0.85" height="1.00" fill="#45587a" opacity="0.7"/>
<rect x="658.24" y="83.54" width="1.52" height="1.00" fill="#45587a" opacity="0.7"/>
<rect x="654.77" y="83.01" width="1.40" height="1.00" fill="#45587a" opacity="0.7"/>
<rect x="650.72" y="83.18" width="1.33" height="1.00" fill="#45587a" opacity="0.7"/>
<line x1="542.5" y1="85.40" x2="628.6" y2="85.40" stroke="#45587a" stroke-width="0.84" opacity="0.97"/>
<line x1="513.4" y1="85.40" x2="542.5" y2="85.40" stroke="#45587a" stroke-width="0.80" stroke-dasharray="1.2 1.8" opacity="0.75"/>
<line x1="538.8" y1="86.20" x2="626.8" y2="86.20" stroke="#45587a" stroke-width="0.84" opacity="0.97"/>
<line x1="510.9" y1="86.20" x2="538.8" y2="86.20" stroke="#45587a" stroke-width="0.80" stroke-dasharray="1.2 1.6" opacity="0.75"/>
<rect x="522.99" y="85.19" width="1.44" height="1.00" fill="#45587a" opacity="0.7"/>
<rect x="523.79" y="85.76" width="1.91" height="1.00" fill="#45587a" opacity="0.7"/>
<rect x="524.84" y="85.26" width="1.12" height="1.00" fill="#45587a" opacity="0.7"/>
<rect x="517.13" y="85.45" width="1.73" height="1.00" fill="#45587a" opacity="0.7"/>
<rect x="632.02" y="85.05" width="0.90" height="1.00" fill="#45587a" opacity="0.7"/>
<rect x="633.25" y="85.07" width="1.58" height="1.00" fill="#45587a" opacity="0.7"/>
<rect x="640.54" y="85.08" width="1.20" height="1.00" fill="#45587a" opacity="0.7"/>
<line x1="560.3" y1="88.01" x2="635.5" y2="88.01" stroke="#45587a" stroke-width="0.87" opacity="0.87"/>
<line x1="540.0" y1="88.01" x2="560.3" y2="88.01" stroke="#45587a" stroke-width="0.83" stroke-dasharray="1.2 1.9" opacity="0.75"/>
<line x1="565.7" y1="88.84" x2="636.0" y2="88.84" stroke="#45587a" stroke-width="0.87" opacity="0.87"/>
<line x1="547.9" y1="88.84" x2="565.7" y2="88.84" stroke="#45587a" stroke-width="0.83" stroke-dasharray="1.2 1.4" opacity="0.75"/>
<line x1="556.5" y1="89.66" x2="638.1" y2="89.66" stroke="#45587a" stroke-width="0.87" opacity="0.87"/>
<line x1="530.7" y1="89.66" x2="556.5" y2="89.66" stroke="#45587a" stroke-width="0.83" stroke-dasharray="1.2 1.4" opacity="0.75"/>
<line x1="555.6" y1="90.49" x2="634.0" y2="90.49" stroke="#45587a" stroke-width="0.87" opacity="0.87"/>
<line x1="535.0" y1="90.49" x2="555.6" y2="90.49" stroke="#45587a" stroke-width="0.83" stroke-dasharray="1.2 1.8" opacity="0.75"/>
<rect x="540.22" y="89.19" width="1.55" height="1.00" fill="#45587a" opacity="0.7"/>
<rect x="524.42" y="88.58" width="1.64" height="1.00" fill="#45587a" opacity="0.7"/>
<rect x="525.74" y="88.66" width="1.63" height="1.00" fill="#45587a" opacity="0.7"/>
<rect x="508.22" y="88.44" width="1.86" height="1.00" fill="#45587a" opacity="0.7"/>
<rect x="547.14" y="89.38" width="1.75" height="1.00" fill="#45587a" opacity="0.7"/>
<rect x="516.80" y="87.84" width="1.78" height="1.00" fill="#45587a" opacity="0.7"/>
<rect x="640.05" y="87.88" width="1.42" height="1.00" fill="#45587a" opacity="0.7"/>
<rect x="640.44" y="87.78" width="0.88" height="1.00" fill="#45587a" opacity="0.7"/>
<rect x="648.80" y="87.95" width="0.82" height="1.00" fill="#45587a" opacity="0.7"/>
<line x1="553.8" y1="93.80" x2="615.3" y2="93.80" stroke="#45587a" stroke-width="1.05" opacity="0.61"/>
<line x1="526.2" y1="93.80" x2="553.8" y2="93.80" stroke="#45587a" stroke-width="1.00" stroke-dasharray="1.2 1.9" opacity="0.75"/>
<line x1="553.7" y1="94.80" x2="624.5" y2="94.80" stroke="#45587a" stroke-width="1.05" opacity="0.61"/>
<line x1="530.0" y1="94.80" x2="553.7" y2="94.80" stroke="#45587a" stroke-width="1.00" stroke-dasharray="1.2 2.2" opacity="0.75"/>
<rect x="531.17" y="93.69" width="1.48" height="1.00" fill="#45587a" opacity="0.7"/>
<rect x="528.19" y="93.52" width="1.10" height="1.00" fill="#45587a" opacity="0.7"/>
<rect x="516.02" y="93.78" width="1.22" height="1.00" fill="#45587a" opacity="0.7"/>
<rect x="626.18" y="93.40" width="1.20" height="1.00" fill="#45587a" opacity="0.7"/>
<rect x="631.73" y="93.80" width="1.40" height="1.00" fill="#45587a" opacity="0.7"/>
<rect x="623.61" y="94.13" width="1.40" height="1.00" fill="#45587a" opacity="0.7"/>
<line x1="551.5" y1="97.71" x2="635.7" y2="97.71" stroke="#45587a" stroke-width="0.86" opacity="0.97"/>
<line x1="529.2" y1="97.71" x2="551.5" y2="97.71" stroke="#45587a" stroke-width="0.82" stroke-dasharray="1.2 1.9" opacity="0.75"/>
<line x1="555.9" y1="98.53" x2="631.6" y2="98.53" stroke="#45587a" stroke-width="0.86" opacity="0.97"/>
<line x1="539.5" y1="98.53" x2="555.9" y2="98.53" stroke="#45587a" stroke-width="0.82" stroke-dasharray="1.2 2.1" opacity="0.75"/>
<line x1="556.3" y1="99.35" x2="635.7" y2="99.35" stroke="#45587a" stroke-width="0.86" opacity="0.97"/>
<line x1="534.7" y1="99.35" x2="556.3" y2="99.35" stroke="#45587a" stroke-width="0.82" stroke-dasharray="1.2 2.0" opacity="0.75"/>
<line x1="541.7" y1="100.17" x2="632.9" y2="100.17" stroke="#45587a" stroke-width="0.86" opacity="0.97"/>
<line x1="523.7" y1="100.17" x2="541.7" y2="100.17" stroke="#45587a" stroke-width="0.82" stroke-dasharray="1.2 1.8" opacity="0.75"/>
<line x1="544.3" y1="100.99" x2="632.6" y2="100.99" stroke="#45587a" stroke-width="0.86" opacity="0.97"/>
<line x1="518.9" y1="100.99" x2="544.3" y2="100.99" stroke="#45587a" stroke-width="0.82" stroke-dasharray="1.2 2.4" opacity="0.75"/>
<rect x="521.95" y="97.84" width="0.83" height="1.00" fill="#45587a" opacity="0.7"/>
<rect x="518.91" y="97.72" width="1.23" height="1.00" fill="#45587a" opacity="0.7"/>
<rect x="642.68" y="99.35" width="1.46" height="1.00" fill="#45587a" opacity="0.7"/>
<rect x="643.57" y="98.48" width="1.38" height="1.00" fill="#45587a" opacity="0.7"/>
<rect x="646.57" y="98.28" width="1.39" height="1.00" fill="#45587a" opacity="0.7"/>
<line x1="542.2" y1="100.50" x2="617.1" y2="100.50" stroke="#45587a" stroke-width="1.05" opacity="0.92"/>
<line x1="523.8" y1="100.50" x2="542.2" y2="100.50" stroke="#45587a" stroke-width="1.00" stroke-dasharray="1.2 1.2" opacity="0.75"/>
<line x1="537.4" y1="101.50" x2="619.4" y2="101.50" stroke="#45587a" stroke-width="1.05" opacity="0.92"/>
<line x1="508.0" y1="101.50" x2="537.4" y2="101.50" stroke="#45587a" stroke-width="1.00" stroke-dasharray="1.2 2.3" opacity="0.75"/>
<line x1="527.8" y1="102.50" x2="614.1" y2="102.50" stroke="#45587a" stroke-width="1.05" opacity="0.92"/>
<line x1="509.0" y1="102.50" x2="527.8" y2="102.50" stroke="#45587a" stroke-width="1.00" stroke-dasharray="1.2 1.1" opacity="0.75"/>
<rect x="517.60" y="101.56" width="1.18" height="1.00" fill="#45587a" opacity="0.7"/>
<rect x="506.20" y="101.50" width="1.15" height="1.00" fill="#45587a" opacity="0.7"/>
<rect x="623.57" y="101.04" width="1.34" height="1.00" fill="#45587a" opacity="0.7"/>
<rect x="620.07" y="100.60" width="1.15" height="1.00" fill="#45587a" opacity="0.7"/>
<rect x="624.86" y="100.38" width="1.27" height="1.00" fill="#45587a" opacity="0.7"/>
<line x1="573.1" y1="103.75" x2="614.3" y2="103.75" stroke="#45587a" stroke-width="0.73" opacity="0.61"/>
<line x1="549.9" y1="103.75" x2="573.1" y2="103.75" stroke="#45587a" stroke-width="0.70" stroke-dasharray="1.2 1.0" opacity="0.75"/>
<line x1="559.5" y1="104.45" x2="617.3" y2="104.45" stroke="#45587a" stroke-width="0.73" opacity="0.61"/>
<line x1="542.8" y1="104.45" x2="559.5" y2="104.45" stroke="#45587a" stroke-width="0.70" stroke-dasharray="1.2 2.3" opacity="0.75"/>
<rect x="545.89" y="104.19" width="1.25" height="1.00" fill="#45587a" opacity="0.7"/>
<rect x="529.13" y="103.81" width="1.22" height="1.00" fill="#45587a" opacity="0.7"/>
<rect x="530.49" y="103.94" width="1.56" height="1.00" fill="#45587a" opacity="0.7"/>
<rect x="534.49" y="104.18" width="0.97" height="1.00" fill="#45587a" opacity="0.7"/>
<rect x="621.32" y="104.01" width="1.28" height="1.00" fill="#45587a" opacity="0.7"/>
<rect x="623.55" y="103.94" width="1.17" height="1.00" fill="#45587a" opacity="0.7"/>
<rect x="621.12" y="103.55" width="0.85" height="1.00" fill="#45587a" opacity="0.7"/>
<line x1="570.3" y1="109.25" x2="640.3" y2="109.25" stroke="#45587a" stroke-width="0.94" opacity="0.82"/>
<line x1="547.2" y1="109.25" x2="570.3" y2="109.25" stroke="#45587a" stroke-width="0.90" stroke-dasharray="1.2 2.1" opacity="0.75"/>
<line x1="563.2" y1="110.15" x2="634.9" y2="110.15" stroke="#45587a" stroke-width="0.94" opacity="0.82"/>
<line x1="542.4" y1="110.15" x2="563.2" y2="110.15" stroke="#45587a" stroke-width="0.90" stroke-dasharray="1.2 2.3" opacity="0.75"/>
<rect x="521.64" y="109.24" width="1.45" height="1.00" fill="#45587a" opacity="0.7"/>
<rect x="541.27" y="109.71" width="0.93" height="1.00" fill="#45587a" opacity="0.7"/>
<rect x="517.71" y="108.92" width="1.73" height="1.00" fill="#45587a" opacity="0.7"/>
<rect x="539.18" y="109.00" width="1.30" height="1.00" fill="#45587a" opacity="0.7"/>
<rect x="511.88" y="109.01" width="1.43" height="1.00" fill="#45587a" opacity="0.7"/>
<rect x="531.71" y="109.07" width="1.74" height="1.00" fill="#45587a" opacity="0.7"/>
<rect x="648.91" y="109.83" width="1.11" height="1.00" fill="#45587a" opacity="0.7"/>
<rect x="645.53" y="109.43" width="1.31" height="1.00" fill="#45587a" opacity="0.7"/>
<rect x="649.77" y="109.54" width="1.04" height="1.00" fill="#45587a" opacity="0.7"/>
<line x1="549.2" y1="115.07" x2="622.3" y2="115.07" stroke="#45587a" stroke-width="0.98" opacity="0.97"/>
<line x1="525.2" y1="115.07" x2="549.2" y2="115.07" stroke="#45587a" stroke-width="0.93" stroke-dasharray="1.2 2.0" opacity="0.75"/>
<line x1="532.0" y1="116.00" x2="625.5" y2="116.00" stroke="#45587a" stroke-width="0.98" opacity="0.97"/>
<line x1="507.1" y1="116.00" x2="532.0" y2="116.00" stroke="#45587a" stroke-width="0.93" stroke-dasharray="1.2 1.6" opacity="0.75"/>
<line x1="542.5" y1="116.93" x2="622.1" y2="116.93" stroke="#45587a" stroke-width="0.98" opacity="0.97"/>
<line x1="524.6" y1="116.93" x2="542.5" y2="116.93" stroke="#45587a" stroke-width="0.93" stroke-dasharray="1.2 1.7" opacity="0.75"/>
<rect x="519.86" y="115.55" width="1.95" height="1.00" fill="#45587a" opacity="0.7"/>
<rect x="525.52" y="115.93" width="1.55" height="1.00" fill="#45587a" opacity="0.7"/>
<rect x="506.16" y="114.99" width="0.89" height="1.00" fill="#45587a" opacity="0.7"/>
<rect x="631.95" y="114.83" width="1.49" height="1.00" fill="#45587a" opacity="0.7"/>
<rect x="631.01" y="116.16" width="1.37" height="1.00" fill="#45587a" opacity="0.7"/>
<rect x="632.40" y="115.18" width="1.45" height="1.00" fill="#45587a" opacity="0.7"/>
<line x1="572.6" y1="118.30" x2="614.5" y2="118.30" stroke="#45587a" stroke-width="1.05" opacity="0.61"/>
<line x1="551.1" y1="118.30" x2="572.6" y2="118.30" stroke="#45587a" stroke-width="1.00" stroke-dasharray="1.2 2.1" opacity="0.75"/>
<line x1="563.7" y1="119.30" x2="606.2" y2="119.30" stroke="#45587a" stroke-width="1.05" opacity="0.61"/>
<line x1="548.1" y1="119.30" x2="563.7" y2="119.30" stroke="#45587a" stroke-width="1.00" stroke-dasharray="1.2 0.9" opacity="0.75"/>
<rect x="514.01" y="118.40" width="1.64" height="1.00" fill="#45587a" opacity="0.7"/>
<rect x="529.18" y="118.58" width="1.17" height="1.00" fill="#45587a" opacity="0.7"/>
<rect x="523.07" y="118.88" width="1.66" height="1.00" fill="#45587a" opacity="0.7"/>
<rect x="521.51" y="118.44" width="1.52" height="1.00" fill="#45587a" opacity="0.7"/>
<rect x="515.07" y="118.05" width="1.74" height="1.00" fill="#45587a" opacity="0.7"/>
<rect x="511.46" y="118.03" width="1.05" height="1.00" fill="#45587a" opacity="0.7"/>
<rect x="512.68" y="118.00" width="0.83" height="1.00" fill="#45587a" opacity="0.7"/>
<rect x="509.95" y="118.39" width="0.87" height="1.00" fill="#45587a" opacity="0.7"/>
<rect x="506.01" y="118.29" width="1.64" height="1.00" fill="#45587a" opacity="0.7"/>
<rect x="507.30" y="118.28" width="0.83" height="1.00" fill="#45587a" opacity="0.7"/>
<rect x="622.66" y="118.06" width="0.88" height="1.00" fill="#45587a" opacity="0.7"/>
<rect x="617.75" y="118.00" width="1.30" height="1.00" fill="#45587a" opacity="0.7"/>
<rect x="616.46" y="117.95" width="0.84" height="1.00" fill="#45587a" opacity="0.7"/>
<rect x="545.02" y="105.20" width="1.98" height="1.00" fill="#45587a" opacity="0.7"/>
<rect x="556.81" y="105.20" width="1.39" height="1.00" fill="#45587a" opacity="0.7"/>
<rect x="535.86" y="80.50" width="1.78" height="1.00" fill="#45587a" opacity="0.7"/>
<rect x="539.60" y="105.20" width="1.18" height="1.00" fill="#45587a" opacity="0.7"/>
<rect x="508.12" y="120.50" width="1.96" height="1.00" fill="#45587a" opacity="0.7"/>
<rect x="537.57" y="80.50" width="0.93" height="1.00" fill="#45587a" opacity="0.7"/>
<rect x="542.45" y="80.50" width="1.00" height="1.00" fill="#45587a" opacity="0.7"/>
<rect x="507.01" y="80.50" width="1.03" height="1.00" fill="#45587a" opacity="0.7"/>
<rect x="533.04" y="105.20" width="1.04" height="1.00" fill="#45587a" opacity="0.7"/>
<rect x="558.56" y="120.50" width="1.21" height="1.00" fill="#45587a" opacity="0.7"/>
<rect x="531.32" y="105.20" width="1.93" height="1.00" fill="#45587a" opacity="0.7"/>
<rect x="506.88" y="105.20" width="1.70" height="1.00" fill="#45587a" opacity="0.7"/>
<rect x="539.73" y="120.50" width="0.91" height="1.00" fill="#45587a" opacity="0.7"/>
<rect x="521.14" y="120.50" width="0.94" height="1.00" fill="#45587a" opacity="0.7"/>
<rect x="526.44" y="105.20" width="1.44" height="1.00" fill="#45587a" opacity="0.7"/>
<rect x="547.81" y="120.50" width="1.01" height="1.00" fill="#45587a" opacity="0.7"/>
<rect x="545.69" y="120.50" width="1.80" height="1.00" fill="#45587a" opacity="0.7"/>
<rect x="535.43" y="93.50" width="1.24" height="1.00" fill="#45587a" opacity="0.7"/>
<rect x="527.81" y="93.50" width="1.33" height="1.00" fill="#45587a" opacity="0.7"/>
<rect x="543.65" y="105.20" width="1.12" height="1.00" fill="#45587a" opacity="0.7"/>
<rect x="514.34" y="111.00" width="1.90" height="1.00" fill="#45587a" opacity="0.7"/>
<rect x="543.33" y="120.50" width="0.85" height="1.00" fill="#45587a" opacity="0.7"/>
<rect x="514.44" y="80.50" width="1.79" height="1.00" fill="#45587a" opacity="0.7"/>
<rect x="510.06" y="80.50" width="1.18" height="1.00" fill="#45587a" opacity="0.7"/>
<rect x="538.04" y="80.50" width="1.85" height="1.00" fill="#45587a" opacity="0.7"/>
<rect x="552.97" y="120.50" width="1.36" height="1.00" fill="#45587a" opacity="0.7"/>
<rect x="552.78" y="105.20" width="2.00" height="1.00" fill="#45587a" opacity="0.7"/>
<rect x="505.09" y="93.50" width="1.28" height="1.00" fill="#45587a" opacity="0.7"/>
<rect x="557.56" y="80.50" width="1.21" height="1.00" fill="#45587a" opacity="0.7"/>
<rect x="522.12" y="120.50" width="0.90" height="1.00" fill="#45587a" opacity="0.7"/>
<rect x="540.70" y="93.50" width="1.63" height="1.00" fill="#45587a" opacity="0.7"/>
<rect x="558.77" y="93.50" width="1.50" height="1.00" fill="#45587a" opacity="0.7"/>
<rect x="505.64" y="93.50" width="1.15" height="1.00" fill="#45587a" opacity="0.7"/>
<rect x="516.48" y="111.00" width="1.42" height="1.00" fill="#45587a" opacity="0.7"/>
<rect x="532.77" y="111.00" width="1.18" height="1.00" fill="#45587a" opacity="0.7"/>
<rect x="553.56" y="93.50" width="1.36" height="1.00" fill="#45587a" opacity="0.7"/>
<rect x="539.23" y="80.50" width="1.79" height="1.00" fill="#45587a" opacity="0.7"/>
<rect x="511.19" y="80.50" width="1.83" height="1.00" fill="#45587a" opacity="0.7"/>
<rect x="510.58" y="105.20" width="0.90" height="1.00" fill="#45587a" opacity="0.7"/>
<rect x="530.59" y="93.50" width="1.79" height="1.00" fill="#45587a" opacity="0.7"/>
<line x1="501.20" y1="92.20" x2="649.00" y2="88.40" stroke="#3a3a3a" stroke-width="1.2" />
<text x="0" y="0" font-size="13.8" font-weight="normal" fill="#1e1e1e" textLength="39.70" lengthAdjust="spacingAndGlyphs" transform="translate(432.70 108.40) rotate(-90)" >Neural</text>
<text x="0" y="0" font-size="13.8" font-weight="normal" fill="#1e1e1e" textLength="97.90" lengthAdjust="spacingAndGlyphs" transform="translate(449.40 135.50) rotate(-90)" >excitability (arb)</text>
<line x1="483.50" y1="221.60" x2="674.50" y2="221.60" stroke="#e6e6e6" stroke-width="0.8" />
<line x1="483.50" y1="249.40" x2="674.50" y2="249.40" stroke="#e6e6e6" stroke-width="0.8" />
<line x1="483.50" y1="276.40" x2="674.50" y2="276.40" stroke="#e6e6e6" stroke-width="0.8" />
<line x1="483.50" y1="303.50" x2="674.50" y2="303.50" stroke="#e6e6e6" stroke-width="0.8" />
<line x1="515.35" y1="221.60" x2="515.35" y2="331.10" stroke="#e6e6e6" stroke-width="0.8" />
<line x1="547.20" y1="221.60" x2="547.20" y2="331.10" stroke="#e6e6e6" stroke-width="0.8" />
<line x1="579.05" y1="221.60" x2="579.05" y2="331.10" stroke="#e6e6e6" stroke-width="0.8" />
<line x1="610.90" y1="221.60" x2="610.90" y2="331.10" stroke="#e6e6e6" stroke-width="0.8" />
<line x1="642.75" y1="221.60" x2="642.75" y2="331.10" stroke="#e6e6e6" stroke-width="0.8" />
<line x1="674.60" y1="221.60" x2="674.60" y2="331.10" stroke="#e6e6e6" stroke-width="0.8" />
<line x1="483.50" y1="221.60" x2="483.50" y2="331.60" stroke="#a8a8a8" stroke-width="1" />
<line x1="483.50" y1="331.10" x2="674.50" y2="331.10" stroke="#a8a8a8" stroke-width="1" />
<line x1="515.35" y1="331.10" x2="515.35" y2="329.10" stroke="#a8a8a8" stroke-width="0.8" />
<line x1="547.20" y1="331.10" x2="547.20" y2="329.10" stroke="#a8a8a8" stroke-width="0.8" />
<line x1="579.05" y1="331.10" x2="579.05" y2="329.10" stroke="#a8a8a8" stroke-width="0.8" />
<line x1="610.90" y1="331.10" x2="610.90" y2="329.10" stroke="#a8a8a8" stroke-width="0.8" />
<line x1="642.75" y1="331.10" x2="642.75" y2="329.10" stroke="#a8a8a8" stroke-width="0.8" />
<line x1="674.60" y1="331.10" x2="674.60" y2="329.10" stroke="#a8a8a8" stroke-width="0.8" />
<line x1="483.50" y1="221.60" x2="485.50" y2="221.60" stroke="#a8a8a8" stroke-width="0.8" />
<line x1="483.50" y1="249.40" x2="485.50" y2="249.40" stroke="#a8a8a8" stroke-width="0.8" />
<line x1="483.50" y1="276.40" x2="485.50" y2="276.40" stroke="#a8a8a8" stroke-width="0.8" />
<line x1="483.50" y1="303.50" x2="485.50" y2="303.50" stroke="#a8a8a8" stroke-width="0.8" />
<text x="481.20" y="230.24" font-size="13.8" text-anchor="end" fill="#1e1e1e" >-1.5</text>
<text x="481.20" y="281.64" font-size="13.8" text-anchor="end" fill="#1e1e1e" >-2.0</text>
<text x="481.20" y="329.94" font-size="13.8" text-anchor="end" fill="#1e1e1e" >-2.5</text>
<text x="483.70" y="345.30" font-size="13.8" text-anchor="middle" fill="#1e1e1e" >0.3</text>
<text x="547.40" y="345.30" font-size="13.8" text-anchor="middle" fill="#1e1e1e" >0.5</text>
<text x="611.10" y="345.30" font-size="13.8" text-anchor="middle" fill="#1e1e1e" >0.7</text>
<text x="674.80" y="345.30" font-size="13.8" text-anchor="middle" fill="#1e1e1e" >0.9</text>
<text x="527.40" y="361.70" font-size="13.8" textLength="121.30" lengthAdjust="spacingAndGlyphs" fill="#1e1e1e" >Neural fragility (arb)</text>
<text x="522.60" y="217.10" font-size="13.8" font-weight="bold" textLength="111.40" lengthAdjust="spacingAndGlyphs" fill="#1e1e1e" >F = 5.68, P = 0.01</text>
<polygon points="507.2,261.2 673,246.8 673,290.9 507.2,297.8" fill="#dfc2c7"/>
<polygon points="532,266.3 590,261.7 673,257.3 673,277.2 590,282.9 545,285.8 536,285.5" fill="#8b1a22" opacity="0.93"/>
<polygon points="522,268 545,265 545,286 522,286" fill="#8b1a22" opacity="0.35"/>
<line x1="560" y1="264.6" x2="665" y2="258.9" stroke="#e4b5ba" stroke-width="0.8" opacity="0.8"/>
<line x1="545" y1="272.5" x2="640" y2="268.2" stroke="#c46a72" stroke-width="0.8" opacity="0.6"/>
<line x1="600" y1="276.0" x2="668" y2="272.5" stroke="#c46a72" stroke-width="0.7" opacity="0.5"/>
<rect x="543.07" y="266.16" width="1.58" height="1.10" fill="#8b1a22" opacity="0.85"/>
<rect x="542.43" y="278.61" width="1.44" height="1.10" fill="#8b1a22" opacity="0.85"/>
<rect x="542.04" y="280.28" width="1.27" height="1.10" fill="#8b1a22" opacity="0.85"/>
<rect x="557.09" y="272.29" width="1.41" height="1.10" fill="#8b1a22" opacity="0.85"/>
<rect x="513.20" y="265.96" width="1.28" height="1.10" fill="#8b1a22" opacity="0.85"/>
<rect x="541.06" y="271.18" width="1.11" height="1.10" fill="#8b1a22" opacity="0.85"/>
<rect x="546.94" y="283.03" width="1.90" height="1.10" fill="#8b1a22" opacity="0.85"/>
<rect x="526.33" y="281.42" width="0.91" height="1.10" fill="#8b1a22" opacity="0.85"/>
<rect x="534.49" y="269.68" width="2.14" height="1.10" fill="#8b1a22" opacity="0.85"/>
<rect x="510.31" y="270.95" width="1.50" height="1.10" fill="#8b1a22" opacity="0.85"/>
<rect x="520.30" y="272.13" width="2.00" height="1.10" fill="#8b1a22" opacity="0.85"/>
<rect x="517.97" y="270.09" width="2.20" height="1.10" fill="#8b1a22" opacity="0.85"/>
<rect x="545.96" y="273.42" width="1.94" height="1.10" fill="#8b1a22" opacity="0.85"/>
<rect x="552.19" y="271.01" width="1.11" height="1.10" fill="#8b1a22" opacity="0.85"/>
<rect x="540.06" y="272.66" width="2.23" height="1.10" fill="#8b1a22" opacity="0.85"/>
<rect x="559.10" y="272.70" width="1.74" height="1.10" fill="#8b1a22" opacity="0.85"/>
<rect x="508.85" y="286.19" width="0.83" height="1.10" fill="#8b1a22" opacity="0.85"/>
<rect x="554.30" y="263.74" width="1.04" height="1.10" fill="#8b1a22" opacity="0.85"/>
<rect x="533.69" y="265.77" width="1.56" height="1.10" fill="#8b1a22" opacity="0.85"/>
<rect x="517.33" y="269.89" width="1.59" height="1.10" fill="#8b1a22" opacity="0.85"/>
<rect x="508.99" y="275.90" width="1.11" height="1.10" fill="#8b1a22" opacity="0.85"/>
<rect x="548.45" y="266.53" width="1.51" height="1.10" fill="#8b1a22" opacity="0.85"/>
<rect x="555.15" y="272.42" width="1.13" height="1.10" fill="#8b1a22" opacity="0.85"/>
<rect x="532.83" y="281.54" width="1.25" height="1.10" fill="#8b1a22" opacity="0.85"/>
<rect x="526.88" y="281.85" width="1.81" height="1.10" fill="#8b1a22" opacity="0.85"/>
<rect x="556.97" y="272.04" width="2.30" height="1.10" fill="#8b1a22" opacity="0.85"/>
<rect x="532.13" y="285.55" width="1.16" height="1.10" fill="#8b1a22" opacity="0.85"/>
<rect x="557.70" y="268.99" width="0.85" height="1.10" fill="#8b1a22" opacity="0.85"/>
<rect x="526.79" y="272.47" width="2.13" height="1.10" fill="#8b1a22" opacity="0.85"/>
<rect x="546.62" y="283.18" width="1.63" height="1.10" fill="#8b1a22" opacity="0.85"/>
<rect x="507.76" y="279.36" width="1.04" height="1.10" fill="#8b1a22" opacity="0.85"/>
<rect x="508.11" y="286.08" width="0.80" height="1.10" fill="#8b1a22" opacity="0.85"/>
<rect x="559.13" y="279.50" width="1.37" height="1.10" fill="#8b1a22" opacity="0.85"/>
<rect x="558.18" y="270.52" width="1.68" height="1.10" fill="#8b1a22" opacity="0.85"/>
<rect x="532.98" y="269.54" width="1.24" height="1.10" fill="#8b1a22" opacity="0.85"/>
<rect x="554.94" y="280.66" width="1.77" height="1.10" fill="#8b1a22" opacity="0.85"/>
<rect x="549.99" y="272.88" width="1.22" height="1.10" fill="#8b1a22" opacity="0.85"/>
<rect x="542.61" y="274.38" width="1.96" height="1.10" fill="#8b1a22" opacity="0.85"/>
<rect x="525.00" y="265.66" width="0.86" height="1.10" fill="#8b1a22" opacity="0.85"/>
<rect x="559.79" y="266.28" width="2.02" height="1.10" fill="#8b1a22" opacity="0.85"/>
<rect x="536.88" y="284.30" width="1.99" height="1.10" fill="#8b1a22" opacity="0.85"/>
<rect x="551.59" y="271.99" width="2.00" height="1.10" fill="#8b1a22" opacity="0.85"/>
<rect x="524.88" y="267.86" width="0.83" height="1.10" fill="#8b1a22" opacity="0.85"/>
<rect x="509.40" y="276.25" width="0.90" height="1.10" fill="#8b1a22" opacity="0.85"/>
<rect x="550.26" y="273.07" width="1.63" height="1.10" fill="#8b1a22" opacity="0.85"/>
<rect x="547.00" y="281.69" width="2.36" height="1.10" fill="#8b1a22" opacity="0.85"/>
<rect x="534.31" y="272.23" width="1.81" height="1.10" fill="#8b1a22" opacity="0.85"/>
<rect x="522.57" y="266.74" width="1.02" height="1.10" fill="#8b1a22" opacity="0.85"/>
<rect x="551.11" y="265.49" width="2.04" height="1.10" fill="#8b1a22" opacity="0.85"/>
<rect x="530.54" y="270.53" width="1.21" height="1.10" fill="#8b1a22" opacity="0.85"/>
<rect x="522.00" y="276.36" width="1.72" height="1.10" fill="#8b1a22" opacity="0.85"/>
<rect x="514.40" y="266.52" width="1.58" height="1.10" fill="#8b1a22" opacity="0.85"/>
<rect x="519.22" y="275.05" width="1.74" height="1.10" fill="#8b1a22" opacity="0.85"/>
<rect x="521.49" y="271.91" width="1.76" height="1.10" fill="#8b1a22" opacity="0.85"/>
<rect x="513.15" y="268.43" width="2.06" height="1.10" fill="#8b1a22" opacity="0.85"/>
<rect x="546.95" y="269.25" width="1.50" height="1.10" fill="#8b1a22" opacity="0.85"/>
<rect x="511.02" y="266.65" width="1.58" height="1.10" fill="#8b1a22" opacity="0.85"/>
<rect x="546.89" y="280.99" width="1.52" height="1.10" fill="#8b1a22" opacity="0.85"/>
<rect x="523.50" y="272.40" width="1.85" height="1.10" fill="#8b1a22" opacity="0.85"/>
<rect x="556.90" y="271.31" width="0.88" height="1.10" fill="#8b1a22" opacity="0.85"/>
<rect x="518.35" y="266.26" width="1.31" height="1.10" fill="#8b1a22" opacity="0.85"/>
<rect x="539.36" y="275.77" width="0.86" height="1.10" fill="#8b1a22" opacity="0.85"/>
<rect x="529.12" y="273.45" width="2.24" height="1.10" fill="#8b1a22" opacity="0.85"/>
<rect x="533.25" y="284.60" width="1.98" height="1.10" fill="#8b1a22" opacity="0.85"/>
<rect x="544.00" y="266.23" width="1.81" height="1.10" fill="#8b1a22" opacity="0.85"/>
<rect x="513.55" y="283.39" width="2.21" height="1.10" fill="#8b1a22" opacity="0.85"/>
<rect x="556.93" y="283.44" width="1.91" height="1.10" fill="#8b1a22" opacity="0.85"/>
<rect x="529.86" y="285.39" width="1.54" height="1.10" fill="#8b1a22" opacity="0.85"/>
<rect x="522.34" y="276.96" width="1.08" height="1.10" fill="#8b1a22" opacity="0.85"/>
<rect x="532.79" y="268.07" width="1.04" height="1.10" fill="#8b1a22" opacity="0.85"/>
<rect x="544.39" y="278.28" width="1.55" height="1.10" fill="#8b1a22" opacity="0.85"/>
<rect x="528.07" y="265.02" width="1.43" height="1.10" fill="#8b1a22" opacity="0.85"/>
<rect x="516.56" y="278.74" width="1.30" height="1.10" fill="#8b1a22" opacity="0.85"/>
<rect x="541.38" y="266.73" width="1.03" height="1.10" fill="#8b1a22" opacity="0.85"/>
<rect x="534.77" y="267.60" width="1.14" height="1.10" fill="#8b1a22" opacity="0.85"/>
<rect x="548.28" y="272.64" width="1.09" height="1.10" fill="#8b1a22" opacity="0.85"/>
<rect x="508.39" y="268.30" width="0.98" height="1.10" fill="#8b1a22" opacity="0.85"/>
<rect x="522.64" y="273.25" width="2.30" height="1.10" fill="#8b1a22" opacity="0.85"/>
<rect x="538.99" y="283.76" width="0.81" height="1.10" fill="#8b1a22" opacity="0.85"/>
<rect x="526.66" y="267.93" width="1.57" height="1.10" fill="#8b1a22" opacity="0.85"/>
<rect x="510.41" y="277.45" width="2.23" height="1.10" fill="#8b1a22" opacity="0.85"/>
<rect x="512.50" y="283.63" width="1.56" height="1.10" fill="#8b1a22" opacity="0.85"/>
<rect x="546.19" y="274.82" width="2.17" height="1.10" fill="#8b1a22" opacity="0.85"/>
<rect x="530.45" y="273.24" width="1.66" height="1.10" fill="#8b1a22" opacity="0.85"/>
<rect x="523.18" y="268.29" width="1.53" height="1.10" fill="#8b1a22" opacity="0.85"/>
<rect x="527.35" y="280.78" width="1.27" height="1.10" fill="#8b1a22" opacity="0.85"/>
<rect x="546.73" y="279.34" width="1.28" height="1.10" fill="#8b1a22" opacity="0.85"/>
<rect x="552.52" y="283.41" width="1.31" height="1.10" fill="#8b1a22" opacity="0.85"/>
<rect x="551.52" y="266.07" width="1.77" height="1.10" fill="#8b1a22" opacity="0.85"/>
<rect x="510.02" y="278.91" width="1.08" height="1.10" fill="#8b1a22" opacity="0.85"/>
<rect x="537.39" y="267.56" width="1.00" height="1.10" fill="#8b1a22" opacity="0.85"/>
<rect x="528.38" y="276.77" width="1.40" height="1.10" fill="#8b1a22" opacity="0.85"/>
<rect x="543.94" y="269.60" width="1.54" height="1.10" fill="#8b1a22" opacity="0.85"/>
<rect x="537.79" y="271.06" width="1.74" height="1.10" fill="#8b1a22" opacity="0.85"/>
<rect x="518.58" y="275.03" width="1.70" height="1.10" fill="#8b1a22" opacity="0.85"/>
<rect x="540.75" y="276.44" width="1.92" height="1.10" fill="#8b1a22" opacity="0.85"/>
<rect x="547.86" y="278.75" width="1.35" height="1.10" fill="#8b1a22" opacity="0.85"/>
<rect x="543.59" y="271.01" width="2.36" height="1.10" fill="#8b1a22" opacity="0.85"/>
<rect x="522.77" y="269.01" width="1.76" height="1.10" fill="#8b1a22" opacity="0.85"/>
<rect x="518.73" y="286.35" width="1.97" height="1.10" fill="#8b1a22" opacity="0.85"/>
<rect x="520.18" y="274.48" width="1.23" height="1.10" fill="#8b1a22" opacity="0.85"/>
<rect x="513.88" y="272.78" width="2.06" height="1.10" fill="#8b1a22" opacity="0.85"/>
<rect x="516.32" y="278.63" width="1.63" height="1.10" fill="#8b1a22" opacity="0.85"/>
<rect x="559.71" y="263.89" width="1.47" height="1.10" fill="#8b1a22" opacity="0.85"/>
<rect x="536.14" y="277.14" width="1.27" height="1.10" fill="#8b1a22" opacity="0.85"/>
<rect x="519.53" y="273.41" width="1.14" height="1.10" fill="#8b1a22" opacity="0.85"/>
<rect x="510.97" y="276.74" width="0.89" height="1.10" fill="#8b1a22" opacity="0.85"/>
<rect x="533.19" y="266.98" width="1.97" height="1.10" fill="#8b1a22" opacity="0.85"/>
<rect x="527.65" y="276.64" width="0.82" height="1.10" fill="#8b1a22" opacity="0.85"/>
<rect x="526.72" y="272.72" width="1.50" height="1.10" fill="#8b1a22" opacity="0.85"/>
<rect x="555.12" y="277.49" width="0.97" height="1.10" fill="#8b1a22" opacity="0.85"/>
<rect x="533.24" y="271.30" width="0.80" height="1.10" fill="#8b1a22" opacity="0.85"/>
<rect x="510.41" y="265.98" width="2.22" height="1.10" fill="#8b1a22" opacity="0.85"/>
<rect x="518.08" y="274.62" width="1.11" height="1.10" fill="#8b1a22" opacity="0.85"/>
<rect x="508.51" y="281.50" width="1.30" height="1.10" fill="#8b1a22" opacity="0.85"/>
<rect x="530.56" y="272.33" width="1.95" height="1.10" fill="#8b1a22" opacity="0.85"/>
<rect x="549.45" y="267.94" width="1.34" height="1.10" fill="#8b1a22" opacity="0.85"/>
<rect x="537.96" y="274.90" width="2.28" height="1.10" fill="#8b1a22" opacity="0.85"/>
<rect x="518.92" y="268.35" width="1.29" height="1.10" fill="#8b1a22" opacity="0.85"/>
<rect x="536.29" y="266.78" width="1.08" height="1.10" fill="#8b1a22" opacity="0.85"/>
<rect x="553.77" y="272.23" width="2.07" height="1.10" fill="#8b1a22" opacity="0.85"/>
<rect x="527.29" y="275.19" width="2.38" height="1.10" fill="#8b1a22" opacity="0.85"/>
<rect x="532.05" y="267.52" width="1.13" height="1.10" fill="#8b1a22" opacity="0.85"/>
<rect x="540.70" y="276.34" width="2.32" height="1.10" fill="#8b1a22" opacity="0.85"/>
<rect x="522.79" y="271.21" width="1.82" height="1.10" fill="#8b1a22" opacity="0.85"/>
<rect x="546.52" y="282.08" width="0.90" height="1.10" fill="#8b1a22" opacity="0.85"/>
<rect x="553.49" y="278.87" width="1.31" height="1.10" fill="#8b1a22" opacity="0.85"/>
<rect x="552.05" y="270.11" width="2.26" height="1.10" fill="#8b1a22" opacity="0.85"/>
<rect x="540.46" y="266.02" width="1.86" height="1.10" fill="#8b1a22" opacity="0.85"/>
<rect x="541.14" y="282.51" width="1.16" height="1.10" fill="#8b1a22" opacity="0.85"/>
<rect x="524.10" y="278.71" width="2.33" height="1.10" fill="#8b1a22" opacity="0.85"/>
<rect x="509.75" y="276.90" width="2.24" height="1.10" fill="#8b1a22" opacity="0.85"/>
<rect x="533.97" y="269.49" width="2.13" height="1.10" fill="#8b1a22" opacity="0.85"/>
<rect x="516.54" y="282.82" width="2.12" height="1.10" fill="#8b1a22" opacity="0.85"/>
<rect x="555.67" y="271.38" width="1.35" height="1.10" fill="#8b1a22" opacity="0.85"/>
<rect x="531.17" y="284.82" width="1.16" height="1.10" fill="#8b1a22" opacity="0.85"/>
<rect x="537.37" y="271.44" width="1.74" height="1.10" fill="#8b1a22" opacity="0.85"/>
<rect x="537.84" y="271.86" width="1.63" height="1.10" fill="#8b1a22" opacity="0.85"/>
<rect x="523.69" y="283.19" width="1.74" height="1.10" fill="#8b1a22" opacity="0.85"/>
<rect x="545.29" y="274.77" width="1.52" height="1.10" fill="#8b1a22" opacity="0.85"/>
<rect x="545.23" y="281.75" width="1.81" height="1.10" fill="#8b1a22" opacity="0.85"/>
<rect x="533.16" y="282.44" width="1.09" height="1.10" fill="#8b1a22" opacity="0.85"/>
<rect x="512.49" y="275.44" width="2.29" height="1.10" fill="#8b1a22" opacity="0.85"/>
<rect x="533.57" y="282.17" width="1.30" height="1.10" fill="#8b1a22" opacity="0.85"/>
<rect x="547.00" y="270.49" width="1.20" height="1.10" fill="#8b1a22" opacity="0.85"/>
<rect x="553.64" y="277.49" width="1.97" height="1.10" fill="#8b1a22" opacity="0.85"/>
<rect x="519.55" y="273.10" width="1.16" height="1.10" fill="#8b1a22" opacity="0.85"/>
<rect x="522.10" y="272.48" width="0.88" height="1.10" fill="#8b1a22" opacity="0.85"/>
<rect x="558.18" y="278.28" width="1.13" height="1.10" fill="#8b1a22" opacity="0.85"/>
<rect x="523.10" y="268.79" width="1.07" height="1.10" fill="#8b1a22" opacity="0.85"/>
<rect x="532.60" y="268.94" width="2.10" height="1.10" fill="#8b1a22" opacity="0.85"/>
<rect x="526.33" y="269.83" width="1.89" height="1.10" fill="#8b1a22" opacity="0.85"/>
<rect x="535.13" y="276.95" width="1.48" height="1.10" fill="#8b1a22" opacity="0.85"/>
<rect x="516.39" y="271.93" width="1.40" height="1.10" fill="#8b1a22" opacity="0.85"/>
<rect x="511.17" y="277.19" width="1.53" height="1.10" fill="#8b1a22" opacity="0.85"/>
<rect x="507.95" y="269.84" width="1.63" height="1.10" fill="#8b1a22" opacity="0.85"/>
<rect x="529.24" y="275.16" width="1.42" height="1.10" fill="#8b1a22" opacity="0.85"/>
<rect x="533.53" y="274.68" width="1.45" height="1.10" fill="#8b1a22" opacity="0.85"/>
<rect x="539.81" y="280.01" width="0.98" height="1.10" fill="#8b1a22" opacity="0.85"/>
<rect x="529.22" y="282.92" width="1.03" height="1.10" fill="#8b1a22" opacity="0.85"/>
<rect x="524.03" y="272.43" width="1.03" height="1.10" fill="#8b1a22" opacity="0.85"/>
<rect x="522.79" y="278.40" width="1.04" height="1.10" fill="#8b1a22" opacity="0.85"/>
<rect x="555.86" y="270.92" width="0.87" height="1.10" fill="#8b1a22" opacity="0.85"/>
<rect x="525.41" y="278.34" width="1.80" height="1.10" fill="#8b1a22" opacity="0.85"/>
<rect x="544.21" y="284.29" width="1.75" height="1.10" fill="#8b1a22" opacity="0.85"/>
<rect x="537.96" y="278.44" width="1.26" height="1.10" fill="#8b1a22" opacity="0.85"/>
<rect x="524.14" y="273.71" width="2.28" height="1.10" fill="#8b1a22" opacity="0.85"/>
<rect x="541.51" y="283.37" width="1.48" height="1.10" fill="#8b1a22" opacity="0.85"/>
<rect x="536.61" y="280.33" width="1.48" height="1.10" fill="#8b1a22" opacity="0.85"/>
<rect x="526.61" y="268.75" width="1.27" height="1.10" fill="#8b1a22" opacity="0.85"/>
<rect x="517.02" y="283.07" width="1.94" height="1.10" fill="#8b1a22" opacity="0.85"/>
<rect x="524.17" y="268.50" width="2.26" height="1.10" fill="#8b1a22" opacity="0.85"/>
<rect x="532.75" y="275.90" width="1.54" height="1.10" fill="#8b1a22" opacity="0.85"/>
<rect x="555.13" y="274.71" width="1.39" height="1.10" fill="#8b1a22" opacity="0.85"/>
<rect x="545.36" y="276.46" width="1.92" height="1.10" fill="#8b1a22" opacity="0.85"/>
<rect x="515.79" y="279.61" width="0.99" height="1.10" fill="#8b1a22" opacity="0.85"/>
<rect x="536.26" y="266.78" width="1.42" height="1.10" fill="#8b1a22" opacity="0.85"/>
<rect x="536.51" y="270.92" width="1.24" height="1.10" fill="#8b1a22" opacity="0.85"/>
<rect x="532.41" y="278.93" width="1.17" height="1.10" fill="#8b1a22" opacity="0.85"/>
<rect x="520.83" y="269.76" width="0.98" height="1.10" fill="#8b1a22" opacity="0.85"/>
<rect x="526.69" y="268.03" width="1.39" height="1.10" fill="#8b1a22" opacity="0.85"/>
<rect x="543.13" y="269.43" width="2.05" height="1.10" fill="#8b1a22" opacity="0.85"/>
<rect x="557.21" y="276.97" width="1.20" height="1.10" fill="#8b1a22" opacity="0.85"/>
<rect x="520.69" y="272.62" width="1.35" height="1.10" fill="#8b1a22" opacity="0.85"/>
<rect x="512.67" y="284.07" width="1.02" height="1.10" fill="#8b1a22" opacity="0.85"/>
<rect x="511.42" y="286.59" width="1.33" height="1.10" fill="#8b1a22" opacity="0.85"/>
<rect x="513.09" y="283.21" width="1.03" height="1.10" fill="#8b1a22" opacity="0.85"/>
<rect x="509.26" y="276.36" width="2.39" height="1.10" fill="#8b1a22" opacity="0.85"/>
<rect x="514.05" y="284.64" width="1.51" height="1.10" fill="#8b1a22" opacity="0.85"/>
<rect x="529.69" y="276.62" width="1.72" height="1.10" fill="#8b1a22" opacity="0.85"/>
<rect x="558.83" y="271.89" width="1.27" height="1.10" fill="#8b1a22" opacity="0.85"/>
<rect x="521.43" y="284.19" width="1.05" height="1.10" fill="#8b1a22" opacity="0.85"/>
<rect x="508.67" y="275.15" width="0.80" height="1.10" fill="#8b1a22" opacity="0.85"/>
<rect x="548.92" y="266.25" width="1.97" height="1.10" fill="#8b1a22" opacity="0.85"/>
<rect x="517.99" y="280.15" width="1.83" height="1.10" fill="#8b1a22" opacity="0.85"/>
<rect x="520.62" y="278.51" width="1.70" height="1.10" fill="#8b1a22" opacity="0.85"/>
<rect x="558.17" y="270.42" width="0.99" height="1.10" fill="#8b1a22" opacity="0.85"/>
<rect x="518.52" y="285.52" width="0.92" height="1.10" fill="#8b1a22" opacity="0.85"/>
<rect x="529.67" y="270.80" width="0.99" height="1.10" fill="#8b1a22" opacity="0.85"/>
<rect x="524.85" y="282.16" width="1.97" height="1.10" fill="#8b1a22" opacity="0.85"/>
<rect x="520.73" y="267.14" width="0.93" height="1.10" fill="#8b1a22" opacity="0.85"/>
<rect x="543.07" y="265.88" width="1.92" height="1.10" fill="#8b1a22" opacity="0.85"/>
<rect x="540.34" y="274.94" width="1.93" height="1.10" fill="#8b1a22" opacity="0.85"/>
<rect x="536.30" y="278.24" width="1.51" height="1.10" fill="#8b1a22" opacity="0.85"/>
<rect x="516.33" y="282.96" width="0.91" height="1.10" fill="#8b1a22" opacity="0.85"/>
<rect x="543.17" y="272.59" width="0.81" height="1.10" fill="#8b1a22" opacity="0.85"/>
<rect x="524.84" y="280.30" width="2.13" height="1.10" fill="#8b1a22" opacity="0.85"/>
<rect x="526.18" y="265.89" width="1.14" height="1.10" fill="#8b1a22" opacity="0.85"/>
<rect x="507.62" y="277.41" width="2.30" height="1.10" fill="#8b1a22" opacity="0.85"/>
<rect x="545.23" y="276.91" width="1.51" height="1.10" fill="#8b1a22" opacity="0.85"/>
<rect x="519.54" y="265.51" width="1.14" height="1.10" fill="#8b1a22" opacity="0.85"/>
<rect x="515.36" y="273.90" width="1.43" height="1.10" fill="#8b1a22" opacity="0.85"/>
<rect x="559.00" y="265.26" width="1.87" height="1.10" fill="#8b1a22" opacity="0.85"/>
<rect x="519.92" y="267.40" width="1.45" height="1.10" fill="#8b1a22" opacity="0.85"/>
<rect x="538.19" y="268.88" width="1.53" height="1.10" fill="#8b1a22" opacity="0.85"/>
<rect x="534.06" y="277.90" width="2.38" height="1.10" fill="#8b1a22" opacity="0.85"/>
<rect x="527.21" y="283.76" width="1.13" height="1.10" fill="#8b1a22" opacity="0.85"/>
<rect x="538.07" y="277.57" width="2.08" height="1.10" fill="#8b1a22" opacity="0.85"/>
<rect x="516.42" y="275.09" width="1.65" height="1.10" fill="#8b1a22" opacity="0.85"/>
<rect x="522.06" y="284.95" width="2.30" height="1.10" fill="#8b1a22" opacity="0.85"/>
<rect x="514.84" y="276.60" width="1.29" height="1.10" fill="#8b1a22" opacity="0.85"/>
<rect x="534.66" y="269.16" width="1.64" height="1.10" fill="#8b1a22" opacity="0.85"/>
<rect x="522.65" y="266.73" width="0.91" height="1.10" fill="#8b1a22" opacity="0.85"/>
<rect x="549.53" y="279.01" width="2.03" height="1.10" fill="#8b1a22" opacity="0.85"/>
<rect x="508.08" y="266.61" width="1.79" height="1.10" fill="#8b1a22" opacity="0.85"/>
<rect x="510.08" y="276.67" width="1.57" height="1.10" fill="#8b1a22" opacity="0.85"/>
<rect x="507.71" y="273.39" width="1.27" height="1.10" fill="#8b1a22" opacity="0.85"/>
<rect x="550.29" y="273.73" width="2.05" height="1.10" fill="#8b1a22" opacity="0.85"/>
<rect x="549.49" y="269.95" width="1.70" height="1.10" fill="#8b1a22" opacity="0.85"/>
<rect x="528.51" y="278.46" width="0.98" height="1.10" fill="#8b1a22" opacity="0.85"/>
<rect x="543.09" y="268.86" width="1.05" height="1.10" fill="#8b1a22" opacity="0.85"/>
<rect x="527.75" y="280.58" width="1.96" height="1.10" fill="#8b1a22" opacity="0.85"/>
<rect x="514.36" y="269.18" width="2.34" height="1.10" fill="#8b1a22" opacity="0.85"/>
<rect x="522.95" y="283.11" width="1.62" height="1.10" fill="#8b1a22" opacity="0.85"/>
<rect x="533.28" y="272.11" width="1.60" height="1.10" fill="#8b1a22" opacity="0.85"/>
<rect x="511.55" y="279.91" width="1.33" height="1.10" fill="#8b1a22" opacity="0.85"/>
<rect x="548.48" y="272.64" width="1.35" height="1.10" fill="#8b1a22" opacity="0.85"/>
<rect x="556.71" y="269.78" width="1.57" height="1.10" fill="#8b1a22" opacity="0.85"/>
<rect x="540.66" y="280.55" width="2.00" height="1.10" fill="#8b1a22" opacity="0.85"/>
<rect x="517.90" y="267.54" width="1.22" height="1.10" fill="#8b1a22" opacity="0.85"/>
<rect x="532.38" y="273.40" width="2.01" height="1.10" fill="#8b1a22" opacity="0.85"/>
<rect x="545.15" y="276.34" width="1.86" height="1.10" fill="#8b1a22" opacity="0.85"/>
<rect x="559.89" y="263.81" width="1.44" height="1.10" fill="#8b1a22" opacity="0.85"/>
<rect x="527.43" y="271.59" width="1.85" height="1.10" fill="#8b1a22" opacity="0.85"/>
<rect x="555.42" y="272.57" width="1.49" height="1.10" fill="#8b1a22" opacity="0.85"/>
<rect x="529.34" y="276.88" width="1.40" height="1.10" fill="#8b1a22" opacity="0.85"/>
<rect x="550.41" y="271.06" width="2.11" height="1.10" fill="#8b1a22" opacity="0.85"/>
<rect x="527.90" y="283.84" width="1.43" height="1.10" fill="#8b1a22" opacity="0.85"/>
<rect x="534.88" y="267.30" width="2.21" height="1.10" fill="#8b1a22" opacity="0.85"/>
<rect x="547.58" y="264.23" width="1.46" height="1.10" fill="#8b1a22" opacity="0.85"/>
<rect x="551.79" y="276.01" width="1.44" height="1.10" fill="#8b1a22" opacity="0.85"/>
<rect x="532.34" y="275.13" width="1.69" height="1.10" fill="#8b1a22" opacity="0.85"/>
<rect x="539.48" y="274.07" width="0.89" height="1.10" fill="#8b1a22" opacity="0.85"/>
<rect x="536.67" y="267.68" width="0.84" height="1.10" fill="#8b1a22" opacity="0.85"/>
<rect x="537.02" y="278.62" width="2.34" height="1.10" fill="#8b1a22" opacity="0.85"/>
<rect x="512.16" y="283.01" width="1.43" height="1.10" fill="#8b1a22" opacity="0.85"/>
<rect x="534.18" y="266.88" width="0.97" height="1.10" fill="#8b1a22" opacity="0.85"/>
<rect x="518.37" y="284.76" width="1.68" height="1.10" fill="#8b1a22" opacity="0.85"/>
<rect x="513.82" y="274.63" width="2.39" height="1.10" fill="#8b1a22" opacity="0.85"/>
<rect x="515.36" y="280.16" width="1.80" height="1.10" fill="#8b1a22" opacity="0.85"/>
<rect x="636.34" y="280.16" width="1.93" height="1.00" fill="#8b1a22" opacity="0.8"/>
<rect x="602.12" y="260.07" width="2.10" height="1.00" fill="#8b1a22" opacity="0.8"/>
<rect x="625.04" y="280.89" width="1.27" height="1.00" fill="#8b1a22" opacity="0.8"/>
<rect x="608.85" y="260.13" width="0.99" height="1.00" fill="#8b1a22" opacity="0.8"/>
<rect x="664.80" y="256.53" width="2.68" height="1.00" fill="#8b1a22" opacity="0.8"/>
<rect x="663.66" y="277.90" width="1.30" height="1.00" fill="#8b1a22" opacity="0.8"/>
<rect x="665.78" y="277.77" width="2.03" height="1.00" fill="#8b1a22" opacity="0.8"/>
<rect x="656.49" y="257.06" width="2.03" height="1.00" fill="#8b1a22" opacity="0.8"/>
<rect x="629.08" y="280.13" width="2.60" height="1.00" fill="#8b1a22" opacity="0.8"/>
<rect x="617.52" y="259.58" width="2.46" height="1.00" fill="#8b1a22" opacity="0.8"/>
<rect x="659.84" y="256.35" width="2.54" height="1.00" fill="#8b1a22" opacity="0.8"/>
<rect x="625.10" y="280.39" width="1.14" height="1.00" fill="#8b1a22" opacity="0.8"/>
<rect x="670.70" y="256.15" width="2.81" height="1.00" fill="#8b1a22" opacity="0.8"/>
<rect x="640.72" y="257.58" width="1.80" height="1.00" fill="#8b1a22" opacity="0.8"/>
<rect x="618.33" y="281.32" width="1.38" height="1.00" fill="#8b1a22" opacity="0.8"/>
<rect x="621.03" y="259.35" width="1.79" height="1.00" fill="#8b1a22" opacity="0.8"/>
<rect x="614.90" y="281.05" width="2.26" height="1.00" fill="#8b1a22" opacity="0.8"/>
<rect x="607.79" y="282.00" width="2.37" height="1.00" fill="#8b1a22" opacity="0.8"/>
<rect x="658.03" y="256.96" width="1.35" height="1.00" fill="#8b1a22" opacity="0.8"/>
<rect x="609.07" y="259.62" width="0.85" height="1.00" fill="#8b1a22" opacity="0.8"/>
<rect x="663.62" y="277.90" width="2.12" height="1.00" fill="#8b1a22" opacity="0.8"/>
<rect x="616.32" y="259.15" width="1.05" height="1.00" fill="#8b1a22" opacity="0.8"/>
<rect x="623.11" y="258.72" width="1.70" height="1.00" fill="#8b1a22" opacity="0.8"/>
<rect x="624.40" y="280.43" width="0.84" height="1.00" fill="#8b1a22" opacity="0.8"/>
<rect x="632.29" y="280.42" width="3.00" height="1.00" fill="#8b1a22" opacity="0.8"/>
<rect x="612.29" y="259.41" width="1.06" height="1.00" fill="#8b1a22" opacity="0.8"/>
<rect x="612.43" y="281.70" width="1.41" height="1.00" fill="#8b1a22" opacity="0.8"/>
<rect x="661.87" y="256.72" width="2.66" height="1.00" fill="#8b1a22" opacity="0.8"/>
<rect x="627.40" y="280.24" width="2.33" height="1.00" fill="#8b1a22" opacity="0.8"/>
<rect x="653.41" y="278.56" width="1.85" height="1.00" fill="#8b1a22" opacity="0.8"/>
<rect x="636.19" y="280.17" width="0.82" height="1.00" fill="#8b1a22" opacity="0.8"/>
<rect x="605.41" y="281.66" width="1.21" height="1.00" fill="#8b1a22" opacity="0.8"/>
<rect x="671.64" y="255.59" width="2.25" height="1.00" fill="#8b1a22" opacity="0.8"/>
<rect x="612.66" y="281.19" width="1.49" height="1.00" fill="#8b1a22" opacity="0.8"/>
<rect x="626.48" y="258.50" width="2.65" height="1.00" fill="#8b1a22" opacity="0.8"/>
<rect x="661.72" y="256.23" width="2.96" height="1.00" fill="#8b1a22" opacity="0.8"/>
<rect x="603.88" y="282.26" width="1.16" height="1.00" fill="#8b1a22" opacity="0.8"/>
<rect x="646.78" y="279.49" width="1.57" height="1.00" fill="#8b1a22" opacity="0.8"/>
<rect x="635.39" y="257.92" width="3.00" height="1.00" fill="#8b1a22" opacity="0.8"/>
<rect x="649.41" y="257.02" width="1.04" height="1.00" fill="#8b1a22" opacity="0.8"/>
<line x1="507.20" y1="279.20" x2="673.00" y2="268.50" stroke="#2a2a2a" stroke-width="1.1" />
<text x="0" y="0" font-size="13.8" font-weight="normal" fill="#1e1e1e" textLength="40.50" lengthAdjust="spacingAndGlyphs" transform="translate(432.80 297.60) rotate(-90)" >Neural</text>
<text x="0" y="0" font-size="13.8" font-weight="normal" fill="#1e1e1e" textLength="98.20" lengthAdjust="spacingAndGlyphs" transform="translate(449.40 325.40) rotate(-90)" >excitability (arb)</text>
<line x1="489.00" y1="421.30" x2="549.50" y2="421.30" stroke="#e6e6e6" stroke-width="0.8" />
<line x1="489.00" y1="441.10" x2="549.50" y2="441.10" stroke="#e6e6e6" stroke-width="0.8" />
<line x1="489.00" y1="461.00" x2="549.50" y2="461.00" stroke="#e6e6e6" stroke-width="0.8" />
<line x1="489.00" y1="480.80" x2="549.50" y2="480.80" stroke="#e6e6e6" stroke-width="0.8" />
<line x1="489.00" y1="500.60" x2="549.50" y2="500.60" stroke="#e6e6e6" stroke-width="0.8" />
<line x1="489.00" y1="421.00" x2="489.00" y2="521.00" stroke="#a8a8a8" stroke-width="1" />
<line x1="489.00" y1="520.50" x2="549.50" y2="520.50" stroke="#a8a8a8" stroke-width="1" />
<line x1="509.20" y1="520.50" x2="509.20" y2="518.50" stroke="#a8a8a8" stroke-width="0.8" />
<line x1="539.80" y1="520.50" x2="539.80" y2="518.50" stroke="#a8a8a8" stroke-width="0.8" />
<text x="486.90" y="426.24" font-size="13.8" text-anchor="end" fill="#1e1e1e" >-1.8</text>
<text x="486.90" y="465.94" font-size="13.8" text-anchor="end" fill="#1e1e1e" >-2.2</text>
<text x="486.90" y="505.54" font-size="13.8" text-anchor="end" fill="#1e1e1e" >-2.6</text>
<line x1="509.20" y1="459.90" x2="509.20" y2="499.60" stroke="#4b5e82" stroke-width="1.6" />
<line x1="505.95" y1="459.90" x2="512.45" y2="459.90" stroke="#4b5e82" stroke-width="1.6" />
<line x1="505.95" y1="499.60" x2="512.45" y2="499.60" stroke="#4b5e82" stroke-width="1.6" />
<rect x="501.90" y="472.40" width="14.60" height="14.50" fill="#4b5e82" />
<line x1="539.80" y1="425.20" x2="539.80" y2="452.90" stroke="#981b2b" stroke-width="1.6" />
<line x1="536.55" y1="425.20" x2="543.05" y2="425.20" stroke="#981b2b" stroke-width="1.6" />
<line x1="536.55" y1="452.90" x2="543.05" y2="452.90" stroke="#981b2b" stroke-width="1.6" />
<rect x="532.50" y="431.50" width="14.60" height="14.50" fill="#981b2b" />
<line x1="509.20" y1="420.60" x2="539.80" y2="420.60" stroke="#000" stroke-width="2.0" />
<text x="518.00" y="423.95" font-size="17.5" font-weight="bold" textLength="10.90" lengthAdjust="spacingAndGlyphs" fill="#000" >**</text>
<text x="0" y="0" font-size="13.8" font-weight="normal" fill="#1e1e1e" textLength="40.40" lengthAdjust="spacingAndGlyphs" transform="translate(439.60 482.50) rotate(-90)" >Neural</text>
<text x="0" y="0" font-size="13.8" font-weight="normal" fill="#1e1e1e" textLength="98.10" lengthAdjust="spacingAndGlyphs" transform="translate(456.70 510.30) rotate(-90)" >excitability (arb)</text>
<line x1="616.50" y1="421.30" x2="677.30" y2="421.30" stroke="#e6e6e6" stroke-width="0.8" />
<line x1="616.50" y1="446.30" x2="677.30" y2="446.30" stroke="#e6e6e6" stroke-width="0.8" />
<line x1="616.50" y1="471.20" x2="677.30" y2="471.20" stroke="#e6e6e6" stroke-width="0.8" />
<line x1="616.50" y1="495.80" x2="677.30" y2="495.80" stroke="#e6e6e6" stroke-width="0.8" />
<line x1="616.50" y1="421.00" x2="616.50" y2="521.00" stroke="#a8a8a8" stroke-width="1" />
<line x1="616.50" y1="520.50" x2="677.30" y2="520.50" stroke="#a8a8a8" stroke-width="1" />
<line x1="636.70" y1="520.50" x2="636.70" y2="518.50" stroke="#a8a8a8" stroke-width="0.8" />
<line x1="667.50" y1="520.50" x2="667.50" y2="518.50" stroke="#a8a8a8" stroke-width="0.8" />
<text x="614.90" y="426.24" font-size="13.8" text-anchor="end" fill="#1e1e1e" >0.68</text>
<text x="614.90" y="476.14" font-size="13.8" text-anchor="end" fill="#1e1e1e" >0.64</text>
<text x="614.90" y="525.14" font-size="13.8" text-anchor="end" fill="#1e1e1e" >0.60</text>
<line x1="636.70" y1="467.60" x2="636.70" y2="503.50" stroke="#4b5e82" stroke-width="1.6" />
<line x1="633.45" y1="467.60" x2="639.95" y2="467.60" stroke="#4b5e82" stroke-width="1.6" />
<line x1="633.45" y1="503.50" x2="639.95" y2="503.50" stroke="#4b5e82" stroke-width="1.6" />
<rect x="629.30" y="478.00" width="14.80" height="14.60" fill="#4b5e82" />
<line x1="667.50" y1="428.10" x2="667.50" y2="453.10" stroke="#981b2b" stroke-width="1.6" />
<line x1="664.25" y1="428.10" x2="670.75" y2="428.10" stroke="#981b2b" stroke-width="1.6" />
<line x1="664.25" y1="453.10" x2="670.75" y2="453.10" stroke="#981b2b" stroke-width="1.6" />
<rect x="659.90" y="433.10" width="15.20" height="14.80" fill="#981b2b" />
<line x1="635.80" y1="420.20" x2="665.70" y2="420.20" stroke="#000" stroke-width="2.0" />
<text x="641.60" y="422.95" font-size="17.5" font-weight="bold" textLength="17.40" lengthAdjust="spacingAndGlyphs" fill="#000" >***</text>
<text x="0" y="0" font-size="13.8" font-weight="normal" fill="#1e1e1e" textLength="122.50" lengthAdjust="spacingAndGlyphs" transform="translate(579.70 525.90) rotate(-90)" >Neural fragility (arb)</text>
<text x="0" y="0" font-size="14" fill="#4b5e82" text-anchor="end" textLength="45.5" lengthAdjust="spacingAndGlyphs" transform="translate(510.20 528.50) rotate(-49)">Control</text>
<text x="0" y="0" font-size="14" fill="#981b2b" text-anchor="end" textLength="20.5" lengthAdjust="spacingAndGlyphs" transform="translate(543.20 528.70) rotate(-49)">AD</text>
<text x="0" y="0" font-size="14" fill="#4b5e82" text-anchor="end" textLength="45.5" lengthAdjust="spacingAndGlyphs" transform="translate(638.80 528.50) rotate(-49)">Control</text>
<text x="0" y="0" font-size="14" fill="#981b2b" text-anchor="end" textLength="20.5" lengthAdjust="spacingAndGlyphs" transform="translate(672.20 528.70) rotate(-49)">AD</text>
<line x1="75.80" y1="629.40" x2="313.10" y2="629.40" stroke="#e6e6e6" stroke-width="0.8" />
<line x1="75.80" y1="652.00" x2="313.10" y2="652.00" stroke="#e6e6e6" stroke-width="0.8" />
<line x1="75.80" y1="674.60" x2="313.10" y2="674.60" stroke="#e6e6e6" stroke-width="0.8" />
<line x1="75.80" y1="697.20" x2="313.10" y2="697.20" stroke="#e6e6e6" stroke-width="0.8" />
<line x1="75.80" y1="629.10" x2="75.80" y2="720.30" stroke="#a8a8a8" stroke-width="1" />
<line x1="75.80" y1="719.80" x2="313.10" y2="719.80" stroke="#a8a8a8" stroke-width="1" />
<text x="72.00" y="634.94" font-size="13.8" text-anchor="end" fill="#1e1e1e" >-1.6</text>
<text x="72.00" y="679.54" font-size="13.8" text-anchor="end" fill="#1e1e1e" >-2.0</text>
<text x="72.00" y="724.54" font-size="13.8" text-anchor="end" fill="#1e1e1e" >-2.4</text>
<line x1="105.10" y1="719.80" x2="105.10" y2="717.80" stroke="#a8a8a8" stroke-width="0.8" />
<line x1="164.70" y1="719.80" x2="164.70" y2="717.80" stroke="#a8a8a8" stroke-width="0.8" />
<line x1="223.80" y1="719.80" x2="223.80" y2="717.80" stroke="#a8a8a8" stroke-width="0.8" />
<line x1="283.40" y1="719.80" x2="283.40" y2="717.80" stroke="#a8a8a8" stroke-width="0.8" />
<line x1="75.80" y1="652.00" x2="77.80" y2="652.00" stroke="#a8a8a8" stroke-width="0.8" />
<line x1="75.80" y1="674.60" x2="77.80" y2="674.60" stroke="#a8a8a8" stroke-width="0.8" />
<line x1="75.80" y1="697.20" x2="77.80" y2="697.20" stroke="#a8a8a8" stroke-width="0.8" />
<line x1="105.10" y1="634.50" x2="105.10" y2="659.40" stroke="#2f7768" stroke-width="1.6" />
<line x1="101.10" y1="634.50" x2="109.10" y2="634.50" stroke="#2f7768" stroke-width="1.6" />
<line x1="101.10" y1="659.40" x2="109.10" y2="659.40" stroke="#2f7768" stroke-width="1.6" />
<rect x="99.00" y="641.10" width="12.20" height="11.70" fill="#2f7768" />
<line x1="164.70" y1="683.30" x2="164.70" y2="707.90" stroke="#2f7768" stroke-width="1.6" />
<line x1="160.70" y1="683.30" x2="168.70" y2="683.30" stroke="#2f7768" stroke-width="1.6" />
<line x1="160.70" y1="707.90" x2="168.70" y2="707.90" stroke="#2f7768" stroke-width="1.6" />
<rect x="158.60" y="689.80" width="12.20" height="11.90" fill="#2f7768" />
<line x1="223.80" y1="662.90" x2="223.80" y2="694.40" stroke="#2f7768" stroke-width="1.6" />
<line x1="219.80" y1="662.90" x2="227.80" y2="662.90" stroke="#2f7768" stroke-width="1.6" />
<line x1="219.80" y1="694.40" x2="227.80" y2="694.40" stroke="#2f7768" stroke-width="1.6" />
<rect x="217.70" y="672.80" width="12.20" height="12.00" fill="#2f7768" />
<line x1="283.40" y1="676.50" x2="283.40" y2="707.60" stroke="#2f7768" stroke-width="1.6" />
<line x1="279.40" y1="676.50" x2="287.40" y2="676.50" stroke="#2f7768" stroke-width="1.6" />
<line x1="279.40" y1="707.60" x2="287.40" y2="707.60" stroke="#2f7768" stroke-width="1.6" />
<rect x="277.30" y="685.90" width="12.20" height="11.80" fill="#2f7768" />
<line x1="105.10" y1="611.40" x2="283.40" y2="611.40" stroke="#5a5a5a" stroke-width="1.1" />
<line x1="105.10" y1="611.40" x2="105.10" y2="616.00" stroke="#7a7a7a" stroke-width="1.3" />
<line x1="283.40" y1="611.40" x2="283.40" y2="653.50" stroke="#7a7a7a" stroke-width="1.3" />
<line x1="105.10" y1="623.50" x2="164.70" y2="623.50" stroke="#5a5a5a" stroke-width="1.1" />
<line x1="105.10" y1="623.50" x2="105.10" y2="627.50" stroke="#7a7a7a" stroke-width="1.3" />
<line x1="164.70" y1="623.50" x2="164.70" y2="653.80" stroke="#7a7a7a" stroke-width="1.3" />
<text x="125.10" y="626.65" font-size="17.5" font-weight="bold" textLength="16.00" lengthAdjust="spacingAndGlyphs" fill="#000" >**</text>
<text x="188.70" y="613.65" font-size="17.5" font-weight="bold" textLength="7.60" lengthAdjust="spacingAndGlyphs" fill="#000" >*</text>
<text x="133.10" y="591.50" font-size="13.8" font-weight="bold" textLength="112.80" lengthAdjust="spacingAndGlyphs" fill="#1e1e1e" >F = 2.96, P = 0.03</text>
<text x="0" y="0" font-size="13.2" fill="#1e1e1e" text-anchor="end" transform="translate(109.50 729.30) rotate(-50)">10-19</text>
<text x="0" y="0" font-size="13.2" fill="#1e1e1e" text-anchor="end" transform="translate(169.10 729.30) rotate(-50)">20-23</text>
<text x="0" y="0" font-size="13.2" fill="#1e1e1e" text-anchor="end" transform="translate(228.20 729.30) rotate(-50)">24-26</text>
<text x="0" y="0" font-size="13.2" fill="#1e1e1e" text-anchor="end" transform="translate(287.80 729.30) rotate(-50)">27-30</text>
<text x="116.60" y="774.30" font-size="13.8" font-weight="bold" textLength="105.00" lengthAdjust="spacingAndGlyphs" fill="#000" >MMSE quartiles</text>
<text x="131.00" y="787.90" font-size="13.3" textLength="76.60" lengthAdjust="spacingAndGlyphs" fill="#1e1e1e" >(AD patients)</text>
<text x="0" y="0" font-size="13.8" font-weight="bold" fill="#000" textLength="114.40" lengthAdjust="spacingAndGlyphs" transform="translate(18.50 728.70) rotate(-90)" >Neural excitability</text>
<text x="0" y="0" font-size="13.8" font-weight="normal" fill="#1e1e1e" textLength="150.90" lengthAdjust="spacingAndGlyphs" transform="translate(35.60 749.10) rotate(-90)" >(aperiodic spectral slope)</text>
<line x1="441.50" y1="630.40" x2="679.00" y2="630.40" stroke="#e6e6e6" stroke-width="0.8" />
<line x1="441.50" y1="660.10" x2="679.00" y2="660.10" stroke="#e6e6e6" stroke-width="0.8" />
<line x1="441.50" y1="689.90" x2="679.00" y2="689.90" stroke="#e6e6e6" stroke-width="0.8" />
<line x1="441.50" y1="630.10" x2="441.50" y2="720.10" stroke="#a8a8a8" stroke-width="1" />
<line x1="441.50" y1="719.60" x2="679.00" y2="719.60" stroke="#a8a8a8" stroke-width="1" />
<text x="437.70" y="635.24" font-size="13.8" text-anchor="end" fill="#1e1e1e" >0.72</text>
<text x="437.70" y="664.74" font-size="13.8" text-anchor="end" fill="#1e1e1e" >0.68</text>
<text x="437.70" y="694.64" font-size="13.8" text-anchor="end" fill="#1e1e1e" >0.64</text>
<text x="437.70" y="724.34" font-size="13.8" text-anchor="end" fill="#1e1e1e" >0.60</text>
<line x1="471.30" y1="719.60" x2="471.30" y2="717.60" stroke="#a8a8a8" stroke-width="0.8" />
<line x1="531.00" y1="719.60" x2="531.00" y2="717.60" stroke="#a8a8a8" stroke-width="0.8" />
<line x1="589.90" y1="719.60" x2="589.90" y2="717.60" stroke="#a8a8a8" stroke-width="0.8" />
<line x1="649.30" y1="719.60" x2="649.30" y2="717.60" stroke="#a8a8a8" stroke-width="0.8" />
<line x1="441.50" y1="660.10" x2="443.50" y2="660.10" stroke="#a8a8a8" stroke-width="0.8" />
<line x1="441.50" y1="689.90" x2="443.50" y2="689.90" stroke="#a8a8a8" stroke-width="0.8" />
<line x1="471.30" y1="629.80" x2="471.30" y2="652.60" stroke="#e5834e" stroke-width="1.6" />
<line x1="467.30" y1="629.80" x2="475.30" y2="629.80" stroke="#e5834e" stroke-width="1.6" />
<line x1="467.30" y1="652.60" x2="475.30" y2="652.60" stroke="#e5834e" stroke-width="1.6" />
<rect x="465.20" y="635.20" width="12.20" height="12.10" fill="#e5834e" />
<line x1="531.00" y1="674.30" x2="531.00" y2="697.20" stroke="#e5834e" stroke-width="1.6" />
<line x1="527.00" y1="674.30" x2="535.00" y2="674.30" stroke="#e5834e" stroke-width="1.6" />
<line x1="527.00" y1="697.20" x2="535.00" y2="697.20" stroke="#e5834e" stroke-width="1.6" />
<rect x="524.90" y="679.70" width="12.20" height="12.10" fill="#e5834e" />
<line x1="589.90" y1="651.30" x2="589.90" y2="680.50" stroke="#e5834e" stroke-width="1.6" />
<line x1="585.90" y1="651.30" x2="593.90" y2="651.30" stroke="#e5834e" stroke-width="1.6" />
<line x1="585.90" y1="680.50" x2="593.90" y2="680.50" stroke="#e5834e" stroke-width="1.6" />
<rect x="583.80" y="659.70" width="12.20" height="11.90" fill="#e5834e" />
<line x1="649.30" y1="685.30" x2="649.30" y2="713.40" stroke="#e5834e" stroke-width="1.6" />
<line x1="645.30" y1="685.30" x2="653.30" y2="685.30" stroke="#e5834e" stroke-width="1.6" />
<line x1="645.30" y1="713.40" x2="653.30" y2="713.40" stroke="#e5834e" stroke-width="1.6" />
<rect x="643.20" y="693.40" width="12.20" height="12.20" fill="#e5834e" />
<line x1="471.30" y1="611.50" x2="649.30" y2="611.50" stroke="#5a5a5a" stroke-width="1.1" />
<line x1="471.30" y1="611.50" x2="471.30" y2="615.10" stroke="#7a7a7a" stroke-width="1.3" />
<line x1="649.30" y1="611.50" x2="649.30" y2="653.50" stroke="#7a7a7a" stroke-width="1.3" />
<line x1="471.30" y1="623.30" x2="530.80" y2="623.30" stroke="#5a5a5a" stroke-width="1.1" />
<line x1="471.30" y1="623.30" x2="471.30" y2="627.10" stroke="#7a7a7a" stroke-width="1.3" />
<line x1="530.80" y1="623.30" x2="530.80" y2="654.00" stroke="#7a7a7a" stroke-width="1.3" />
<text x="491.00" y="626.55" font-size="17.5" font-weight="bold" textLength="16.40" lengthAdjust="spacingAndGlyphs" fill="#000" >**</text>
<text x="550.80" y="612.95" font-size="17.5" font-weight="bold" textLength="15.90" lengthAdjust="spacingAndGlyphs" fill="#000" >**</text>
<text x="501.40" y="591.50" font-size="13.8" font-weight="bold" textLength="110.50" lengthAdjust="spacingAndGlyphs" fill="#1e1e1e" >F = 4.12, P = 0.01</text>
<text x="0" y="0" font-size="13.2" fill="#1e1e1e" text-anchor="end" transform="translate(475.70 729.10) rotate(-50)">10-19</text>
<text x="0" y="0" font-size="13.2" fill="#1e1e1e" text-anchor="end" transform="translate(535.40 729.10) rotate(-50)">20-23</text>
<text x="0" y="0" font-size="13.2" fill="#1e1e1e" text-anchor="end" transform="translate(594.30 729.10) rotate(-50)">24-26</text>
<text x="0" y="0" font-size="13.2" fill="#1e1e1e" text-anchor="end" transform="translate(653.70 729.10) rotate(-50)">27-30</text>
<text x="486.20" y="774.50" font-size="13.8" font-weight="bold" textLength="106.20" lengthAdjust="spacingAndGlyphs" fill="#000" >MMSE quartiles</text>
<text x="500.30" y="787.70" font-size="13.3" textLength="77.10" lengthAdjust="spacingAndGlyphs" fill="#1e1e1e" >(AD patients)</text>
<text x="0" y="0" font-size="13.8" font-weight="bold" fill="#000" textLength="93.10" lengthAdjust="spacingAndGlyphs" transform="translate(378.50 717.00) rotate(-90)" >Neural fragility</text>
<text x="0" y="0" font-size="13.8" font-weight="normal" fill="#1e1e1e" textLength="153.20" lengthAdjust="spacingAndGlyphs" transform="translate(392.50 747.10) rotate(-90)" >(linear dynamic instability)</text>
</svg></body></html>
